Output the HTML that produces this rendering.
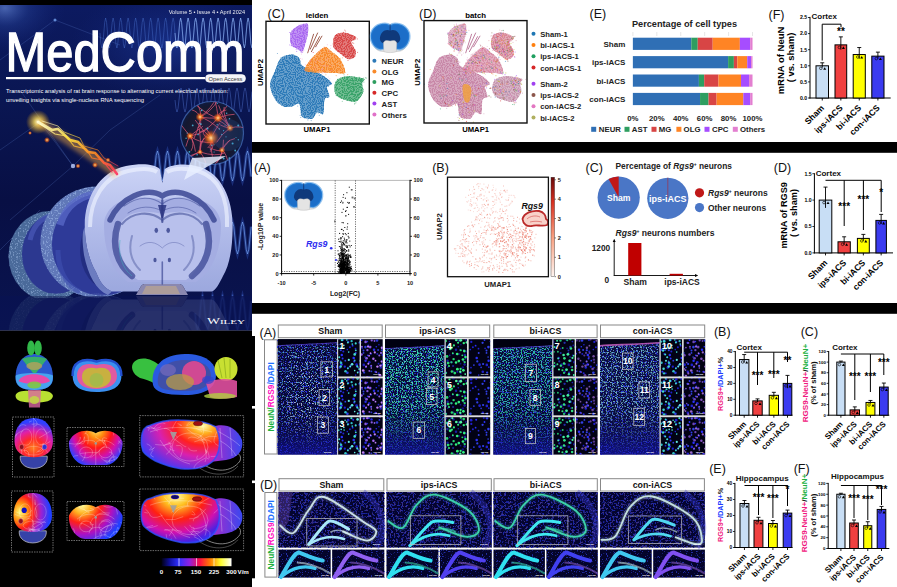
<!DOCTYPE html><html><head><meta charset="utf-8"><style>
*{margin:0;padding:0;box-sizing:border-box}
html,body{width:897px;height:587px;overflow:hidden;background:#fff;font-family:"Liberation Sans",sans-serif}
svg{position:absolute;left:0;top:0;overflow:hidden}
</style></head><body>
<svg width="897" height="587" viewBox="0 0 897 587" font-family="Liberation Sans, sans-serif">
<rect x="0" y="0" width="897" height="587" fill="#fff"/>
<rect x="0" y="0" width="252" height="5" fill="#000"/>
<defs>
<clipPath id="cvclip"><rect x="0" y="5" width="252" height="325.6"/></clipPath>
<linearGradient id="cvbg" x1="0" y1="0" x2="0" y2="1">
 <stop offset="0" stop-color="#0c1a60"/><stop offset="0.3" stop-color="#0a1652"/>
 <stop offset="0.6" stop-color="#080f44"/><stop offset="1" stop-color="#0a1450"/>
</linearGradient>
<radialGradient id="cvburst" cx="0" cy="0" r="1" gradientUnits="userSpaceOnUse" gradientTransform="translate(5,8) scale(60,45)">
 <stop offset="0" stop-color="#7aa0f0" stop-opacity="0.55"/><stop offset="0.4" stop-color="#3a60c0" stop-opacity="0.25"/><stop offset="1" stop-color="#1a3090" stop-opacity="0"/>
</radialGradient>
<radialGradient id="cvrt" cx="0" cy="0" r="1" gradientUnits="userSpaceOnUse" gradientTransform="translate(170,45) scale(100,55)">
 <stop offset="0" stop-color="#2a50c8" stop-opacity="0.4"/><stop offset="1" stop-color="#1a3090" stop-opacity="0"/>
</radialGradient>
<linearGradient id="brainG" x1="0" y1="0" x2="0" y2="1">
 <stop offset="0" stop-color="#ccd4f6"/><stop offset="0.5" stop-color="#b2bcea"/><stop offset="1" stop-color="#9ca8de"/>
</linearGradient>
<linearGradient id="slice2G" x1="0" y1="0" x2="1" y2="0">
 <stop offset="0" stop-color="#3848b0"/><stop offset="0.6" stop-color="#5a6ad0"/><stop offset="1" stop-color="#2a3a98"/>
</linearGradient>
<linearGradient id="boltG" x1="0" y1="0" x2="1" y2="1">
 <stop offset="0" stop-color="#fffbd0"/><stop offset="0.35" stop-color="#ffe040"/><stop offset="0.7" stop-color="#ff8020"/><stop offset="1" stop-color="#ff3060"/>
</linearGradient>
<radialGradient id="glowY" cx="0.5" cy="0.5" r="0.5">
 <stop offset="0" stop-color="#ffffe0" stop-opacity="1"/><stop offset="0.3" stop-color="#ffe060" stop-opacity="0.8"/><stop offset="1" stop-color="#ffb000" stop-opacity="0"/>
</radialGradient>
<radialGradient id="glowO" cx="0.5" cy="0.5" r="0.5">
 <stop offset="0" stop-color="#ffe0a0" stop-opacity="1"/><stop offset="0.4" stop-color="#ff8020" stop-opacity="0.8"/><stop offset="1" stop-color="#ff4000" stop-opacity="0"/>
</radialGradient>
<radialGradient id="neuG" cx="0.5" cy="0.5" r="0.5">
 <stop offset="0" stop-color="#2a2040"/><stop offset="0.85" stop-color="#141830"/><stop offset="1" stop-color="#101a40"/>
</radialGradient>
<clipPath id="neuclip"><circle cx="212" cy="133" r="31.5"/></clipPath>
</defs>
<g clip-path="url(#cvclip)">
<rect x="0" y="5" width="252" height="326" fill="url(#cvbg)"/>
<rect x="0" y="5" width="252" height="120" fill="url(#cvburst)"/>
<rect x="40" y="5" width="212" height="110" fill="url(#cvrt)"/>
<g stroke="#6a90e0" stroke-opacity="0.35" stroke-width="0.6" fill="none">
<line x1="0" y1="60" x2="55" y2="20"/>
<line x1="55" y1="20" x2="120" y2="45"/>
<line x1="0" y1="150" x2="40" y2="122"/>
<line x1="40" y1="122" x2="73" y2="166"/>
<line x1="73" y1="166" x2="10" y2="220"/>
<line x1="73" y1="166" x2="110" y2="130"/>
<line x1="110" y1="130" x2="160" y2="95"/>
<line x1="20" y1="90" x2="73" y2="166"/>
<line x1="0" y1="250" x2="40" y2="210"/>
</g>
<circle cx="73" cy="166" r="2.2" fill="#c0d0ff" opacity="0.8"/>
<circle cx="55" cy="20" r="1.5" fill="#80b0ff" opacity="0.7"/>
<polyline points="100.0,33.0 100.9,43.6 101.9,48.0 102.8,43.6 103.8,33.0 104.7,22.4 105.6,18.0 106.6,22.4 107.5,33.0 108.4,43.6 109.4,48.0 110.3,43.6 111.2,33.0 112.2,22.4 113.1,18.0 114.1,22.4 115.0,33.0 115.9,43.6 116.9,48.0 117.8,43.6 118.8,33.0 119.7,22.4 120.6,18.0 121.6,22.4 122.5,33.0 123.4,43.6 124.4,48.0 125.3,43.6 126.2,33.0 127.2,22.4 128.1,18.0 129.1,22.4 130.0,33.0 130.9,43.6 131.9,48.0 132.8,43.6 133.8,33.0 134.7,22.4 135.6,18.0 136.6,22.4 137.5,33.0 138.4,43.6 139.4,48.0 140.3,43.6 141.2,33.0 142.2,22.4 143.1,18.0 144.1,22.4 145.0,33.0 145.9,43.6 146.9,48.0 147.8,43.6 148.8,33.0 149.7,22.4 150.6,18.0 151.6,22.4 152.5,33.0 153.4,43.6 154.4,48.0 155.3,43.6 156.2,33.0 157.2,22.4 158.1,18.0 159.1,22.4 160.0,33.0 160.9,43.6 161.9,48.0 162.8,43.6 163.8,33.0 164.7,22.4 165.6,18.0 166.6,22.4 167.5,33.0 168.4,43.6 169.4,48.0 170.3,43.6 171.2,33.0 172.2,22.4 173.1,18.0 174.1,22.4 175.0,33.0 175.9,43.6 176.9,48.0 177.8,43.6 178.8,33.0 179.7,22.4 180.6,18.0 181.6,22.4 182.5,33.0 183.4,43.6 184.4,48.0 185.3,43.6 186.2,33.0 187.2,22.4 188.1,18.0 189.1,22.4 190.0,33.0 190.9,43.6 191.9,48.0 192.8,43.6 193.8,33.0 194.7,22.4 195.6,18.0 196.6,22.4 197.5,33.0 198.4,43.6 199.4,48.0 200.3,43.6 201.2,33.0 202.2,22.4 203.1,18.0 204.1,22.4 205.0,33.0 205.9,43.6 206.9,48.0 207.8,43.6 208.8,33.0 209.7,22.4 210.6,18.0 211.6,22.4 212.5,33.0 213.4,43.6 214.4,48.0 215.3,43.6 216.2,33.0 217.2,22.4 218.1,18.0 219.1,22.4 220.0,33.0 220.9,43.6 221.9,48.0 222.8,43.6 223.8,33.0 224.7,22.4 225.6,18.0 226.6,22.4 227.5,33.0 228.4,43.6 229.4,48.0 230.3,43.6 231.2,33.0 232.2,22.4 233.1,18.0 234.1,22.4 235.0,33.0 235.9,43.6 236.9,48.0 237.8,43.6 238.8,33.0 239.7,22.4 240.6,18.0 241.6,22.4 242.5,33.0 243.4,43.6 244.4,48.0 245.3,43.6 246.2,33.0 247.2,22.4 248.1,18.0 249.1,22.4 250.0,33.0 250.9,43.6 251.9,48.0" fill="none" stroke="#5a88e8" stroke-opacity="0.35" stroke-width="1.0"/>
<polyline points="175.0,33.0 175.9,43.6 176.9,48.0 177.8,43.6 178.8,33.0 179.7,22.4 180.6,18.0 181.6,22.4 182.5,33.0 183.4,43.6 184.4,48.0 185.3,43.6 186.2,33.0 187.2,22.4 188.1,18.0 189.1,22.4 190.0,33.0 190.9,43.6 191.9,48.0 192.8,43.6 193.8,33.0 194.7,22.4 195.6,18.0 196.6,22.4 197.5,33.0 198.4,43.6 199.4,48.0 200.3,43.6 201.2,33.0 202.2,22.4 203.1,18.0 204.1,22.4 205.0,33.0 205.9,43.6 206.9,48.0 207.8,43.6 208.8,33.0 209.7,22.4 210.6,18.0 211.6,22.4 212.5,33.0 213.4,43.6 214.4,48.0 215.3,43.6 216.2,33.0 217.2,22.4 218.1,18.0 219.1,22.4 220.0,33.0 220.9,43.6 221.9,48.0 222.8,43.6 223.8,33.0 224.7,22.4 225.6,18.0 226.6,22.4 227.5,33.0 228.4,43.6 229.4,48.0 230.3,43.6 231.2,33.0 232.2,22.4 233.1,18.0 234.1,22.4 235.0,33.0 235.9,43.6 236.9,48.0 237.8,43.6 238.8,33.0 239.7,22.4 240.6,18.0 241.6,22.4 242.5,33.0 243.4,43.6 244.4,48.0 245.3,43.6 246.2,33.0 247.2,22.4 248.1,18.0 249.1,22.4 250.0,33.0 250.9,43.6 251.9,48.0" fill="none" stroke="#a0c4ff" stroke-opacity="0.55" stroke-width="1.0"/>
<polyline points="175.0,100.0 176.0,108.5 177.0,112.0 178.0,108.5 179.0,100.0 180.0,91.5 181.0,88.0 182.0,91.5 183.0,100.0 184.0,108.5 185.0,112.0 186.0,108.5 187.0,100.0 188.0,91.5 189.0,88.0 190.0,91.5 191.0,100.0 192.0,108.5 193.0,112.0 194.0,108.5 195.0,100.0 196.0,91.5 197.0,88.0 198.0,91.5 199.0,100.0 200.0,108.5 201.0,112.0 202.0,108.5 203.0,100.0 204.0,91.5 205.0,88.0 206.0,91.5 207.0,100.0 208.0,108.5 209.0,112.0 210.0,108.5 211.0,100.0 212.0,91.5 213.0,88.0 214.0,91.5 215.0,100.0 216.0,108.5 217.0,112.0 218.0,108.5 219.0,100.0 220.0,91.5 221.0,88.0 222.0,91.5 223.0,100.0 224.0,108.5 225.0,112.0 226.0,108.5 227.0,100.0 228.0,91.5 229.0,88.0 230.0,91.5 231.0,100.0 232.0,108.5 233.0,112.0 234.0,108.5 235.0,100.0 236.0,91.5 237.0,88.0 238.0,91.5 239.0,100.0 240.0,108.5 241.0,112.0 242.0,108.5 243.0,100.0 244.0,91.5 245.0,88.0 246.0,91.5 247.0,100.0 248.0,108.5 249.0,112.0 250.0,108.5 251.0,100.0 252.0,91.5" fill="none" stroke="#5a80e0" stroke-opacity="0.4" stroke-width="1.0"/>
<polyline points="150.0,166.0 151.2,176.6 152.5,181.0 153.8,176.6 155.0,166.0 156.2,155.4 157.5,151.0 158.8,155.4 160.0,166.0 161.2,176.6 162.5,181.0 163.8,176.6 165.0,166.0 166.2,155.4 167.5,151.0 168.8,155.4 170.0,166.0 171.2,176.6 172.5,181.0 173.8,176.6 175.0,166.0 176.2,155.4 177.5,151.0 178.8,155.4 180.0,166.0 181.2,176.6 182.5,181.0 183.8,176.6 185.0,166.0 186.2,155.4 187.5,151.0 188.8,155.4 190.0,166.0 191.2,176.6 192.5,181.0 193.8,176.6 195.0,166.0 196.2,155.4 197.5,151.0 198.8,155.4 200.0,166.0 201.2,176.6 202.5,181.0 203.8,176.6 205.0,166.0 206.2,155.4 207.5,151.0 208.8,155.4 210.0,166.0 211.2,176.6 212.5,181.0 213.8,176.6 215.0,166.0 216.2,155.4 217.5,151.0 218.8,155.4 220.0,166.0 221.2,176.6 222.5,181.0 223.8,176.6 225.0,166.0 226.2,155.4 227.5,151.0 228.8,155.4 230.0,166.0 231.2,176.6 232.5,181.0 233.8,176.6 235.0,166.0 236.2,155.4 237.5,151.0 238.8,155.4 240.0,166.0 241.2,176.6 242.5,181.0 243.8,176.6 245.0,166.0 246.2,155.4 247.5,151.0 248.8,155.4 250.0,166.0 251.2,176.6" fill="none" stroke="#3a60d0" stroke-opacity="0.35" stroke-width="3.0"/>
<polyline points="150.0,166.0 151.2,176.6 152.5,181.0 153.8,176.6 155.0,166.0 156.2,155.4 157.5,151.0 158.8,155.4 160.0,166.0 161.2,176.6 162.5,181.0 163.8,176.6 165.0,166.0 166.2,155.4 167.5,151.0 168.8,155.4 170.0,166.0 171.2,176.6 172.5,181.0 173.8,176.6 175.0,166.0 176.2,155.4 177.5,151.0 178.8,155.4 180.0,166.0 181.2,176.6 182.5,181.0 183.8,176.6 185.0,166.0 186.2,155.4 187.5,151.0 188.8,155.4 190.0,166.0 191.2,176.6 192.5,181.0 193.8,176.6 195.0,166.0 196.2,155.4 197.5,151.0 198.8,155.4 200.0,166.0 201.2,176.6 202.5,181.0 203.8,176.6 205.0,166.0 206.2,155.4 207.5,151.0 208.8,155.4 210.0,166.0 211.2,176.6 212.5,181.0 213.8,176.6 215.0,166.0 216.2,155.4 217.5,151.0 218.8,155.4 220.0,166.0 221.2,176.6 222.5,181.0 223.8,176.6 225.0,166.0 226.2,155.4 227.5,151.0 228.8,155.4 230.0,166.0 231.2,176.6 232.5,181.0 233.8,176.6 235.0,166.0 236.2,155.4 237.5,151.0 238.8,155.4 240.0,166.0 241.2,176.6 242.5,181.0 243.8,176.6 245.0,166.0 246.2,155.4 247.5,151.0 248.8,155.4 250.0,166.0 251.2,176.6" fill="none" stroke="#80b0ff" stroke-opacity="0.6" stroke-width="1.0"/>
<polyline points="195.0,238.0 196.2,249.3 197.5,254.0 198.8,249.3 200.0,238.0 201.2,226.7 202.5,222.0 203.8,226.7 205.0,238.0 206.2,249.3 207.5,254.0 208.8,249.3 210.0,238.0 211.2,226.7 212.5,222.0 213.8,226.7 215.0,238.0 216.2,249.3 217.5,254.0 218.8,249.3 220.0,238.0 221.2,226.7 222.5,222.0 223.8,226.7 225.0,238.0 226.2,249.3 227.5,254.0 228.8,249.3 230.0,238.0 231.2,226.7 232.5,222.0 233.8,226.7 235.0,238.0 236.2,249.3 237.5,254.0 238.8,249.3 240.0,238.0 241.2,226.7 242.5,222.0 243.8,226.7 245.0,238.0 246.2,249.3 247.5,254.0 248.8,249.3 250.0,238.0 251.2,226.7" fill="none" stroke="#3a60d0" stroke-opacity="0.35" stroke-width="3.0"/>
<polyline points="195.0,238.0 196.2,249.3 197.5,254.0 198.8,249.3 200.0,238.0 201.2,226.7 202.5,222.0 203.8,226.7 205.0,238.0 206.2,249.3 207.5,254.0 208.8,249.3 210.0,238.0 211.2,226.7 212.5,222.0 213.8,226.7 215.0,238.0 216.2,249.3 217.5,254.0 218.8,249.3 220.0,238.0 221.2,226.7 222.5,222.0 223.8,226.7 225.0,238.0 226.2,249.3 227.5,254.0 228.8,249.3 230.0,238.0 231.2,226.7 232.5,222.0 233.8,226.7 235.0,238.0 236.2,249.3 237.5,254.0 238.8,249.3 240.0,238.0 241.2,226.7 242.5,222.0 243.8,226.7 245.0,238.0 246.2,249.3 247.5,254.0 248.8,249.3 250.0,238.0 251.2,226.7" fill="none" stroke="#80b0ff" stroke-opacity="0.6" stroke-width="1.0"/>
<polyline points="195.0,313.0 196.2,325.0 197.5,330.0 198.8,325.0 200.0,313.0 201.2,301.0 202.5,296.0 203.8,301.0 205.0,313.0 206.2,325.0 207.5,330.0 208.8,325.0 210.0,313.0 211.2,301.0 212.5,296.0 213.8,301.0 215.0,313.0 216.2,325.0 217.5,330.0 218.8,325.0 220.0,313.0 221.2,301.0 222.5,296.0 223.8,301.0 225.0,313.0 226.2,325.0 227.5,330.0 228.8,325.0 230.0,313.0 231.2,301.0 232.5,296.0 233.8,301.0 235.0,313.0 236.2,325.0 237.5,330.0 238.8,325.0 240.0,313.0 241.2,301.0 242.5,296.0 243.8,301.0 245.0,313.0 246.2,325.0 247.5,330.0 248.8,325.0 250.0,313.0 251.2,301.0" fill="none" stroke="#3a60d0" stroke-opacity="0.3" stroke-width="3.0"/>
<polyline points="195.0,313.0 196.2,325.0 197.5,330.0 198.8,325.0 200.0,313.0 201.2,301.0 202.5,296.0 203.8,301.0 205.0,313.0 206.2,325.0 207.5,330.0 208.8,325.0 210.0,313.0 211.2,301.0 212.5,296.0 213.8,301.0 215.0,313.0 216.2,325.0 217.5,330.0 218.8,325.0 220.0,313.0 221.2,301.0 222.5,296.0 223.8,301.0 225.0,313.0 226.2,325.0 227.5,330.0 228.8,325.0 230.0,313.0 231.2,301.0 232.5,296.0 233.8,301.0 235.0,313.0 236.2,325.0 237.5,330.0 238.8,325.0 240.0,313.0 241.2,301.0 242.5,296.0 243.8,301.0 245.0,313.0 246.2,325.0 247.5,330.0 248.8,325.0 250.0,313.0 251.2,301.0" fill="none" stroke="#5a88f0" stroke-opacity="0.5" stroke-width="1.1"/>
<rect x="0" y="296" width="252" height="35" fill="#0a1860" opacity="0.6"/>
<g id="brgrp">
<clipPath id="slclip"><rect x="0" y="150" width="252" height="148"/></clipPath><g clip-path="url(#slclip)">
<defs><filter id="glit" x="0" y="0" width="1" height="1" color-interpolation-filters="sRGB"><feTurbulence type="fractalNoise" baseFrequency="0.6" numOctaves="2" seed="61" result="n"/><feColorMatrix in="n" type="matrix" values="0 0 0 0 0.75  0 0 0 0 0.85  0 0 0 0 1  9 0 0 0 -5.0" result="a"/><feComposite in="a" in2="SourceGraphic" operator="in"/></filter></defs>
<ellipse cx="50" cy="256" rx="41.5" ry="45" fill="#4a6a9a"/>
<ellipse cx="50" cy="256" rx="41.5" ry="45" fill="#b0d0e0" filter="url(#glit)" opacity="0.35"/>
<ellipse cx="56" cy="254" rx="34" ry="40" fill="#2c3890"/>
<path d="M30,240 C34,222 46,214 58,216" stroke="#4a5ab8" stroke-width="5" fill="none" opacity="0.7"/>
<ellipse cx="97" cy="242" rx="56.5" ry="55.5" fill="#6078b8"/>
<ellipse cx="97" cy="242" rx="56.5" ry="55.5" fill="#c0d0f0" filter="url(#glit)" opacity="0.4"/>
<ellipse cx="102" cy="244.5" rx="50" ry="51" fill="#2e3a98"/>
<path d="M60,225 C66,204 82,194 100,194" stroke="#5a6ac8" stroke-width="7" fill="none" opacity="0.75"/>
<path d="M58,250 C58,270 66,285 80,292" stroke="#4050b0" stroke-width="5" fill="none" opacity="0.6"/>
<ellipse cx="110" cy="250" rx="30" ry="40" fill="#1a2270" opacity="0.55"/>
</g>
<path d="M84.8,227 C84,200 98,172 126,166 C142,163 154,164 159.8,169 L162.3,183 L164.8,169 C172,164 186,163 200,167 C222,174 233,200 232.6,227 C232.6,250 229,266 223,276 C219,284 216,290 212,291.5 L186,291.5 C184,288 183,285 180,284 L144,284 C141,285 140,288 138,291.5 L112,291.5 C104,288 100,282 96,272 C88,258 85,242 84.8,227 Z" fill="url(#brainG)"/>
<path d="M138,291.5 C140,288 141,285 144,284 L180,284 C183,285 184,288 186,291.5 L188,295 L136,295 Z" fill="#8a88b0"/>
<path d="M146,286 L176,286 L180,294 L142,294 Z" fill="#d8b880" opacity="0.45"/>
<path d="M84.8,227 C85,242 88,258 96,272 C100,282 104,288 112,291.5 L108,295 C96,290 88,275 84,255 C82,240 82,232 84.8,227 Z" fill="#8090d0" opacity="0.8"/>
<path d="M104,226 C104,205 126,192 162.3,200 C198,192 221,205 221,226 C221,250 212,272 196,282 L128,282 C112,272 104,250 104,226 Z" fill="#a4ade2"/>
<path d="M118,232 C120,214 138,208 162.3,214 C187,208 205,214 207,232 C207,252 198,272 186,280 L138,280 C126,272 118,252 118,232 Z" fill="#b8c0ec"/>
<path d="M90,227 C90,200 104,176 128,171 C142,168 152,169 157,172" stroke="#eef2ff" stroke-width="4" fill="none" opacity="0.65"/>
<path d="M167,172 C174,168 186,168 198,171 C220,178 228,200 227,227" stroke="#eef2ff" stroke-width="4" fill="none" opacity="0.65"/>
<g fill="none" stroke="#3c4894" stroke-linecap="round">
<path d="M110,220 C120,198 146,186 162.3,196 C178,186 204,198 214,220" stroke-width="5.5" opacity="0.85"/>
<path d="M122,224 C132,212 150,210 162.3,220 C174,210 192,212 202,224" stroke-width="2.2" opacity="0.55"/>
<path d="M124,206 C138,196 152,196 162.3,204 C172,196 186,196 200,206" stroke-width="1.2" opacity="0.55"/>
<path d="M128,213 C140,205 152,206 162.3,211 C172,206 184,205 196,213" stroke-width="1.0" opacity="0.5"/>
<path d="M118,224 C111,245 117,264 132,276" stroke-width="6.5" opacity="0.75"/>
<path d="M206,224 C213,245 207,264 192,276" stroke-width="6.5" opacity="0.75"/>
<path d="M132,236 C128,250 132,262 140,270 M192,236 C196,250 192,262 184,270" stroke-width="2" opacity="0.4"/>
<path d="M162.3,200 L162.3,222" stroke-width="2.2" opacity="0.8"/>
<path d="M162.3,262 L162.3,284" stroke-width="1.6" opacity="0.7"/>
<path d="M140,246 C148,240 156,242 162.3,248 C168,242 176,240 184,246" stroke-width="1" opacity="0.35"/>
</g>
<path d="M158,205 L166.5,205 L163,218 L161.5,218 Z" fill="#2a3480" opacity="0.85"/>
<g fill="#3a4690" opacity="0.85"><ellipse cx="156.3" cy="230.3" rx="1.8" ry="2.6"/><ellipse cx="168.2" cy="230.3" rx="1.8" ry="2.6"/><ellipse cx="155" cy="260" rx="1.6" ry="2.2"/><ellipse cx="169.4" cy="260" rx="1.6" ry="2.2"/></g>
<path d="M120,240 C118,255 122,268 132,276" stroke="#40b0c0" stroke-width="1" fill="none" opacity="0.5"/>
</g>
<g opacity="0.32"><use href="#brgrp" transform="translate(0,591) scale(1,-1)"/></g>
<rect x="0" y="296" width="252" height="35" fill="#081048" opacity="0.45"/>
<circle cx="38" cy="122" r="12" fill="url(#glowY)"/>
<defs><filter id="blur2" x="-20%" y="-20%" width="140%" height="140%"><feGaussianBlur stdDeviation="2.2"/></filter></defs>
<path d="M38,122 C60,135 80,148 117,174" stroke="#ffb040" stroke-width="9" fill="none" opacity="0.45" filter="url(#blur2)"/>
<g fill="none" stroke-linecap="round">
<path d="M38,122 L52,130 L58,129 L70,140 L78,142 L88,152 L95,153 L104,163 L110,165 L117,174" stroke="url(#boltG)" stroke-width="2.6" opacity="0.9"/>
<path d="M40,124 L55,134 L66,136 L74,146 L86,149 L92,158 L102,160 L112,172" stroke="url(#boltG)" stroke-width="1.2" opacity="0.8"/>
<path d="M42,121 L58,126 L64,132 L80,138 L84,146 L98,150 L104,158 L118,166" stroke="url(#boltG)" stroke-width="0.9" opacity="0.7"/>
</g>
<circle cx="47" cy="140" r="3" fill="url(#glowO)"/>
<circle cx="95" cy="165" r="3" fill="url(#glowO)"/>
<circle cx="108" cy="160" r="2.5" fill="url(#glowO)"/>
<circle cx="78" cy="166" r="2.5" fill="url(#glowO)"/>
<circle cx="30" cy="133" r="2" fill="url(#glowO)"/>
<circle cx="212" cy="133" r="31.5" fill="url(#neuG)"/>
<g clip-path="url(#neuclip)">
<g stroke="#e05878" stroke-opacity="0.8" stroke-width="0.9" fill="none">
<path d="M211.0,138.0 Q210.4,148.4 212.4,156.7"/>
<path d="M211.0,138.0 Q202.2,137.5 203.2,130.2"/>
<path d="M211.0,138.0 Q215.6,144.6 210.2,151.7"/>
<path d="M211.0,138.0 Q216.9,127.0 220.1,122.9"/>
<path d="M211.0,138.0 Q203.3,131.5 195.2,120.1"/>
<path d="M211.0,138.0 Q211.0,134.1 205.8,128.3"/>
<path d="M211.0,138.0 Q213.0,142.7 207.7,148.0"/>
<path d="M218.0,118.0 Q217.8,110.4 213.3,94.4"/>
<path d="M218.0,118.0 Q208.4,129.3 200.0,132.0"/>
<path d="M218.0,118.0 Q218.5,111.2 226.4,110.0"/>
<path d="M218.0,118.0 Q227.6,114.2 234.6,114.3"/>
<path d="M218.0,118.0 Q208.4,118.5 201.8,117.3"/>
<path d="M218.0,118.0 Q209.3,116.1 196.9,105.6"/>
<path d="M218.0,118.0 Q227.7,104.5 234.0,97.7"/>
<path d="M200.0,117.0 Q212.2,107.9 216.3,97.5"/>
<path d="M200.0,117.0 Q201.8,111.2 197.0,104.0"/>
<path d="M200.0,117.0 Q202.3,127.3 197.6,127.8"/>
<path d="M200.0,117.0 Q208.8,119.5 219.4,129.0"/>
<path d="M200.0,117.0 Q200.7,123.2 193.9,138.5"/>
<path d="M200.0,117.0 Q198.2,111.8 191.9,109.9"/>
<path d="M200.0,117.0 Q209.5,113.2 218.8,99.5"/>
<path d="M190.0,136.0 Q188.9,136.5 185.9,146.5"/>
<path d="M190.0,136.0 Q193.8,140.4 195.4,151.6"/>
<path d="M190.0,136.0 Q199.7,143.7 213.0,142.3"/>
<path d="M190.0,136.0 Q196.0,131.4 202.8,126.3"/>
<path d="M190.0,136.0 Q184.6,129.5 177.9,120.7"/>
<path d="M190.0,136.0 Q197.7,134.9 206.9,129.4"/>
<path d="M190.0,136.0 Q195.4,143.6 191.1,150.8"/>
<path d="M230.0,128.0 Q224.3,127.3 220.3,124.9"/>
<path d="M230.0,128.0 Q241.2,124.8 249.7,130.5"/>
<path d="M230.0,128.0 Q225.7,120.3 217.8,115.5"/>
<path d="M230.0,128.0 Q222.3,113.1 224.2,107.0"/>
<path d="M230.0,128.0 Q221.8,116.2 218.6,105.3"/>
<path d="M230.0,128.0 Q222.3,122.0 217.4,119.7"/>
<path d="M230.0,128.0 Q221.4,133.9 216.7,142.3"/>
<path d="M222.0,150.0 Q223.4,147.2 223.5,139.7"/>
<path d="M222.0,150.0 Q222.5,153.7 217.0,162.6"/>
<path d="M222.0,150.0 Q227.2,153.9 228.5,165.7"/>
<path d="M222.0,150.0 Q222.0,156.3 215.3,163.8"/>
<path d="M222.0,150.0 Q224.3,146.5 229.8,140.0"/>
<path d="M222.0,150.0 Q225.7,140.5 234.9,138.6"/>
<path d="M222.0,150.0 Q218.7,152.2 209.2,147.6"/>
<path d="M200.0,152.0 Q206.0,160.0 205.9,165.2"/>
<path d="M200.0,152.0 Q199.0,142.6 205.4,137.4"/>
<path d="M200.0,152.0 Q200.4,144.3 203.9,138.2"/>
<path d="M200.0,152.0 Q197.0,152.6 185.5,160.0"/>
<path d="M200.0,152.0 Q216.3,157.2 225.1,152.7"/>
<path d="M200.0,152.0 Q192.7,154.3 176.9,162.1"/>
<path d="M200.0,152.0 Q201.3,140.5 199.3,128.6"/>
</g>
<g fill="#50c8f0">
<circle cx="199.3" cy="123.5" r="0.6" opacity="0.8"/>
<circle cx="186.1" cy="138.3" r="0.7" opacity="0.8"/>
<circle cx="230.6" cy="105.7" r="1.0" opacity="0.8"/>
<circle cx="223.6" cy="158.4" r="1.0" opacity="0.8"/>
<circle cx="236.0" cy="137.6" r="0.5" opacity="0.8"/>
<circle cx="226.7" cy="113.3" r="0.7" opacity="0.8"/>
<circle cx="221.8" cy="134.5" r="0.7" opacity="0.8"/>
<circle cx="238.3" cy="139.7" r="0.7" opacity="0.8"/>
<circle cx="197.1" cy="154.7" r="0.8" opacity="0.8"/>
<circle cx="228.9" cy="124.1" r="0.6" opacity="0.8"/>
<circle cx="214.1" cy="152.0" r="0.6" opacity="0.8"/>
<circle cx="229.5" cy="158.3" r="1.0" opacity="0.8"/>
<circle cx="231.4" cy="103.5" r="0.9" opacity="0.8"/>
<circle cx="233.8" cy="106.0" r="0.7" opacity="0.8"/>
<circle cx="198.1" cy="134.6" r="0.8" opacity="0.8"/>
<circle cx="210.4" cy="149.6" r="0.5" opacity="0.8"/>
<circle cx="185.3" cy="110.6" r="0.6" opacity="0.8"/>
<circle cx="186.1" cy="161.5" r="1.0" opacity="0.8"/>
<circle cx="187.2" cy="133.1" r="0.7" opacity="0.8"/>
<circle cx="200.9" cy="124.1" r="0.9" opacity="0.8"/>
<circle cx="217.2" cy="124.7" r="0.6" opacity="0.8"/>
<circle cx="201.7" cy="110.4" r="0.8" opacity="0.8"/>
<circle cx="225.0" cy="125.8" r="0.5" opacity="0.8"/>
<circle cx="192.7" cy="125.4" r="0.9" opacity="0.8"/>
<circle cx="229.0" cy="125.8" r="1.0" opacity="0.8"/>
<circle cx="219.4" cy="128.9" r="0.7" opacity="0.8"/>
<circle cx="211.8" cy="145.2" r="0.8" opacity="0.8"/>
<circle cx="223.6" cy="130.7" r="0.6" opacity="0.8"/>
<circle cx="214.2" cy="144.7" r="0.5" opacity="0.8"/>
<circle cx="207.5" cy="128.6" r="1.0" opacity="0.8"/>
<circle cx="238.2" cy="125.5" r="1.0" opacity="0.8"/>
<circle cx="229.5" cy="118.7" r="0.8" opacity="0.8"/>
<circle cx="189.4" cy="151.8" r="0.9" opacity="0.8"/>
<circle cx="235.2" cy="150.5" r="0.9" opacity="0.8"/>
<circle cx="226.0" cy="136.8" r="0.6" opacity="0.8"/>
<circle cx="217.3" cy="103.3" r="0.6" opacity="0.8"/>
<circle cx="228.5" cy="105.7" r="0.6" opacity="0.8"/>
<circle cx="188.0" cy="155.8" r="0.6" opacity="0.8"/>
<circle cx="183.4" cy="153.5" r="0.6" opacity="0.8"/>
<circle cx="232.6" cy="143.4" r="1.0" opacity="0.8"/>
</g>
<circle cx="211" cy="138" r="8" fill="url(#glowO)"/>
<circle cx="218" cy="118" r="5" fill="url(#glowO)"/>
<circle cx="200" cy="117" r="4.5" fill="url(#glowO)"/>
<circle cx="190" cy="136" r="4" fill="url(#glowO)"/>
<circle cx="230" cy="128" r="4" fill="url(#glowO)"/>
<circle cx="222" cy="150" r="3.5" fill="url(#glowO)"/>
<circle cx="200" cy="152" r="3" fill="url(#glowO)"/>
<circle cx="228" cy="135" r="16" fill="#2a70c0" opacity="0.18"/>
</g>
<circle cx="212" cy="133" r="31.5" fill="none" stroke="#5080d0" stroke-width="1.2" opacity="0.6"/>
<path d="M192,158 L226,156 L184,180 Z" fill="#e8eeff" opacity="0.85"/>
<text x="245" y="14.2" font-size="5.6" fill="#fff" text-anchor="end" opacity="0.9">Volume 5 • Issue 4 • April 2024</text>
<text x="5.5" y="71.2" font-size="56" fill="#fff" stroke="#fff" stroke-width="1.3" textLength="239" lengthAdjust="spacingAndGlyphs">MedComm</text>
<rect x="6" y="77" width="199" height="2.2" fill="#fff"/>
<rect x="205.5" y="74.6" width="40" height="7.6" rx="3.8" fill="#f4f4f8" stroke="#fff" stroke-width="0.6"/>
<text x="225.5" y="80.6" font-size="6.2" fill="#333" text-anchor="middle" textLength="34" lengthAdjust="spacingAndGlyphs">Open Access</text>
<text x="6" y="93" font-size="6" fill="#fff" textLength="222" lengthAdjust="spacingAndGlyphs">Transcriptomic analysis of rat brain response to alternating current electrical stimulation:</text>
<text x="6" y="101.5" font-size="6" fill="#fff" textLength="138" lengthAdjust="spacingAndGlyphs">unveiling insights via single-nucleus RNA sequencing</text>
<text x="207" y="323.5" font-size="8.5" fill="#fff" font-family="Liberation Serif, serif" textLength="38" lengthAdjust="spacingAndGlyphs">W<tspan font-size="6.8">ILEY</tspan></text>
</g>
<rect x="0" y="330.6" width="252" height="256.4" fill="#000"/>
<rect x="251" y="336" width="4" height="242.3" fill="#000"/>
<rect x="252" y="406" width="3" height="2.6" fill="#fff"/>
<rect x="252" y="480.5" width="3" height="2.6" fill="#fff"/>
<defs>
<radialGradient id="hm_top2" cx="0" cy="0" r="1" gradientUnits="userSpaceOnUse" gradientTransform="translate(33,448) scale(30,26)">
 <stop offset="0" stop-color="#ff8020"/><stop offset="0.35" stop-color="#ff2828"/><stop offset="0.65" stop-color="#e020a8"/><stop offset="0.88" stop-color="#7030e0"/><stop offset="1" stop-color="#3040ff"/>
</radialGradient>
<radialGradient id="hm_cor2" cx="0" cy="0" r="1" gradientUnits="userSpaceOnUse" gradientTransform="translate(96,428) scale(32,40)">
 <stop offset="0" stop-color="#ffff80"/><stop offset="0.25" stop-color="#ff9010"/><stop offset="0.5" stop-color="#ff1818"/><stop offset="0.75" stop-color="#d010b0"/><stop offset="1" stop-color="#3040ff"/>
</radialGradient>
<radialGradient id="hm_sag2" cx="0" cy="0" r="1" gradientUnits="userSpaceOnUse" gradientTransform="translate(203,426) scale(72,50)">
 <stop offset="0" stop-color="#ffffb0"/><stop offset="0.15" stop-color="#ffb020"/><stop offset="0.38" stop-color="#ff2020"/><stop offset="0.62" stop-color="#d820b0"/><stop offset="0.85" stop-color="#7030e0"/><stop offset="1" stop-color="#3040ff"/>
</radialGradient>
<radialGradient id="hm_top3" cx="0" cy="0" r="1" gradientUnits="userSpaceOnUse" gradientTransform="translate(20,512) scale(30,36)">
 <stop offset="0" stop-color="#ffff70"/><stop offset="0.25" stop-color="#ff9010"/><stop offset="0.45" stop-color="#ff2018"/><stop offset="0.7" stop-color="#a020d0"/><stop offset="1" stop-color="#2040ff"/>
</radialGradient>
<radialGradient id="hm_cor3" cx="0" cy="0" r="1" gradientUnits="userSpaceOnUse" gradientTransform="translate(82,505) scale(42,40)">
 <stop offset="0" stop-color="#ffffa0"/><stop offset="0.22" stop-color="#ffb020"/><stop offset="0.45" stop-color="#ff2018"/><stop offset="0.72" stop-color="#b010c0"/><stop offset="1" stop-color="#2040ff"/>
</radialGradient>
<radialGradient id="hm_sag3" cx="0" cy="0" r="1" gradientUnits="userSpaceOnUse" gradientTransform="translate(176,496) scale(62,52)">
 <stop offset="0" stop-color="#ffffa0"/><stop offset="0.2" stop-color="#ffc020"/><stop offset="0.45" stop-color="#ff2010"/><stop offset="0.7" stop-color="#d010b0"/><stop offset="0.88" stop-color="#5020e0"/><stop offset="1" stop-color="#2040ff"/>
</radialGradient>
<linearGradient id="cereb" x1="0" y1="0" x2="1" y2="0"><stop offset="0" stop-color="#b028c8"/><stop offset="1" stop-color="#3848f0"/></linearGradient>
<linearGradient id="cbar" x1="0" y1="0" x2="1" y2="0">
 <stop offset="0" stop-color="#000010"/><stop offset="0.12" stop-color="#1010a0"/><stop offset="0.25" stop-color="#3030ff"/><stop offset="0.4" stop-color="#9020e0"/><stop offset="0.55" stop-color="#ff1040"/><stop offset="0.7" stop-color="#ff8000"/><stop offset="0.85" stop-color="#ffff30"/><stop offset="1" stop-color="#ffffff"/>
</linearGradient>
</defs>
<defs><filter id="soft" x="-10%" y="-10%" width="120%" height="120%"><feGaussianBlur stdDeviation="0.7"/></filter></defs>
<g filter="url(#soft)">
<path d="M34.3,354 C46,354 53,364 53,378 C53,386 47,390 34.3,390 C21,390 15.5,386 15.5,378 C15.5,364 22.5,354 34.3,354 Z" fill="#2a58d0"/>
<path d="M15.6,376 C16,372 52.6,372 53,376 C53,386 47,390 34.3,390 C21,390 15.5,386 15.6,376 Z" fill="#48a8f0" opacity="0.95"/>
<path d="M22,359 C28,356 41,356 47,359 L36,373 L33,373 Z" fill="#38b860" opacity="0.9"/>
<ellipse cx="31" cy="348" rx="3.8" ry="7.5" fill="#30b848"/><ellipse cx="38" cy="348" rx="3.8" ry="7.5" fill="#30b848"/>
<ellipse cx="34.3" cy="366" rx="8" ry="4" fill="#c8a058" opacity="0.7"/>
<path d="M18.5,381 C22,372 46,372 50,381 C46,385 24,385 18.5,381 Z" fill="#e84aa8"/>
<ellipse cx="34.3" cy="385" rx="7" ry="3.5" fill="#80c840" opacity="0.9"/>
<path d="M15.5,396 C16,391 24,390.5 34.3,391 C44,390.5 52,391 53,396 C52,401 46,402.5 34.3,402.5 C22,402.5 16,401 15.5,396 Z" fill="#b8e030"/>
<path d="M28,390 L41,390 L40,407.5 L29,407.5 Z" fill="#d868a0" opacity="0.8"/>
<ellipse cx="34.3" cy="400" rx="5" ry="4" fill="#c0e040" opacity="0.8"/>
</g>
<g filter="url(#soft)">
<path d="M72.6,376 C72,362 82,357.5 96.5,361.5 C111,357.5 121.5,362 121.4,376 C121.4,387 112,392 96.5,392 C81,392 72.6,387 72.6,376 Z" fill="#3a90f0"/>
<path d="M72.6,376 C72,362 82,357.5 96.5,361.5 C111,357.5 121.5,362 121.4,376" fill="none" stroke="#2050d0" stroke-width="2.5"/>
<path d="M77,376 C77,365 86,362 96.5,365 C107,362 117,365 117,376 C117,385 108,389 96.5,389 C85,389 77,385 77,376 Z" fill="#e05aa0"/>
<path d="M82,377 C82,369 89,366.5 96.5,368.5 C104,366.5 111,369 111,377 C111,384 104,388 96.5,388 C89,388 82,384 82,377 Z" fill="#c8b040"/>
<ellipse cx="96.5" cy="380" rx="7" ry="7" fill="#90c050" opacity="0.6"/>
</g>
<g filter="url(#soft)">
<path d="M134,362 C140,356 152,358 160,366 C166,372 172,382 176,392 L170,394 C160,386 150,380 140,378 C132,374 130,366 134,362 Z" fill="#38c040"/>
<path d="M153,385 C150,368 162,354 185,354 C205,354 216,362 216,375 C216,388 205,395 185,395 C165,395 155,392 153,385 Z" fill="#2a5ae0"/>
<path d="M158,384 C156,370 166,360 185,360 C202,360 211,366 211,376 C211,386 202,391 185,391 C167,391 159,389 158,384 Z" fill="#4050a8"/>
<circle cx="194" cy="373" r="12" fill="#e04890" opacity="0.9"/>
<ellipse cx="180" cy="382" rx="14" ry="8" fill="#c0a040" opacity="0.7"/>
<ellipse cx="168" cy="370" rx="8" ry="6" fill="#8070c0" opacity="0.6"/>
<ellipse cx="226" cy="369" rx="11.5" ry="12" fill="#c8e030"/>
<path d="M218,360 L222,378 M224,358 L226,378 M230,359 L230,378" stroke="#90b020" stroke-width="0.8"/>
<path d="M206,383 C215,378 230,378 237,381 L237,397 C228,399 215,399 210,397 Z" fill="#e050a0" opacity="0.9"/>
<ellipse cx="220" cy="396" rx="16" ry="3" fill="#b0d040" opacity="0.8"/>
<ellipse cx="208" cy="380" rx="6" ry="4" fill="#3040d0" opacity="0.7"/>
</g>
<rect x="12.5" y="417" width="41.5" height="60" fill="none" stroke="#9a9a9a" stroke-width="0.7" stroke-dasharray="1.5,1"/>
<path d="M20.275,456.15 C18.35,472.5 49.15,472.5 47.225,456.15 Z" fill="#4858e0" fill-opacity="0.75" stroke="#d0d0d0" stroke-width="0.7"/>
<path d="M33.75,418 C22.2,418 14.5,426.175 14.5,440.89 C14.5,451.79 22.2,457.24 33.75,457.24 C45.3,457.24 53,451.79 53,440.89 C53,426.175 45.3,418 33.75,418 Z" fill="url(#hm_top2)"/>
<clipPath id="atl1"><path d="M33.75,418 C22.2,418 14.5,426.175 14.5,440.89 C14.5,451.79 22.2,457.24 33.75,457.24 C45.3,457.24 53,451.79 53,440.89 C53,426.175 45.3,418 33.75,418 Z"/></clipPath><g clip-path="url(#atl1)" fill="none" stroke="#ffffff" stroke-width="0.45" stroke-opacity="0.55"><path d="M37.7,419.5 Q42.2,416.1 31.6,410.6"/><path d="M37.8,451.3 Q44.4,452.5 43.2,442.8"/><path d="M15.2,466.3 Q14.6,467.1 12.0,461.5"/><path d="M50.2,423.3 Q44.5,419.2 46.2,419.2"/><path d="M26.2,425.6 Q21.2,423.1 19.1,427.2"/><path d="M46.6,433.1 Q41.6,421.5 31.7,424.3"/><path d="M34.0,426.4 Q40.8,424.9 33.0,417.9"/><path d="M36.5,452.4 Q43.8,448.1 43.1,443.4"/><path d="M46.0,450.1 Q45.6,450.5 51.9,456.6"/><path d="M20.3,458.8 Q11.9,459.6 8.1,452.3"/><path d="M30.1,472.2 Q25.5,462.0 32.3,467.4"/><path d="M23.2,451.6 Q21.7,449.1 19.1,450.0"/><path d="M19.8,419.7 Q19.9,411.8 12.9,412.9"/><path d="M40.3,444.4 Q45.1,445.8 50.3,441.4"/><path d="M31.8,421.0 Q28.5,421.6 29.5,422.4"/><path d="M51.4,419.0 Q49.1,411.3 38.9,415.8"/><path d="M24.7,460.3 Q22.4,459.1 26.8,470.3"/><path d="M16.5,433.8 Q18.5,433.4 9.8,444.8"/><path d="M23.6,450.5 Q30.9,448.9 28.4,461.6"/><path d="M19.7,455.6 Q22.8,457.1 21.2,448.3"/><path d="M23.4,430.4 Q14.2,433.9 12.6,440.3"/><path d="M38.9,438.0 Q45.4,434.6 53.9,428.8"/></g>
<g fill="none" stroke="#fff" stroke-opacity="0.45" stroke-width="0.5"><path d="M33.75,418 L33.75,457.24"/><ellipse cx="26.05" cy="437.075" rx="5.7749999999999995" ry="8.174999999999999"/><ellipse cx="41.45" cy="437.075" rx="5.7749999999999995" ry="8.174999999999999"/><ellipse cx="33.75" cy="450.7" rx="9.625" ry="4.36"/></g>
<ellipse cx="21.6" cy="447" rx="2.3" ry="2.6" fill="#901020" stroke="#f0a0a0" stroke-width="0.4"/><ellipse cx="44.6" cy="447" rx="2.3" ry="2.6" fill="#3030d0" stroke="#a0a0ff" stroke-width="0.4"/>
<rect x="67" y="427.5" width="57" height="39.0" fill="none" stroke="#9a9a9a" stroke-width="0.7" stroke-dasharray="1.5,1"/>
<path d="M95.75,433.32 C90.4,429 74.35,429 69,441.6 C68,454.2 77.025,465 85.05,465 L106.45,465 C114.475,465 123.5,454.2 122.5,441.6 C117.15,429 101.1,429 95.75,433.32 Z" fill="url(#hm_cor2)"/>
<clipPath id="atl2"><path d="M95.75,433.32 C90.4,429 74.35,429 69,441.6 C68,454.2 77.025,465 85.05,465 L106.45,465 C114.475,465 123.5,454.2 122.5,441.6 C117.15,429 101.1,429 95.75,433.32 Z"/></clipPath><g clip-path="url(#atl2)" fill="none" stroke="#ffffff" stroke-width="0.45" stroke-opacity="0.55"><path d="M85.1,433.3 Q89.9,433.3 87.7,444.3"/><path d="M108.8,452.2 Q113.8,451.0 114.3,460.6"/><path d="M100.8,457.5 Q108.8,465.1 106.7,461.2"/><path d="M113.4,456.0 Q108.5,458.0 109.7,463.0"/><path d="M118.0,440.7 Q123.6,446.4 127.9,448.1"/><path d="M118.0,443.9 Q123.9,434.3 128.7,440.0"/><path d="M104.4,460.4 Q111.4,463.6 122.4,454.2"/><path d="M74.9,446.9 Q83.8,435.0 79.1,438.1"/><path d="M84.5,434.2 Q94.0,422.0 97.4,423.7"/><path d="M117.3,457.4 Q112.1,454.7 107.1,463.5"/><path d="M89.6,432.3 Q94.0,429.8 107.5,423.4"/><path d="M113.7,435.4 Q112.0,428.0 121.1,435.3"/><path d="M104.1,444.8 Q99.6,435.2 107.1,438.5"/><path d="M79.0,443.4 Q86.1,445.9 84.6,437.0"/><path d="M78.1,455.5 Q69.7,455.1 72.4,464.9"/><path d="M105.7,445.6 Q104.1,437.0 104.4,442.2"/><path d="M82.4,461.0 Q85.4,458.0 85.6,452.3"/><path d="M97.7,452.7 Q88.8,452.0 80.4,453.5"/><path d="M106.7,447.9 Q107.2,443.6 95.1,436.9"/><path d="M84.5,436.5 Q83.7,446.6 67.7,443.3"/><path d="M120.5,458.7 Q128.1,448.6 136.8,448.1"/><path d="M77.8,431.0 Q70.5,422.8 65.9,429.5"/><path d="M118.8,447.9 Q119.7,456.6 125.5,457.0"/><path d="M90.2,457.3 Q91.3,458.2 105.2,445.5"/></g>
<g fill="none" stroke="#fff" stroke-opacity="0.5" stroke-width="0.5"><path d="M77.025,445.2 C85.05,438.0 95.75,439.8 95.75,443.4 C95.75,439.8 106.45,438.0 114.475,445.2"/><path d="M95.75,443.4 L95.75,465"/><ellipse cx="86.12" cy="452.4" rx="6.42" ry="5.3999999999999995"/><ellipse cx="105.38" cy="452.4" rx="6.42" ry="5.3999999999999995"/></g>
<circle cx="95.75" cy="443.4" r="1.2" fill="#90a0a0"/>
<rect x="139.7" y="415.6" width="103.9" height="61.299999999999955" fill="none" stroke="#9a9a9a" stroke-width="0.7" stroke-dasharray="1.5,1"/>
<path d="M200.0,462.0 C215.0,474.0 232.0,472.0 240.0,461.0 C242.0,455.0 238.0,452.0 232.0,452.0" fill="none" stroke="#b8b8b8" stroke-width="0.7"/>
<path d="M196.0,465.0 C210.0,478.0 230.0,476.0 238.0,466.0" fill="none" stroke="#909090" stroke-width="0.5"/>
<path d="M212.0,427.0 C222.0,423.0 236.0,425.0 242.0,440.0 C244.0,450.0 238.0,458.0 226.0,460.0 L210.0,462.0 Z" fill="url(#cereb)"/>
<g fill="none" stroke="#fff" stroke-opacity="0.55" stroke-width="0.5"><path d="M216.0,430.0 C226.0,436.0 234.0,440.0 240.0,446.0"/><path d="M214.0,438.0 C224.0,442.0 232.0,448.0 236.0,456.0"/><path d="M220.0,428.0 L222.0,458.0"/><path d="M230.0,428.0 L232.0,456.0"/></g>
<path d="M141.5,438.0 C142.0,430.0 146.0,426.0 150.4,425.3 C160.0,421.0 172.0,420.0 181.0,420.2 C195.0,420.0 208.0,422.0 216.0,427.0 C222.0,440.0 220.0,455.0 212.0,462.0 C205.0,468.0 195.0,470.0 181.0,468.7 C170.0,467.0 162.0,464.0 155.5,461.0 C148.0,457.0 142.8,452.0 142.8,450.8 C141.0,446.0 141.0,441.0 141.5,438.0 Z" fill="url(#hm_sag2)"/>
<clipPath id="atl3"><path d="M141.5,438.0 C142.0,430.0 146.0,426.0 150.4,425.3 C160.0,421.0 172.0,420.0 181.0,420.2 C195.0,420.0 208.0,422.0 216.0,427.0 C222.0,440.0 220.0,455.0 212.0,462.0 C205.0,468.0 195.0,470.0 181.0,468.7 C170.0,467.0 162.0,464.0 155.5,461.0 C148.0,457.0 142.8,452.0 142.8,450.8 C141.0,446.0 141.0,441.0 141.5,438.0 Z"/></clipPath><g clip-path="url(#atl3)" fill="none" stroke="#ffffff" stroke-width="0.45" stroke-opacity="0.55"><path d="M206.5,457.9 Q211.3,461.8 207.7,451.2"/><path d="M168.7,441.9 Q168.9,445.5 173.2,438.6"/><path d="M153.3,429.0 Q159.4,420.6 165.3,423.6"/><path d="M153.2,450.1 Q148.0,455.6 153.7,457.0"/><path d="M193.8,469.3 Q193.3,463.8 205.3,458.1"/><path d="M148.4,430.7 Q151.4,425.5 142.9,426.9"/><path d="M144.4,427.1 Q158.7,429.8 160.9,426.5"/><path d="M173.9,438.7 Q187.4,449.1 185.9,446.3"/><path d="M172.5,428.4 Q172.8,426.4 177.2,419.9"/><path d="M163.4,445.8 Q172.0,440.5 171.1,447.5"/><path d="M180.4,456.9 Q186.1,443.6 176.2,445.6"/><path d="M224.7,441.6 Q222.9,440.6 232.4,443.6"/><path d="M191.8,423.0 Q182.8,428.7 189.7,421.9"/><path d="M214.8,443.4 Q227.4,452.7 226.1,446.9"/><path d="M211.6,442.1 Q206.6,437.3 194.3,441.8"/><path d="M197.8,455.5 Q195.6,459.2 197.6,458.7"/><path d="M165.3,420.1 Q168.2,414.9 168.3,421.7"/><path d="M196.0,422.1 Q194.4,428.5 193.9,426.6"/><path d="M237.1,424.0 Q239.8,426.3 245.9,424.5"/><path d="M179.6,425.2 Q184.7,426.4 177.6,423.5"/><path d="M210.7,456.5 Q222.4,454.7 218.6,464.8"/><path d="M185.6,427.7 Q197.0,426.2 202.1,432.2"/><path d="M169.9,445.6 Q173.3,449.0 166.2,454.3"/><path d="M146.7,443.8 Q154.8,447.0 149.1,450.1"/><path d="M214.0,425.6 Q222.6,422.0 231.3,432.9"/><path d="M205.1,443.1 Q193.6,434.1 187.9,438.3"/><path d="M215.1,443.2 Q212.1,442.4 216.8,431.6"/><path d="M234.9,437.7 Q228.7,428.9 230.8,428.2"/><path d="M158.0,431.1 Q159.6,432.3 145.7,423.6"/><path d="M236.2,436.7 Q233.5,425.1 238.9,426.3"/><path d="M203.1,438.8 Q209.0,434.9 216.7,436.6"/><path d="M151.9,449.8 Q157.6,445.2 150.6,450.3"/><path d="M145.4,466.3 Q138.7,453.6 135.3,456.9"/><path d="M231.4,431.5 Q232.7,434.0 228.0,431.4"/><path d="M177.5,468.8 Q169.7,477.4 177.7,473.9"/><path d="M219.8,448.8 Q223.9,436.2 218.6,438.5"/><path d="M174.6,450.8 Q167.8,448.8 170.2,448.4"/><path d="M190.2,470.0 Q199.2,467.2 204.4,465.9"/><path d="M238.4,424.6 Q230.6,431.7 229.9,423.6"/><path d="M205.2,448.8 Q206.5,457.3 206.5,449.8"/><path d="M197.0,450.7 Q189.8,451.9 188.4,447.6"/><path d="M204.4,440.6 Q193.9,434.7 187.3,429.3"/><path d="M164.1,428.5 Q166.8,426.4 177.7,437.3"/><path d="M171.8,443.2 Q164.3,446.7 155.2,444.5"/><path d="M202.7,425.6 Q206.3,434.9 197.9,437.6"/></g>
<path d="M141.5,438.0 C142.0,430.0 146.0,426.0 150.4,425.3 C160.0,421.0 172.0,420.0 181.0,420.2 C195.0,420.0 208.0,422.0 216.0,427.0 C222.0,440.0 220.0,455.0 212.0,462.0 C205.0,468.0 195.0,470.0 181.0,468.7 C170.0,467.0 162.0,464.0 155.5,461.0 C148.0,457.0 142.8,452.0 142.8,450.8 C141.0,446.0 141.0,441.0 141.5,438.0 Z" fill="none" stroke="#3050ff" stroke-width="1.6" opacity="0.8"/>
<g fill="none" stroke="#fff" stroke-opacity="0.5" stroke-width="0.5"><ellipse cx="190.0" cy="447.0" rx="18.0" ry="14.0"/><path d="M150.0,432.0 C165.0,426.0 190.0,426.0 212.0,432.0"/><path d="M160.0,440.0 C168.0,452.0 175.0,460.0 190.0,464.0"/><path d="M200.0,435.0 C205.0,445.0 208.0,455.0 205.0,462.0"/></g>
<path d="M170.0,432.0 L177.0,432.0 L173.4,440.0 Z" fill="#a0a0a0" opacity="0.9"/>
<ellipse cx="198" cy="423.5" rx="4.5" ry="2.2" fill="#a01010" stroke="#400" stroke-width="0.5"/>
<rect x="11.5" y="491" width="41.5" height="61" fill="none" stroke="#9a9a9a" stroke-width="0.7" stroke-dasharray="1.5,1"/>
<path d="M19.275,530.8 C17.35,547 48.15,547 46.225,530.8 Z" fill="#4858e0" fill-opacity="0.75" stroke="#d0d0d0" stroke-width="0.7"/>
<path d="M32.75,493 C21.2,493 13.5,501.1 13.5,515.68 C13.5,526.48 21.2,531.88 32.75,531.88 C44.3,531.88 52,526.48 52,515.68 C52,501.1 44.3,493 32.75,493 Z" fill="url(#hm_top3)"/>
<clipPath id="atl4"><path d="M32.75,493 C21.2,493 13.5,501.1 13.5,515.68 C13.5,526.48 21.2,531.88 32.75,531.88 C44.3,531.88 52,526.48 52,515.68 C52,501.1 44.3,493 32.75,493 Z"/></clipPath><g clip-path="url(#atl4)" fill="none" stroke="#ffffff" stroke-width="0.45" stroke-opacity="0.55"><path d="M47.8,535.6 Q54.2,541.3 55.7,546.8"/><path d="M30.5,529.2 Q44.7,537.6 48.2,534.1"/><path d="M39.5,530.5 Q28.1,528.1 26.5,534.0"/><path d="M46.0,538.3 Q37.7,530.3 29.2,528.0"/><path d="M31.6,515.0 Q26.2,519.4 14.7,514.4"/><path d="M15.6,511.7 Q27.9,518.2 31.8,510.1"/><path d="M47.2,531.7 Q40.6,531.7 33.2,535.2"/><path d="M21.7,496.7 Q13.0,493.9 10.7,502.9"/><path d="M50.4,521.8 Q48.7,533.2 57.3,531.4"/><path d="M45.3,520.9 Q33.3,528.3 28.2,531.2"/><path d="M28.9,545.1 Q17.2,550.0 14.8,541.9"/><path d="M50.4,535.5 Q50.6,537.8 46.7,543.8"/><path d="M37.7,530.3 Q42.4,530.2 37.6,529.6"/><path d="M34.8,502.4 Q35.8,509.0 34.9,499.7"/><path d="M28.6,536.2 Q35.4,539.2 28.4,527.3"/><path d="M51.7,519.6 Q65.8,520.7 68.2,511.1"/><path d="M33.7,524.4 Q34.1,516.2 20.2,518.6"/><path d="M30.7,497.3 Q24.3,497.7 33.6,486.5"/><path d="M36.6,517.0 Q37.6,515.6 35.4,507.7"/><path d="M33.4,534.2 Q35.1,524.1 32.9,527.0"/><path d="M46.0,522.6 Q35.5,520.1 31.9,526.6"/><path d="M37.0,497.4 Q27.5,486.0 25.5,488.3"/></g>
<g fill="none" stroke="#fff" stroke-opacity="0.45" stroke-width="0.5"><path d="M32.75,493 L32.75,531.88"/><ellipse cx="25.05" cy="511.9" rx="5.7749999999999995" ry="8.1"/><ellipse cx="40.45" cy="511.9" rx="5.7749999999999995" ry="8.1"/><ellipse cx="32.75" cy="525.4" rx="9.625" ry="4.32"/></g>
<ellipse cx="24.2" cy="510.2" rx="2.6" ry="2.8" fill="#1010c0"/><ellipse cx="20.8" cy="521.2" rx="2.3" ry="2.6" fill="#901020" stroke="#f0a0a0" stroke-width="0.4"/>
<rect x="67" y="501.5" width="57" height="39.0" fill="none" stroke="#9a9a9a" stroke-width="0.7" stroke-dasharray="1.5,1"/>
<path d="M95.75,507.32 C90.4,503 74.35,503 69,515.6 C68,528.2 77.025,539 85.05,539 L106.45,539 C114.475,539 123.5,528.2 122.5,515.6 C117.15,503 101.1,503 95.75,507.32 Z" fill="url(#hm_cor3)"/>
<clipPath id="atl5"><path d="M95.75,507.32 C90.4,503 74.35,503 69,515.6 C68,528.2 77.025,539 85.05,539 L106.45,539 C114.475,539 123.5,528.2 122.5,515.6 C117.15,503 101.1,503 95.75,507.32 Z"/></clipPath><g clip-path="url(#atl5)" fill="none" stroke="#ffffff" stroke-width="0.45" stroke-opacity="0.55"><path d="M113.9,531.3 Q111.7,536.5 124.9,541.1"/><path d="M70.0,537.0 Q77.3,533.2 72.9,528.2"/><path d="M99.6,534.6 Q100.8,526.0 111.8,525.2"/><path d="M119.4,532.6 Q115.2,528.4 109.5,537.7"/><path d="M94.2,518.4 Q96.7,511.3 109.8,513.1"/><path d="M106.5,534.2 Q92.8,536.3 91.4,542.4"/><path d="M93.3,517.8 Q86.9,526.8 93.8,524.5"/><path d="M101.5,527.7 Q89.6,525.6 89.0,533.4"/><path d="M101.1,521.4 Q110.1,516.2 113.8,525.7"/><path d="M96.3,506.1 Q109.4,517.9 108.6,514.1"/><path d="M93.6,509.6 Q79.0,512.5 79.4,520.9"/><path d="M117.9,524.2 Q113.5,521.2 100.4,529.9"/><path d="M76.1,535.3 Q73.8,538.8 66.8,527.8"/><path d="M90.2,508.6 Q97.6,507.4 98.9,507.2"/><path d="M105.3,535.2 Q114.1,540.0 118.9,539.4"/><path d="M118.1,503.8 Q109.2,509.2 103.6,506.1"/><path d="M92.3,529.0 Q78.9,520.3 81.3,524.6"/><path d="M116.2,533.2 Q118.0,523.6 118.5,529.3"/><path d="M120.4,522.5 Q123.1,525.5 133.2,520.1"/><path d="M94.0,509.5 Q86.2,513.4 76.4,505.3"/><path d="M101.2,532.1 Q102.3,538.6 96.2,539.4"/><path d="M108.2,525.6 Q102.9,536.6 105.5,536.2"/><path d="M88.6,511.3 Q90.8,515.2 83.5,508.9"/><path d="M114.8,504.1 Q117.9,513.4 117.3,514.5"/></g>
<g fill="none" stroke="#fff" stroke-opacity="0.5" stroke-width="0.5"><path d="M77.025,519.2 C85.05,512.0 95.75,513.8 95.75,517.4 C95.75,513.8 106.45,512.0 114.475,519.2"/><path d="M95.75,517.4 L95.75,539"/><ellipse cx="86.12" cy="526.4" rx="6.42" ry="5.3999999999999995"/><ellipse cx="105.38" cy="526.4" rx="6.42" ry="5.3999999999999995"/></g>
<circle cx="95.75" cy="517.4" r="1.2" fill="#90a0a0"/>
<rect x="139.7" y="489" width="103.9" height="61.60000000000002" fill="none" stroke="#9a9a9a" stroke-width="0.7" stroke-dasharray="1.5,1"/>
<path d="M200.0,535.6 C215.0,547.7 232.0,545.7 240.0,534.6 C242.0,528.5 238.0,525.4 232.0,525.4" fill="none" stroke="#b8b8b8" stroke-width="0.7"/>
<path d="M196.0,538.6 C210.0,551.8 230.0,549.8 238.0,539.6" fill="none" stroke="#909090" stroke-width="0.5"/>
<path d="M212.0,500.1 C222.0,496.0 236.0,498.1 242.0,513.3 C244.0,523.4 238.0,531.5 226.0,533.5 L210.0,535.6 Z" fill="url(#cereb)"/>
<g fill="none" stroke="#fff" stroke-opacity="0.55" stroke-width="0.5"><path d="M216.0,503.1 C226.0,509.2 234.0,513.3 240.0,519.4"/><path d="M214.0,511.2 C224.0,515.3 232.0,521.4 236.0,529.5"/><path d="M220.0,501.1 L222.0,531.5"/><path d="M230.0,501.1 L232.0,529.5"/></g>
<path d="M141.5,511.2 C142.0,503.1 146.0,499.1 150.4,498.4 C160.0,494.0 172.0,493.0 181.0,493.2 C195.0,493.0 208.0,495.0 216.0,500.1 C222.0,513.3 220.0,528.5 212.0,535.6 C205.0,541.7 195.0,543.7 181.0,542.4 C170.0,540.6 162.0,537.6 155.5,534.6 C148.0,530.5 142.8,525.4 142.8,524.2 C141.0,519.4 141.0,514.3 141.5,511.2 Z" fill="url(#hm_sag3)"/>
<clipPath id="atl6"><path d="M141.5,511.2 C142.0,503.1 146.0,499.1 150.4,498.4 C160.0,494.0 172.0,493.0 181.0,493.2 C195.0,493.0 208.0,495.0 216.0,500.1 C222.0,513.3 220.0,528.5 212.0,535.6 C205.0,541.7 195.0,543.7 181.0,542.4 C170.0,540.6 162.0,537.6 155.5,534.6 C148.0,530.5 142.8,525.4 142.8,524.2 C141.0,519.4 141.0,514.3 141.5,511.2 Z"/></clipPath><g clip-path="url(#atl6)" fill="none" stroke="#ffffff" stroke-width="0.45" stroke-opacity="0.55"><path d="M228.0,520.2 Q228.2,528.0 242.8,531.0"/><path d="M225.6,513.1 Q231.6,509.7 229.1,510.1"/><path d="M173.1,544.4 Q172.0,552.7 167.2,546.8"/><path d="M176.0,538.7 Q171.0,529.0 164.8,529.5"/><path d="M168.4,504.4 Q170.1,496.4 184.1,498.4"/><path d="M165.8,519.4 Q175.5,521.0 183.2,516.6"/><path d="M229.4,517.9 Q234.0,521.3 245.5,522.2"/><path d="M190.4,531.7 Q196.6,531.5 192.8,526.9"/><path d="M172.0,538.9 Q166.1,542.2 166.2,534.1"/><path d="M218.9,504.6 Q225.7,502.9 227.3,503.1"/><path d="M231.4,523.2 Q237.1,512.3 229.7,513.9"/><path d="M157.7,525.5 Q148.1,529.4 140.6,527.3"/><path d="M194.0,521.2 Q190.6,519.6 198.8,516.7"/><path d="M153.1,525.3 Q138.0,530.4 137.8,527.8"/><path d="M148.4,543.9 Q141.2,543.7 130.9,547.4"/><path d="M194.0,536.7 Q204.6,541.4 204.0,545.8"/><path d="M145.5,509.3 Q152.4,514.5 144.3,512.4"/><path d="M213.7,513.3 Q221.1,507.5 221.8,503.8"/><path d="M143.2,500.6 Q142.8,505.7 146.2,506.1"/><path d="M189.5,524.9 Q192.4,532.5 207.1,524.8"/><path d="M163.9,530.1 Q178.8,529.4 181.8,531.7"/><path d="M192.3,511.2 Q198.3,516.6 191.5,514.3"/><path d="M149.1,513.0 Q150.3,520.6 162.6,515.5"/><path d="M189.2,518.8 Q196.7,519.9 205.9,508.8"/><path d="M203.7,528.8 Q213.9,531.1 208.1,539.3"/><path d="M231.5,534.9 Q241.2,526.3 237.4,532.8"/><path d="M191.2,534.5 Q191.6,530.4 199.4,531.8"/><path d="M215.7,530.9 Q214.7,535.6 217.2,540.1"/><path d="M189.3,505.8 Q178.5,505.2 171.5,512.3"/><path d="M155.1,499.4 Q152.7,491.8 140.0,490.6"/><path d="M239.3,508.3 Q232.9,504.3 233.2,497.0"/><path d="M172.9,528.7 Q172.3,531.3 169.2,535.9"/><path d="M181.9,493.8 Q178.8,490.0 180.9,489.2"/><path d="M198.1,500.9 Q186.6,497.6 187.3,505.9"/><path d="M198.6,504.5 Q212.5,494.8 214.2,496.5"/><path d="M223.6,520.2 Q228.4,513.4 241.5,514.3"/><path d="M237.3,525.2 Q235.0,526.7 219.6,516.7"/><path d="M216.7,545.0 Q217.0,550.3 202.7,555.2"/><path d="M203.3,540.4 Q193.5,530.1 191.3,529.2"/><path d="M220.9,494.6 Q220.9,502.6 224.3,505.4"/><path d="M164.2,496.7 Q170.7,504.2 173.8,508.2"/><path d="M198.9,540.8 Q198.5,540.6 207.9,539.6"/><path d="M196.3,535.5 Q193.8,537.5 184.6,526.3"/><path d="M222.5,503.3 Q222.7,510.0 223.2,513.3"/><path d="M232.3,535.8 Q239.7,527.5 243.5,526.9"/></g>
<path d="M141.5,511.2 C142.0,503.1 146.0,499.1 150.4,498.4 C160.0,494.0 172.0,493.0 181.0,493.2 C195.0,493.0 208.0,495.0 216.0,500.1 C222.0,513.3 220.0,528.5 212.0,535.6 C205.0,541.7 195.0,543.7 181.0,542.4 C170.0,540.6 162.0,537.6 155.5,534.6 C148.0,530.5 142.8,525.4 142.8,524.2 C141.0,519.4 141.0,514.3 141.5,511.2 Z" fill="none" stroke="#3050ff" stroke-width="1.6" opacity="0.8"/>
<g fill="none" stroke="#fff" stroke-opacity="0.5" stroke-width="0.5"><ellipse cx="190.0" cy="520.4" rx="18.0" ry="14.2"/><path d="M150.0,505.2 C165.0,499.1 190.0,499.1 212.0,505.2"/><path d="M160.0,513.3 C168.0,525.4 175.0,533.5 190.0,537.6"/><path d="M200.0,508.2 C205.0,518.3 208.0,528.5 205.0,535.6"/></g>
<path d="M170.0,505.2 L177.0,505.2 L173.4,513.3 Z" fill="#a0a0a0" opacity="0.9"/>
<ellipse cx="175" cy="497" rx="4" ry="2" fill="#101060" stroke="#40f" stroke-width="0.4"/><ellipse cx="197" cy="499" rx="4.5" ry="2.2" fill="#a01010" stroke="#400" stroke-width="0.5"/>
<rect x="161.5" y="558.2" width="70" height="8" fill="url(#cbar)"/>
<rect x="178.6" y="558.2" width="0.8" height="8" fill="#fff" opacity="0.8"/>
<rect x="196.1" y="558.2" width="0.8" height="8" fill="#fff" opacity="0.8"/>
<rect x="213.6" y="558.2" width="0.8" height="8" fill="#fff" opacity="0.8"/>
<g font-size="6.2" fill="#fff" font-weight="bold" text-anchor="middle">
<text x="161.5" y="574">0</text>
<text x="178" y="574">75</text>
<text x="196" y="574">150</text>
<text x="214" y="574">225</text>
<text x="231.5" y="574">300</text>
<text x="237.5" y="574" text-anchor="start">V/m</text>
</g>
<defs><filter id="umapSp" x="0" y="0" width="1" height="1" color-interpolation-filters="sRGB"><feTurbulence type="fractalNoise" baseFrequency="0.9" numOctaves="1" seed="41" result="n"/><feColorMatrix in="n" type="matrix" values="0 0 0 0 0  0 0 0 0 0  0 0 0 0 0  12 0 0 0 -5.6" result="a"/><feComposite in="SourceGraphic" in2="a" operator="in"/></filter></defs>
<text x="267.50" y="17.80" font-size="12.5" fill="#111">(C)</text>
<text x="317.00" y="17.60" font-size="7.8" font-weight="bold" text-anchor="middle" fill="#000" >leiden</text>
<path d="M275.0,71.3 C276.8,66.9 278.2,60.9 281.0,58.0 C283.8,55.2 288.9,54.4 291.9,54.4 C294.9,54.4 297.5,56.2 299.2,58.0 C300.8,59.9 300.0,63.5 301.6,65.3 C303.2,67.1 305.4,67.3 308.8,68.9 C312.3,70.5 318.3,72.6 322.1,75.0 C326.0,77.4 331.0,81.4 331.8,83.4 C332.6,85.4 327.4,84.8 327.0,87.1 C326.6,89.3 329.8,94.7 329.4,96.7 C329.0,98.8 325.6,96.3 324.6,99.2 C323.5,102.0 324.6,111.4 323.3,113.7 C322.1,115.9 319.1,111.6 317.3,112.5 C315.5,113.3 314.3,117.5 312.5,118.5 C310.6,119.5 308.2,118.9 306.4,118.5 C304.6,118.1 302.8,118.5 301.6,116.1 C300.4,113.7 300.8,105.6 299.2,104.0 C297.5,102.4 294.5,106.0 291.9,106.4 C289.3,106.8 286.3,107.6 283.4,106.4 C280.6,105.2 277.2,102.8 275.0,99.2 C272.8,95.5 270.1,89.3 270.1,84.6 C270.1,80.0 273.2,75.8 275.0,71.3 Z" fill="#2d7ab8" opacity="0.72"/>
<path d="M275.0,71.3 C276.8,66.9 278.2,60.9 281.0,58.0 C283.8,55.2 288.9,54.4 291.9,54.4 C294.9,54.4 297.5,56.2 299.2,58.0 C300.8,59.9 300.0,63.5 301.6,65.3 C303.2,67.1 305.4,67.3 308.8,68.9 C312.3,70.5 318.3,72.6 322.1,75.0 C326.0,77.4 331.0,81.4 331.8,83.4 C332.6,85.4 327.4,84.8 327.0,87.1 C326.6,89.3 329.8,94.7 329.4,96.7 C329.0,98.8 325.6,96.3 324.6,99.2 C323.5,102.0 324.6,111.4 323.3,113.7 C322.1,115.9 319.1,111.6 317.3,112.5 C315.5,113.3 314.3,117.5 312.5,118.5 C310.6,119.5 308.2,118.9 306.4,118.5 C304.6,118.1 302.8,118.5 301.6,116.1 C300.4,113.7 300.8,105.6 299.2,104.0 C297.5,102.4 294.5,106.0 291.9,106.4 C289.3,106.8 286.3,107.6 283.4,106.4 C280.6,105.2 277.2,102.8 275.0,99.2 C272.8,95.5 270.1,89.3 270.1,84.6 C270.1,80.0 273.2,75.8 275.0,71.3 Z" fill="#2d7ab8" filter="url(#umapSp)"/>
<g fill="#2d7ab8" opacity="0.6"><circle cx="307.9" cy="119.9" r="0.55"/><circle cx="305.9" cy="109.3" r="0.55"/><circle cx="301.0" cy="98.5" r="0.55"/><circle cx="303.5" cy="107.0" r="0.55"/><circle cx="294.3" cy="90.3" r="0.55"/><circle cx="273.9" cy="85.7" r="0.55"/><circle cx="300.1" cy="96.7" r="0.55"/><circle cx="294.1" cy="93.0" r="0.55"/><circle cx="317.6" cy="79.2" r="0.55"/><circle cx="294.8" cy="68.1" r="0.55"/><circle cx="292.5" cy="57.6" r="0.55"/><circle cx="312.1" cy="90.8" r="0.55"/><circle cx="298.7" cy="60.1" r="0.55"/><circle cx="291.6" cy="79.5" r="0.55"/><circle cx="318.3" cy="113.0" r="0.55"/><circle cx="288.7" cy="87.1" r="0.55"/><circle cx="320.2" cy="95.0" r="0.55"/><circle cx="302.5" cy="75.1" r="0.55"/><circle cx="305.0" cy="117.4" r="0.55"/><circle cx="307.5" cy="111.6" r="0.55"/><circle cx="309.4" cy="113.3" r="0.55"/><circle cx="310.5" cy="87.6" r="0.55"/><circle cx="294.0" cy="98.0" r="0.55"/><circle cx="319.3" cy="115.3" r="0.55"/><circle cx="277.4" cy="53.5" r="0.55"/><circle cx="286.4" cy="93.7" r="0.55"/><circle cx="298.6" cy="71.5" r="0.55"/><circle cx="315.3" cy="106.3" r="0.55"/><circle cx="300.2" cy="115.2" r="0.55"/><circle cx="290.9" cy="89.2" r="0.55"/><circle cx="327.5" cy="84.7" r="0.55"/><circle cx="299.9" cy="99.3" r="0.55"/><circle cx="291.3" cy="92.0" r="0.55"/><circle cx="297.7" cy="106.0" r="0.55"/><circle cx="320.3" cy="88.2" r="0.55"/><circle cx="302.4" cy="94.7" r="0.55"/><circle cx="323.7" cy="86.0" r="0.55"/><circle cx="299.0" cy="70.1" r="0.55"/><circle cx="293.0" cy="82.6" r="0.55"/><circle cx="293.0" cy="76.3" r="0.55"/><circle cx="301.3" cy="80.7" r="0.55"/><circle cx="321.9" cy="98.1" r="0.55"/><circle cx="303.7" cy="70.6" r="0.55"/><circle cx="322.7" cy="108.8" r="0.55"/><circle cx="289.7" cy="87.5" r="0.55"/><circle cx="299.7" cy="62.5" r="0.55"/><circle cx="281.1" cy="57.6" r="0.55"/><circle cx="316.6" cy="97.1" r="0.55"/><circle cx="311.2" cy="120.6" r="0.55"/><circle cx="279.8" cy="75.2" r="0.55"/><circle cx="291.6" cy="92.0" r="0.55"/><circle cx="328.4" cy="86.5" r="0.55"/><circle cx="289.8" cy="101.4" r="0.55"/><circle cx="297.6" cy="103.2" r="0.55"/><circle cx="304.7" cy="97.0" r="0.55"/><circle cx="279.4" cy="99.3" r="0.55"/><circle cx="315.1" cy="101.9" r="0.55"/><circle cx="307.8" cy="72.4" r="0.55"/><circle cx="300.8" cy="117.5" r="0.55"/><circle cx="320.0" cy="78.8" r="0.55"/></g>
<path d="M304.7,70.6 C303.9,68.8 307.1,64.4 308.8,61.7 C310.6,59.0 312.7,56.8 315.4,54.4 C318.0,52.0 322.0,47.8 324.6,47.2 C327.1,46.6 328.0,48.8 330.6,50.8 C333.2,52.8 337.9,55.6 340.3,59.3 C342.7,62.9 345.9,70.3 345.1,72.6 C344.3,74.8 338.9,73.0 335.4,73.0 C332.0,73.0 328.2,72.6 324.6,72.6 C320.9,72.5 317.0,72.9 313.7,72.6 C310.4,72.2 305.5,72.4 304.7,70.6 Z" fill="#f88a2a" opacity="0.72"/>
<path d="M304.7,70.6 C303.9,68.8 307.1,64.4 308.8,61.7 C310.6,59.0 312.7,56.8 315.4,54.4 C318.0,52.0 322.0,47.8 324.6,47.2 C327.1,46.6 328.0,48.8 330.6,50.8 C333.2,52.8 337.9,55.6 340.3,59.3 C342.7,62.9 345.9,70.3 345.1,72.6 C344.3,74.8 338.9,73.0 335.4,73.0 C332.0,73.0 328.2,72.6 324.6,72.6 C320.9,72.5 317.0,72.9 313.7,72.6 C310.4,72.2 305.5,72.4 304.7,70.6 Z" fill="#f88a2a" filter="url(#umapSp)"/>
<g fill="#f88a2a" opacity="0.6"><circle cx="324.1" cy="47.1" r="0.55"/><circle cx="330.4" cy="60.9" r="0.55"/><circle cx="308.8" cy="68.9" r="0.55"/><circle cx="320.7" cy="61.6" r="0.55"/><circle cx="337.2" cy="69.7" r="0.55"/><circle cx="315.5" cy="67.7" r="0.55"/><circle cx="321.6" cy="66.8" r="0.55"/><circle cx="329.8" cy="53.5" r="0.55"/><circle cx="336.4" cy="70.9" r="0.55"/><circle cx="325.7" cy="50.1" r="0.55"/><circle cx="314.5" cy="62.9" r="0.55"/><circle cx="342.4" cy="57.7" r="0.55"/><circle cx="330.8" cy="69.4" r="0.55"/><circle cx="323.2" cy="70.6" r="0.55"/><circle cx="337.9" cy="60.3" r="0.55"/><circle cx="319.9" cy="59.5" r="0.55"/><circle cx="316.0" cy="61.9" r="0.55"/><circle cx="332.3" cy="71.5" r="0.55"/><circle cx="340.5" cy="70.3" r="0.55"/><circle cx="335.8" cy="59.4" r="0.55"/><circle cx="318.6" cy="64.5" r="0.55"/><circle cx="330.1" cy="53.4" r="0.55"/><circle cx="311.2" cy="67.4" r="0.55"/><circle cx="323.6" cy="71.0" r="0.55"/><circle cx="322.8" cy="49.0" r="0.55"/><circle cx="318.5" cy="58.5" r="0.55"/><circle cx="329.1" cy="68.4" r="0.55"/><circle cx="336.2" cy="75.6" r="0.55"/><circle cx="309.8" cy="62.0" r="0.55"/><circle cx="324.6" cy="72.3" r="0.55"/><circle cx="325.1" cy="69.9" r="0.55"/><circle cx="320.7" cy="69.6" r="0.55"/><circle cx="324.4" cy="67.9" r="0.55"/><circle cx="313.7" cy="60.3" r="0.55"/><circle cx="309.7" cy="69.8" r="0.55"/><circle cx="318.4" cy="65.8" r="0.55"/><circle cx="326.2" cy="70.8" r="0.55"/><circle cx="335.0" cy="66.7" r="0.55"/><circle cx="347.7" cy="74.6" r="0.55"/><circle cx="323.2" cy="69.0" r="0.55"/><circle cx="328.0" cy="56.4" r="0.55"/><circle cx="322.5" cy="55.6" r="0.55"/><circle cx="332.3" cy="61.4" r="0.55"/><circle cx="320.1" cy="66.1" r="0.55"/><circle cx="326.0" cy="47.3" r="0.55"/><circle cx="345.1" cy="72.5" r="0.55"/><circle cx="324.6" cy="72.4" r="0.55"/><circle cx="314.5" cy="72.2" r="0.55"/><circle cx="340.2" cy="58.3" r="0.55"/><circle cx="326.4" cy="57.2" r="0.55"/><circle cx="313.6" cy="52.5" r="0.55"/><circle cx="333.5" cy="66.6" r="0.55"/><circle cx="320.7" cy="60.5" r="0.55"/><circle cx="317.8" cy="64.3" r="0.55"/><circle cx="330.6" cy="62.8" r="0.55"/><circle cx="325.9" cy="74.8" r="0.55"/><circle cx="326.8" cy="67.4" r="0.55"/><circle cx="324.5" cy="71.7" r="0.55"/><circle cx="318.4" cy="64.6" r="0.55"/><circle cx="310.8" cy="62.8" r="0.55"/></g>
<path d="M290.7,32.6 C291.8,29.5 295.2,27.6 297.9,26.1 C300.7,24.6 305.4,22.8 307.1,23.7 C308.8,24.6 308.3,28.3 308.1,31.4 C307.9,34.5 306.7,39.0 305.7,42.3 C304.7,45.6 303.8,50.3 302.3,51.3 C300.8,52.3 298.6,49.5 296.7,48.4 C294.9,47.3 292.2,47.4 291.2,44.7 C290.2,42.1 289.6,35.8 290.7,32.6 Z" fill="#a868f0" opacity="0.72"/>
<path d="M290.7,32.6 C291.8,29.5 295.2,27.6 297.9,26.1 C300.7,24.6 305.4,22.8 307.1,23.7 C308.8,24.6 308.3,28.3 308.1,31.4 C307.9,34.5 306.7,39.0 305.7,42.3 C304.7,45.6 303.8,50.3 302.3,51.3 C300.8,52.3 298.6,49.5 296.7,48.4 C294.9,47.3 292.2,47.4 291.2,44.7 C290.2,42.1 289.6,35.8 290.7,32.6 Z" fill="#a868f0" filter="url(#umapSp)"/>
<g fill="#a868f0" opacity="0.6"><circle cx="297.4" cy="26.8" r="0.55"/><circle cx="301.9" cy="44.6" r="0.55"/><circle cx="289.5" cy="32.5" r="0.55"/><circle cx="300.2" cy="44.9" r="0.55"/><circle cx="293.1" cy="36.2" r="0.55"/><circle cx="296.3" cy="46.2" r="0.55"/><circle cx="301.2" cy="52.4" r="0.55"/><circle cx="306.5" cy="25.7" r="0.55"/><circle cx="303.2" cy="49.9" r="0.55"/><circle cx="301.9" cy="32.5" r="0.55"/><circle cx="292.4" cy="34.1" r="0.55"/><circle cx="297.2" cy="35.8" r="0.55"/><circle cx="300.7" cy="42.8" r="0.55"/><circle cx="300.7" cy="31.0" r="0.55"/><circle cx="300.0" cy="25.1" r="0.55"/><circle cx="297.2" cy="26.8" r="0.55"/><circle cx="292.0" cy="31.1" r="0.55"/><circle cx="304.5" cy="40.2" r="0.55"/><circle cx="296.7" cy="51.4" r="0.55"/><circle cx="289.8" cy="44.9" r="0.55"/><circle cx="296.0" cy="34.1" r="0.55"/><circle cx="307.3" cy="24.1" r="0.55"/><circle cx="296.2" cy="49.3" r="0.55"/><circle cx="302.5" cy="41.0" r="0.55"/><circle cx="305.8" cy="39.7" r="0.55"/><circle cx="306.9" cy="32.4" r="0.55"/><circle cx="298.1" cy="40.9" r="0.55"/><circle cx="302.4" cy="42.2" r="0.55"/><circle cx="296.5" cy="39.4" r="0.55"/><circle cx="298.7" cy="25.2" r="0.55"/><circle cx="304.9" cy="33.2" r="0.55"/><circle cx="297.9" cy="39.8" r="0.55"/><circle cx="302.6" cy="32.7" r="0.55"/><circle cx="293.6" cy="44.0" r="0.55"/><circle cx="302.3" cy="52.4" r="0.55"/><circle cx="304.1" cy="40.3" r="0.55"/><circle cx="305.9" cy="41.5" r="0.55"/><circle cx="305.4" cy="42.2" r="0.55"/><circle cx="307.6" cy="31.3" r="0.55"/><circle cx="306.4" cy="32.0" r="0.55"/><circle cx="290.4" cy="32.6" r="0.55"/><circle cx="290.9" cy="33.7" r="0.55"/><circle cx="299.8" cy="25.7" r="0.55"/><circle cx="306.1" cy="32.5" r="0.55"/><circle cx="304.6" cy="32.6" r="0.55"/><circle cx="297.8" cy="27.9" r="0.55"/><circle cx="306.4" cy="33.1" r="0.55"/><circle cx="304.9" cy="31.2" r="0.55"/><circle cx="302.3" cy="46.3" r="0.55"/><circle cx="304.1" cy="26.9" r="0.55"/><circle cx="299.2" cy="42.8" r="0.55"/><circle cx="291.3" cy="45.8" r="0.55"/><circle cx="295.5" cy="36.4" r="0.55"/><circle cx="298.2" cy="28.7" r="0.55"/><circle cx="299.8" cy="44.3" r="0.55"/><circle cx="299.8" cy="46.6" r="0.55"/><circle cx="305.0" cy="39.9" r="0.55"/><circle cx="303.0" cy="45.1" r="0.55"/><circle cx="304.3" cy="33.4" r="0.55"/><circle cx="298.6" cy="46.9" r="0.55"/></g>
<path d="M333.0,42.3 C333.2,40.1 333.6,36.7 335.4,35.1 C337.2,33.5 340.7,32.4 343.9,32.6 C347.1,32.8 352.8,35.2 354.8,36.3 C356.7,37.4 356.1,38.2 355.5,39.2 C354.9,40.2 351.2,40.4 351.2,42.3 C351.2,44.3 354.9,48.4 355.5,50.8 C356.1,53.2 355.9,55.4 354.8,56.8 C353.7,58.2 351.0,59.7 348.7,59.3 C346.5,58.8 343.9,56.2 341.5,54.4 C339.1,52.6 335.6,50.4 334.2,48.4 C332.8,46.4 332.8,44.5 333.0,42.3 Z" fill="#d84848" opacity="0.72"/>
<path d="M333.0,42.3 C333.2,40.1 333.6,36.7 335.4,35.1 C337.2,33.5 340.7,32.4 343.9,32.6 C347.1,32.8 352.8,35.2 354.8,36.3 C356.7,37.4 356.1,38.2 355.5,39.2 C354.9,40.2 351.2,40.4 351.2,42.3 C351.2,44.3 354.9,48.4 355.5,50.8 C356.1,53.2 355.9,55.4 354.8,56.8 C353.7,58.2 351.0,59.7 348.7,59.3 C346.5,58.8 343.9,56.2 341.5,54.4 C339.1,52.6 335.6,50.4 334.2,48.4 C332.8,46.4 332.8,44.5 333.0,42.3 Z" fill="#d84848" filter="url(#umapSp)"/>
<g fill="#d84848" opacity="0.6"><circle cx="351.1" cy="43.8" r="0.55"/><circle cx="342.5" cy="49.1" r="0.55"/><circle cx="354.1" cy="37.6" r="0.55"/><circle cx="346.3" cy="36.2" r="0.55"/><circle cx="349.7" cy="48.3" r="0.55"/><circle cx="339.1" cy="37.8" r="0.55"/><circle cx="348.6" cy="42.7" r="0.55"/><circle cx="339.3" cy="47.2" r="0.55"/><circle cx="347.5" cy="52.7" r="0.55"/><circle cx="350.4" cy="42.9" r="0.55"/><circle cx="338.4" cy="35.9" r="0.55"/><circle cx="337.2" cy="46.6" r="0.55"/><circle cx="337.0" cy="35.3" r="0.55"/><circle cx="345.8" cy="52.0" r="0.55"/><circle cx="355.0" cy="49.7" r="0.55"/><circle cx="337.6" cy="46.0" r="0.55"/><circle cx="352.1" cy="50.8" r="0.55"/><circle cx="349.4" cy="52.2" r="0.55"/><circle cx="344.8" cy="30.1" r="0.55"/><circle cx="353.3" cy="55.8" r="0.55"/><circle cx="345.2" cy="38.1" r="0.55"/><circle cx="351.9" cy="53.1" r="0.55"/><circle cx="353.7" cy="43.2" r="0.55"/><circle cx="338.5" cy="47.5" r="0.55"/><circle cx="352.3" cy="42.8" r="0.55"/><circle cx="339.1" cy="47.5" r="0.55"/><circle cx="350.5" cy="38.1" r="0.55"/><circle cx="357.6" cy="52.4" r="0.55"/><circle cx="334.1" cy="40.8" r="0.55"/><circle cx="354.9" cy="56.3" r="0.55"/><circle cx="352.3" cy="48.3" r="0.55"/><circle cx="349.9" cy="45.2" r="0.55"/><circle cx="346.3" cy="33.9" r="0.55"/><circle cx="347.4" cy="48.8" r="0.55"/><circle cx="355.9" cy="37.8" r="0.55"/><circle cx="340.3" cy="39.4" r="0.55"/><circle cx="352.0" cy="56.3" r="0.55"/><circle cx="348.0" cy="60.4" r="0.55"/><circle cx="351.2" cy="48.9" r="0.55"/><circle cx="350.4" cy="50.8" r="0.55"/><circle cx="345.6" cy="31.0" r="0.55"/><circle cx="348.8" cy="47.1" r="0.55"/><circle cx="340.6" cy="37.6" r="0.55"/><circle cx="355.1" cy="51.1" r="0.55"/><circle cx="335.3" cy="36.2" r="0.55"/><circle cx="350.7" cy="50.8" r="0.55"/><circle cx="334.4" cy="43.2" r="0.55"/><circle cx="344.7" cy="50.9" r="0.55"/><circle cx="357.3" cy="38.9" r="0.55"/><circle cx="339.5" cy="41.0" r="0.55"/><circle cx="348.1" cy="43.5" r="0.55"/><circle cx="340.7" cy="45.4" r="0.55"/><circle cx="342.9" cy="35.6" r="0.55"/><circle cx="344.8" cy="40.9" r="0.55"/><circle cx="340.5" cy="51.4" r="0.55"/><circle cx="340.2" cy="37.9" r="0.55"/><circle cx="354.6" cy="49.9" r="0.55"/><circle cx="343.5" cy="32.3" r="0.55"/><circle cx="354.7" cy="50.2" r="0.55"/><circle cx="352.8" cy="42.7" r="0.55"/></g>
<path d="M334.2,88.3 C334.3,85.7 335.1,81.8 337.1,79.8 C339.1,77.8 342.8,76.6 346.3,76.2 C349.9,75.8 355.4,76.9 358.4,77.4 C361.4,77.9 363.9,78.3 364.5,79.3 C365.1,80.3 362.2,81.3 362.0,83.4 C361.8,85.5 364.3,88.9 363.2,91.9 C362.2,94.9 359.2,100.3 356.0,101.6 C352.8,102.9 347.1,100.6 343.9,99.6 C340.7,98.6 338.3,97.4 336.6,95.5 C335.0,93.6 334.1,90.9 334.2,88.3 Z" fill="#3aa36a" opacity="0.72"/>
<path d="M334.2,88.3 C334.3,85.7 335.1,81.8 337.1,79.8 C339.1,77.8 342.8,76.6 346.3,76.2 C349.9,75.8 355.4,76.9 358.4,77.4 C361.4,77.9 363.9,78.3 364.5,79.3 C365.1,80.3 362.2,81.3 362.0,83.4 C361.8,85.5 364.3,88.9 363.2,91.9 C362.2,94.9 359.2,100.3 356.0,101.6 C352.8,102.9 347.1,100.6 343.9,99.6 C340.7,98.6 338.3,97.4 336.6,95.5 C335.0,93.6 334.1,90.9 334.2,88.3 Z" fill="#3aa36a" filter="url(#umapSp)"/>
<g fill="#3aa36a" opacity="0.6"><circle cx="339.3" cy="92.1" r="0.55"/><circle cx="360.5" cy="80.2" r="0.55"/><circle cx="345.8" cy="92.8" r="0.55"/><circle cx="348.4" cy="80.8" r="0.55"/><circle cx="355.1" cy="80.0" r="0.55"/><circle cx="359.4" cy="77.2" r="0.55"/><circle cx="354.6" cy="80.4" r="0.55"/><circle cx="344.7" cy="83.9" r="0.55"/><circle cx="358.7" cy="84.5" r="0.55"/><circle cx="355.9" cy="102.8" r="0.55"/><circle cx="358.9" cy="77.2" r="0.55"/><circle cx="342.3" cy="101.2" r="0.55"/><circle cx="358.1" cy="85.5" r="0.55"/><circle cx="361.9" cy="81.5" r="0.55"/><circle cx="360.6" cy="83.7" r="0.55"/><circle cx="341.0" cy="83.4" r="0.55"/><circle cx="348.8" cy="82.1" r="0.55"/><circle cx="361.3" cy="92.1" r="0.55"/><circle cx="348.3" cy="80.7" r="0.55"/><circle cx="355.0" cy="88.5" r="0.55"/><circle cx="348.5" cy="80.9" r="0.55"/><circle cx="337.1" cy="87.8" r="0.55"/><circle cx="354.7" cy="98.3" r="0.55"/><circle cx="336.2" cy="95.6" r="0.55"/><circle cx="362.1" cy="83.1" r="0.55"/><circle cx="361.4" cy="90.2" r="0.55"/><circle cx="346.7" cy="94.0" r="0.55"/><circle cx="339.4" cy="88.8" r="0.55"/><circle cx="362.3" cy="92.4" r="0.55"/><circle cx="366.3" cy="78.1" r="0.55"/><circle cx="354.6" cy="96.3" r="0.55"/><circle cx="355.3" cy="98.7" r="0.55"/><circle cx="363.9" cy="82.1" r="0.55"/><circle cx="361.8" cy="84.6" r="0.55"/><circle cx="356.7" cy="77.5" r="0.55"/><circle cx="346.4" cy="82.9" r="0.55"/><circle cx="345.2" cy="96.0" r="0.55"/><circle cx="353.5" cy="84.5" r="0.55"/><circle cx="355.4" cy="100.6" r="0.55"/><circle cx="342.8" cy="91.1" r="0.55"/><circle cx="356.7" cy="86.9" r="0.55"/><circle cx="354.9" cy="103.3" r="0.55"/><circle cx="344.2" cy="87.2" r="0.55"/><circle cx="352.6" cy="92.6" r="0.55"/><circle cx="347.8" cy="91.8" r="0.55"/><circle cx="336.1" cy="89.4" r="0.55"/><circle cx="365.5" cy="77.8" r="0.55"/><circle cx="352.6" cy="97.9" r="0.55"/><circle cx="337.5" cy="79.4" r="0.55"/><circle cx="355.2" cy="79.3" r="0.55"/><circle cx="344.1" cy="98.9" r="0.55"/><circle cx="363.7" cy="78.0" r="0.55"/><circle cx="345.4" cy="80.1" r="0.55"/><circle cx="354.6" cy="103.9" r="0.55"/><circle cx="336.7" cy="87.1" r="0.55"/><circle cx="344.3" cy="91.4" r="0.55"/><circle cx="354.8" cy="81.0" r="0.55"/><circle cx="344.0" cy="74.8" r="0.55"/><circle cx="343.6" cy="92.4" r="0.55"/><circle cx="350.0" cy="85.0" r="0.55"/></g>
<line x1="307.62" y1="53.20" x2="313.67" y2="33.86" stroke="#a06050" stroke-width="1.0" />
<line x1="311.25" y1="52.00" x2="319.71" y2="36.28" stroke="#a06050" stroke-width="1.0" />
<line x1="315.36" y1="47.16" x2="322.13" y2="35.79" stroke="#a06050" stroke-width="1.0" />
<line x1="310.04" y1="49.58" x2="317.78" y2="32.65" stroke="#a06050" stroke-width="1.0" />
<circle cx="310.5" cy="61.1" r="0.5" fill="#f080c0" opacity="0.5"/>
<circle cx="301.4" cy="54.1" r="0.5" fill="#f080c0" opacity="0.5"/>
<circle cx="326.4" cy="66.6" r="0.5" fill="#f080c0" opacity="0.5"/>
<circle cx="331.3" cy="70.5" r="0.5" fill="#f080c0" opacity="0.5"/>
<circle cx="317.1" cy="65.1" r="0.5" fill="#f080c0" opacity="0.5"/>
<circle cx="324.6" cy="47.6" r="0.5" fill="#f080c0" opacity="0.5"/>
<circle cx="314.1" cy="67.8" r="0.5" fill="#f080c0" opacity="0.5"/>
<circle cx="317.6" cy="52.8" r="0.5" fill="#f080c0" opacity="0.5"/>
<circle cx="322.9" cy="69.7" r="0.5" fill="#f080c0" opacity="0.5"/>
<circle cx="308.5" cy="63.3" r="0.5" fill="#f080c0" opacity="0.5"/>
<circle cx="327.2" cy="65.4" r="0.5" fill="#f080c0" opacity="0.5"/>
<circle cx="308.6" cy="50.9" r="0.5" fill="#f080c0" opacity="0.5"/>
<circle cx="330.9" cy="45.4" r="0.5" fill="#f080c0" opacity="0.5"/>
<circle cx="314.5" cy="75.5" r="0.5" fill="#f080c0" opacity="0.5"/>
<circle cx="310.6" cy="65.6" r="0.5" fill="#f080c0" opacity="0.5"/>
<circle cx="319.5" cy="72.8" r="0.5" fill="#f080c0" opacity="0.5"/>
<circle cx="316.2" cy="69.8" r="0.5" fill="#f080c0" opacity="0.5"/>
<circle cx="327.3" cy="44.7" r="0.5" fill="#f080c0" opacity="0.5"/>
<circle cx="304.0" cy="50.0" r="0.5" fill="#f080c0" opacity="0.5"/>
<circle cx="320.5" cy="64.6" r="0.5" fill="#f080c0" opacity="0.5"/>
<circle cx="323.1" cy="66.1" r="0.5" fill="#f080c0" opacity="0.5"/>
<circle cx="302.1" cy="59.0" r="0.5" fill="#f080c0" opacity="0.5"/>
<circle cx="322.2" cy="73.3" r="0.5" fill="#f080c0" opacity="0.5"/>
<circle cx="323.6" cy="71.9" r="0.5" fill="#f080c0" opacity="0.5"/>
<circle cx="324.4" cy="61.6" r="0.5" fill="#f080c0" opacity="0.5"/>
<circle cx="320.8" cy="62.1" r="0.5" fill="#f080c0" opacity="0.5"/>
<circle cx="312.3" cy="52.5" r="0.5" fill="#f080c0" opacity="0.5"/>
<circle cx="316.0" cy="67.4" r="0.5" fill="#f080c0" opacity="0.5"/>
<circle cx="319.1" cy="60.0" r="0.5" fill="#f080c0" opacity="0.5"/>
<circle cx="310.3" cy="60.5" r="0.5" fill="#f080c0" opacity="0.5"/>
<circle cx="322.3" cy="69.1" r="0.5" fill="#f080c0" opacity="0.5"/>
<circle cx="330.5" cy="48.2" r="0.5" fill="#f080c0" opacity="0.5"/>
<circle cx="324.1" cy="65.3" r="0.5" fill="#f080c0" opacity="0.5"/>
<circle cx="304.6" cy="70.5" r="0.5" fill="#f080c0" opacity="0.5"/>
<circle cx="316.8" cy="79.3" r="0.5" fill="#f080c0" opacity="0.5"/>
<circle cx="300.5" cy="58.4" r="0.5" fill="#f080c0" opacity="0.5"/>
<circle cx="316.9" cy="46.8" r="0.5" fill="#f080c0" opacity="0.5"/>
<circle cx="317.9" cy="60.6" r="0.5" fill="#f080c0" opacity="0.5"/>
<circle cx="329.8" cy="78.8" r="0.5" fill="#f080c0" opacity="0.5"/>
<circle cx="321.7" cy="69.5" r="0.5" fill="#f080c0" opacity="0.5"/>
<circle cx="331.1" cy="65.7" r="0.5" fill="#f080c0" opacity="0.5"/>
<circle cx="309.7" cy="47.8" r="0.5" fill="#f080c0" opacity="0.5"/>
<circle cx="327.3" cy="58.7" r="0.5" fill="#f080c0" opacity="0.5"/>
<circle cx="303.1" cy="51.8" r="0.5" fill="#f080c0" opacity="0.5"/>
<circle cx="310.1" cy="77.9" r="0.5" fill="#f080c0" opacity="0.5"/>
<circle cx="329.4" cy="51.5" r="0.5" fill="#f080c0" opacity="0.5"/>
<circle cx="305.4" cy="64.8" r="0.5" fill="#f080c0" opacity="0.5"/>
<circle cx="331.6" cy="70.3" r="0.5" fill="#f080c0" opacity="0.5"/>
<circle cx="318.2" cy="76.6" r="0.5" fill="#f080c0" opacity="0.5"/>
<circle cx="328.2" cy="77.0" r="0.5" fill="#f080c0" opacity="0.5"/>
<circle cx="305.9" cy="74.7" r="0.5" fill="#f080c0" opacity="0.5"/>
<circle cx="329.8" cy="51.3" r="0.5" fill="#f080c0" opacity="0.5"/>
<circle cx="312.3" cy="45.3" r="0.5" fill="#f080c0" opacity="0.5"/>
<circle cx="313.5" cy="52.5" r="0.5" fill="#f080c0" opacity="0.5"/>
<circle cx="325.3" cy="72.7" r="0.5" fill="#f080c0" opacity="0.5"/>
<circle cx="315.5" cy="58.0" r="0.5" fill="#f080c0" opacity="0.5"/>
<circle cx="319.0" cy="71.1" r="0.5" fill="#f080c0" opacity="0.5"/>
<circle cx="315.2" cy="61.3" r="0.5" fill="#f080c0" opacity="0.5"/>
<circle cx="320.1" cy="50.1" r="0.5" fill="#f080c0" opacity="0.5"/>
<circle cx="315.7" cy="63.1" r="0.5" fill="#f080c0" opacity="0.5"/>
<rect x="266.00" y="21.30" width="103.30" height="102.70" fill="none" stroke="#111" stroke-width="1.4" />
<text transform="translate(263.30,72.50) rotate(-90)" font-size="7.7" font-weight="bold" text-anchor="middle" fill="#000">UMAP2</text>
<text x="317.00" y="132.00" font-size="7.7" font-weight="bold" text-anchor="middle" fill="#000" >UMAP1</text>
<path d="M373.6,44.0 C375.1,51.7 382.2,52.3 386.9,50.8 L393.3,50.8 C398.0,52.3 405.1,51.7 406.6,44.0 Z" fill="#e8e8e8" stroke="#aaa" stroke-width="0.4"/>
<path d="M390.1,25.5 C386.9,22.5 375.1,22.5 371.2,32.9 C369.6,40.4 373.6,47.8 380.2,49.3 L385.4,48.7 C386.2,43.4 394.0,43.4 394.8,48.7 L399.9,49.3 C406.6,47.8 410.6,40.4 409.0,32.9 C405.1,22.5 393.3,22.5 390.1,25.5 Z" fill="#1c6ec8"/>
<path d="M390.1,25.5 C386.9,22.5 375.1,22.5 371.2,32.9 C369.6,40.4 373.6,47.8 380.2,49.3 L385.4,48.7 C386.2,43.4 394.0,43.4 394.8,48.7 L399.9,49.3 C406.6,47.8 410.6,40.4 409.0,32.9 C405.1,22.5 393.3,22.5 390.1,25.5 Z" fill="none" stroke="#2a88e0" stroke-width="2.4" opacity="0.5"/>
<path d="M390.1,24.3 L390.1,31.4" stroke="#0c2c68" stroke-width="0.8"/>
<path d="M390.1,30.8 C386.2,28.5 380.2,31.4 379.9,38.9 C380.6,43.4 385.4,44.9 390.1,43.4 C394.8,44.9 399.6,43.4 400.3,38.9 C399.9,31.4 394.0,28.5 390.1,30.8 Z" fill="#0c2c68" opacity="0.8"/>
<path d="M383.4,42.8 C384.6,39.8 387.7,40.4 390.1,41.0 C392.5,40.4 395.6,39.8 396.8,42.8 L396.4,51.7 C392.5,52.9 387.7,52.9 383.8,51.7 Z" fill="#e4e4e4" stroke="#b0b0b0" stroke-width="0.4"/>
<circle cx="374.4" cy="60.7" r="2" fill="#2d7ab8"/>
<text x="381.60" y="63.80" font-size="7.8" font-weight="bold" text-anchor="start" fill="#222" >NEUR</text>
<circle cx="374.4" cy="71.4" r="2" fill="#f88a2a"/>
<text x="381.60" y="74.50" font-size="7.8" font-weight="bold" text-anchor="start" fill="#222" >OLG</text>
<circle cx="374.4" cy="81.9" r="2" fill="#2e9e60"/>
<text x="381.60" y="85.00" font-size="7.8" font-weight="bold" text-anchor="start" fill="#222" >MG</text>
<circle cx="374.4" cy="92.7" r="2" fill="#d62828"/>
<text x="381.60" y="95.80" font-size="7.8" font-weight="bold" text-anchor="start" fill="#222" >CPC</text>
<circle cx="374.4" cy="103.5" r="2" fill="#a040f0"/>
<text x="381.60" y="106.60" font-size="7.8" font-weight="bold" text-anchor="start" fill="#222" >AST</text>
<circle cx="374.4" cy="114.4" r="2" fill="#e070c8"/>
<text x="381.60" y="117.50" font-size="7.8" font-weight="bold" text-anchor="start" fill="#222" >Others</text>
<text x="419.00" y="17.80" font-size="12.5" fill="#111">(D)</text>
<text x="475.60" y="17.60" font-size="7.8" font-weight="bold" text-anchor="middle" fill="#000" >batch</text>
<path d="M433.0,71.3 C434.8,66.9 436.2,60.9 439.0,58.0 C441.8,55.2 446.9,54.4 449.9,54.4 C452.9,54.4 455.5,56.2 457.2,58.0 C458.8,59.9 458.0,63.5 459.6,65.3 C461.2,67.1 463.4,67.3 466.8,68.9 C470.3,70.5 476.3,72.6 480.1,75.0 C484.0,77.4 489.0,81.4 489.8,83.4 C490.6,85.4 485.4,84.8 485.0,87.1 C484.6,89.3 487.8,94.7 487.4,96.7 C487.0,98.8 483.6,96.3 482.6,99.2 C481.5,102.0 482.6,111.4 481.3,113.7 C480.1,115.9 477.1,111.6 475.3,112.5 C473.5,113.3 472.3,117.5 470.5,118.5 C468.6,119.5 466.2,118.9 464.4,118.5 C462.6,118.1 460.8,118.5 459.6,116.1 C458.4,113.7 458.8,105.6 457.2,104.0 C455.5,102.4 452.5,106.0 449.9,106.4 C447.3,106.8 444.3,107.6 441.4,106.4 C438.6,105.2 435.2,102.8 433.0,99.2 C430.8,95.5 428.1,89.3 428.1,84.6 C428.1,80.0 431.2,75.8 433.0,71.3 Z" fill="#c888a8" opacity="0.72"/>
<path d="M433.0,71.3 C434.8,66.9 436.2,60.9 439.0,58.0 C441.8,55.2 446.9,54.4 449.9,54.4 C452.9,54.4 455.5,56.2 457.2,58.0 C458.8,59.9 458.0,63.5 459.6,65.3 C461.2,67.1 463.4,67.3 466.8,68.9 C470.3,70.5 476.3,72.6 480.1,75.0 C484.0,77.4 489.0,81.4 489.8,83.4 C490.6,85.4 485.4,84.8 485.0,87.1 C484.6,89.3 487.8,94.7 487.4,96.7 C487.0,98.8 483.6,96.3 482.6,99.2 C481.5,102.0 482.6,111.4 481.3,113.7 C480.1,115.9 477.1,111.6 475.3,112.5 C473.5,113.3 472.3,117.5 470.5,118.5 C468.6,119.5 466.2,118.9 464.4,118.5 C462.6,118.1 460.8,118.5 459.6,116.1 C458.4,113.7 458.8,105.6 457.2,104.0 C455.5,102.4 452.5,106.0 449.9,106.4 C447.3,106.8 444.3,107.6 441.4,106.4 C438.6,105.2 435.2,102.8 433.0,99.2 C430.8,95.5 428.1,89.3 428.1,84.6 C428.1,80.0 431.2,75.8 433.0,71.3 Z" fill="#c888a8" filter="url(#umapSp)"/>
<g fill="#c888a8" opacity="0.6"><circle cx="465.5" cy="99.9" r="0.55"/><circle cx="480.6" cy="88.7" r="0.55"/><circle cx="460.5" cy="99.7" r="0.55"/><circle cx="468.7" cy="90.0" r="0.55"/><circle cx="468.6" cy="101.3" r="0.55"/><circle cx="459.4" cy="79.7" r="0.55"/><circle cx="449.4" cy="53.4" r="0.55"/><circle cx="457.0" cy="102.4" r="0.55"/><circle cx="459.4" cy="99.3" r="0.55"/><circle cx="450.5" cy="75.0" r="0.55"/><circle cx="460.3" cy="71.5" r="0.55"/><circle cx="462.6" cy="113.0" r="0.55"/><circle cx="478.6" cy="86.5" r="0.55"/><circle cx="456.0" cy="103.3" r="0.55"/><circle cx="476.0" cy="110.4" r="0.55"/><circle cx="436.3" cy="87.4" r="0.55"/><circle cx="481.5" cy="97.1" r="0.55"/><circle cx="452.1" cy="106.1" r="0.55"/><circle cx="471.8" cy="100.2" r="0.55"/><circle cx="465.0" cy="101.5" r="0.55"/><circle cx="473.5" cy="93.9" r="0.55"/><circle cx="469.0" cy="100.0" r="0.55"/><circle cx="483.0" cy="87.0" r="0.55"/><circle cx="459.2" cy="74.4" r="0.55"/><circle cx="482.2" cy="95.5" r="0.55"/><circle cx="483.9" cy="113.8" r="0.55"/><circle cx="471.6" cy="105.8" r="0.55"/><circle cx="481.4" cy="97.5" r="0.55"/><circle cx="483.5" cy="98.5" r="0.55"/><circle cx="465.4" cy="72.0" r="0.55"/><circle cx="468.8" cy="96.8" r="0.55"/><circle cx="452.5" cy="60.7" r="0.55"/><circle cx="462.9" cy="100.1" r="0.55"/><circle cx="464.9" cy="105.8" r="0.55"/><circle cx="458.9" cy="68.8" r="0.55"/><circle cx="458.0" cy="117.5" r="0.55"/><circle cx="474.9" cy="86.9" r="0.55"/><circle cx="446.7" cy="108.3" r="0.55"/><circle cx="428.9" cy="86.4" r="0.55"/><circle cx="470.8" cy="93.0" r="0.55"/><circle cx="478.5" cy="78.8" r="0.55"/><circle cx="464.3" cy="81.1" r="0.55"/><circle cx="450.3" cy="98.5" r="0.55"/><circle cx="453.9" cy="101.2" r="0.55"/><circle cx="468.1" cy="69.3" r="0.55"/><circle cx="451.8" cy="54.7" r="0.55"/><circle cx="464.3" cy="108.8" r="0.55"/><circle cx="434.2" cy="97.5" r="0.55"/><circle cx="477.1" cy="89.1" r="0.55"/><circle cx="481.3" cy="88.3" r="0.55"/><circle cx="472.4" cy="93.1" r="0.55"/><circle cx="442.1" cy="105.8" r="0.55"/><circle cx="461.3" cy="71.2" r="0.55"/><circle cx="461.1" cy="77.9" r="0.55"/><circle cx="444.5" cy="88.1" r="0.55"/><circle cx="459.6" cy="76.3" r="0.55"/><circle cx="470.7" cy="102.5" r="0.55"/><circle cx="464.7" cy="69.6" r="0.55"/><circle cx="477.0" cy="95.3" r="0.55"/><circle cx="467.5" cy="103.1" r="0.55"/></g>
<path d="M462.7,70.6 C461.9,68.8 465.1,64.4 466.8,61.7 C468.6,59.0 470.7,56.8 473.4,54.4 C476.0,52.0 480.0,47.8 482.6,47.2 C485.1,46.6 486.0,48.8 488.6,50.8 C491.2,52.8 495.9,55.6 498.3,59.3 C500.7,62.9 503.9,70.3 503.1,72.6 C502.3,74.8 496.9,73.0 493.4,73.0 C490.0,73.0 486.2,72.6 482.6,72.6 C478.9,72.5 475.0,72.9 471.7,72.6 C468.4,72.2 463.5,72.4 462.7,70.6 Z" fill="#d890a8" opacity="0.72"/>
<path d="M462.7,70.6 C461.9,68.8 465.1,64.4 466.8,61.7 C468.6,59.0 470.7,56.8 473.4,54.4 C476.0,52.0 480.0,47.8 482.6,47.2 C485.1,46.6 486.0,48.8 488.6,50.8 C491.2,52.8 495.9,55.6 498.3,59.3 C500.7,62.9 503.9,70.3 503.1,72.6 C502.3,74.8 496.9,73.0 493.4,73.0 C490.0,73.0 486.2,72.6 482.6,72.6 C478.9,72.5 475.0,72.9 471.7,72.6 C468.4,72.2 463.5,72.4 462.7,70.6 Z" fill="#d890a8" filter="url(#umapSp)"/>
<g fill="#d890a8" opacity="0.6"><circle cx="485.5" cy="67.4" r="0.55"/><circle cx="486.2" cy="57.0" r="0.55"/><circle cx="472.0" cy="54.2" r="0.55"/><circle cx="483.9" cy="68.1" r="0.55"/><circle cx="472.2" cy="63.6" r="0.55"/><circle cx="489.9" cy="65.2" r="0.55"/><circle cx="473.2" cy="70.0" r="0.55"/><circle cx="490.0" cy="60.9" r="0.55"/><circle cx="485.7" cy="51.9" r="0.55"/><circle cx="485.7" cy="52.0" r="0.55"/><circle cx="471.1" cy="54.8" r="0.55"/><circle cx="485.3" cy="66.8" r="0.55"/><circle cx="482.6" cy="67.2" r="0.55"/><circle cx="475.7" cy="67.2" r="0.55"/><circle cx="482.4" cy="46.6" r="0.55"/><circle cx="471.7" cy="65.3" r="0.55"/><circle cx="468.2" cy="60.0" r="0.55"/><circle cx="482.5" cy="66.5" r="0.55"/><circle cx="481.9" cy="58.8" r="0.55"/><circle cx="489.5" cy="52.2" r="0.55"/><circle cx="493.9" cy="69.1" r="0.55"/><circle cx="465.7" cy="62.9" r="0.55"/><circle cx="494.5" cy="66.1" r="0.55"/><circle cx="477.2" cy="68.1" r="0.55"/><circle cx="483.8" cy="70.5" r="0.55"/><circle cx="488.0" cy="70.7" r="0.55"/><circle cx="493.9" cy="59.0" r="0.55"/><circle cx="479.0" cy="59.4" r="0.55"/><circle cx="480.8" cy="54.8" r="0.55"/><circle cx="487.6" cy="61.2" r="0.55"/><circle cx="469.2" cy="68.1" r="0.55"/><circle cx="481.1" cy="56.6" r="0.55"/><circle cx="480.1" cy="66.7" r="0.55"/><circle cx="483.6" cy="53.4" r="0.55"/><circle cx="484.1" cy="60.6" r="0.55"/><circle cx="474.0" cy="53.0" r="0.55"/><circle cx="502.3" cy="73.4" r="0.55"/><circle cx="500.1" cy="59.6" r="0.55"/><circle cx="484.3" cy="71.9" r="0.55"/><circle cx="489.5" cy="71.1" r="0.55"/><circle cx="482.8" cy="68.2" r="0.55"/><circle cx="482.7" cy="72.9" r="0.55"/><circle cx="487.6" cy="55.2" r="0.55"/><circle cx="475.0" cy="55.8" r="0.55"/><circle cx="477.3" cy="70.5" r="0.55"/><circle cx="491.3" cy="67.6" r="0.55"/><circle cx="485.4" cy="68.9" r="0.55"/><circle cx="474.7" cy="54.6" r="0.55"/><circle cx="486.0" cy="59.8" r="0.55"/><circle cx="486.3" cy="53.1" r="0.55"/><circle cx="461.3" cy="69.8" r="0.55"/><circle cx="482.6" cy="58.7" r="0.55"/><circle cx="491.9" cy="73.2" r="0.55"/><circle cx="464.2" cy="71.8" r="0.55"/><circle cx="472.4" cy="54.1" r="0.55"/><circle cx="498.5" cy="58.1" r="0.55"/><circle cx="491.2" cy="68.9" r="0.55"/><circle cx="475.0" cy="68.0" r="0.55"/><circle cx="481.8" cy="53.3" r="0.55"/><circle cx="484.5" cy="50.6" r="0.55"/></g>
<path d="M448.7,32.6 C449.8,29.5 453.2,27.6 455.9,26.1 C458.7,24.6 463.4,22.8 465.1,23.7 C466.8,24.6 466.3,28.3 466.1,31.4 C465.9,34.5 464.7,39.0 463.7,42.3 C462.7,45.6 461.8,50.3 460.3,51.3 C458.8,52.3 456.6,49.5 454.7,48.4 C452.9,47.3 450.2,47.4 449.2,44.7 C448.2,42.1 447.6,35.8 448.7,32.6 Z" fill="#d8a0b8" opacity="0.72"/>
<path d="M448.7,32.6 C449.8,29.5 453.2,27.6 455.9,26.1 C458.7,24.6 463.4,22.8 465.1,23.7 C466.8,24.6 466.3,28.3 466.1,31.4 C465.9,34.5 464.7,39.0 463.7,42.3 C462.7,45.6 461.8,50.3 460.3,51.3 C458.8,52.3 456.6,49.5 454.7,48.4 C452.9,47.3 450.2,47.4 449.2,44.7 C448.2,42.1 447.6,35.8 448.7,32.6 Z" fill="#d8a0b8" filter="url(#umapSp)"/>
<g fill="#d8a0b8" opacity="0.6"><circle cx="461.4" cy="51.3" r="0.55"/><circle cx="463.8" cy="30.8" r="0.55"/><circle cx="454.2" cy="39.0" r="0.55"/><circle cx="459.3" cy="47.3" r="0.55"/><circle cx="457.2" cy="27.1" r="0.55"/><circle cx="462.1" cy="40.3" r="0.55"/><circle cx="463.0" cy="40.3" r="0.55"/><circle cx="452.9" cy="38.9" r="0.55"/><circle cx="456.7" cy="42.0" r="0.55"/><circle cx="462.5" cy="43.3" r="0.55"/><circle cx="466.2" cy="32.0" r="0.55"/><circle cx="461.7" cy="33.2" r="0.55"/><circle cx="463.1" cy="40.3" r="0.55"/><circle cx="449.1" cy="33.0" r="0.55"/><circle cx="465.1" cy="26.2" r="0.55"/><circle cx="462.6" cy="41.7" r="0.55"/><circle cx="454.9" cy="30.6" r="0.55"/><circle cx="454.1" cy="24.8" r="0.55"/><circle cx="461.8" cy="54.3" r="0.55"/><circle cx="462.3" cy="27.9" r="0.55"/><circle cx="460.2" cy="45.3" r="0.55"/><circle cx="468.9" cy="30.4" r="0.55"/><circle cx="465.6" cy="34.5" r="0.55"/><circle cx="456.3" cy="25.9" r="0.55"/><circle cx="464.2" cy="33.1" r="0.55"/><circle cx="461.5" cy="28.7" r="0.55"/><circle cx="454.5" cy="35.9" r="0.55"/><circle cx="464.7" cy="41.5" r="0.55"/><circle cx="455.3" cy="29.6" r="0.55"/><circle cx="462.1" cy="50.4" r="0.55"/><circle cx="459.7" cy="48.2" r="0.55"/><circle cx="456.9" cy="29.8" r="0.55"/><circle cx="459.6" cy="35.1" r="0.55"/><circle cx="460.3" cy="40.7" r="0.55"/><circle cx="453.8" cy="39.9" r="0.55"/><circle cx="458.0" cy="28.2" r="0.55"/><circle cx="461.2" cy="30.5" r="0.55"/><circle cx="454.7" cy="28.9" r="0.55"/><circle cx="457.0" cy="25.9" r="0.55"/><circle cx="452.1" cy="36.1" r="0.55"/><circle cx="451.4" cy="33.4" r="0.55"/><circle cx="456.0" cy="29.5" r="0.55"/><circle cx="466.3" cy="34.2" r="0.55"/><circle cx="455.9" cy="31.4" r="0.55"/><circle cx="459.1" cy="41.0" r="0.55"/><circle cx="455.8" cy="43.8" r="0.55"/><circle cx="452.9" cy="33.5" r="0.55"/><circle cx="455.2" cy="44.5" r="0.55"/><circle cx="454.3" cy="26.9" r="0.55"/><circle cx="464.0" cy="34.1" r="0.55"/><circle cx="461.3" cy="44.3" r="0.55"/><circle cx="460.0" cy="52.9" r="0.55"/><circle cx="459.1" cy="52.2" r="0.55"/><circle cx="452.8" cy="34.9" r="0.55"/><circle cx="457.1" cy="41.3" r="0.55"/><circle cx="465.2" cy="42.7" r="0.55"/><circle cx="458.6" cy="46.9" r="0.55"/><circle cx="455.6" cy="29.4" r="0.55"/><circle cx="454.1" cy="36.0" r="0.55"/><circle cx="461.0" cy="37.4" r="0.55"/></g>
<path d="M491.0,42.3 C491.2,40.1 491.6,36.7 493.4,35.1 C495.2,33.5 498.7,32.4 501.9,32.6 C505.1,32.8 510.8,35.2 512.8,36.3 C514.7,37.4 514.1,38.2 513.5,39.2 C512.9,40.2 509.2,40.4 509.2,42.3 C509.2,44.3 512.9,48.4 513.5,50.8 C514.1,53.2 513.9,55.4 512.8,56.8 C511.7,58.2 509.0,59.7 506.7,59.3 C504.5,58.8 501.9,56.2 499.5,54.4 C497.1,52.6 493.6,50.4 492.2,48.4 C490.8,46.4 490.8,44.5 491.0,42.3 Z" fill="#d88898" opacity="0.72"/>
<path d="M491.0,42.3 C491.2,40.1 491.6,36.7 493.4,35.1 C495.2,33.5 498.7,32.4 501.9,32.6 C505.1,32.8 510.8,35.2 512.8,36.3 C514.7,37.4 514.1,38.2 513.5,39.2 C512.9,40.2 509.2,40.4 509.2,42.3 C509.2,44.3 512.9,48.4 513.5,50.8 C514.1,53.2 513.9,55.4 512.8,56.8 C511.7,58.2 509.0,59.7 506.7,59.3 C504.5,58.8 501.9,56.2 499.5,54.4 C497.1,52.6 493.6,50.4 492.2,48.4 C490.8,46.4 490.8,44.5 491.0,42.3 Z" fill="#d88898" filter="url(#umapSp)"/>
<g fill="#d88898" opacity="0.6"><circle cx="501.0" cy="48.0" r="0.55"/><circle cx="494.3" cy="41.7" r="0.55"/><circle cx="505.9" cy="49.2" r="0.55"/><circle cx="496.1" cy="49.1" r="0.55"/><circle cx="501.8" cy="34.4" r="0.55"/><circle cx="513.5" cy="51.5" r="0.55"/><circle cx="510.0" cy="50.0" r="0.55"/><circle cx="491.9" cy="35.5" r="0.55"/><circle cx="494.4" cy="37.1" r="0.55"/><circle cx="496.8" cy="46.5" r="0.55"/><circle cx="508.0" cy="50.2" r="0.55"/><circle cx="501.7" cy="30.6" r="0.55"/><circle cx="512.9" cy="51.9" r="0.55"/><circle cx="511.0" cy="53.0" r="0.55"/><circle cx="508.5" cy="48.4" r="0.55"/><circle cx="499.6" cy="51.7" r="0.55"/><circle cx="497.6" cy="47.1" r="0.55"/><circle cx="510.8" cy="48.8" r="0.55"/><circle cx="503.0" cy="48.7" r="0.55"/><circle cx="493.8" cy="35.4" r="0.55"/><circle cx="510.4" cy="47.8" r="0.55"/><circle cx="510.8" cy="41.3" r="0.55"/><circle cx="501.3" cy="48.1" r="0.55"/><circle cx="505.9" cy="53.6" r="0.55"/><circle cx="501.6" cy="50.1" r="0.55"/><circle cx="488.9" cy="40.6" r="0.55"/><circle cx="507.7" cy="53.7" r="0.55"/><circle cx="507.4" cy="43.6" r="0.55"/><circle cx="515.2" cy="36.3" r="0.55"/><circle cx="507.3" cy="44.4" r="0.55"/><circle cx="507.9" cy="44.5" r="0.55"/><circle cx="513.0" cy="42.3" r="0.55"/><circle cx="496.9" cy="40.2" r="0.55"/><circle cx="511.2" cy="40.3" r="0.55"/><circle cx="509.8" cy="40.1" r="0.55"/><circle cx="512.8" cy="38.3" r="0.55"/><circle cx="507.2" cy="59.4" r="0.55"/><circle cx="503.1" cy="37.6" r="0.55"/><circle cx="496.3" cy="48.6" r="0.55"/><circle cx="508.5" cy="42.7" r="0.55"/><circle cx="497.9" cy="48.9" r="0.55"/><circle cx="506.4" cy="54.1" r="0.55"/><circle cx="491.0" cy="36.0" r="0.55"/><circle cx="492.5" cy="46.1" r="0.55"/><circle cx="497.8" cy="54.7" r="0.55"/><circle cx="507.5" cy="42.9" r="0.55"/><circle cx="499.4" cy="39.6" r="0.55"/><circle cx="492.9" cy="50.4" r="0.55"/><circle cx="505.2" cy="49.1" r="0.55"/><circle cx="506.9" cy="59.1" r="0.55"/><circle cx="497.2" cy="37.0" r="0.55"/><circle cx="508.8" cy="50.6" r="0.55"/><circle cx="499.0" cy="40.4" r="0.55"/><circle cx="516.1" cy="40.6" r="0.55"/><circle cx="503.6" cy="30.7" r="0.55"/><circle cx="514.4" cy="56.6" r="0.55"/><circle cx="500.3" cy="51.4" r="0.55"/><circle cx="499.8" cy="30.0" r="0.55"/><circle cx="512.4" cy="36.8" r="0.55"/><circle cx="502.3" cy="34.7" r="0.55"/></g>
<path d="M492.2,88.3 C492.3,85.7 493.1,81.8 495.1,79.8 C497.1,77.8 500.8,76.6 504.3,76.2 C507.9,75.8 513.4,76.9 516.4,77.4 C519.4,77.9 521.9,78.3 522.5,79.3 C523.1,80.3 520.2,81.3 520.0,83.4 C519.8,85.5 522.3,88.9 521.2,91.9 C520.2,94.9 517.2,100.3 514.0,101.6 C510.8,102.9 505.1,100.6 501.9,99.6 C498.7,98.6 496.3,97.4 494.6,95.5 C493.0,93.6 492.1,90.9 492.2,88.3 Z" fill="#c898b0" opacity="0.72"/>
<path d="M492.2,88.3 C492.3,85.7 493.1,81.8 495.1,79.8 C497.1,77.8 500.8,76.6 504.3,76.2 C507.9,75.8 513.4,76.9 516.4,77.4 C519.4,77.9 521.9,78.3 522.5,79.3 C523.1,80.3 520.2,81.3 520.0,83.4 C519.8,85.5 522.3,88.9 521.2,91.9 C520.2,94.9 517.2,100.3 514.0,101.6 C510.8,102.9 505.1,100.6 501.9,99.6 C498.7,98.6 496.3,97.4 494.6,95.5 C493.0,93.6 492.1,90.9 492.2,88.3 Z" fill="#c898b0" filter="url(#umapSp)"/>
<g fill="#c898b0" opacity="0.6"><circle cx="502.6" cy="86.2" r="0.55"/><circle cx="520.7" cy="91.2" r="0.55"/><circle cx="517.2" cy="83.9" r="0.55"/><circle cx="495.8" cy="87.4" r="0.55"/><circle cx="515.1" cy="86.2" r="0.55"/><circle cx="505.3" cy="81.9" r="0.55"/><circle cx="515.3" cy="76.9" r="0.55"/><circle cx="501.3" cy="90.5" r="0.55"/><circle cx="499.9" cy="86.9" r="0.55"/><circle cx="517.7" cy="81.9" r="0.55"/><circle cx="512.6" cy="81.0" r="0.55"/><circle cx="511.8" cy="81.0" r="0.55"/><circle cx="505.3" cy="82.2" r="0.55"/><circle cx="522.5" cy="93.1" r="0.55"/><circle cx="514.1" cy="81.1" r="0.55"/><circle cx="520.8" cy="79.5" r="0.55"/><circle cx="500.9" cy="89.5" r="0.55"/><circle cx="520.5" cy="91.0" r="0.55"/><circle cx="516.2" cy="102.2" r="0.55"/><circle cx="507.5" cy="84.5" r="0.55"/><circle cx="513.1" cy="81.3" r="0.55"/><circle cx="512.6" cy="97.6" r="0.55"/><circle cx="502.3" cy="74.1" r="0.55"/><circle cx="516.8" cy="83.3" r="0.55"/><circle cx="502.9" cy="90.8" r="0.55"/><circle cx="500.4" cy="91.8" r="0.55"/><circle cx="502.3" cy="82.9" r="0.55"/><circle cx="525.6" cy="79.2" r="0.55"/><circle cx="505.9" cy="82.8" r="0.55"/><circle cx="519.7" cy="82.1" r="0.55"/><circle cx="519.0" cy="84.1" r="0.55"/><circle cx="511.6" cy="83.8" r="0.55"/><circle cx="513.2" cy="98.7" r="0.55"/><circle cx="506.5" cy="84.8" r="0.55"/><circle cx="502.8" cy="89.5" r="0.55"/><circle cx="496.7" cy="92.9" r="0.55"/><circle cx="503.1" cy="87.1" r="0.55"/><circle cx="498.6" cy="92.6" r="0.55"/><circle cx="512.0" cy="85.9" r="0.55"/><circle cx="499.7" cy="92.4" r="0.55"/><circle cx="520.9" cy="83.8" r="0.55"/><circle cx="496.2" cy="94.2" r="0.55"/><circle cx="505.1" cy="97.7" r="0.55"/><circle cx="514.4" cy="84.0" r="0.55"/><circle cx="512.9" cy="86.0" r="0.55"/><circle cx="514.9" cy="85.6" r="0.55"/><circle cx="503.7" cy="98.2" r="0.55"/><circle cx="515.3" cy="90.2" r="0.55"/><circle cx="509.5" cy="92.8" r="0.55"/><circle cx="496.9" cy="87.2" r="0.55"/><circle cx="509.3" cy="90.4" r="0.55"/><circle cx="496.1" cy="94.4" r="0.55"/><circle cx="505.2" cy="90.3" r="0.55"/><circle cx="499.0" cy="81.2" r="0.55"/><circle cx="505.4" cy="96.7" r="0.55"/><circle cx="515.7" cy="102.7" r="0.55"/><circle cx="516.9" cy="79.1" r="0.55"/><circle cx="506.6" cy="83.8" r="0.55"/><circle cx="489.5" cy="88.4" r="0.55"/><circle cx="516.9" cy="85.4" r="0.55"/></g>
<line x1="465.62" y1="53.20" x2="471.67" y2="33.86" stroke="#c080a0" stroke-width="1.0" />
<line x1="469.25" y1="52.00" x2="477.71" y2="36.28" stroke="#c080a0" stroke-width="1.0" />
<line x1="473.36" y1="47.16" x2="480.13" y2="35.79" stroke="#c080a0" stroke-width="1.0" />
<line x1="468.04" y1="49.58" x2="475.78" y2="32.65" stroke="#c080a0" stroke-width="1.0" />
<circle cx="470.9" cy="77.6" r="0.5" fill="#e0a0c0" opacity="0.5"/>
<circle cx="485.6" cy="78.9" r="0.5" fill="#e0a0c0" opacity="0.5"/>
<circle cx="463.4" cy="53.0" r="0.5" fill="#e0a0c0" opacity="0.5"/>
<circle cx="467.4" cy="57.7" r="0.5" fill="#e0a0c0" opacity="0.5"/>
<circle cx="466.4" cy="65.7" r="0.5" fill="#e0a0c0" opacity="0.5"/>
<circle cx="482.7" cy="53.0" r="0.5" fill="#e0a0c0" opacity="0.5"/>
<circle cx="480.6" cy="67.1" r="0.5" fill="#e0a0c0" opacity="0.5"/>
<circle cx="481.9" cy="67.8" r="0.5" fill="#e0a0c0" opacity="0.5"/>
<circle cx="472.1" cy="58.3" r="0.5" fill="#e0a0c0" opacity="0.5"/>
<circle cx="470.8" cy="70.8" r="0.5" fill="#e0a0c0" opacity="0.5"/>
<circle cx="458.4" cy="53.1" r="0.5" fill="#e0a0c0" opacity="0.5"/>
<circle cx="473.9" cy="77.1" r="0.5" fill="#e0a0c0" opacity="0.5"/>
<circle cx="465.4" cy="69.3" r="0.5" fill="#e0a0c0" opacity="0.5"/>
<circle cx="459.6" cy="75.6" r="0.5" fill="#e0a0c0" opacity="0.5"/>
<circle cx="474.1" cy="79.1" r="0.5" fill="#e0a0c0" opacity="0.5"/>
<circle cx="465.6" cy="66.0" r="0.5" fill="#e0a0c0" opacity="0.5"/>
<circle cx="462.1" cy="49.1" r="0.5" fill="#e0a0c0" opacity="0.5"/>
<circle cx="471.9" cy="60.5" r="0.5" fill="#e0a0c0" opacity="0.5"/>
<circle cx="480.1" cy="44.5" r="0.5" fill="#e0a0c0" opacity="0.5"/>
<circle cx="466.8" cy="71.5" r="0.5" fill="#e0a0c0" opacity="0.5"/>
<circle cx="461.6" cy="55.4" r="0.5" fill="#e0a0c0" opacity="0.5"/>
<circle cx="460.1" cy="44.5" r="0.5" fill="#e0a0c0" opacity="0.5"/>
<circle cx="475.1" cy="64.6" r="0.5" fill="#e0a0c0" opacity="0.5"/>
<circle cx="467.9" cy="60.4" r="0.5" fill="#e0a0c0" opacity="0.5"/>
<circle cx="460.2" cy="47.5" r="0.5" fill="#e0a0c0" opacity="0.5"/>
<circle cx="465.2" cy="79.5" r="0.5" fill="#e0a0c0" opacity="0.5"/>
<circle cx="460.4" cy="47.0" r="0.5" fill="#e0a0c0" opacity="0.5"/>
<circle cx="480.5" cy="45.4" r="0.5" fill="#e0a0c0" opacity="0.5"/>
<circle cx="482.2" cy="62.6" r="0.5" fill="#e0a0c0" opacity="0.5"/>
<circle cx="467.4" cy="77.4" r="0.5" fill="#e0a0c0" opacity="0.5"/>
<circle cx="469.8" cy="59.3" r="0.5" fill="#e0a0c0" opacity="0.5"/>
<circle cx="470.9" cy="55.9" r="0.5" fill="#e0a0c0" opacity="0.5"/>
<circle cx="488.5" cy="54.3" r="0.5" fill="#e0a0c0" opacity="0.5"/>
<circle cx="485.4" cy="74.6" r="0.5" fill="#e0a0c0" opacity="0.5"/>
<circle cx="475.1" cy="51.3" r="0.5" fill="#e0a0c0" opacity="0.5"/>
<circle cx="487.3" cy="72.2" r="0.5" fill="#e0a0c0" opacity="0.5"/>
<circle cx="487.2" cy="46.4" r="0.5" fill="#e0a0c0" opacity="0.5"/>
<circle cx="471.9" cy="60.8" r="0.5" fill="#e0a0c0" opacity="0.5"/>
<circle cx="471.4" cy="66.4" r="0.5" fill="#e0a0c0" opacity="0.5"/>
<circle cx="483.8" cy="77.1" r="0.5" fill="#e0a0c0" opacity="0.5"/>
<circle cx="474.1" cy="77.9" r="0.5" fill="#e0a0c0" opacity="0.5"/>
<circle cx="476.8" cy="58.8" r="0.5" fill="#e0a0c0" opacity="0.5"/>
<circle cx="458.8" cy="46.7" r="0.5" fill="#e0a0c0" opacity="0.5"/>
<circle cx="464.1" cy="79.3" r="0.5" fill="#e0a0c0" opacity="0.5"/>
<circle cx="477.7" cy="50.2" r="0.5" fill="#e0a0c0" opacity="0.5"/>
<circle cx="488.8" cy="72.1" r="0.5" fill="#e0a0c0" opacity="0.5"/>
<circle cx="476.7" cy="77.4" r="0.5" fill="#e0a0c0" opacity="0.5"/>
<circle cx="466.8" cy="72.5" r="0.5" fill="#e0a0c0" opacity="0.5"/>
<circle cx="459.7" cy="45.6" r="0.5" fill="#e0a0c0" opacity="0.5"/>
<circle cx="460.3" cy="78.9" r="0.5" fill="#e0a0c0" opacity="0.5"/>
<circle cx="488.3" cy="50.6" r="0.5" fill="#e0a0c0" opacity="0.5"/>
<circle cx="466.3" cy="76.3" r="0.5" fill="#e0a0c0" opacity="0.5"/>
<circle cx="475.7" cy="43.6" r="0.5" fill="#e0a0c0" opacity="0.5"/>
<circle cx="473.0" cy="65.8" r="0.5" fill="#e0a0c0" opacity="0.5"/>
<circle cx="485.7" cy="79.6" r="0.5" fill="#e0a0c0" opacity="0.5"/>
<circle cx="474.0" cy="72.0" r="0.5" fill="#e0a0c0" opacity="0.5"/>
<circle cx="466.1" cy="73.1" r="0.5" fill="#e0a0c0" opacity="0.5"/>
<circle cx="465.9" cy="74.8" r="0.5" fill="#e0a0c0" opacity="0.5"/>
<circle cx="471.2" cy="46.7" r="0.5" fill="#e0a0c0" opacity="0.5"/>
<circle cx="476.1" cy="52.4" r="0.5" fill="#e0a0c0" opacity="0.5"/>
<g fill="#2d7ab8" opacity="0.55"><circle cx="446.4" cy="95.6" r="0.6"/><circle cx="424.4" cy="84.2" r="0.6"/><circle cx="486.7" cy="83.0" r="0.6"/><circle cx="459.1" cy="114.8" r="0.6"/><circle cx="469.1" cy="87.3" r="0.6"/><circle cx="468.6" cy="98.4" r="0.6"/><circle cx="441.1" cy="98.1" r="0.6"/><circle cx="446.9" cy="83.3" r="0.6"/><circle cx="466.2" cy="79.0" r="0.6"/><circle cx="447.6" cy="88.4" r="0.6"/><circle cx="468.5" cy="101.1" r="0.6"/><circle cx="459.8" cy="78.7" r="0.6"/></g>
<g fill="#f88a2a" opacity="0.55"><circle cx="456.1" cy="94.6" r="0.6"/><circle cx="476.0" cy="94.9" r="0.6"/><circle cx="466.0" cy="73.7" r="0.6"/><circle cx="430.2" cy="69.5" r="0.6"/><circle cx="450.0" cy="105.9" r="0.6"/><circle cx="443.2" cy="78.1" r="0.6"/><circle cx="467.9" cy="85.5" r="0.6"/><circle cx="462.6" cy="106.8" r="0.6"/><circle cx="463.6" cy="102.5" r="0.6"/><circle cx="471.8" cy="90.8" r="0.6"/><circle cx="476.1" cy="95.3" r="0.6"/><circle cx="486.5" cy="86.1" r="0.6"/></g>
<g fill="#2e9e60" opacity="0.55"><circle cx="474.3" cy="95.7" r="0.6"/><circle cx="489.1" cy="95.7" r="0.6"/><circle cx="440.1" cy="95.8" r="0.6"/><circle cx="443.9" cy="96.1" r="0.6"/><circle cx="462.5" cy="79.8" r="0.6"/><circle cx="459.2" cy="107.0" r="0.6"/><circle cx="440.4" cy="108.8" r="0.6"/><circle cx="459.1" cy="74.4" r="0.6"/><circle cx="466.2" cy="107.6" r="0.6"/><circle cx="467.2" cy="66.7" r="0.6"/><circle cx="475.2" cy="96.1" r="0.6"/><circle cx="462.0" cy="80.6" r="0.6"/></g>
<g fill="#d62828" opacity="0.55"><circle cx="465.8" cy="72.3" r="0.6"/><circle cx="453.4" cy="65.3" r="0.6"/><circle cx="460.0" cy="99.6" r="0.6"/><circle cx="445.6" cy="103.4" r="0.6"/><circle cx="483.7" cy="89.0" r="0.6"/><circle cx="488.9" cy="96.0" r="0.6"/><circle cx="442.9" cy="76.6" r="0.6"/><circle cx="478.7" cy="88.7" r="0.6"/><circle cx="473.7" cy="104.9" r="0.6"/><circle cx="468.1" cy="108.4" r="0.6"/><circle cx="466.5" cy="121.4" r="0.6"/><circle cx="455.5" cy="104.9" r="0.6"/></g>
<g fill="#a040f0" opacity="0.55"><circle cx="458.8" cy="104.7" r="0.6"/><circle cx="466.6" cy="103.1" r="0.6"/><circle cx="466.6" cy="107.2" r="0.6"/><circle cx="480.5" cy="86.1" r="0.6"/><circle cx="462.6" cy="114.2" r="0.6"/><circle cx="464.0" cy="72.7" r="0.6"/><circle cx="475.4" cy="85.8" r="0.6"/><circle cx="465.4" cy="75.1" r="0.6"/><circle cx="474.1" cy="105.0" r="0.6"/><circle cx="486.2" cy="83.6" r="0.6"/><circle cx="486.5" cy="87.8" r="0.6"/><circle cx="452.6" cy="100.5" r="0.6"/></g>
<g fill="#8c564b" opacity="0.55"><circle cx="459.2" cy="74.6" r="0.6"/><circle cx="490.9" cy="97.0" r="0.6"/><circle cx="444.4" cy="102.2" r="0.6"/><circle cx="443.9" cy="94.5" r="0.6"/><circle cx="459.4" cy="71.9" r="0.6"/><circle cx="443.3" cy="80.4" r="0.6"/><circle cx="457.2" cy="98.6" r="0.6"/><circle cx="472.4" cy="104.7" r="0.6"/><circle cx="458.9" cy="120.4" r="0.6"/><circle cx="464.7" cy="75.4" r="0.6"/><circle cx="458.6" cy="105.1" r="0.6"/><circle cx="478.8" cy="94.7" r="0.6"/></g>
<g fill="#e377c2" opacity="0.55"><circle cx="459.7" cy="62.2" r="0.6"/><circle cx="441.7" cy="58.0" r="0.6"/><circle cx="451.7" cy="102.4" r="0.6"/><circle cx="449.3" cy="72.8" r="0.6"/><circle cx="475.9" cy="93.7" r="0.6"/><circle cx="429.4" cy="86.2" r="0.6"/><circle cx="434.4" cy="72.9" r="0.6"/><circle cx="479.3" cy="95.5" r="0.6"/><circle cx="474.3" cy="104.6" r="0.6"/><circle cx="454.9" cy="81.3" r="0.6"/><circle cx="457.2" cy="55.2" r="0.6"/><circle cx="469.3" cy="114.3" r="0.6"/></g>
<g fill="#bcbd22" opacity="0.55"><circle cx="439.9" cy="85.9" r="0.6"/><circle cx="474.2" cy="110.9" r="0.6"/><circle cx="462.6" cy="119.3" r="0.6"/><circle cx="469.1" cy="112.1" r="0.6"/><circle cx="472.2" cy="93.2" r="0.6"/><circle cx="459.5" cy="118.3" r="0.6"/><circle cx="448.6" cy="104.8" r="0.6"/><circle cx="451.1" cy="54.3" r="0.6"/><circle cx="473.4" cy="122.2" r="0.6"/><circle cx="451.0" cy="77.8" r="0.6"/><circle cx="456.2" cy="61.0" r="0.6"/><circle cx="463.2" cy="101.9" r="0.6"/></g>
<g fill="#2d7ab8" opacity="0.55"><circle cx="478.0" cy="60.5" r="0.6"/><circle cx="500.4" cy="72.0" r="0.6"/><circle cx="469.8" cy="60.4" r="0.6"/><circle cx="490.9" cy="66.8" r="0.6"/><circle cx="498.9" cy="57.2" r="0.6"/><circle cx="485.5" cy="58.1" r="0.6"/><circle cx="481.4" cy="68.5" r="0.6"/><circle cx="483.4" cy="55.2" r="0.6"/><circle cx="475.2" cy="54.6" r="0.6"/><circle cx="492.5" cy="68.1" r="0.6"/><circle cx="468.5" cy="63.5" r="0.6"/><circle cx="481.5" cy="72.1" r="0.6"/></g>
<g fill="#f88a2a" opacity="0.55"><circle cx="492.9" cy="74.0" r="0.6"/><circle cx="480.7" cy="70.2" r="0.6"/><circle cx="499.1" cy="69.7" r="0.6"/><circle cx="491.7" cy="73.3" r="0.6"/><circle cx="497.2" cy="61.0" r="0.6"/><circle cx="497.0" cy="60.3" r="0.6"/><circle cx="496.8" cy="59.7" r="0.6"/><circle cx="494.2" cy="60.7" r="0.6"/><circle cx="475.1" cy="55.9" r="0.6"/><circle cx="482.4" cy="57.7" r="0.6"/><circle cx="487.0" cy="63.8" r="0.6"/><circle cx="470.4" cy="72.9" r="0.6"/></g>
<g fill="#2e9e60" opacity="0.55"><circle cx="481.0" cy="56.0" r="0.6"/><circle cx="503.2" cy="72.9" r="0.6"/><circle cx="472.8" cy="61.7" r="0.6"/><circle cx="484.0" cy="57.5" r="0.6"/><circle cx="489.5" cy="59.2" r="0.6"/><circle cx="491.7" cy="68.5" r="0.6"/><circle cx="491.6" cy="62.1" r="0.6"/><circle cx="480.2" cy="60.8" r="0.6"/><circle cx="471.5" cy="62.8" r="0.6"/><circle cx="484.6" cy="56.0" r="0.6"/><circle cx="486.1" cy="68.3" r="0.6"/><circle cx="465.8" cy="71.3" r="0.6"/></g>
<g fill="#d62828" opacity="0.55"><circle cx="468.8" cy="69.0" r="0.6"/><circle cx="479.5" cy="62.4" r="0.6"/><circle cx="484.3" cy="71.3" r="0.6"/><circle cx="482.5" cy="48.3" r="0.6"/><circle cx="466.0" cy="69.6" r="0.6"/><circle cx="477.0" cy="65.7" r="0.6"/><circle cx="464.2" cy="69.5" r="0.6"/><circle cx="481.3" cy="69.9" r="0.6"/><circle cx="495.8" cy="61.4" r="0.6"/><circle cx="476.7" cy="55.2" r="0.6"/><circle cx="468.8" cy="67.9" r="0.6"/><circle cx="496.0" cy="68.1" r="0.6"/></g>
<g fill="#a040f0" opacity="0.55"><circle cx="489.3" cy="54.5" r="0.6"/><circle cx="481.7" cy="65.4" r="0.6"/><circle cx="487.7" cy="49.7" r="0.6"/><circle cx="472.5" cy="63.4" r="0.6"/><circle cx="472.4" cy="71.1" r="0.6"/><circle cx="481.2" cy="57.1" r="0.6"/><circle cx="497.0" cy="60.2" r="0.6"/><circle cx="501.6" cy="73.4" r="0.6"/><circle cx="475.2" cy="57.7" r="0.6"/><circle cx="465.5" cy="68.9" r="0.6"/><circle cx="497.4" cy="69.6" r="0.6"/><circle cx="478.4" cy="57.9" r="0.6"/></g>
<g fill="#8c564b" opacity="0.55"><circle cx="471.7" cy="60.2" r="0.6"/><circle cx="475.5" cy="62.3" r="0.6"/><circle cx="489.5" cy="48.7" r="0.6"/><circle cx="489.5" cy="66.6" r="0.6"/><circle cx="476.6" cy="57.3" r="0.6"/><circle cx="474.7" cy="63.1" r="0.6"/><circle cx="478.1" cy="58.6" r="0.6"/><circle cx="473.2" cy="61.3" r="0.6"/><circle cx="475.1" cy="70.5" r="0.6"/><circle cx="477.6" cy="57.2" r="0.6"/><circle cx="477.5" cy="63.5" r="0.6"/><circle cx="480.7" cy="45.8" r="0.6"/></g>
<g fill="#e377c2" opacity="0.55"><circle cx="491.5" cy="71.7" r="0.6"/><circle cx="481.2" cy="55.1" r="0.6"/><circle cx="498.2" cy="59.0" r="0.6"/><circle cx="483.2" cy="49.3" r="0.6"/><circle cx="466.1" cy="67.8" r="0.6"/><circle cx="480.6" cy="50.7" r="0.6"/><circle cx="467.2" cy="63.5" r="0.6"/><circle cx="493.2" cy="60.7" r="0.6"/><circle cx="467.0" cy="59.8" r="0.6"/><circle cx="483.0" cy="72.0" r="0.6"/><circle cx="469.4" cy="66.7" r="0.6"/><circle cx="497.3" cy="70.7" r="0.6"/></g>
<g fill="#bcbd22" opacity="0.55"><circle cx="495.9" cy="75.7" r="0.6"/><circle cx="482.7" cy="72.4" r="0.6"/><circle cx="497.7" cy="60.0" r="0.6"/><circle cx="480.7" cy="53.1" r="0.6"/><circle cx="496.5" cy="61.9" r="0.6"/><circle cx="495.5" cy="67.6" r="0.6"/><circle cx="483.4" cy="58.3" r="0.6"/><circle cx="489.6" cy="51.7" r="0.6"/><circle cx="472.6" cy="70.8" r="0.6"/><circle cx="476.5" cy="62.7" r="0.6"/><circle cx="505.8" cy="72.9" r="0.6"/><circle cx="484.2" cy="73.3" r="0.6"/></g>
<g fill="#2d7ab8" opacity="0.55"><circle cx="457.5" cy="45.2" r="0.6"/><circle cx="457.5" cy="43.7" r="0.6"/><circle cx="461.7" cy="43.9" r="0.6"/><circle cx="457.4" cy="27.1" r="0.6"/><circle cx="456.9" cy="29.3" r="0.6"/><circle cx="455.6" cy="44.6" r="0.6"/><circle cx="461.6" cy="34.6" r="0.6"/><circle cx="457.2" cy="42.2" r="0.6"/><circle cx="462.0" cy="26.9" r="0.6"/><circle cx="458.3" cy="49.8" r="0.6"/><circle cx="458.2" cy="31.7" r="0.6"/><circle cx="466.8" cy="32.4" r="0.6"/></g>
<g fill="#f88a2a" opacity="0.55"><circle cx="458.1" cy="32.6" r="0.6"/><circle cx="459.4" cy="41.8" r="0.6"/><circle cx="451.3" cy="45.3" r="0.6"/><circle cx="458.0" cy="29.5" r="0.6"/><circle cx="459.2" cy="46.6" r="0.6"/><circle cx="458.7" cy="31.7" r="0.6"/><circle cx="454.7" cy="35.1" r="0.6"/><circle cx="453.3" cy="35.9" r="0.6"/><circle cx="458.3" cy="30.4" r="0.6"/><circle cx="454.2" cy="35.0" r="0.6"/><circle cx="466.1" cy="30.3" r="0.6"/><circle cx="451.8" cy="41.9" r="0.6"/></g>
<g fill="#2e9e60" opacity="0.55"><circle cx="456.2" cy="32.7" r="0.6"/><circle cx="456.6" cy="40.2" r="0.6"/><circle cx="459.0" cy="33.0" r="0.6"/><circle cx="454.6" cy="49.1" r="0.6"/><circle cx="460.4" cy="36.5" r="0.6"/><circle cx="447.5" cy="34.0" r="0.6"/><circle cx="453.1" cy="34.6" r="0.6"/><circle cx="456.2" cy="35.5" r="0.6"/><circle cx="455.3" cy="41.6" r="0.6"/><circle cx="449.9" cy="42.3" r="0.6"/><circle cx="456.5" cy="49.1" r="0.6"/><circle cx="453.2" cy="36.1" r="0.6"/></g>
<g fill="#d62828" opacity="0.55"><circle cx="454.1" cy="50.9" r="0.6"/><circle cx="464.0" cy="24.4" r="0.6"/><circle cx="453.1" cy="47.7" r="0.6"/><circle cx="455.0" cy="44.4" r="0.6"/><circle cx="460.2" cy="40.1" r="0.6"/><circle cx="455.5" cy="38.3" r="0.6"/><circle cx="453.4" cy="46.7" r="0.6"/><circle cx="448.8" cy="43.9" r="0.6"/><circle cx="460.4" cy="35.8" r="0.6"/><circle cx="453.5" cy="34.4" r="0.6"/><circle cx="458.2" cy="44.6" r="0.6"/><circle cx="455.3" cy="31.1" r="0.6"/></g>
<g fill="#a040f0" opacity="0.55"><circle cx="461.3" cy="40.8" r="0.6"/><circle cx="465.4" cy="28.9" r="0.6"/><circle cx="448.2" cy="33.1" r="0.6"/><circle cx="456.2" cy="35.7" r="0.6"/><circle cx="463.9" cy="31.7" r="0.6"/><circle cx="451.5" cy="34.4" r="0.6"/><circle cx="460.2" cy="39.2" r="0.6"/><circle cx="458.9" cy="48.4" r="0.6"/><circle cx="453.6" cy="48.2" r="0.6"/><circle cx="454.5" cy="26.9" r="0.6"/><circle cx="456.8" cy="43.0" r="0.6"/><circle cx="458.8" cy="50.4" r="0.6"/></g>
<g fill="#8c564b" opacity="0.55"><circle cx="455.6" cy="40.0" r="0.6"/><circle cx="453.1" cy="35.2" r="0.6"/><circle cx="461.7" cy="30.4" r="0.6"/><circle cx="450.6" cy="43.4" r="0.6"/><circle cx="450.0" cy="34.1" r="0.6"/><circle cx="465.5" cy="33.7" r="0.6"/><circle cx="463.9" cy="28.3" r="0.6"/><circle cx="457.8" cy="46.2" r="0.6"/><circle cx="451.1" cy="41.8" r="0.6"/><circle cx="457.6" cy="42.3" r="0.6"/><circle cx="464.8" cy="33.9" r="0.6"/><circle cx="458.2" cy="33.0" r="0.6"/></g>
<g fill="#e377c2" opacity="0.55"><circle cx="456.5" cy="24.2" r="0.6"/><circle cx="454.0" cy="46.7" r="0.6"/><circle cx="447.8" cy="33.2" r="0.6"/><circle cx="450.6" cy="41.3" r="0.6"/><circle cx="461.6" cy="40.1" r="0.6"/><circle cx="460.5" cy="29.1" r="0.6"/><circle cx="455.1" cy="42.3" r="0.6"/><circle cx="448.0" cy="43.3" r="0.6"/><circle cx="456.3" cy="43.3" r="0.6"/><circle cx="464.8" cy="32.6" r="0.6"/><circle cx="462.8" cy="40.7" r="0.6"/><circle cx="463.1" cy="40.7" r="0.6"/></g>
<g fill="#bcbd22" opacity="0.55"><circle cx="451.4" cy="45.2" r="0.6"/><circle cx="454.7" cy="26.0" r="0.6"/><circle cx="464.0" cy="40.5" r="0.6"/><circle cx="455.9" cy="43.4" r="0.6"/><circle cx="456.0" cy="28.7" r="0.6"/><circle cx="456.2" cy="33.4" r="0.6"/><circle cx="456.0" cy="40.1" r="0.6"/><circle cx="457.6" cy="26.7" r="0.6"/><circle cx="454.9" cy="29.5" r="0.6"/><circle cx="463.5" cy="40.8" r="0.6"/><circle cx="460.3" cy="50.7" r="0.6"/><circle cx="461.3" cy="33.5" r="0.6"/></g>
<g fill="#2d7ab8" opacity="0.55"><circle cx="495.0" cy="46.7" r="0.6"/><circle cx="507.2" cy="52.8" r="0.6"/><circle cx="505.5" cy="61.3" r="0.6"/><circle cx="501.1" cy="33.2" r="0.6"/><circle cx="504.4" cy="51.7" r="0.6"/><circle cx="495.8" cy="49.0" r="0.6"/><circle cx="499.4" cy="51.4" r="0.6"/><circle cx="498.0" cy="47.9" r="0.6"/><circle cx="502.8" cy="48.6" r="0.6"/><circle cx="496.0" cy="37.5" r="0.6"/><circle cx="499.5" cy="46.9" r="0.6"/><circle cx="499.8" cy="45.0" r="0.6"/></g>
<g fill="#f88a2a" opacity="0.55"><circle cx="499.9" cy="55.4" r="0.6"/><circle cx="505.0" cy="58.8" r="0.6"/><circle cx="508.0" cy="44.3" r="0.6"/><circle cx="506.0" cy="59.3" r="0.6"/><circle cx="507.7" cy="42.4" r="0.6"/><circle cx="501.8" cy="40.3" r="0.6"/><circle cx="502.0" cy="43.6" r="0.6"/><circle cx="511.7" cy="51.3" r="0.6"/><circle cx="497.7" cy="47.5" r="0.6"/><circle cx="509.0" cy="43.8" r="0.6"/><circle cx="503.0" cy="35.7" r="0.6"/><circle cx="513.6" cy="54.2" r="0.6"/></g>
<g fill="#2e9e60" opacity="0.55"><circle cx="506.9" cy="50.4" r="0.6"/><circle cx="503.1" cy="30.4" r="0.6"/><circle cx="511.5" cy="50.4" r="0.6"/><circle cx="513.0" cy="36.6" r="0.6"/><circle cx="511.8" cy="38.3" r="0.6"/><circle cx="510.3" cy="47.9" r="0.6"/><circle cx="507.2" cy="56.1" r="0.6"/><circle cx="495.0" cy="48.2" r="0.6"/><circle cx="496.9" cy="42.1" r="0.6"/><circle cx="507.4" cy="41.5" r="0.6"/><circle cx="510.2" cy="51.3" r="0.6"/><circle cx="501.7" cy="53.1" r="0.6"/></g>
<g fill="#d62828" opacity="0.55"><circle cx="502.6" cy="49.3" r="0.6"/><circle cx="503.7" cy="51.1" r="0.6"/><circle cx="497.8" cy="36.4" r="0.6"/><circle cx="506.8" cy="46.1" r="0.6"/><circle cx="511.1" cy="47.1" r="0.6"/><circle cx="511.1" cy="49.6" r="0.6"/><circle cx="509.7" cy="49.2" r="0.6"/><circle cx="507.3" cy="59.7" r="0.6"/><circle cx="496.4" cy="45.8" r="0.6"/><circle cx="512.7" cy="51.1" r="0.6"/><circle cx="496.4" cy="48.6" r="0.6"/><circle cx="508.5" cy="41.9" r="0.6"/></g>
<g fill="#a040f0" opacity="0.55"><circle cx="498.3" cy="45.3" r="0.6"/><circle cx="509.1" cy="42.6" r="0.6"/><circle cx="501.1" cy="35.2" r="0.6"/><circle cx="515.2" cy="52.0" r="0.6"/><circle cx="514.8" cy="57.1" r="0.6"/><circle cx="496.1" cy="40.1" r="0.6"/><circle cx="502.9" cy="49.8" r="0.6"/><circle cx="502.7" cy="51.8" r="0.6"/><circle cx="505.4" cy="54.4" r="0.6"/><circle cx="497.0" cy="45.1" r="0.6"/><circle cx="494.1" cy="34.0" r="0.6"/><circle cx="493.2" cy="48.6" r="0.6"/></g>
<g fill="#8c564b" opacity="0.55"><circle cx="507.7" cy="48.8" r="0.6"/><circle cx="497.6" cy="42.1" r="0.6"/><circle cx="507.9" cy="61.2" r="0.6"/><circle cx="492.5" cy="47.9" r="0.6"/><circle cx="507.5" cy="50.5" r="0.6"/><circle cx="499.3" cy="52.1" r="0.6"/><circle cx="514.3" cy="36.4" r="0.6"/><circle cx="491.9" cy="32.8" r="0.6"/><circle cx="507.9" cy="44.8" r="0.6"/><circle cx="507.7" cy="39.2" r="0.6"/><circle cx="509.8" cy="51.6" r="0.6"/><circle cx="495.4" cy="42.2" r="0.6"/></g>
<g fill="#e377c2" opacity="0.55"><circle cx="512.6" cy="55.9" r="0.6"/><circle cx="505.2" cy="52.0" r="0.6"/><circle cx="512.5" cy="49.5" r="0.6"/><circle cx="506.2" cy="46.7" r="0.6"/><circle cx="496.4" cy="44.0" r="0.6"/><circle cx="500.4" cy="47.4" r="0.6"/><circle cx="505.8" cy="44.2" r="0.6"/><circle cx="497.9" cy="44.7" r="0.6"/><circle cx="509.2" cy="41.0" r="0.6"/><circle cx="507.6" cy="43.4" r="0.6"/><circle cx="505.7" cy="55.8" r="0.6"/><circle cx="511.4" cy="56.7" r="0.6"/></g>
<g fill="#bcbd22" opacity="0.55"><circle cx="507.5" cy="42.1" r="0.6"/><circle cx="511.0" cy="43.3" r="0.6"/><circle cx="499.0" cy="40.9" r="0.6"/><circle cx="504.5" cy="40.1" r="0.6"/><circle cx="505.5" cy="43.3" r="0.6"/><circle cx="495.7" cy="47.7" r="0.6"/><circle cx="514.0" cy="49.5" r="0.6"/><circle cx="508.6" cy="47.7" r="0.6"/><circle cx="513.1" cy="38.1" r="0.6"/><circle cx="491.6" cy="41.4" r="0.6"/><circle cx="506.5" cy="44.9" r="0.6"/><circle cx="499.8" cy="43.3" r="0.6"/></g>
<g fill="#2d7ab8" opacity="0.55"><circle cx="507.0" cy="95.0" r="0.6"/><circle cx="518.3" cy="83.5" r="0.6"/><circle cx="495.3" cy="86.6" r="0.6"/><circle cx="515.5" cy="84.7" r="0.6"/><circle cx="495.2" cy="97.1" r="0.6"/><circle cx="518.4" cy="81.4" r="0.6"/><circle cx="514.9" cy="89.3" r="0.6"/><circle cx="493.2" cy="87.1" r="0.6"/><circle cx="494.8" cy="89.8" r="0.6"/><circle cx="505.9" cy="91.6" r="0.6"/><circle cx="509.2" cy="91.8" r="0.6"/><circle cx="498.0" cy="79.8" r="0.6"/></g>
<g fill="#f88a2a" opacity="0.55"><circle cx="517.0" cy="77.9" r="0.6"/><circle cx="494.9" cy="87.6" r="0.6"/><circle cx="513.2" cy="86.7" r="0.6"/><circle cx="499.5" cy="89.8" r="0.6"/><circle cx="503.6" cy="91.4" r="0.6"/><circle cx="500.7" cy="84.3" r="0.6"/><circle cx="503.1" cy="89.8" r="0.6"/><circle cx="507.0" cy="83.7" r="0.6"/><circle cx="500.2" cy="93.6" r="0.6"/><circle cx="512.2" cy="84.3" r="0.6"/><circle cx="503.7" cy="98.1" r="0.6"/><circle cx="498.9" cy="94.3" r="0.6"/></g>
<g fill="#2e9e60" opacity="0.55"><circle cx="511.3" cy="83.5" r="0.6"/><circle cx="518.3" cy="83.8" r="0.6"/><circle cx="495.5" cy="93.9" r="0.6"/><circle cx="504.0" cy="97.8" r="0.6"/><circle cx="490.2" cy="88.5" r="0.6"/><circle cx="511.1" cy="81.7" r="0.6"/><circle cx="512.8" cy="85.2" r="0.6"/><circle cx="501.9" cy="93.2" r="0.6"/><circle cx="515.9" cy="90.3" r="0.6"/><circle cx="514.2" cy="104.6" r="0.6"/><circle cx="512.6" cy="104.5" r="0.6"/><circle cx="516.9" cy="91.0" r="0.6"/></g>
<g fill="#d62828" opacity="0.55"><circle cx="517.1" cy="82.2" r="0.6"/><circle cx="495.9" cy="93.9" r="0.6"/><circle cx="520.5" cy="92.2" r="0.6"/><circle cx="515.6" cy="80.4" r="0.6"/><circle cx="520.2" cy="79.9" r="0.6"/><circle cx="500.6" cy="100.8" r="0.6"/><circle cx="514.2" cy="102.8" r="0.6"/><circle cx="513.7" cy="83.5" r="0.6"/><circle cx="502.8" cy="84.2" r="0.6"/><circle cx="490.7" cy="88.2" r="0.6"/><circle cx="495.1" cy="92.8" r="0.6"/><circle cx="490.8" cy="88.0" r="0.6"/></g>
<g fill="#a040f0" opacity="0.55"><circle cx="505.0" cy="74.7" r="0.6"/><circle cx="518.5" cy="91.2" r="0.6"/><circle cx="520.6" cy="83.9" r="0.6"/><circle cx="515.5" cy="100.8" r="0.6"/><circle cx="500.6" cy="90.1" r="0.6"/><circle cx="513.4" cy="81.8" r="0.6"/><circle cx="515.1" cy="78.4" r="0.6"/><circle cx="500.3" cy="92.0" r="0.6"/><circle cx="514.4" cy="87.7" r="0.6"/><circle cx="494.7" cy="79.3" r="0.6"/><circle cx="516.4" cy="75.7" r="0.6"/><circle cx="514.0" cy="83.2" r="0.6"/></g>
<g fill="#8c564b" opacity="0.55"><circle cx="502.7" cy="94.9" r="0.6"/><circle cx="502.4" cy="83.0" r="0.6"/><circle cx="514.6" cy="79.9" r="0.6"/><circle cx="514.7" cy="91.5" r="0.6"/><circle cx="503.6" cy="99.5" r="0.6"/><circle cx="499.6" cy="86.4" r="0.6"/><circle cx="507.7" cy="82.1" r="0.6"/><circle cx="513.2" cy="84.5" r="0.6"/><circle cx="513.2" cy="99.2" r="0.6"/><circle cx="502.1" cy="82.1" r="0.6"/><circle cx="513.6" cy="89.7" r="0.6"/><circle cx="503.2" cy="98.0" r="0.6"/></g>
<g fill="#e377c2" opacity="0.55"><circle cx="511.9" cy="96.3" r="0.6"/><circle cx="503.6" cy="87.3" r="0.6"/><circle cx="510.5" cy="94.8" r="0.6"/><circle cx="510.1" cy="94.6" r="0.6"/><circle cx="511.6" cy="86.0" r="0.6"/><circle cx="500.0" cy="93.2" r="0.6"/><circle cx="515.0" cy="100.7" r="0.6"/><circle cx="519.1" cy="89.2" r="0.6"/><circle cx="512.3" cy="85.5" r="0.6"/><circle cx="508.1" cy="83.8" r="0.6"/><circle cx="514.1" cy="98.1" r="0.6"/><circle cx="504.2" cy="77.6" r="0.6"/></g>
<g fill="#bcbd22" opacity="0.55"><circle cx="513.2" cy="85.1" r="0.6"/><circle cx="521.6" cy="84.4" r="0.6"/><circle cx="499.4" cy="81.4" r="0.6"/><circle cx="518.6" cy="79.8" r="0.6"/><circle cx="520.8" cy="83.2" r="0.6"/><circle cx="515.2" cy="89.7" r="0.6"/><circle cx="515.7" cy="81.2" r="0.6"/><circle cx="497.1" cy="89.0" r="0.6"/><circle cx="520.6" cy="91.4" r="0.6"/><circle cx="498.5" cy="81.3" r="0.6"/><circle cx="497.8" cy="80.8" r="0.6"/><circle cx="512.7" cy="80.6" r="0.6"/></g>
<path d="M462.7,85.9 C463.3,83.2 466.6,84.0 468.0,84.6 C469.5,85.2 471.0,86.7 471.2,89.5 C471.4,92.3 470.4,99.8 469.3,101.6 C468.1,103.4 465.5,103.0 464.4,100.4 C463.3,97.7 462.1,88.5 462.7,85.9 Z" fill="#f0a040" opacity="0.85"/>
<rect x="424.00" y="20.60" width="103.00" height="102.40" fill="none" stroke="#111" stroke-width="1.4" />
<text transform="translate(420.30,72.20) rotate(-90)" font-size="7.7" font-weight="bold" text-anchor="middle" fill="#000">UMAP2</text>
<text x="475.60" y="132.00" font-size="7.7" font-weight="bold" text-anchor="middle" fill="#000" >UMAP1</text>
<circle cx="533.5" cy="33.7" r="2" fill="#1f77b4"/>
<text x="540.20" y="36.80" font-size="7.65" font-weight="bold" text-anchor="start" fill="#222" >Sham-1</text>
<circle cx="533.5" cy="45.0" r="2" fill="#ff7f0e"/>
<text x="540.20" y="48.10" font-size="7.65" font-weight="bold" text-anchor="start" fill="#222" >bi-iACS-1</text>
<circle cx="533.5" cy="56.2" r="2" fill="#20a060"/>
<text x="540.20" y="59.30" font-size="7.65" font-weight="bold" text-anchor="start" fill="#222" >ips-iACS-1</text>
<circle cx="533.5" cy="67.5" r="2" fill="#d62728"/>
<text x="540.20" y="70.60" font-size="7.65" font-weight="bold" text-anchor="start" fill="#222" >con-iACS-1</text>
<circle cx="533.5" cy="83.8" r="2" fill="#a040f0"/>
<text x="540.20" y="86.90" font-size="7.65" font-weight="bold" text-anchor="start" fill="#222" >Sham-2</text>
<circle cx="533.5" cy="95.0" r="2" fill="#8c564b"/>
<text x="540.20" y="98.10" font-size="7.65" font-weight="bold" text-anchor="start" fill="#222" >ips-iACS-2</text>
<circle cx="533.5" cy="106.3" r="2" fill="#e377c2"/>
<text x="540.20" y="109.40" font-size="7.65" font-weight="bold" text-anchor="start" fill="#222" >con-iACS-2</text>
<circle cx="533.5" cy="117.5" r="2" fill="#b0b060"/>
<text x="540.20" y="120.60" font-size="7.65" font-weight="bold" text-anchor="start" fill="#222" >bi-iACS-2</text>
<text x="589.50" y="18.00" font-size="12.5" fill="#111">(E)</text>
<text x="684.50" y="26.60" font-size="9.2" font-weight="bold" text-anchor="middle" fill="#222" >Percentage of cell types</text>
<line x1="632.90" y1="32.00" x2="632.90" y2="36.00" stroke="#ccc" stroke-width="0.5" />
<line x1="656.82" y1="32.00" x2="656.82" y2="36.00" stroke="#ccc" stroke-width="0.5" />
<line x1="680.74" y1="32.00" x2="680.74" y2="36.00" stroke="#ccc" stroke-width="0.5" />
<line x1="704.66" y1="32.00" x2="704.66" y2="36.00" stroke="#ccc" stroke-width="0.5" />
<line x1="728.58" y1="32.00" x2="728.58" y2="36.00" stroke="#ccc" stroke-width="0.5" />
<line x1="752.50" y1="32.00" x2="752.50" y2="36.00" stroke="#ccc" stroke-width="0.5" />
<rect x="632.86" y="37.70" width="58.44" height="12.20" fill="#2f6fb5"  />
<rect x="691.30" y="37.70" width="6.44" height="12.20" fill="#2e9e60"  />
<rect x="697.75" y="37.70" width="14.96" height="12.20" fill="#d84545"  />
<rect x="712.70" y="37.70" width="27.15" height="12.20" fill="#ff8424"  />
<rect x="739.86" y="37.70" width="10.35" height="12.20" fill="#a64dff"  />
<rect x="750.21" y="37.70" width="2.30" height="12.20" fill="#e37fd0"  />
<text x="625.30" y="46.70" font-size="8" font-weight="bold" text-anchor="end" fill="#222" >Sham</text>
<rect x="632.86" y="56.10" width="95.26" height="12.20" fill="#2f6fb5"  />
<rect x="728.12" y="56.10" width="5.75" height="12.20" fill="#2e9e60"  />
<rect x="733.87" y="56.10" width="3.45" height="12.20" fill="#d84545"  />
<rect x="737.32" y="56.10" width="9.89" height="12.20" fill="#ff8424"  />
<rect x="747.22" y="56.10" width="3.91" height="12.20" fill="#a64dff"  />
<rect x="751.13" y="56.10" width="1.38" height="12.20" fill="#e37fd0"  />
<text x="625.30" y="65.10" font-size="8" font-weight="bold" text-anchor="end" fill="#222" >ips-iACS</text>
<rect x="632.86" y="74.50" width="66.04" height="12.20" fill="#2f6fb5"  />
<rect x="698.90" y="74.50" width="5.29" height="12.20" fill="#2e9e60"  />
<rect x="704.19" y="74.50" width="14.27" height="12.20" fill="#d84545"  />
<rect x="718.46" y="74.50" width="22.55" height="12.20" fill="#ff8424"  />
<rect x="741.01" y="74.50" width="8.05" height="12.20" fill="#a64dff"  />
<rect x="749.06" y="74.50" width="3.45" height="12.20" fill="#e37fd0"  />
<text x="625.30" y="83.50" font-size="8" font-weight="bold" text-anchor="end" fill="#222" >bi-iACS</text>
<rect x="632.86" y="92.90" width="67.19" height="12.20" fill="#2f6fb5"  />
<rect x="700.05" y="92.90" width="8.51" height="12.20" fill="#2e9e60"  />
<rect x="708.56" y="92.90" width="8.05" height="12.20" fill="#d84545"  />
<rect x="716.62" y="92.90" width="26.69" height="12.20" fill="#ff8424"  />
<rect x="743.31" y="92.90" width="6.90" height="12.20" fill="#a64dff"  />
<rect x="750.21" y="92.90" width="2.30" height="12.20" fill="#e37fd0"  />
<text x="625.30" y="101.90" font-size="8" font-weight="bold" text-anchor="end" fill="#222" >con-iACS</text>
<text x="632.90" y="120.50" font-size="7.8" font-weight="bold" text-anchor="middle" fill="#222" >0%</text>
<text x="656.82" y="120.50" font-size="7.8" font-weight="bold" text-anchor="middle" fill="#222" >20%</text>
<text x="680.74" y="120.50" font-size="7.8" font-weight="bold" text-anchor="middle" fill="#222" >40%</text>
<text x="704.66" y="120.50" font-size="7.8" font-weight="bold" text-anchor="middle" fill="#222" >60%</text>
<text x="728.58" y="120.50" font-size="7.8" font-weight="bold" text-anchor="middle" fill="#222" >80%</text>
<text x="752.50" y="120.50" font-size="7.8" font-weight="bold" text-anchor="middle" fill="#222" >100%</text>
<rect x="591.20" y="126.80" width="5.00" height="5.00" fill="#2f6fb5"  />
<text x="598.80" y="132.20" font-size="7.8" font-weight="bold" text-anchor="start" fill="#222" >NEUR</text>
<rect x="624.50" y="126.80" width="5.00" height="5.00" fill="#2e9e60"  />
<text x="631.80" y="132.20" font-size="7.8" font-weight="bold" text-anchor="start" fill="#222" >AST</text>
<rect x="651.50" y="126.80" width="5.00" height="5.00" fill="#d84545"  />
<text x="658.80" y="132.20" font-size="7.8" font-weight="bold" text-anchor="start" fill="#222" >MG</text>
<rect x="676.40" y="126.80" width="5.00" height="5.00" fill="#ff8424"  />
<text x="683.60" y="132.20" font-size="7.8" font-weight="bold" text-anchor="start" fill="#222" >OLG</text>
<rect x="704.50" y="126.80" width="5.00" height="5.00" fill="#a64dff"  />
<text x="712.00" y="132.20" font-size="7.8" font-weight="bold" text-anchor="start" fill="#222" >CPC</text>
<rect x="732.80" y="126.80" width="5.00" height="5.00" fill="#e37fd0"  />
<text x="740.00" y="132.20" font-size="7.8" font-weight="bold" text-anchor="start" fill="#222" >Others</text>
<text x="768.50" y="18.50" font-size="12.5" fill="#111">(F)</text>
<line x1="810.00" y1="16.90" x2="810.00" y2="98.50" stroke="#000" stroke-width="1.0" />
<line x1="809.50" y1="98.00" x2="890.70" y2="98.00" stroke="#000" stroke-width="1.0" />
<line x1="808.00" y1="98.00" x2="810.00" y2="98.00" stroke="#000" stroke-width="0.8" />
<text x="807.20" y="99.87" font-size="5.2" font-weight="bold" text-anchor="end" fill="#000" >0.0</text>
<line x1="808.00" y1="81.90" x2="810.00" y2="81.90" stroke="#000" stroke-width="0.8" />
<text x="807.20" y="83.77" font-size="5.2" font-weight="bold" text-anchor="end" fill="#000" >0.5</text>
<line x1="808.00" y1="65.80" x2="810.00" y2="65.80" stroke="#000" stroke-width="0.8" />
<text x="807.20" y="67.67" font-size="5.2" font-weight="bold" text-anchor="end" fill="#000" >1.0</text>
<line x1="808.00" y1="49.70" x2="810.00" y2="49.70" stroke="#000" stroke-width="0.8" />
<text x="807.20" y="51.57" font-size="5.2" font-weight="bold" text-anchor="end" fill="#000" >1.5</text>
<line x1="808.00" y1="33.60" x2="810.00" y2="33.60" stroke="#000" stroke-width="0.8" />
<text x="807.20" y="35.47" font-size="5.2" font-weight="bold" text-anchor="end" fill="#000" >2.0</text>
<line x1="808.00" y1="17.50" x2="810.00" y2="17.50" stroke="#000" stroke-width="0.8" />
<text x="807.20" y="19.37" font-size="5.2" font-weight="bold" text-anchor="end" fill="#000" >2.5</text>
<rect x="816.00" y="65.80" width="12.50" height="32.20" fill="#c8def5" stroke="#000" stroke-width="1.0" />
<line x1="822.25" y1="98.00" x2="822.25" y2="100.50" stroke="#000" stroke-width="0.9" />
<line x1="822.25" y1="62.80" x2="822.25" y2="67.60" stroke="#000" stroke-width="0.9" />
<line x1="820.25" y1="62.80" x2="824.25" y2="62.80" stroke="#000" stroke-width="0.9" />
<circle cx="820.8" cy="68.3" r="1.3" fill="none" stroke="#000" stroke-width="0.6"/>
<path d="M823.2,69.8 l1.5,-2.6 l1.5,2.6 z" fill="#000"/>
<rect x="835.00" y="44.87" width="11.70" height="53.13" fill="#f04040" stroke="#000" stroke-width="1.0" />
<line x1="840.85" y1="98.00" x2="840.85" y2="100.50" stroke="#000" stroke-width="0.9" />
<line x1="840.85" y1="36.87" x2="840.85" y2="49.67" stroke="#000" stroke-width="0.9" />
<line x1="838.85" y1="36.87" x2="842.85" y2="36.87" stroke="#000" stroke-width="0.9" />
<circle cx="839.4" cy="47.4" r="1.3" fill="none" stroke="#000" stroke-width="0.6"/>
<path d="M841.9,48.9 l1.5,-2.6 l1.5,2.6 z" fill="#000"/>
<rect x="853.20" y="54.53" width="12.10" height="43.47" fill="#ffff00" stroke="#000" stroke-width="1.0" />
<line x1="859.25" y1="98.00" x2="859.25" y2="100.50" stroke="#000" stroke-width="0.9" />
<line x1="859.25" y1="47.53" x2="859.25" y2="58.73" stroke="#000" stroke-width="0.9" />
<line x1="857.25" y1="47.53" x2="861.25" y2="47.53" stroke="#000" stroke-width="0.9" />
<circle cx="857.8" cy="57.0" r="1.3" fill="none" stroke="#000" stroke-width="0.6"/>
<path d="M860.2,58.5 l1.5,-2.6 l1.5,2.6 z" fill="#000"/>
<rect x="871.80" y="56.14" width="12.20" height="41.86" fill="#3b3bf0" stroke="#000" stroke-width="1.0" />
<line x1="877.90" y1="98.00" x2="877.90" y2="100.50" stroke="#000" stroke-width="0.9" />
<line x1="877.90" y1="52.14" x2="877.90" y2="58.54" stroke="#000" stroke-width="0.9" />
<line x1="875.90" y1="52.14" x2="879.90" y2="52.14" stroke="#000" stroke-width="0.9" />
<circle cx="876.4" cy="58.6" r="1.3" fill="none" stroke="#000" stroke-width="0.6"/>
<path d="M878.9,60.1 l1.5,-2.6 l1.5,2.6 z" fill="#000"/>
<text x="811.60" y="19.30" font-size="8" font-weight="bold" text-anchor="start" fill="#111" >Cortex</text>
<line x1="822.20" y1="24.20" x2="841.00" y2="24.20" stroke="#000" stroke-width="1" />
<line x1="822.20" y1="24.20" x2="822.20" y2="60.50" stroke="#000" stroke-width="1" />
<line x1="841.00" y1="24.20" x2="841.00" y2="27.40" stroke="#000" stroke-width="1" />
<text x="841.00" y="35.00" font-size="10" font-weight="bold" text-anchor="middle" fill="#000" >**</text>
<text transform="translate(783.50,60.50) rotate(-90)" font-size="9.5" font-weight="bold" text-anchor="middle" fill="#000">mRNA of NeuN</text>
<text transform="translate(793.50,57.50) rotate(-90)" font-size="9.5" font-weight="bold" text-anchor="middle" fill="#000">( vs. sham)</text>
<text transform="translate(824.70,108.50) rotate(-45)" font-size="8.6" font-weight="bold" text-anchor="end" fill="#000">Sham</text>
<text transform="translate(843.30,108.50) rotate(-45)" font-size="8.6" font-weight="bold" text-anchor="end" fill="#000">ips-iACS</text>
<text transform="translate(861.70,108.50) rotate(-45)" font-size="8.6" font-weight="bold" text-anchor="end" fill="#000">bi-iACS</text>
<text transform="translate(880.40,108.50) rotate(-45)" font-size="8.6" font-weight="bold" text-anchor="end" fill="#000">con-iACS</text>
<rect x="252" y="142" width="645" height="10.8" fill="#000"/>
<rect x="252" y="303" width="645" height="10.8" fill="#000"/>
<text x="254.00" y="172.00" font-size="12.5" fill="#111">(A)</text>
<line x1="281.60" y1="180.40" x2="410.00" y2="180.40" stroke="#888" stroke-width="0.6" />
<line x1="281.60" y1="179.90" x2="281.60" y2="274.10" stroke="#000" stroke-width="1.0" />
<line x1="410.00" y1="179.90" x2="410.00" y2="274.10" stroke="#000" stroke-width="1.0" />
<line x1="281.10" y1="273.60" x2="410.50" y2="273.60" stroke="#000" stroke-width="1.0" />
<line x1="279.60" y1="273.60" x2="281.60" y2="273.60" stroke="#000" stroke-width="0.8" />
<line x1="410.00" y1="273.60" x2="412.00" y2="273.60" stroke="#000" stroke-width="0.8" />
<text x="278.60" y="275.60" font-size="5.6" font-weight="bold" text-anchor="end" fill="#222" >0</text>
<text x="413.50" y="275.60" font-size="5.6" font-weight="bold" text-anchor="start" fill="#222" >0</text>
<line x1="279.60" y1="254.96" x2="281.60" y2="254.96" stroke="#000" stroke-width="0.8" />
<line x1="410.00" y1="254.96" x2="412.00" y2="254.96" stroke="#000" stroke-width="0.8" />
<text x="278.60" y="256.96" font-size="5.6" font-weight="bold" text-anchor="end" fill="#222" >20</text>
<text x="413.50" y="256.96" font-size="5.6" font-weight="bold" text-anchor="start" fill="#222" >20</text>
<line x1="279.60" y1="236.32" x2="281.60" y2="236.32" stroke="#000" stroke-width="0.8" />
<line x1="410.00" y1="236.32" x2="412.00" y2="236.32" stroke="#000" stroke-width="0.8" />
<text x="278.60" y="238.32" font-size="5.6" font-weight="bold" text-anchor="end" fill="#222" >40</text>
<text x="413.50" y="238.32" font-size="5.6" font-weight="bold" text-anchor="start" fill="#222" >40</text>
<line x1="279.60" y1="217.68" x2="281.60" y2="217.68" stroke="#000" stroke-width="0.8" />
<line x1="410.00" y1="217.68" x2="412.00" y2="217.68" stroke="#000" stroke-width="0.8" />
<text x="278.60" y="219.68" font-size="5.6" font-weight="bold" text-anchor="end" fill="#222" >60</text>
<text x="413.50" y="219.68" font-size="5.6" font-weight="bold" text-anchor="start" fill="#222" >60</text>
<line x1="279.60" y1="199.04" x2="281.60" y2="199.04" stroke="#000" stroke-width="0.8" />
<line x1="410.00" y1="199.04" x2="412.00" y2="199.04" stroke="#000" stroke-width="0.8" />
<text x="278.60" y="201.04" font-size="5.6" font-weight="bold" text-anchor="end" fill="#222" >80</text>
<text x="413.50" y="201.04" font-size="5.6" font-weight="bold" text-anchor="start" fill="#222" >80</text>
<line x1="279.60" y1="180.40" x2="281.60" y2="180.40" stroke="#000" stroke-width="0.8" />
<line x1="410.00" y1="180.40" x2="412.00" y2="180.40" stroke="#000" stroke-width="0.8" />
<text x="278.60" y="182.40" font-size="5.6" font-weight="bold" text-anchor="end" fill="#222" >100</text>
<text x="413.50" y="182.40" font-size="5.6" font-weight="bold" text-anchor="start" fill="#222" >100</text>
<line x1="281.60" y1="273.60" x2="281.60" y2="275.60" stroke="#000" stroke-width="0.8" />
<text x="281.60" y="284.50" font-size="5.6" font-weight="bold" text-anchor="middle" fill="#222" >-10</text>
<line x1="313.70" y1="273.60" x2="313.70" y2="275.60" stroke="#000" stroke-width="0.8" />
<text x="313.70" y="284.50" font-size="5.6" font-weight="bold" text-anchor="middle" fill="#222" >-5</text>
<line x1="345.80" y1="273.60" x2="345.80" y2="275.60" stroke="#000" stroke-width="0.8" />
<text x="345.80" y="284.50" font-size="5.6" font-weight="bold" text-anchor="middle" fill="#222" >0</text>
<line x1="377.90" y1="273.60" x2="377.90" y2="275.60" stroke="#000" stroke-width="0.8" />
<text x="377.90" y="284.50" font-size="5.6" font-weight="bold" text-anchor="middle" fill="#222" >5</text>
<line x1="410.00" y1="273.60" x2="410.00" y2="275.60" stroke="#000" stroke-width="0.8" />
<text x="410.00" y="284.50" font-size="5.6" font-weight="bold" text-anchor="middle" fill="#222" >10</text>
<text x="345.00" y="295.50" font-size="6.9" font-weight="bold" text-anchor="middle" fill="#222" >Log2(FC)</text>
<text transform="translate(262.50,226.60) rotate(-90)" font-size="7.0" font-weight="bold" text-anchor="middle" fill="#222">-Log10P value</text>
<g stroke="#333" stroke-width="0.7" stroke-dasharray="1.2,1.2">
<line x1="335.20" y1="180.40" x2="335.20" y2="273.60" stroke="#333" stroke-width="0.7" />
<line x1="355.50" y1="180.40" x2="355.50" y2="273.60" stroke="#333" stroke-width="0.7" />
<line x1="281.60" y1="271.50" x2="410.00" y2="271.50" stroke="#333" stroke-width="0.7" />
</g>
<g fill="#000"><rect x="349.5" y="264.0" width="1" height="1"/><rect x="345.0" y="268.5" width="1" height="1"/><rect x="345.3" y="267.9" width="1" height="1"/><rect x="341.2" y="253.5" width="1" height="1"/><rect x="343.5" y="262.5" width="1" height="1"/><rect x="344.2" y="261.3" width="1" height="1"/><rect x="345.5" y="268.5" width="1" height="1"/><rect x="340.1" y="271.1" width="1" height="1"/><rect x="342.1" y="263.0" width="1" height="1"/><rect x="339.5" y="267.1" width="1" height="1"/><rect x="342.3" y="254.7" width="1" height="1"/><rect x="345.0" y="254.7" width="1" height="1"/><rect x="344.2" y="263.2" width="1" height="1"/><rect x="341.9" y="265.6" width="1" height="1"/><rect x="342.5" y="252.6" width="1" height="1"/><rect x="346.1" y="271.2" width="1" height="1"/><rect x="344.5" y="272.0" width="1" height="1"/><rect x="347.2" y="268.4" width="1" height="1"/><rect x="342.4" y="252.2" width="1" height="1"/><rect x="348.0" y="269.2" width="1" height="1"/><rect x="342.7" y="263.8" width="1" height="1"/><rect x="341.8" y="263.0" width="1" height="1"/><rect x="342.0" y="270.7" width="1" height="1"/><rect x="344.2" y="263.2" width="1" height="1"/><rect x="347.2" y="268.4" width="1" height="1"/><rect x="346.1" y="272.5" width="1" height="1"/><rect x="346.5" y="259.7" width="1" height="1"/><rect x="342.7" y="269.8" width="1" height="1"/><rect x="345.9" y="267.6" width="1" height="1"/><rect x="341.2" y="265.1" width="1" height="1"/><rect x="343.2" y="254.1" width="1" height="1"/><rect x="349.2" y="260.8" width="1" height="1"/><rect x="341.5" y="256.6" width="1" height="1"/><rect x="350.8" y="245.0" width="1" height="1"/><rect x="339.6" y="253.4" width="1" height="1"/><rect x="341.7" y="256.3" width="1" height="1"/><rect x="342.3" y="270.4" width="1" height="1"/><rect x="339.9" y="270.7" width="1" height="1"/><rect x="342.2" y="264.6" width="1" height="1"/><rect x="342.1" y="264.5" width="1" height="1"/><rect x="342.5" y="263.5" width="1" height="1"/><rect x="341.5" y="254.5" width="1" height="1"/><rect x="347.5" y="266.9" width="1" height="1"/><rect x="341.3" y="255.1" width="1" height="1"/><rect x="340.5" y="250.1" width="1" height="1"/><rect x="343.8" y="266.2" width="1" height="1"/><rect x="339.9" y="270.8" width="1" height="1"/><rect x="343.8" y="267.8" width="1" height="1"/><rect x="344.0" y="261.3" width="1" height="1"/><rect x="337.7" y="261.8" width="1" height="1"/><rect x="343.2" y="271.7" width="1" height="1"/><rect x="339.9" y="263.9" width="1" height="1"/><rect x="339.1" y="265.1" width="1" height="1"/><rect x="342.4" y="269.3" width="1" height="1"/><rect x="344.1" y="266.5" width="1" height="1"/><rect x="342.2" y="267.6" width="1" height="1"/><rect x="343.4" y="263.0" width="1" height="1"/><rect x="349.7" y="254.3" width="1" height="1"/><rect x="342.7" y="269.1" width="1" height="1"/><rect x="344.5" y="267.2" width="1" height="1"/><rect x="345.9" y="262.2" width="1" height="1"/><rect x="338.9" y="269.6" width="1" height="1"/><rect x="344.3" y="255.9" width="1" height="1"/><rect x="346.2" y="272.0" width="1" height="1"/><rect x="351.5" y="269.6" width="1" height="1"/><rect x="342.2" y="271.3" width="1" height="1"/><rect x="344.2" y="262.8" width="1" height="1"/><rect x="338.9" y="264.4" width="1" height="1"/><rect x="347.0" y="267.9" width="1" height="1"/><rect x="342.7" y="258.9" width="1" height="1"/><rect x="346.9" y="263.3" width="1" height="1"/><rect x="339.6" y="259.5" width="1" height="1"/><rect x="343.2" y="254.0" width="1" height="1"/><rect x="343.0" y="266.7" width="1" height="1"/><rect x="342.2" y="269.2" width="1" height="1"/><rect x="339.4" y="258.6" width="1" height="1"/><rect x="347.0" y="245.9" width="1" height="1"/><rect x="345.7" y="265.3" width="1" height="1"/><rect x="341.5" y="250.2" width="1" height="1"/><rect x="342.3" y="272.1" width="1" height="1"/><rect x="347.6" y="264.1" width="1" height="1"/><rect x="339.2" y="265.4" width="1" height="1"/><rect x="340.2" y="269.3" width="1" height="1"/><rect x="347.4" y="257.1" width="1" height="1"/><rect x="342.9" y="261.8" width="1" height="1"/><rect x="343.6" y="262.1" width="1" height="1"/><rect x="344.9" y="269.8" width="1" height="1"/><rect x="344.1" y="261.9" width="1" height="1"/><rect x="340.6" y="268.9" width="1" height="1"/><rect x="346.3" y="263.2" width="1" height="1"/><rect x="348.7" y="262.7" width="1" height="1"/><rect x="341.8" y="271.4" width="1" height="1"/><rect x="350.6" y="265.9" width="1" height="1"/><rect x="343.6" y="264.1" width="1" height="1"/><rect x="341.4" y="257.4" width="1" height="1"/><rect x="340.0" y="272.0" width="1" height="1"/><rect x="341.7" y="266.0" width="1" height="1"/><rect x="348.6" y="269.9" width="1" height="1"/><rect x="341.3" y="266.4" width="1" height="1"/><rect x="341.3" y="263.4" width="1" height="1"/><rect x="345.3" y="245.5" width="1" height="1"/><rect x="347.1" y="264.5" width="1" height="1"/><rect x="343.4" y="270.8" width="1" height="1"/><rect x="347.6" y="261.1" width="1" height="1"/><rect x="344.9" y="264.3" width="1" height="1"/><rect x="342.7" y="266.0" width="1" height="1"/><rect x="341.6" y="265.0" width="1" height="1"/><rect x="343.3" y="263.1" width="1" height="1"/><rect x="347.7" y="269.7" width="1" height="1"/><rect x="347.8" y="258.0" width="1" height="1"/><rect x="349.3" y="240.6" width="1" height="1"/><rect x="346.0" y="254.9" width="1" height="1"/><rect x="343.0" y="250.2" width="1" height="1"/><rect x="343.8" y="265.4" width="1" height="1"/><rect x="341.7" y="269.2" width="1" height="1"/><rect x="343.9" y="252.9" width="1" height="1"/><rect x="350.2" y="269.5" width="1" height="1"/><rect x="339.9" y="252.3" width="1" height="1"/><rect x="341.3" y="270.3" width="1" height="1"/><rect x="345.3" y="257.9" width="1" height="1"/><rect x="347.7" y="271.1" width="1" height="1"/><rect x="340.2" y="260.6" width="1" height="1"/><rect x="339.4" y="265.5" width="1" height="1"/><rect x="343.3" y="271.3" width="1" height="1"/><rect x="341.6" y="271.6" width="1" height="1"/><rect x="340.9" y="269.1" width="1" height="1"/><rect x="340.8" y="269.5" width="1" height="1"/><rect x="348.0" y="268.7" width="1" height="1"/><rect x="347.3" y="256.0" width="1" height="1"/><rect x="342.0" y="270.3" width="1" height="1"/><rect x="340.8" y="260.2" width="1" height="1"/><rect x="348.2" y="270.3" width="1" height="1"/><rect x="342.5" y="264.0" width="1" height="1"/><rect x="342.3" y="271.9" width="1" height="1"/><rect x="345.6" y="260.4" width="1" height="1"/><rect x="344.3" y="264.7" width="1" height="1"/><rect x="342.3" y="250.8" width="1" height="1"/><rect x="343.6" y="264.2" width="1" height="1"/><rect x="348.2" y="257.0" width="1" height="1"/><rect x="340.5" y="261.5" width="1" height="1"/><rect x="341.5" y="261.9" width="1" height="1"/><rect x="340.5" y="254.6" width="1" height="1"/><rect x="341.3" y="266.8" width="1" height="1"/><rect x="345.2" y="258.2" width="1" height="1"/><rect x="346.2" y="272.5" width="1" height="1"/><rect x="341.8" y="261.3" width="1" height="1"/><rect x="341.8" y="258.6" width="1" height="1"/><rect x="338.4" y="271.2" width="1" height="1"/><rect x="346.5" y="265.7" width="1" height="1"/><rect x="343.7" y="266.6" width="1" height="1"/><rect x="338.6" y="241.0" width="1" height="1"/><rect x="346.3" y="254.9" width="1" height="1"/><rect x="339.1" y="271.5" width="1" height="1"/><rect x="346.2" y="260.6" width="1" height="1"/><rect x="348.1" y="270.7" width="1" height="1"/><rect x="343.0" y="258.6" width="1" height="1"/><rect x="339.5" y="272.5" width="1" height="1"/><rect x="344.8" y="264.3" width="1" height="1"/><rect x="347.3" y="264.0" width="1" height="1"/><rect x="340.9" y="267.9" width="1" height="1"/><rect x="345.4" y="255.6" width="1" height="1"/><rect x="342.7" y="267.6" width="1" height="1"/><rect x="343.0" y="264.7" width="1" height="1"/><rect x="338.5" y="268.8" width="1" height="1"/><rect x="338.1" y="238.7" width="1" height="1"/><rect x="347.6" y="250.5" width="1" height="1"/><rect x="340.0" y="267.8" width="1" height="1"/><rect x="342.6" y="248.4" width="1" height="1"/><rect x="341.8" y="260.4" width="1" height="1"/><rect x="346.4" y="261.5" width="1" height="1"/><rect x="338.5" y="264.9" width="1" height="1"/><rect x="342.7" y="266.7" width="1" height="1"/><rect x="338.0" y="265.9" width="1" height="1"/><rect x="340.9" y="264.4" width="1" height="1"/><rect x="340.6" y="272.4" width="1" height="1"/><rect x="344.6" y="260.0" width="1" height="1"/><rect x="348.8" y="260.5" width="1" height="1"/><rect x="342.9" y="271.1" width="1" height="1"/><rect x="339.9" y="270.9" width="1" height="1"/><rect x="345.8" y="268.7" width="1" height="1"/><rect x="341.8" y="271.1" width="1" height="1"/><rect x="343.0" y="270.8" width="1" height="1"/><rect x="348.4" y="255.4" width="1" height="1"/><rect x="346.9" y="271.3" width="1" height="1"/><rect x="344.3" y="270.7" width="1" height="1"/><rect x="341.8" y="244.4" width="1" height="1"/><rect x="341.9" y="270.5" width="1" height="1"/><rect x="343.2" y="265.6" width="1" height="1"/><rect x="345.7" y="264.6" width="1" height="1"/><rect x="340.8" y="262.5" width="1" height="1"/><rect x="342.1" y="256.9" width="1" height="1"/><rect x="344.6" y="262.1" width="1" height="1"/><rect x="340.3" y="272.5" width="1" height="1"/><rect x="344.6" y="262.6" width="1" height="1"/><rect x="340.5" y="269.3" width="1" height="1"/><rect x="342.1" y="265.5" width="1" height="1"/><rect x="339.2" y="257.4" width="1" height="1"/><rect x="346.9" y="266.3" width="1" height="1"/><rect x="343.0" y="264.2" width="1" height="1"/><rect x="349.7" y="267.7" width="1" height="1"/><rect x="342.2" y="253.6" width="1" height="1"/><rect x="341.4" y="268.6" width="1" height="1"/><rect x="348.6" y="255.0" width="1" height="1"/><rect x="338.8" y="266.2" width="1" height="1"/><rect x="348.6" y="269.5" width="1" height="1"/><rect x="344.3" y="260.5" width="1" height="1"/><rect x="341.6" y="269.6" width="1" height="1"/><rect x="339.7" y="270.7" width="1" height="1"/><rect x="342.4" y="257.3" width="1" height="1"/><rect x="344.6" y="269.7" width="1" height="1"/><rect x="340.6" y="268.5" width="1" height="1"/><rect x="339.6" y="264.3" width="1" height="1"/><rect x="341.1" y="264.7" width="1" height="1"/><rect x="342.5" y="271.5" width="1" height="1"/><rect x="346.4" y="270.0" width="1" height="1"/><rect x="343.0" y="267.0" width="1" height="1"/><rect x="344.2" y="270.6" width="1" height="1"/><rect x="342.8" y="255.3" width="1" height="1"/><rect x="341.7" y="267.4" width="1" height="1"/><rect x="350.6" y="268.0" width="1" height="1"/><rect x="343.7" y="268.5" width="1" height="1"/><rect x="340.6" y="263.5" width="1" height="1"/><rect x="342.3" y="266.0" width="1" height="1"/><rect x="342.8" y="271.3" width="1" height="1"/><rect x="347.5" y="253.7" width="1" height="1"/><rect x="341.5" y="264.5" width="1" height="1"/><rect x="341.5" y="262.1" width="1" height="1"/><rect x="338.2" y="265.5" width="1" height="1"/><rect x="340.0" y="268.1" width="1" height="1"/><rect x="350.3" y="256.6" width="1" height="1"/><rect x="349.4" y="262.5" width="1" height="1"/><rect x="337.5" y="259.8" width="1" height="1"/><rect x="347.3" y="271.7" width="1" height="1"/><rect x="340.5" y="253.6" width="1" height="1"/><rect x="346.8" y="272.1" width="1" height="1"/><rect x="348.5" y="271.4" width="1" height="1"/><rect x="340.6" y="271.8" width="1" height="1"/><rect x="338.9" y="256.4" width="1" height="1"/><rect x="346.9" y="259.8" width="1" height="1"/><rect x="340.8" y="268.8" width="1" height="1"/><rect x="345.7" y="266.0" width="1" height="1"/><rect x="345.8" y="255.6" width="1" height="1"/><rect x="342.4" y="268.1" width="1" height="1"/><rect x="340.8" y="272.4" width="1" height="1"/><rect x="346.7" y="272.3" width="1" height="1"/><rect x="348.1" y="269.4" width="1" height="1"/><rect x="348.9" y="269.2" width="1" height="1"/><rect x="350.0" y="267.8" width="1" height="1"/><rect x="341.3" y="264.2" width="1" height="1"/><rect x="338.7" y="266.4" width="1" height="1"/><rect x="348.2" y="249.2" width="1" height="1"/><rect x="348.7" y="271.6" width="1" height="1"/><rect x="345.5" y="258.1" width="1" height="1"/><rect x="342.7" y="270.8" width="1" height="1"/><rect x="344.7" y="269.1" width="1" height="1"/><rect x="341.7" y="269.4" width="1" height="1"/><rect x="339.9" y="268.1" width="1" height="1"/><rect x="346.2" y="270.4" width="1" height="1"/><rect x="340.7" y="269.3" width="1" height="1"/><rect x="339.8" y="263.8" width="1" height="1"/><rect x="341.1" y="266.9" width="1" height="1"/><rect x="341.1" y="264.1" width="1" height="1"/><rect x="344.3" y="264.4" width="1" height="1"/><rect x="344.0" y="267.0" width="1" height="1"/><rect x="341.6" y="269.7" width="1" height="1"/><rect x="343.1" y="268.5" width="1" height="1"/><rect x="340.8" y="271.7" width="1" height="1"/><rect x="339.0" y="255.2" width="1" height="1"/><rect x="342.5" y="256.2" width="1" height="1"/><rect x="344.0" y="266.7" width="1" height="1"/><rect x="338.9" y="254.9" width="1" height="1"/><rect x="340.4" y="261.2" width="1" height="1"/><rect x="343.6" y="262.7" width="1" height="1"/><rect x="339.2" y="266.7" width="1" height="1"/><rect x="347.0" y="259.3" width="1" height="1"/><rect x="339.9" y="262.4" width="1" height="1"/><rect x="337.5" y="250.3" width="1" height="1"/><rect x="348.2" y="263.1" width="1" height="1"/><rect x="339.3" y="259.9" width="1" height="1"/><rect x="340.8" y="272.6" width="1" height="1"/><rect x="337.7" y="253.7" width="1" height="1"/><rect x="343.7" y="250.6" width="1" height="1"/><rect x="345.9" y="258.6" width="1" height="1"/><rect x="348.7" y="271.8" width="1" height="1"/><rect x="345.7" y="272.2" width="1" height="1"/><rect x="342.0" y="268.4" width="1" height="1"/><rect x="340.5" y="263.3" width="1" height="1"/><rect x="350.3" y="267.2" width="1" height="1"/><rect x="341.3" y="264.2" width="1" height="1"/><rect x="345.9" y="268.8" width="1" height="1"/><rect x="340.7" y="261.9" width="1" height="1"/><rect x="339.5" y="272.4" width="1" height="1"/><rect x="348.2" y="270.6" width="1" height="1"/><rect x="341.0" y="249.1" width="1" height="1"/><rect x="341.4" y="266.0" width="1" height="1"/><rect x="342.9" y="260.5" width="1" height="1"/><rect x="347.2" y="267.9" width="1" height="1"/><rect x="339.8" y="263.0" width="1" height="1"/><rect x="339.9" y="264.4" width="1" height="1"/><rect x="349.2" y="268.6" width="1" height="1"/><rect x="347.4" y="253.8" width="1" height="1"/><rect x="341.2" y="253.8" width="1" height="1"/><rect x="345.0" y="261.8" width="1" height="1"/><rect x="345.8" y="266.2" width="1" height="1"/><rect x="340.1" y="268.5" width="1" height="1"/><rect x="337.4" y="265.6" width="1" height="1"/><rect x="344.2" y="267.2" width="1" height="1"/><rect x="340.7" y="258.5" width="1" height="1"/><rect x="341.9" y="258.0" width="1" height="1"/><rect x="342.4" y="262.9" width="1" height="1"/><rect x="346.6" y="259.5" width="1" height="1"/><rect x="342.8" y="257.1" width="1" height="1"/><rect x="346.6" y="269.2" width="1" height="1"/><rect x="346.1" y="270.3" width="1" height="1"/><rect x="349.3" y="265.7" width="1" height="1"/><rect x="340.6" y="259.5" width="1" height="1"/><rect x="340.7" y="252.0" width="1" height="1"/><rect x="339.8" y="266.0" width="1" height="1"/><rect x="343.3" y="267.2" width="1" height="1"/><rect x="341.9" y="269.5" width="1" height="1"/><rect x="345.4" y="256.9" width="1" height="1"/><rect x="340.3" y="265.2" width="1" height="1"/><rect x="340.2" y="269.1" width="1" height="1"/><rect x="346.2" y="269.1" width="1" height="1"/><rect x="341.1" y="270.2" width="1" height="1"/><rect x="348.6" y="244.9" width="1" height="1"/><rect x="348.7" y="266.8" width="1" height="1"/><rect x="347.3" y="268.0" width="1" height="1"/><rect x="346.9" y="269.4" width="1" height="1"/><rect x="346.8" y="267.1" width="1" height="1"/><rect x="341.8" y="263.0" width="1" height="1"/><rect x="342.3" y="261.7" width="1" height="1"/><rect x="344.5" y="265.1" width="1" height="1"/><rect x="345.6" y="269.0" width="1" height="1"/><rect x="345.4" y="256.7" width="1" height="1"/><rect x="340.6" y="270.3" width="1" height="1"/><rect x="349.3" y="271.4" width="1" height="1"/><rect x="348.7" y="255.4" width="1" height="1"/><rect x="340.2" y="270.7" width="1" height="1"/><rect x="339.3" y="255.2" width="1" height="1"/><rect x="344.9" y="264.5" width="1" height="1"/><rect x="340.5" y="272.2" width="1" height="1"/><rect x="342.2" y="257.3" width="1" height="1"/><rect x="342.2" y="267.6" width="1" height="1"/><rect x="341.1" y="260.9" width="1" height="1"/><rect x="342.9" y="268.8" width="1" height="1"/><rect x="343.6" y="253.6" width="1" height="1"/><rect x="340.4" y="248.3" width="1" height="1"/><rect x="348.5" y="264.8" width="1" height="1"/><rect x="341.3" y="259.7" width="1" height="1"/><rect x="343.1" y="262.2" width="1" height="1"/><rect x="348.5" y="259.6" width="1" height="1"/><rect x="341.3" y="260.1" width="1" height="1"/><rect x="340.7" y="270.3" width="1" height="1"/><rect x="342.1" y="256.8" width="1" height="1"/><rect x="348.0" y="258.5" width="1" height="1"/><rect x="340.8" y="270.2" width="1" height="1"/><rect x="341.2" y="264.6" width="1" height="1"/><rect x="338.2" y="261.3" width="1" height="1"/><rect x="338.7" y="264.6" width="1" height="1"/><rect x="340.1" y="255.5" width="1" height="1"/><rect x="343.2" y="266.6" width="1" height="1"/><rect x="340.5" y="272.2" width="1" height="1"/><rect x="341.6" y="267.0" width="1" height="1"/><rect x="341.0" y="258.7" width="1" height="1"/><rect x="341.1" y="261.0" width="1" height="1"/><rect x="346.5" y="265.0" width="1" height="1"/><rect x="340.6" y="269.3" width="1" height="1"/><rect x="344.4" y="266.5" width="1" height="1"/><rect x="346.1" y="250.0" width="1" height="1"/><rect x="342.1" y="264.2" width="1" height="1"/><rect x="343.2" y="262.4" width="1" height="1"/><rect x="347.0" y="264.2" width="1" height="1"/><rect x="346.7" y="269.6" width="1" height="1"/><rect x="343.4" y="265.5" width="1" height="1"/><rect x="349.6" y="246.4" width="1" height="1"/><rect x="346.2" y="267.7" width="1" height="1"/><rect x="341.8" y="272.4" width="1" height="1"/><rect x="339.5" y="268.5" width="1" height="1"/><rect x="346.9" y="266.4" width="1" height="1"/><rect x="342.4" y="242.0" width="1" height="1"/><rect x="342.8" y="267.3" width="1" height="1"/><rect x="350.4" y="257.0" width="1" height="1"/><rect x="350.9" y="268.5" width="1" height="1"/><rect x="340.8" y="269.0" width="1" height="1"/><rect x="340.6" y="266.8" width="1" height="1"/><rect x="343.0" y="265.7" width="1" height="1"/><rect x="340.6" y="268.4" width="1" height="1"/><rect x="348.0" y="267.0" width="1" height="1"/><rect x="344.9" y="263.9" width="1" height="1"/><rect x="341.5" y="270.6" width="1" height="1"/><rect x="348.4" y="272.4" width="1" height="1"/><rect x="346.3" y="262.7" width="1" height="1"/><rect x="346.3" y="264.4" width="1" height="1"/><rect x="347.3" y="257.6" width="1" height="1"/><rect x="342.3" y="260.7" width="1" height="1"/><rect x="345.5" y="267.0" width="1" height="1"/><rect x="345.9" y="256.5" width="1" height="1"/><rect x="342.9" y="258.0" width="1" height="1"/><rect x="345.9" y="239.5" width="1" height="1"/><rect x="347.8" y="260.4" width="1" height="1"/><rect x="341.5" y="261.1" width="1" height="1"/><rect x="342.2" y="267.5" width="1" height="1"/><rect x="348.6" y="271.9" width="1" height="1"/><rect x="343.2" y="268.8" width="1" height="1"/><rect x="340.3" y="271.2" width="1" height="1"/><rect x="341.4" y="250.9" width="1" height="1"/><rect x="345.4" y="268.3" width="1" height="1"/><rect x="341.3" y="242.8" width="1" height="1"/><rect x="345.3" y="270.3" width="1" height="1"/><rect x="342.3" y="266.7" width="1" height="1"/><rect x="344.9" y="257.7" width="1" height="1"/><rect x="340.1" y="263.8" width="1" height="1"/><rect x="342.8" y="265.4" width="1" height="1"/><rect x="343.4" y="262.3" width="1" height="1"/><rect x="341.3" y="253.3" width="1" height="1"/><rect x="343.8" y="268.4" width="1" height="1"/><rect x="347.0" y="270.8" width="1" height="1"/><rect x="340.2" y="272.1" width="1" height="1"/><rect x="343.9" y="258.6" width="1" height="1"/><rect x="339.2" y="265.6" width="1" height="1"/><rect x="344.3" y="268.1" width="1" height="1"/><rect x="342.9" y="258.9" width="1" height="1"/><rect x="342.8" y="268.6" width="1" height="1"/><rect x="347.3" y="268.2" width="1" height="1"/><rect x="342.0" y="257.5" width="1" height="1"/><rect x="347.4" y="261.0" width="1" height="1"/><rect x="344.6" y="266.4" width="1" height="1"/><rect x="347.1" y="258.4" width="1" height="1"/><rect x="341.0" y="272.0" width="1" height="1"/><rect x="349.4" y="266.9" width="1" height="1"/><rect x="344.0" y="271.3" width="1" height="1"/><rect x="342.4" y="266.9" width="1" height="1"/><rect x="346.6" y="271.8" width="1" height="1"/><rect x="343.9" y="271.7" width="1" height="1"/><rect x="344.1" y="249.5" width="1" height="1"/><rect x="344.2" y="244.5" width="1" height="1"/><rect x="349.0" y="268.3" width="1" height="1"/><rect x="347.4" y="268.3" width="1" height="1"/><rect x="339.8" y="269.9" width="1" height="1"/><rect x="339.8" y="269.4" width="1" height="1"/><rect x="341.5" y="270.2" width="1" height="1"/><rect x="342.2" y="254.1" width="1" height="1"/><rect x="340.5" y="266.2" width="1" height="1"/><rect x="346.0" y="257.5" width="1" height="1"/><rect x="345.0" y="260.9" width="1" height="1"/><rect x="343.0" y="266.6" width="1" height="1"/><rect x="342.1" y="267.8" width="1" height="1"/><rect x="342.2" y="266.9" width="1" height="1"/><rect x="350.3" y="255.8" width="1" height="1"/><rect x="339.9" y="268.3" width="1" height="1"/><rect x="342.6" y="259.2" width="1" height="1"/><rect x="342.6" y="253.5" width="1" height="1"/><rect x="342.4" y="264.3" width="1" height="1"/><rect x="338.6" y="258.2" width="1" height="1"/><rect x="348.4" y="270.8" width="1" height="1"/><rect x="342.0" y="262.9" width="1" height="1"/><rect x="345.0" y="268.1" width="1" height="1"/><rect x="343.1" y="255.4" width="1" height="1"/><rect x="341.6" y="270.7" width="1" height="1"/><rect x="340.5" y="270.3" width="1" height="1"/><rect x="345.7" y="262.5" width="1" height="1"/><rect x="343.9" y="264.2" width="1" height="1"/><rect x="343.6" y="255.7" width="1" height="1"/><rect x="348.6" y="264.5" width="1" height="1"/><rect x="340.8" y="253.5" width="1" height="1"/><rect x="340.9" y="266.3" width="1" height="1"/><rect x="339.4" y="264.6" width="1" height="1"/><rect x="349.5" y="270.8" width="1" height="1"/><rect x="342.2" y="270.9" width="1" height="1"/><rect x="339.8" y="271.9" width="1" height="1"/><rect x="341.3" y="257.7" width="1" height="1"/><rect x="346.0" y="267.7" width="1" height="1"/><rect x="347.1" y="272.3" width="1" height="1"/><rect x="338.5" y="253.2" width="1" height="1"/><rect x="338.9" y="246.1" width="1" height="1"/><rect x="344.5" y="240.6" width="1" height="1"/><rect x="341.4" y="250.5" width="1" height="1"/><rect x="342.1" y="267.1" width="1" height="1"/><rect x="341.3" y="267.4" width="1" height="1"/><rect x="345.7" y="254.5" width="1" height="1"/><rect x="340.8" y="270.4" width="1" height="1"/><rect x="340.2" y="264.6" width="1" height="1"/><rect x="341.0" y="272.6" width="1" height="1"/><rect x="343.7" y="255.2" width="1" height="1"/><rect x="342.4" y="267.5" width="1" height="1"/><rect x="349.1" y="270.9" width="1" height="1"/><rect x="340.1" y="266.2" width="1" height="1"/><rect x="343.5" y="262.7" width="1" height="1"/><rect x="340.2" y="263.5" width="1" height="1"/><rect x="342.0" y="253.1" width="1" height="1"/><rect x="343.1" y="270.5" width="1" height="1"/><rect x="340.0" y="258.1" width="1" height="1"/><rect x="344.2" y="266.6" width="1" height="1"/><rect x="349.6" y="269.9" width="1" height="1"/><rect x="347.0" y="262.1" width="1" height="1"/><rect x="343.6" y="271.2" width="1" height="1"/><rect x="348.1" y="263.5" width="1" height="1"/><rect x="341.7" y="267.4" width="1" height="1"/><rect x="345.4" y="261.7" width="1" height="1"/><rect x="342.1" y="263.8" width="1" height="1"/><rect x="342.4" y="265.5" width="1" height="1"/><rect x="345.9" y="250.7" width="1" height="1"/><rect x="347.5" y="255.3" width="1" height="1"/><rect x="341.0" y="264.6" width="1" height="1"/><rect x="340.2" y="268.6" width="1" height="1"/><rect x="338.9" y="262.6" width="1" height="1"/><rect x="345.4" y="261.9" width="1" height="1"/><rect x="345.7" y="264.6" width="1" height="1"/><rect x="340.4" y="263.1" width="1" height="1"/><rect x="347.9" y="271.8" width="1" height="1"/><rect x="342.3" y="265.6" width="1" height="1"/><rect x="344.8" y="252.2" width="1" height="1"/><rect x="344.2" y="265.1" width="1" height="1"/><rect x="342.3" y="270.3" width="1" height="1"/><rect x="346.3" y="266.9" width="1" height="1"/><rect x="345.3" y="258.0" width="1" height="1"/><rect x="340.8" y="244.4" width="1" height="1"/><rect x="343.1" y="260.0" width="1" height="1"/><rect x="341.8" y="272.1" width="1" height="1"/><rect x="346.4" y="271.6" width="1" height="1"/><rect x="343.6" y="272.5" width="1" height="1"/><rect x="347.0" y="263.4" width="1" height="1"/><rect x="340.0" y="272.2" width="1" height="1"/><rect x="341.7" y="271.5" width="1" height="1"/><rect x="350.8" y="267.9" width="1" height="1"/><rect x="347.6" y="258.7" width="1" height="1"/><rect x="344.3" y="259.1" width="1" height="1"/><rect x="344.7" y="251.4" width="1" height="1"/><rect x="340.6" y="268.4" width="1" height="1"/><rect x="350.0" y="261.5" width="1" height="1"/><rect x="341.8" y="269.4" width="1" height="1"/><rect x="343.2" y="269.7" width="1" height="1"/><rect x="340.5" y="268.2" width="1" height="1"/><rect x="344.7" y="266.6" width="1" height="1"/><rect x="343.1" y="260.7" width="1" height="1"/><rect x="340.6" y="271.5" width="1" height="1"/><rect x="347.3" y="262.0" width="1" height="1"/><rect x="341.9" y="268.0" width="1" height="1"/><rect x="342.4" y="249.5" width="1" height="1"/><rect x="343.1" y="259.3" width="1" height="1"/><rect x="339.6" y="256.4" width="1" height="1"/><rect x="342.3" y="270.9" width="1" height="1"/><rect x="343.2" y="272.2" width="1" height="1"/><rect x="340.4" y="267.9" width="1" height="1"/><rect x="340.6" y="271.2" width="1" height="1"/><rect x="341.3" y="270.9" width="1" height="1"/><rect x="343.8" y="237.7" width="1" height="1"/><rect x="349.9" y="255.5" width="1" height="1"/><rect x="340.3" y="269.5" width="1" height="1"/><rect x="343.0" y="243.0" width="1" height="1"/><rect x="341.3" y="264.1" width="1" height="1"/><rect x="341.6" y="269.1" width="1" height="1"/><rect x="347.3" y="268.8" width="1" height="1"/><rect x="347.4" y="269.4" width="1" height="1"/><rect x="347.1" y="263.6" width="1" height="1"/><rect x="343.5" y="248.4" width="1" height="1"/><rect x="337.0" y="263.0" width="1" height="1"/><rect x="348.8" y="269.3" width="1" height="1"/><rect x="346.8" y="266.0" width="1" height="1"/><rect x="340.3" y="268.8" width="1" height="1"/><rect x="347.3" y="268.8" width="1" height="1"/><rect x="341.4" y="270.0" width="1" height="1"/><rect x="343.8" y="269.0" width="1" height="1"/><rect x="343.3" y="255.9" width="1" height="1"/><rect x="347.3" y="265.6" width="1" height="1"/><rect x="342.0" y="265.7" width="1" height="1"/><rect x="347.1" y="260.3" width="1" height="1"/><rect x="343.7" y="260.9" width="1" height="1"/><rect x="340.5" y="264.7" width="1" height="1"/><rect x="341.0" y="252.6" width="1" height="1"/><rect x="344.4" y="270.0" width="1" height="1"/><rect x="347.6" y="270.0" width="1" height="1"/><rect x="339.6" y="261.6" width="1" height="1"/><rect x="340.6" y="247.2" width="1" height="1"/><rect x="344.5" y="257.3" width="1" height="1"/><rect x="341.6" y="266.0" width="1" height="1"/><rect x="346.8" y="263.2" width="1" height="1"/><rect x="347.8" y="267.4" width="1" height="1"/><rect x="346.7" y="271.2" width="1" height="1"/><rect x="345.1" y="259.2" width="1" height="1"/><rect x="348.9" y="262.0" width="1" height="1"/><rect x="338.4" y="254.3" width="1" height="1"/><rect x="342.6" y="260.3" width="1" height="1"/><rect x="342.0" y="264.0" width="1" height="1"/><rect x="344.5" y="271.4" width="1" height="1"/><rect x="341.1" y="270.0" width="1" height="1"/><rect x="343.4" y="267.8" width="1" height="1"/><rect x="347.6" y="266.2" width="1" height="1"/><rect x="343.4" y="272.1" width="1" height="1"/><rect x="342.4" y="268.3" width="1" height="1"/><rect x="346.6" y="268.3" width="1" height="1"/><rect x="341.3" y="262.7" width="1" height="1"/><rect x="345.7" y="254.3" width="1" height="1"/><rect x="342.7" y="262.0" width="1" height="1"/><rect x="349.8" y="269.4" width="1" height="1"/><rect x="343.2" y="269.1" width="1" height="1"/><rect x="343.7" y="267.3" width="1" height="1"/><rect x="341.6" y="256.3" width="1" height="1"/><rect x="349.9" y="270.4" width="1" height="1"/><rect x="348.3" y="259.8" width="1" height="1"/><rect x="344.0" y="248.5" width="1" height="1"/><rect x="343.9" y="264.4" width="1" height="1"/><rect x="340.7" y="268.1" width="1" height="1"/><rect x="344.2" y="254.6" width="1" height="1"/><rect x="341.5" y="267.8" width="1" height="1"/><rect x="340.3" y="266.6" width="1" height="1"/><rect x="346.6" y="266.4" width="1" height="1"/><rect x="339.5" y="260.0" width="1" height="1"/><rect x="341.3" y="268.2" width="1" height="1"/><rect x="344.9" y="249.2" width="1" height="1"/><rect x="346.7" y="266.7" width="1" height="1"/><rect x="342.1" y="269.0" width="1" height="1"/><rect x="341.5" y="265.3" width="1" height="1"/><rect x="340.9" y="271.0" width="1" height="1"/><rect x="340.0" y="237.4" width="1" height="1"/><rect x="349.9" y="256.7" width="1" height="1"/><rect x="348.8" y="266.9" width="1" height="1"/><rect x="345.4" y="263.2" width="1" height="1"/><rect x="346.2" y="268.2" width="1" height="1"/><rect x="337.9" y="271.7" width="1" height="1"/><rect x="341.9" y="268.8" width="1" height="1"/><rect x="346.9" y="268.5" width="1" height="1"/><rect x="338.2" y="264.1" width="1" height="1"/><rect x="339.8" y="270.0" width="1" height="1"/><rect x="343.3" y="266.7" width="1" height="1"/><rect x="344.8" y="268.5" width="1" height="1"/><rect x="342.7" y="269.0" width="1" height="1"/><rect x="344.5" y="270.0" width="1" height="1"/><rect x="348.2" y="256.4" width="1" height="1"/><rect x="346.1" y="263.8" width="1" height="1"/><rect x="341.8" y="269.2" width="1" height="1"/><rect x="341.9" y="264.4" width="1" height="1"/><rect x="340.6" y="262.1" width="1" height="1"/><rect x="344.5" y="262.4" width="1" height="1"/><rect x="341.7" y="255.5" width="1" height="1"/><rect x="341.1" y="264.1" width="1" height="1"/><rect x="346.6" y="257.4" width="1" height="1"/><rect x="342.2" y="255.5" width="1" height="1"/><rect x="343.0" y="267.0" width="1" height="1"/><rect x="342.5" y="270.7" width="1" height="1"/><rect x="344.2" y="265.2" width="1" height="1"/><rect x="341.6" y="244.6" width="1" height="1"/><rect x="343.2" y="260.4" width="1" height="1"/><rect x="343.5" y="263.9" width="1" height="1"/><rect x="341.0" y="272.3" width="1" height="1"/><rect x="339.5" y="241.3" width="1" height="1"/><rect x="342.1" y="271.9" width="1" height="1"/><rect x="340.5" y="270.1" width="1" height="1"/><rect x="341.3" y="269.6" width="1" height="1"/><rect x="341.0" y="237.5" width="1" height="1"/><rect x="341.7" y="247.5" width="1" height="1"/><rect x="346.4" y="257.9" width="1" height="1"/><rect x="340.9" y="228.9" width="1" height="1"/><rect x="345.0" y="210.9" width="1" height="1"/><rect x="346.1" y="246.8" width="1" height="1"/><rect x="342.0" y="248.6" width="1" height="1"/><rect x="344.9" y="197.7" width="1" height="1"/><rect x="345.6" y="210.2" width="1" height="1"/><rect x="340.4" y="248.2" width="1" height="1"/><rect x="347.3" y="260.8" width="1" height="1"/><rect x="342.9" y="230.2" width="1" height="1"/><rect x="340.1" y="201.9" width="1" height="1"/><rect x="343.0" y="233.6" width="1" height="1"/><rect x="341.5" y="228.9" width="1" height="1"/><rect x="346.8" y="269.1" width="1" height="1"/><rect x="342.6" y="249.7" width="1" height="1"/><rect x="342.4" y="241.8" width="1" height="1"/><rect x="344.0" y="243.7" width="1" height="1"/><rect x="339.1" y="232.9" width="1" height="1"/><rect x="347.2" y="223.2" width="1" height="1"/><rect x="342.1" y="236.2" width="1" height="1"/><rect x="347.7" y="235.8" width="1" height="1"/><rect x="346.8" y="206.9" width="1" height="1"/><rect x="341.4" y="260.7" width="1" height="1"/><rect x="349.0" y="202.3" width="1" height="1"/><rect x="346.9" y="226.5" width="1" height="1"/><rect x="344.8" y="233.1" width="1" height="1"/><rect x="346.4" y="192.2" width="1" height="1"/><rect x="344.3" y="227.0" width="1" height="1"/><rect x="342.3" y="233.3" width="1" height="1"/><rect x="341.5" y="211.9" width="1" height="1"/><rect x="343.1" y="194.2" width="1" height="1"/><rect x="348.3" y="250.5" width="1" height="1"/><rect x="342.6" y="256.9" width="1" height="1"/><rect x="346.6" y="206.9" width="1" height="1"/><rect x="345.9" y="241.2" width="1" height="1"/><rect x="342.7" y="252.8" width="1" height="1"/><rect x="341.6" y="222.1" width="1" height="1"/><rect x="347.3" y="201.9" width="1" height="1"/><rect x="341.4" y="245.7" width="1" height="1"/><rect x="341.0" y="200.5" width="1" height="1"/><rect x="341.8" y="246.6" width="1" height="1"/><rect x="347.8" y="232.9" width="1" height="1"/><rect x="342.0" y="265.6" width="1" height="1"/><rect x="341.4" y="249.2" width="1" height="1"/><rect x="348.2" y="202.7" width="1" height="1"/><rect x="346.5" y="242.4" width="1" height="1"/><rect x="346.6" y="228.7" width="1" height="1"/><rect x="347.5" y="265.2" width="1" height="1"/><rect x="343.1" y="244.3" width="1" height="1"/><rect x="348.1" y="213.9" width="1" height="1"/><rect x="344.0" y="239.3" width="1" height="1"/><rect x="342.9" y="222.3" width="1" height="1"/><rect x="342.8" y="240.3" width="1" height="1"/><rect x="342.8" y="208.7" width="1" height="1"/><rect x="348.8" y="186.7" width="1" height="1"/><rect x="342.6" y="196.9" width="1" height="1"/><rect x="345.7" y="234.2" width="1" height="1"/><rect x="347.1" y="247.1" width="1" height="1"/></g>
<g fill="none" stroke="#444" stroke-width="0.5"><rect x="340.4" y="246.4" width="1.2" height="1.2"/><rect x="340.6" y="241.0" width="1.2" height="1.2"/><rect x="340.0" y="238.2" width="1.2" height="1.2"/><rect x="345.1" y="241.8" width="1.2" height="1.2"/><rect x="346.1" y="239.4" width="1.2" height="1.2"/><rect x="354.1" y="197.9" width="1.2" height="1.2"/><rect x="351.9" y="196.9" width="1.2" height="1.2"/><rect x="351.1" y="189.5" width="1.2" height="1.2"/><rect x="334.5" y="220.8" width="1.2" height="1.2"/><rect x="353.6" y="206.3" width="1.2" height="1.2"/><rect x="346.4" y="245.6" width="1.2" height="1.2"/><rect x="342.5" y="202.1" width="1.2" height="1.2"/><rect x="345.5" y="215.5" width="1.2" height="1.2"/><rect x="348.5" y="237.1" width="1.2" height="1.2"/></g>
<text x="306.00" y="246.50" font-size="8.8" font-weight="bold" text-anchor="start" fill="#2a2af0" font-style="italic">Rgs9</text>
<circle cx="331.2" cy="248.3" r="1.3" fill="#2a2af0"/>
<circle cx="336" cy="260" r="1" fill="#2a2af0"/>
<path d="M287.8,202.1 C289.3,209.4 296.1,210.0 300.7,208.6 L306.7,208.6 C311.3,210.0 318.1,209.4 319.6,202.1 Z" fill="#e8e8e8" stroke="#aaa" stroke-width="0.4"/>
<path d="M303.7,184.6 C300.7,181.8 289.3,181.8 285.6,191.7 C284.0,198.7 287.8,205.8 294.2,207.2 L299.2,206.6 C299.9,201.5 307.5,201.5 308.2,206.6 L313.2,207.2 C319.6,205.8 323.4,198.7 321.8,191.7 C318.1,181.8 306.7,181.8 303.7,184.6 Z" fill="#1c6ec8"/>
<path d="M303.7,184.6 C300.7,181.8 289.3,181.8 285.6,191.7 C284.0,198.7 287.8,205.8 294.2,207.2 L299.2,206.6 C299.9,201.5 307.5,201.5 308.2,206.6 L313.2,207.2 C319.6,205.8 323.4,198.7 321.8,191.7 C318.1,181.8 306.7,181.8 303.7,184.6 Z" fill="none" stroke="#2a88e0" stroke-width="2.3" opacity="0.5"/>
<path d="M303.7,183.5 L303.7,190.3" stroke="#0c2c68" stroke-width="0.8"/>
<path d="M303.7,189.7 C299.9,187.4 294.2,190.3 293.9,197.3 C294.6,201.5 299.2,203.0 303.7,201.5 C308.2,203.0 312.8,201.5 313.5,197.3 C313.2,190.3 307.5,187.4 303.7,189.7 Z" fill="#0c2c68" opacity="0.8"/>
<path d="M297.3,201.0 C298.4,198.2 301.4,198.7 303.7,199.3 C306.0,198.7 309.0,198.2 310.1,201.0 L309.7,209.4 C306.0,210.6 301.4,210.6 297.7,209.4 Z" fill="#e4e4e4" stroke="#b0b0b0" stroke-width="0.4"/>
<text x="432.20" y="172.00" font-size="12.5" fill="#111">(B)</text>
<g fill="#e8604c"><rect x="483.8" y="203.9" width="1" height="1" opacity="0.22"/><rect x="469.0" y="189.4" width="1" height="1" opacity="0.38"/><rect x="470.8" y="205.7" width="1" height="1" opacity="0.36"/><rect x="470.2" y="199.1" width="1" height="1" opacity="0.30"/><rect x="512.8" y="194.9" width="1" height="1" opacity="0.23"/><rect x="480.5" y="193.7" width="1" height="1" opacity="0.44"/><rect x="474.1" y="188.9" width="1" height="1" opacity="0.34"/><rect x="492.0" y="212.5" width="1" height="1" opacity="0.41"/><rect x="481.8" y="188.5" width="1" height="1" opacity="0.41"/><rect x="502.0" y="209.8" width="1" height="1" opacity="0.36"/><rect x="474.6" y="207.5" width="1" height="1" opacity="0.38"/><rect x="473.3" y="202.5" width="1" height="1" opacity="0.24"/><rect x="480.7" y="194.7" width="1" height="1" opacity="0.35"/><rect x="504.9" y="191.8" width="1" height="1" opacity="0.23"/><rect x="496.1" y="199.5" width="1" height="1" opacity="0.36"/><rect x="511.8" y="201.2" width="1" height="1" opacity="0.37"/><rect x="468.1" y="194.8" width="1" height="1" opacity="0.43"/><rect x="473.4" y="196.6" width="1" height="1" opacity="0.40"/><rect x="486.6" y="207.2" width="1" height="1" opacity="0.33"/><rect x="473.3" y="192.7" width="1" height="1" opacity="0.37"/><rect x="508.3" y="197.2" width="1" height="1" opacity="0.31"/><rect x="504.8" y="190.9" width="1" height="1" opacity="0.28"/><rect x="495.5" y="202.4" width="1" height="1" opacity="0.19"/><rect x="501.4" y="204.2" width="1" height="1" opacity="0.44"/><rect x="503.7" y="190.2" width="1" height="1" opacity="0.39"/><rect x="478.0" y="187.6" width="1" height="1" opacity="0.19"/><rect x="469.6" y="209.7" width="1" height="1" opacity="0.19"/><rect x="495.5" y="188.6" width="1" height="1" opacity="0.23"/><rect x="506.5" y="191.6" width="1" height="1" opacity="0.23"/><rect x="487.1" y="204.2" width="1" height="1" opacity="0.32"/><rect x="508.6" y="194.8" width="1" height="1" opacity="0.32"/><rect x="501.0" y="196.8" width="1" height="1" opacity="0.37"/><rect x="487.7" y="186.3" width="1" height="1" opacity="0.21"/><rect x="504.5" y="205.8" width="1" height="1" opacity="0.43"/><rect x="499.6" y="200.6" width="1" height="1" opacity="0.22"/><rect x="485.5" y="186.5" width="1" height="1" opacity="0.28"/><rect x="479.3" y="195.6" width="1" height="1" opacity="0.37"/><rect x="491.7" y="189.8" width="1" height="1" opacity="0.39"/><rect x="502.0" y="208.5" width="1" height="1" opacity="0.19"/><rect x="495.6" y="210.7" width="1" height="1" opacity="0.25"/><rect x="473.7" y="208.0" width="1" height="1" opacity="0.28"/><rect x="484.3" y="208.2" width="1" height="1" opacity="0.28"/><rect x="473.5" y="188.9" width="1" height="1" opacity="0.27"/><rect x="500.0" y="193.8" width="1" height="1" opacity="0.39"/><rect x="496.1" y="197.3" width="1" height="1" opacity="0.31"/><rect x="488.6" y="191.5" width="1" height="1" opacity="0.31"/><rect x="483.1" y="206.2" width="1" height="1" opacity="0.26"/><rect x="511.4" y="200.5" width="1" height="1" opacity="0.29"/><rect x="504.2" y="189.5" width="1" height="1" opacity="0.34"/><rect x="507.9" y="199.3" width="1" height="1" opacity="0.27"/><rect x="468.1" y="200.4" width="1" height="1" opacity="0.23"/><rect x="482.8" y="199.4" width="1" height="1" opacity="0.43"/><rect x="498.7" y="198.6" width="1" height="1" opacity="0.41"/><rect x="479.4" y="194.4" width="1" height="1" opacity="0.36"/><rect x="492.4" y="189.1" width="1" height="1" opacity="0.29"/><rect x="506.6" y="189.8" width="1" height="1" opacity="0.37"/><rect x="499.3" y="192.4" width="1" height="1" opacity="0.45"/><rect x="476.2" y="197.7" width="1" height="1" opacity="0.45"/><rect x="479.6" y="183.4" width="1" height="1" opacity="0.29"/><rect x="491.5" y="196.1" width="1" height="1" opacity="0.22"/><rect x="486.3" y="197.4" width="1" height="1" opacity="0.31"/><rect x="499.3" y="210.8" width="1" height="1" opacity="0.40"/><rect x="501.5" y="192.8" width="1" height="1" opacity="0.23"/><rect x="467.8" y="209.5" width="1" height="1" opacity="0.20"/><rect x="493.2" y="211.1" width="1" height="1" opacity="0.27"/><rect x="483.6" y="195.4" width="1" height="1" opacity="0.44"/><rect x="499.3" y="208.8" width="1" height="1" opacity="0.19"/><rect x="501.7" y="196.4" width="1" height="1" opacity="0.29"/><rect x="506.3" y="205.5" width="1" height="1" opacity="0.43"/><rect x="502.1" y="211.1" width="1" height="1" opacity="0.30"/><rect x="492.5" y="207.1" width="1" height="1" opacity="0.30"/><rect x="470.3" y="200.7" width="1" height="1" opacity="0.42"/><rect x="483.2" y="189.3" width="1" height="1" opacity="0.27"/><rect x="513.9" y="195.5" width="1" height="1" opacity="0.26"/><rect x="477.4" y="196.1" width="1" height="1" opacity="0.36"/><rect x="481.2" y="188.0" width="1" height="1" opacity="0.24"/><rect x="476.8" y="211.0" width="1" height="1" opacity="0.23"/><rect x="503.0" y="185.5" width="1" height="1" opacity="0.39"/><rect x="477.1" y="206.9" width="1" height="1" opacity="0.30"/><rect x="505.4" y="199.3" width="1" height="1" opacity="0.31"/><rect x="481.7" y="204.1" width="1" height="1" opacity="0.31"/><rect x="466.3" y="201.2" width="1" height="1" opacity="0.26"/><rect x="507.9" y="199.6" width="1" height="1" opacity="0.39"/><rect x="469.4" y="204.6" width="1" height="1" opacity="0.34"/><rect x="492.2" y="200.9" width="1" height="1" opacity="0.39"/><rect x="477.0" y="199.4" width="1" height="1" opacity="0.39"/><rect x="494.5" y="199.4" width="1" height="1" opacity="0.41"/><rect x="467.0" y="201.6" width="1" height="1" opacity="0.22"/><rect x="514.4" y="197.2" width="1" height="1" opacity="0.32"/><rect x="506.3" y="209.8" width="1" height="1" opacity="0.22"/><rect x="487.0" y="187.8" width="1" height="1" opacity="0.30"/><rect x="470.1" y="210.1" width="1" height="1" opacity="0.28"/><rect x="483.6" y="210.7" width="1" height="1" opacity="0.40"/><rect x="480.8" y="198.0" width="1" height="1" opacity="0.36"/><rect x="473.0" y="186.4" width="1" height="1" opacity="0.41"/><rect x="471.6" y="204.6" width="1" height="1" opacity="0.38"/><rect x="494.4" y="193.1" width="1" height="1" opacity="0.41"/><rect x="510.6" y="202.4" width="1" height="1" opacity="0.26"/><rect x="506.0" y="209.1" width="1" height="1" opacity="0.27"/><rect x="484.9" y="191.5" width="1" height="1" opacity="0.19"/><rect x="478.8" y="208.3" width="1" height="1" opacity="0.20"/><rect x="484.4" y="198.5" width="1" height="1" opacity="0.22"/><rect x="508.7" y="204.6" width="1" height="1" opacity="0.42"/><rect x="480.2" y="190.0" width="1" height="1" opacity="0.41"/><rect x="495.1" y="211.5" width="1" height="1" opacity="0.28"/><rect x="484.9" y="205.0" width="1" height="1" opacity="0.42"/><rect x="471.8" y="190.4" width="1" height="1" opacity="0.18"/><rect x="492.7" y="211.6" width="1" height="1" opacity="0.33"/><rect x="470.9" y="204.1" width="1" height="1" opacity="0.36"/><rect x="498.0" y="197.7" width="1" height="1" opacity="0.27"/><rect x="471.5" y="197.0" width="1" height="1" opacity="0.28"/><rect x="475.3" y="202.7" width="1" height="1" opacity="0.36"/><rect x="487.7" y="204.9" width="1" height="1" opacity="0.28"/><rect x="486.0" y="200.1" width="1" height="1" opacity="0.44"/><rect x="465.2" y="196.8" width="1" height="1" opacity="0.27"/><rect x="488.0" y="184.6" width="1" height="1" opacity="0.34"/><rect x="494.1" y="203.8" width="1" height="1" opacity="0.39"/><rect x="487.6" y="199.6" width="1" height="1" opacity="0.39"/><rect x="487.0" y="187.1" width="1" height="1" opacity="0.34"/><rect x="483.8" y="203.9" width="1" height="1" opacity="0.44"/><rect x="469.8" y="203.0" width="1" height="1" opacity="0.34"/><rect x="477.5" y="183.1" width="1" height="1" opacity="0.43"/><rect x="499.8" y="202.0" width="1" height="1" opacity="0.21"/><rect x="510.7" y="194.8" width="1" height="1" opacity="0.31"/><rect x="492.5" y="196.3" width="1" height="1" opacity="0.44"/><rect x="487.8" y="203.7" width="1" height="1" opacity="0.39"/><rect x="481.0" y="212.4" width="1" height="1" opacity="0.34"/><rect x="482.7" y="210.2" width="1" height="1" opacity="0.21"/><rect x="476.4" y="184.2" width="1" height="1" opacity="0.36"/><rect x="488.8" y="191.7" width="1" height="1" opacity="0.30"/><rect x="476.4" y="204.7" width="1" height="1" opacity="0.39"/><rect x="483.2" y="209.8" width="1" height="1" opacity="0.19"/><rect x="493.0" y="186.9" width="1" height="1" opacity="0.21"/><rect x="492.6" y="184.8" width="1" height="1" opacity="0.20"/><rect x="470.1" y="194.0" width="1" height="1" opacity="0.40"/><rect x="478.3" y="185.9" width="1" height="1" opacity="0.39"/><rect x="491.6" y="210.3" width="1" height="1" opacity="0.24"/><rect x="487.9" y="204.0" width="1" height="1" opacity="0.24"/><rect x="490.7" y="208.4" width="1" height="1" opacity="0.40"/><rect x="499.9" y="208.5" width="1" height="1" opacity="0.45"/><rect x="495.1" y="190.0" width="1" height="1" opacity="0.24"/><rect x="493.3" y="201.3" width="1" height="1" opacity="0.42"/><rect x="499.6" y="194.6" width="1" height="1" opacity="0.34"/><rect x="481.2" y="207.4" width="1" height="1" opacity="0.36"/><rect x="495.0" y="194.6" width="1" height="1" opacity="0.27"/><rect x="483.4" y="183.6" width="1" height="1" opacity="0.28"/><rect x="476.2" y="198.0" width="1" height="1" opacity="0.38"/><rect x="473.6" y="193.4" width="1" height="1" opacity="0.34"/><rect x="473.0" y="211.1" width="1" height="1" opacity="0.19"/><rect x="509.7" y="203.4" width="1" height="1" opacity="0.29"/><rect x="478.3" y="209.8" width="1" height="1" opacity="0.37"/><rect x="474.2" y="192.2" width="1" height="1" opacity="0.21"/><rect x="496.3" y="195.6" width="1" height="1" opacity="0.27"/><rect x="500.3" y="190.1" width="1" height="1" opacity="0.22"/><rect x="505.2" y="210.4" width="1" height="1" opacity="0.40"/><rect x="492.6" y="205.0" width="1" height="1" opacity="0.41"/><rect x="481.8" y="205.5" width="1" height="1" opacity="0.27"/><rect x="503.5" y="190.2" width="1" height="1" opacity="0.44"/><rect x="486.1" y="200.9" width="1" height="1" opacity="0.35"/><rect x="506.5" y="200.0" width="1" height="1" opacity="0.24"/><rect x="494.1" y="244.9" width="1" height="1" opacity="0.27"/><rect x="523.2" y="229.1" width="1" height="1" opacity="0.57"/><rect x="488.9" y="269.0" width="1" height="1" opacity="0.50"/><rect x="490.5" y="253.5" width="1" height="1" opacity="0.24"/><rect x="467.4" y="246.2" width="1" height="1" opacity="0.35"/><rect x="491.5" y="253.7" width="1" height="1" opacity="0.41"/><rect x="506.9" y="256.0" width="1" height="1" opacity="0.54"/><rect x="468.9" y="261.4" width="1" height="1" opacity="0.51"/><rect x="478.0" y="215.2" width="1" height="1" opacity="0.31"/><rect x="467.7" y="245.4" width="1" height="1" opacity="0.60"/><rect x="497.4" y="227.1" width="1" height="1" opacity="0.30"/><rect x="534.0" y="243.9" width="1" height="1" opacity="0.33"/><rect x="529.3" y="235.9" width="1" height="1" opacity="0.59"/><rect x="499.3" y="225.7" width="1" height="1" opacity="0.31"/><rect x="462.2" y="260.5" width="1" height="1" opacity="0.36"/><rect x="515.6" y="262.2" width="1" height="1" opacity="0.38"/><rect x="499.3" y="254.7" width="1" height="1" opacity="0.47"/><rect x="488.2" y="222.3" width="1" height="1" opacity="0.34"/><rect x="462.6" y="249.4" width="1" height="1" opacity="0.47"/><rect x="519.0" y="237.3" width="1" height="1" opacity="0.50"/><rect x="502.9" y="262.8" width="1" height="1" opacity="0.44"/><rect x="511.5" y="247.2" width="1" height="1" opacity="0.31"/><rect x="466.8" y="260.8" width="1" height="1" opacity="0.49"/><rect x="499.3" y="266.7" width="1" height="1" opacity="0.31"/><rect x="516.0" y="241.2" width="1" height="1" opacity="0.28"/><rect x="475.2" y="258.2" width="1" height="1" opacity="0.41"/><rect x="464.5" y="240.6" width="1" height="1" opacity="0.59"/><rect x="520.0" y="228.7" width="1" height="1" opacity="0.41"/><rect x="488.5" y="224.3" width="1" height="1" opacity="0.48"/><rect x="462.7" y="239.3" width="1" height="1" opacity="0.57"/><rect x="517.7" y="250.7" width="1" height="1" opacity="0.54"/><rect x="498.1" y="218.4" width="1" height="1" opacity="0.43"/><rect x="498.3" y="271.8" width="1" height="1" opacity="0.33"/><rect x="514.9" y="257.1" width="1" height="1" opacity="0.46"/><rect x="482.3" y="266.2" width="1" height="1" opacity="0.33"/><rect x="500.9" y="213.2" width="1" height="1" opacity="0.34"/><rect x="487.7" y="245.6" width="1" height="1" opacity="0.53"/><rect x="464.5" y="256.2" width="1" height="1" opacity="0.28"/><rect x="487.7" y="267.5" width="1" height="1" opacity="0.55"/><rect x="465.0" y="234.1" width="1" height="1" opacity="0.57"/><rect x="474.3" y="238.4" width="1" height="1" opacity="0.33"/><rect x="483.2" y="240.4" width="1" height="1" opacity="0.29"/><rect x="518.2" y="247.0" width="1" height="1" opacity="0.29"/><rect x="471.0" y="248.5" width="1" height="1" opacity="0.46"/><rect x="489.2" y="226.7" width="1" height="1" opacity="0.47"/><rect x="529.6" y="231.7" width="1" height="1" opacity="0.42"/><rect x="464.7" y="239.0" width="1" height="1" opacity="0.56"/><rect x="531.5" y="231.7" width="1" height="1" opacity="0.55"/><rect x="525.2" y="227.4" width="1" height="1" opacity="0.59"/><rect x="491.6" y="252.5" width="1" height="1" opacity="0.49"/><rect x="504.7" y="213.2" width="1" height="1" opacity="0.48"/><rect x="521.2" y="249.8" width="1" height="1" opacity="0.57"/><rect x="533.3" y="249.7" width="1" height="1" opacity="0.37"/><rect x="499.0" y="221.3" width="1" height="1" opacity="0.32"/><rect x="534.4" y="237.4" width="1" height="1" opacity="0.41"/><rect x="527.6" y="259.4" width="1" height="1" opacity="0.26"/><rect x="491.9" y="243.0" width="1" height="1" opacity="0.33"/><rect x="518.4" y="248.4" width="1" height="1" opacity="0.55"/><rect x="471.1" y="221.6" width="1" height="1" opacity="0.35"/><rect x="499.8" y="225.8" width="1" height="1" opacity="0.43"/><rect x="487.0" y="213.9" width="1" height="1" opacity="0.54"/><rect x="501.6" y="265.8" width="1" height="1" opacity="0.43"/><rect x="525.5" y="247.8" width="1" height="1" opacity="0.42"/><rect x="531.4" y="232.4" width="1" height="1" opacity="0.59"/><rect x="505.1" y="268.8" width="1" height="1" opacity="0.27"/><rect x="501.5" y="229.6" width="1" height="1" opacity="0.53"/><rect x="490.1" y="214.5" width="1" height="1" opacity="0.59"/><rect x="476.5" y="261.2" width="1" height="1" opacity="0.45"/><rect x="515.8" y="253.8" width="1" height="1" opacity="0.33"/><rect x="489.9" y="233.8" width="1" height="1" opacity="0.49"/><rect x="512.0" y="271.4" width="1" height="1" opacity="0.43"/><rect x="487.2" y="217.4" width="1" height="1" opacity="0.40"/><rect x="505.7" y="252.7" width="1" height="1" opacity="0.25"/><rect x="475.8" y="249.5" width="1" height="1" opacity="0.52"/><rect x="515.6" y="237.8" width="1" height="1" opacity="0.45"/><rect x="512.3" y="235.2" width="1" height="1" opacity="0.46"/><rect x="502.3" y="272.0" width="1" height="1" opacity="0.56"/><rect x="479.8" y="258.5" width="1" height="1" opacity="0.57"/><rect x="491.7" y="244.1" width="1" height="1" opacity="0.35"/><rect x="513.6" y="271.4" width="1" height="1" opacity="0.59"/><rect x="524.9" y="236.9" width="1" height="1" opacity="0.58"/><rect x="525.3" y="236.1" width="1" height="1" opacity="0.37"/><rect x="485.6" y="230.1" width="1" height="1" opacity="0.45"/><rect x="492.2" y="269.4" width="1" height="1" opacity="0.24"/><rect x="506.3" y="236.7" width="1" height="1" opacity="0.60"/><rect x="515.7" y="233.5" width="1" height="1" opacity="0.49"/><rect x="479.3" y="260.5" width="1" height="1" opacity="0.45"/><rect x="478.3" y="223.1" width="1" height="1" opacity="0.38"/><rect x="486.9" y="251.2" width="1" height="1" opacity="0.41"/><rect x="463.5" y="230.2" width="1" height="1" opacity="0.40"/><rect x="507.2" y="269.8" width="1" height="1" opacity="0.29"/><rect x="476.5" y="219.4" width="1" height="1" opacity="0.33"/><rect x="482.0" y="243.5" width="1" height="1" opacity="0.56"/><rect x="487.5" y="230.0" width="1" height="1" opacity="0.41"/><rect x="532.2" y="241.4" width="1" height="1" opacity="0.59"/><rect x="484.1" y="244.2" width="1" height="1" opacity="0.47"/><rect x="515.0" y="261.9" width="1" height="1" opacity="0.28"/><rect x="476.5" y="216.6" width="1" height="1" opacity="0.52"/><rect x="498.0" y="240.6" width="1" height="1" opacity="0.25"/><rect x="497.3" y="217.3" width="1" height="1" opacity="0.25"/><rect x="513.6" y="259.6" width="1" height="1" opacity="0.39"/><rect x="475.0" y="230.8" width="1" height="1" opacity="0.36"/><rect x="528.4" y="241.3" width="1" height="1" opacity="0.39"/><rect x="521.9" y="236.8" width="1" height="1" opacity="0.35"/><rect x="487.0" y="246.1" width="1" height="1" opacity="0.57"/><rect x="488.5" y="253.3" width="1" height="1" opacity="0.42"/><rect x="516.2" y="268.1" width="1" height="1" opacity="0.26"/><rect x="513.2" y="224.9" width="1" height="1" opacity="0.48"/><rect x="475.3" y="218.7" width="1" height="1" opacity="0.55"/><rect x="510.2" y="249.6" width="1" height="1" opacity="0.39"/><rect x="480.1" y="213.9" width="1" height="1" opacity="0.58"/><rect x="520.5" y="256.7" width="1" height="1" opacity="0.27"/><rect x="461.9" y="239.0" width="1" height="1" opacity="0.28"/><rect x="507.0" y="229.1" width="1" height="1" opacity="0.52"/><rect x="473.3" y="240.9" width="1" height="1" opacity="0.39"/><rect x="478.5" y="230.5" width="1" height="1" opacity="0.31"/><rect x="483.7" y="237.4" width="1" height="1" opacity="0.38"/><rect x="510.5" y="264.5" width="1" height="1" opacity="0.42"/><rect x="476.0" y="241.6" width="1" height="1" opacity="0.29"/><rect x="482.2" y="267.5" width="1" height="1" opacity="0.45"/><rect x="474.4" y="261.9" width="1" height="1" opacity="0.27"/><rect x="513.1" y="220.1" width="1" height="1" opacity="0.51"/><rect x="475.7" y="269.0" width="1" height="1" opacity="0.25"/><rect x="496.8" y="266.3" width="1" height="1" opacity="0.48"/><rect x="462.2" y="251.1" width="1" height="1" opacity="0.35"/><rect x="477.6" y="218.3" width="1" height="1" opacity="0.28"/><rect x="503.2" y="256.9" width="1" height="1" opacity="0.56"/><rect x="508.8" y="237.1" width="1" height="1" opacity="0.57"/><rect x="473.7" y="267.2" width="1" height="1" opacity="0.59"/><rect x="501.5" y="256.2" width="1" height="1" opacity="0.46"/><rect x="513.3" y="252.2" width="1" height="1" opacity="0.49"/><rect x="511.8" y="240.0" width="1" height="1" opacity="0.31"/><rect x="486.0" y="230.2" width="1" height="1" opacity="0.49"/><rect x="471.0" y="252.9" width="1" height="1" opacity="0.41"/><rect x="530.2" y="236.2" width="1" height="1" opacity="0.51"/><rect x="524.9" y="260.9" width="1" height="1" opacity="0.33"/><rect x="492.6" y="257.3" width="1" height="1" opacity="0.27"/><rect x="512.2" y="253.1" width="1" height="1" opacity="0.58"/><rect x="469.8" y="260.7" width="1" height="1" opacity="0.30"/><rect x="481.9" y="260.6" width="1" height="1" opacity="0.42"/><rect x="492.8" y="264.9" width="1" height="1" opacity="0.55"/><rect x="483.4" y="261.9" width="1" height="1" opacity="0.60"/><rect x="512.3" y="223.7" width="1" height="1" opacity="0.43"/><rect x="503.0" y="227.7" width="1" height="1" opacity="0.51"/><rect x="532.3" y="231.0" width="1" height="1" opacity="0.29"/><rect x="519.7" y="259.7" width="1" height="1" opacity="0.40"/><rect x="532.3" y="254.5" width="1" height="1" opacity="0.49"/><rect x="491.3" y="228.8" width="1" height="1" opacity="0.50"/><rect x="513.9" y="239.9" width="1" height="1" opacity="0.27"/><rect x="498.6" y="268.1" width="1" height="1" opacity="0.52"/><rect x="515.8" y="249.7" width="1" height="1" opacity="0.31"/><rect x="501.9" y="237.6" width="1" height="1" opacity="0.58"/><rect x="484.7" y="249.6" width="1" height="1" opacity="0.51"/><rect x="492.2" y="246.4" width="1" height="1" opacity="0.36"/><rect x="481.4" y="220.7" width="1" height="1" opacity="0.36"/><rect x="515.2" y="268.8" width="1" height="1" opacity="0.26"/><rect x="469.5" y="250.5" width="1" height="1" opacity="0.59"/><rect x="491.2" y="229.4" width="1" height="1" opacity="0.38"/><rect x="534.0" y="250.4" width="1" height="1" opacity="0.54"/><rect x="492.8" y="243.1" width="1" height="1" opacity="0.37"/><rect x="495.8" y="259.0" width="1" height="1" opacity="0.48"/><rect x="472.6" y="226.4" width="1" height="1" opacity="0.48"/><rect x="499.1" y="243.3" width="1" height="1" opacity="0.26"/><rect x="482.5" y="237.3" width="1" height="1" opacity="0.56"/><rect x="493.0" y="221.6" width="1" height="1" opacity="0.39"/><rect x="505.9" y="255.6" width="1" height="1" opacity="0.45"/><rect x="507.6" y="246.7" width="1" height="1" opacity="0.31"/><rect x="475.2" y="240.6" width="1" height="1" opacity="0.27"/><rect x="489.5" y="248.7" width="1" height="1" opacity="0.55"/><rect x="534.1" y="245.7" width="1" height="1" opacity="0.29"/><rect x="503.8" y="252.2" width="1" height="1" opacity="0.32"/><rect x="523.2" y="221.9" width="1" height="1" opacity="0.47"/><rect x="517.7" y="228.1" width="1" height="1" opacity="0.39"/><rect x="527.9" y="240.4" width="1" height="1" opacity="0.31"/><rect x="486.4" y="214.5" width="1" height="1" opacity="0.58"/><rect x="489.4" y="239.8" width="1" height="1" opacity="0.26"/><rect x="507.8" y="219.7" width="1" height="1" opacity="0.31"/><rect x="518.9" y="240.0" width="1" height="1" opacity="0.44"/><rect x="481.3" y="214.6" width="1" height="1" opacity="0.36"/><rect x="489.8" y="265.4" width="1" height="1" opacity="0.50"/><rect x="495.4" y="244.2" width="1" height="1" opacity="0.49"/><rect x="516.9" y="257.0" width="1" height="1" opacity="0.34"/><rect x="490.6" y="227.7" width="1" height="1" opacity="0.38"/><rect x="522.9" y="237.9" width="1" height="1" opacity="0.26"/><rect x="516.3" y="231.1" width="1" height="1" opacity="0.50"/><rect x="503.2" y="211.0" width="1" height="1" opacity="0.57"/><rect x="464.7" y="242.3" width="1" height="1" opacity="0.25"/><rect x="466.2" y="263.2" width="1" height="1" opacity="0.48"/><rect x="507.2" y="221.4" width="1" height="1" opacity="0.33"/><rect x="483.6" y="260.0" width="1" height="1" opacity="0.32"/><rect x="504.8" y="262.9" width="1" height="1" opacity="0.27"/><rect x="491.3" y="225.4" width="1" height="1" opacity="0.45"/><rect x="485.7" y="269.6" width="1" height="1" opacity="0.36"/><rect x="525.6" y="235.0" width="1" height="1" opacity="0.42"/><rect x="517.1" y="255.2" width="1" height="1" opacity="0.48"/><rect x="478.4" y="238.1" width="1" height="1" opacity="0.27"/><rect x="477.6" y="238.7" width="1" height="1" opacity="0.56"/><rect x="526.0" y="226.4" width="1" height="1" opacity="0.50"/><rect x="526.0" y="237.9" width="1" height="1" opacity="0.53"/><rect x="506.9" y="243.7" width="1" height="1" opacity="0.41"/><rect x="505.0" y="241.5" width="1" height="1" opacity="0.44"/><rect x="464.2" y="254.5" width="1" height="1" opacity="0.31"/><rect x="469.3" y="265.7" width="1" height="1" opacity="0.54"/><rect x="521.1" y="236.4" width="1" height="1" opacity="0.29"/><rect x="489.2" y="217.8" width="1" height="1" opacity="0.40"/><rect x="479.9" y="236.7" width="1" height="1" opacity="0.56"/><rect x="505.8" y="263.4" width="1" height="1" opacity="0.59"/><rect x="501.6" y="256.6" width="1" height="1" opacity="0.28"/><rect x="483.6" y="255.3" width="1" height="1" opacity="0.56"/><rect x="471.0" y="263.3" width="1" height="1" opacity="0.54"/><rect x="467.8" y="248.8" width="1" height="1" opacity="0.35"/><rect x="522.7" y="233.7" width="1" height="1" opacity="0.56"/><rect x="514.4" y="226.2" width="1" height="1" opacity="0.42"/><rect x="503.2" y="235.7" width="1" height="1" opacity="0.54"/><rect x="470.9" y="265.0" width="1" height="1" opacity="0.57"/><rect x="484.2" y="252.1" width="1" height="1" opacity="0.47"/><rect x="525.2" y="256.5" width="1" height="1" opacity="0.51"/><rect x="497.4" y="243.6" width="1" height="1" opacity="0.25"/><rect x="470.5" y="252.2" width="1" height="1" opacity="0.56"/><rect x="518.9" y="218.5" width="1" height="1" opacity="0.35"/><rect x="503.7" y="239.4" width="1" height="1" opacity="0.54"/><rect x="511.8" y="265.4" width="1" height="1" opacity="0.55"/><rect x="518.7" y="259.1" width="1" height="1" opacity="0.58"/><rect x="476.4" y="236.4" width="1" height="1" opacity="0.57"/><rect x="485.9" y="231.6" width="1" height="1" opacity="0.27"/><rect x="511.3" y="263.8" width="1" height="1" opacity="0.31"/><rect x="479.0" y="219.7" width="1" height="1" opacity="0.54"/><rect x="476.7" y="264.9" width="1" height="1" opacity="0.58"/><rect x="509.9" y="268.1" width="1" height="1" opacity="0.56"/><rect x="498.4" y="246.4" width="1" height="1" opacity="0.29"/><rect x="468.1" y="253.3" width="1" height="1" opacity="0.33"/><rect x="479.5" y="244.2" width="1" height="1" opacity="0.50"/><rect x="469.3" y="231.7" width="1" height="1" opacity="0.46"/><rect x="522.2" y="265.0" width="1" height="1" opacity="0.56"/><rect x="512.8" y="224.7" width="1" height="1" opacity="0.56"/><rect x="511.5" y="247.7" width="1" height="1" opacity="0.34"/><rect x="481.2" y="268.6" width="1" height="1" opacity="0.43"/><rect x="498.0" y="225.2" width="1" height="1" opacity="0.33"/><rect x="472.4" y="256.1" width="1" height="1" opacity="0.46"/><rect x="487.0" y="228.8" width="1" height="1" opacity="0.44"/><rect x="486.3" y="262.1" width="1" height="1" opacity="0.59"/><rect x="490.8" y="259.3" width="1" height="1" opacity="0.38"/><rect x="515.8" y="248.8" width="1" height="1" opacity="0.59"/><rect x="473.0" y="225.8" width="1" height="1" opacity="0.43"/><rect x="522.5" y="251.7" width="1" height="1" opacity="0.32"/><rect x="500.9" y="260.1" width="1" height="1" opacity="0.56"/><rect x="505.9" y="241.1" width="1" height="1" opacity="0.34"/><rect x="502.7" y="231.9" width="1" height="1" opacity="0.52"/><rect x="528.4" y="260.0" width="1" height="1" opacity="0.29"/><rect x="525.3" y="225.8" width="1" height="1" opacity="0.29"/><rect x="473.4" y="235.5" width="1" height="1" opacity="0.47"/><rect x="485.4" y="245.7" width="1" height="1" opacity="0.34"/><rect x="475.3" y="218.7" width="1" height="1" opacity="0.30"/><rect x="533.7" y="246.9" width="1" height="1" opacity="0.26"/><rect x="522.2" y="233.9" width="1" height="1" opacity="0.47"/><rect x="499.1" y="218.2" width="1" height="1" opacity="0.43"/><rect x="487.2" y="267.2" width="1" height="1" opacity="0.38"/><rect x="478.6" y="231.7" width="1" height="1" opacity="0.28"/><rect x="464.1" y="246.5" width="1" height="1" opacity="0.57"/><rect x="513.5" y="231.2" width="1" height="1" opacity="0.26"/><rect x="475.4" y="258.9" width="1" height="1" opacity="0.48"/><rect x="502.6" y="248.1" width="1" height="1" opacity="0.36"/><rect x="494.6" y="217.0" width="1" height="1" opacity="0.36"/><rect x="506.3" y="264.4" width="1" height="1" opacity="0.31"/><rect x="500.1" y="240.5" width="1" height="1" opacity="0.55"/><rect x="511.0" y="234.5" width="1" height="1" opacity="0.26"/><rect x="509.5" y="261.1" width="1" height="1" opacity="0.59"/><rect x="513.3" y="243.2" width="1" height="1" opacity="0.41"/><rect x="506.8" y="218.0" width="1" height="1" opacity="0.58"/><rect x="478.1" y="261.4" width="1" height="1" opacity="0.25"/><rect x="522.9" y="239.2" width="1" height="1" opacity="0.53"/><rect x="506.2" y="257.8" width="1" height="1" opacity="0.33"/><rect x="508.7" y="223.9" width="1" height="1" opacity="0.45"/><rect x="522.8" y="229.0" width="1" height="1" opacity="0.25"/><rect x="513.3" y="217.8" width="1" height="1" opacity="0.51"/><rect x="479.2" y="257.6" width="1" height="1" opacity="0.58"/><rect x="533.8" y="255.4" width="1" height="1" opacity="0.39"/><rect x="502.9" y="218.4" width="1" height="1" opacity="0.35"/><rect x="499.9" y="230.8" width="1" height="1" opacity="0.57"/><rect x="483.7" y="254.5" width="1" height="1" opacity="0.56"/><rect x="519.4" y="263.1" width="1" height="1" opacity="0.53"/><rect x="504.1" y="268.8" width="1" height="1" opacity="0.46"/><rect x="486.1" y="257.3" width="1" height="1" opacity="0.24"/><rect x="498.1" y="224.1" width="1" height="1" opacity="0.36"/><rect x="492.3" y="229.5" width="1" height="1" opacity="0.30"/><rect x="527.7" y="235.9" width="1" height="1" opacity="0.35"/><rect x="506.4" y="265.6" width="1" height="1" opacity="0.44"/><rect x="492.1" y="269.5" width="1" height="1" opacity="0.36"/><rect x="487.4" y="225.2" width="1" height="1" opacity="0.28"/><rect x="481.9" y="256.6" width="1" height="1" opacity="0.44"/><rect x="470.5" y="251.6" width="1" height="1" opacity="0.31"/><rect x="463.0" y="236.6" width="1" height="1" opacity="0.51"/><rect x="512.3" y="215.8" width="1" height="1" opacity="0.37"/><rect x="511.7" y="269.2" width="1" height="1" opacity="0.50"/><rect x="500.6" y="258.7" width="1" height="1" opacity="0.30"/><rect x="489.1" y="213.6" width="1" height="1" opacity="0.36"/><rect x="505.6" y="253.3" width="1" height="1" opacity="0.47"/><rect x="468.3" y="225.3" width="1" height="1" opacity="0.59"/><rect x="493.5" y="241.5" width="1" height="1" opacity="0.56"/><rect x="506.7" y="265.8" width="1" height="1" opacity="0.30"/><rect x="505.9" y="241.2" width="1" height="1" opacity="0.42"/><rect x="515.7" y="264.6" width="1" height="1" opacity="0.29"/><rect x="480.3" y="218.4" width="1" height="1" opacity="0.29"/><rect x="484.6" y="246.9" width="1" height="1" opacity="0.27"/><rect x="474.5" y="220.1" width="1" height="1" opacity="0.28"/><rect x="496.1" y="245.4" width="1" height="1" opacity="0.42"/><rect x="531.1" y="234.2" width="1" height="1" opacity="0.51"/><rect x="490.8" y="230.0" width="1" height="1" opacity="0.45"/><rect x="501.0" y="262.7" width="1" height="1" opacity="0.37"/><rect x="485.9" y="246.4" width="1" height="1" opacity="0.42"/><rect x="490.7" y="262.2" width="1" height="1" opacity="0.31"/><rect x="482.4" y="218.0" width="1" height="1" opacity="0.24"/><rect x="474.4" y="264.2" width="1" height="1" opacity="0.59"/><rect x="502.7" y="219.8" width="1" height="1" opacity="0.53"/><rect x="532.5" y="249.1" width="1" height="1" opacity="0.52"/><rect x="529.8" y="236.2" width="1" height="1" opacity="0.58"/><rect x="517.6" y="238.1" width="1" height="1" opacity="0.49"/><rect x="477.8" y="265.8" width="1" height="1" opacity="0.53"/><rect x="523.2" y="232.7" width="1" height="1" opacity="0.26"/><rect x="521.9" y="226.1" width="1" height="1" opacity="0.28"/><rect x="516.2" y="220.8" width="1" height="1" opacity="0.51"/><rect x="486.3" y="221.8" width="1" height="1" opacity="0.59"/><rect x="492.0" y="268.2" width="1" height="1" opacity="0.50"/><rect x="501.1" y="232.2" width="1" height="1" opacity="0.30"/><rect x="517.0" y="216.8" width="1" height="1" opacity="0.54"/><rect x="491.6" y="227.3" width="1" height="1" opacity="0.52"/><rect x="525.1" y="256.9" width="1" height="1" opacity="0.24"/><rect x="478.8" y="240.3" width="1" height="1" opacity="0.47"/><rect x="506.0" y="248.0" width="1" height="1" opacity="0.44"/><rect x="483.5" y="229.5" width="1" height="1" opacity="0.37"/><rect x="525.5" y="234.0" width="1" height="1" opacity="0.37"/><rect x="498.3" y="234.5" width="1" height="1" opacity="0.40"/><rect x="510.5" y="248.7" width="1" height="1" opacity="0.46"/><rect x="480.4" y="234.9" width="1" height="1" opacity="0.45"/><rect x="505.7" y="257.4" width="1" height="1" opacity="0.36"/><rect x="488.3" y="225.5" width="1" height="1" opacity="0.26"/><rect x="489.0" y="261.3" width="1" height="1" opacity="0.50"/><rect x="532.2" y="254.8" width="1" height="1" opacity="0.52"/><rect x="500.9" y="217.2" width="1" height="1" opacity="0.56"/><rect x="504.9" y="253.2" width="1" height="1" opacity="0.39"/><rect x="507.3" y="270.2" width="1" height="1" opacity="0.34"/><rect x="486.1" y="251.4" width="1" height="1" opacity="0.53"/><rect x="512.5" y="241.6" width="1" height="1" opacity="0.36"/><rect x="526.0" y="227.6" width="1" height="1" opacity="0.50"/><rect x="483.0" y="245.8" width="1" height="1" opacity="0.44"/><rect x="511.0" y="229.6" width="1" height="1" opacity="0.25"/><rect x="498.6" y="250.5" width="1" height="1" opacity="0.60"/><rect x="484.3" y="217.3" width="1" height="1" opacity="0.40"/><rect x="521.3" y="263.7" width="1" height="1" opacity="0.31"/><rect x="493.5" y="266.6" width="1" height="1" opacity="0.53"/><rect x="502.2" y="217.1" width="1" height="1" opacity="0.56"/><rect x="482.2" y="232.3" width="1" height="1" opacity="0.34"/><rect x="516.5" y="255.9" width="1" height="1" opacity="0.53"/><rect x="481.8" y="248.6" width="1" height="1" opacity="0.47"/><rect x="507.2" y="215.5" width="1" height="1" opacity="0.46"/><rect x="488.1" y="260.9" width="1" height="1" opacity="0.40"/><rect x="514.9" y="258.2" width="1" height="1" opacity="0.27"/><rect x="506.7" y="229.2" width="1" height="1" opacity="0.56"/><rect x="499.7" y="215.4" width="1" height="1" opacity="0.47"/><rect x="499.3" y="246.1" width="1" height="1" opacity="0.42"/><rect x="498.3" y="271.5" width="1" height="1" opacity="0.43"/><rect x="506.2" y="269.2" width="1" height="1" opacity="0.29"/><rect x="484.1" y="226.4" width="1" height="1" opacity="0.49"/><rect x="494.0" y="241.2" width="1" height="1" opacity="0.50"/><rect x="494.4" y="220.5" width="1" height="1" opacity="0.46"/><rect x="486.1" y="247.1" width="1" height="1" opacity="0.50"/><rect x="502.2" y="237.2" width="1" height="1" opacity="0.24"/><rect x="514.9" y="248.1" width="1" height="1" opacity="0.25"/><rect x="472.1" y="224.4" width="1" height="1" opacity="0.39"/><rect x="476.4" y="241.0" width="1" height="1" opacity="0.51"/><rect x="485.1" y="225.4" width="1" height="1" opacity="0.36"/><rect x="528.7" y="249.0" width="1" height="1" opacity="0.51"/><rect x="485.6" y="233.7" width="1" height="1" opacity="0.44"/><rect x="494.1" y="217.8" width="1" height="1" opacity="0.39"/><rect x="469.5" y="228.4" width="1" height="1" opacity="0.33"/><rect x="496.6" y="264.2" width="1" height="1" opacity="0.34"/><rect x="499.1" y="262.2" width="1" height="1" opacity="0.37"/><rect x="529.8" y="238.1" width="1" height="1" opacity="0.48"/><rect x="481.5" y="271.5" width="1" height="1" opacity="0.27"/><rect x="475.6" y="216.5" width="1" height="1" opacity="0.51"/><rect x="496.5" y="241.5" width="1" height="1" opacity="0.43"/><rect x="519.3" y="222.5" width="1" height="1" opacity="0.43"/><rect x="491.2" y="258.1" width="1" height="1" opacity="0.51"/><rect x="508.4" y="226.5" width="1" height="1" opacity="0.36"/><rect x="494.0" y="255.8" width="1" height="1" opacity="0.33"/><rect x="472.0" y="242.1" width="1" height="1" opacity="0.55"/><rect x="475.4" y="235.1" width="1" height="1" opacity="0.54"/><rect x="503.1" y="260.7" width="1" height="1" opacity="0.46"/><rect x="510.5" y="250.5" width="1" height="1" opacity="0.47"/><rect x="531.4" y="244.8" width="1" height="1" opacity="0.45"/><rect x="504.8" y="254.3" width="1" height="1" opacity="0.41"/><rect x="506.8" y="261.7" width="1" height="1" opacity="0.59"/><rect x="484.0" y="216.9" width="1" height="1" opacity="0.52"/><rect x="477.3" y="238.5" width="1" height="1" opacity="0.59"/><rect x="518.2" y="260.3" width="1" height="1" opacity="0.57"/><rect x="528.9" y="240.3" width="1" height="1" opacity="0.52"/><rect x="483.6" y="232.0" width="1" height="1" opacity="0.56"/><rect x="497.1" y="227.5" width="1" height="1" opacity="0.50"/><rect x="482.9" y="245.9" width="1" height="1" opacity="0.52"/><rect x="468.9" y="264.0" width="1" height="1" opacity="0.57"/><rect x="498.8" y="265.5" width="1" height="1" opacity="0.47"/><rect x="496.2" y="238.3" width="1" height="1" opacity="0.55"/><rect x="535.5" y="233.8" width="1" height="1" opacity="0.45"/><rect x="492.2" y="229.6" width="1" height="1" opacity="0.27"/><rect x="506.0" y="226.0" width="1" height="1" opacity="0.37"/><rect x="526.0" y="230.4" width="1" height="1" opacity="0.50"/><rect x="495.4" y="240.3" width="1" height="1" opacity="0.57"/><rect x="466.0" y="247.7" width="1" height="1" opacity="0.36"/><rect x="484.4" y="262.2" width="1" height="1" opacity="0.26"/><rect x="500.4" y="258.0" width="1" height="1" opacity="0.32"/><rect x="517.9" y="255.1" width="1" height="1" opacity="0.58"/><rect x="497.4" y="223.1" width="1" height="1" opacity="0.59"/><rect x="507.9" y="261.5" width="1" height="1" opacity="0.46"/><rect x="523.3" y="238.7" width="1" height="1" opacity="0.26"/><rect x="483.3" y="271.3" width="1" height="1" opacity="0.30"/><rect x="503.1" y="259.0" width="1" height="1" opacity="0.46"/><rect x="485.3" y="232.4" width="1" height="1" opacity="0.58"/><rect x="520.0" y="236.3" width="1" height="1" opacity="0.45"/><rect x="513.5" y="232.6" width="1" height="1" opacity="0.52"/><rect x="465.7" y="238.2" width="1" height="1" opacity="0.40"/><rect x="496.5" y="233.1" width="1" height="1" opacity="0.49"/><rect x="463.5" y="262.2" width="1" height="1" opacity="0.35"/><rect x="499.1" y="246.3" width="1" height="1" opacity="0.48"/><rect x="466.5" y="261.9" width="1" height="1" opacity="0.56"/><rect x="474.2" y="224.2" width="1" height="1" opacity="0.42"/><rect x="489.4" y="257.8" width="1" height="1" opacity="0.53"/><rect x="494.2" y="257.2" width="1" height="1" opacity="0.56"/><rect x="530.4" y="260.3" width="1" height="1" opacity="0.46"/><rect x="498.5" y="256.2" width="1" height="1" opacity="0.25"/><rect x="463.0" y="233.8" width="1" height="1" opacity="0.28"/><rect x="487.3" y="268.5" width="1" height="1" opacity="0.34"/><rect x="468.3" y="240.9" width="1" height="1" opacity="0.39"/><rect x="496.2" y="269.9" width="1" height="1" opacity="0.34"/><rect x="480.3" y="226.8" width="1" height="1" opacity="0.32"/><rect x="466.3" y="240.9" width="1" height="1" opacity="0.56"/><rect x="531.2" y="234.1" width="1" height="1" opacity="0.37"/><rect x="506.1" y="231.8" width="1" height="1" opacity="0.39"/><rect x="529.0" y="241.1" width="1" height="1" opacity="0.26"/><rect x="489.7" y="250.2" width="1" height="1" opacity="0.40"/><rect x="481.0" y="233.0" width="1" height="1" opacity="0.53"/><rect x="531.0" y="249.1" width="1" height="1" opacity="0.45"/><rect x="527.1" y="233.3" width="1" height="1" opacity="0.33"/><rect x="495.9" y="254.6" width="1" height="1" opacity="0.50"/><rect x="523.2" y="265.6" width="1" height="1" opacity="0.49"/><rect x="512.4" y="235.1" width="1" height="1" opacity="0.57"/><rect x="493.7" y="268.0" width="1" height="1" opacity="0.35"/><rect x="479.1" y="213.6" width="1" height="1" opacity="0.39"/><rect x="464.3" y="255.3" width="1" height="1" opacity="0.35"/><rect x="517.8" y="244.3" width="1" height="1" opacity="0.48"/><rect x="511.0" y="255.6" width="1" height="1" opacity="0.41"/><rect x="496.4" y="255.7" width="1" height="1" opacity="0.27"/><rect x="515.2" y="228.2" width="1" height="1" opacity="0.49"/><rect x="521.7" y="252.6" width="1" height="1" opacity="0.24"/><rect x="469.7" y="230.6" width="1" height="1" opacity="0.49"/><rect x="500.9" y="231.5" width="1" height="1" opacity="0.48"/><rect x="517.9" y="245.6" width="1" height="1" opacity="0.52"/><rect x="482.2" y="252.0" width="1" height="1" opacity="0.27"/><rect x="500.4" y="217.5" width="1" height="1" opacity="0.54"/><rect x="483.2" y="242.4" width="1" height="1" opacity="0.32"/><rect x="496.8" y="212.1" width="1" height="1" opacity="0.24"/><rect x="528.9" y="239.2" width="1" height="1" opacity="0.53"/><rect x="518.7" y="267.5" width="1" height="1" opacity="0.41"/><rect x="508.2" y="239.9" width="1" height="1" opacity="0.29"/><rect x="489.0" y="267.3" width="1" height="1" opacity="0.52"/><rect x="520.9" y="225.8" width="1" height="1" opacity="0.24"/><rect x="533.3" y="249.1" width="1" height="1" opacity="0.54"/><rect x="480.9" y="261.2" width="1" height="1" opacity="0.25"/><rect x="524.9" y="264.5" width="1" height="1" opacity="0.32"/><rect x="503.2" y="269.8" width="1" height="1" opacity="0.59"/><rect x="509.9" y="226.0" width="1" height="1" opacity="0.42"/><rect x="528.0" y="259.3" width="1" height="1" opacity="0.57"/><rect x="463.8" y="232.0" width="1" height="1" opacity="0.32"/><rect x="516.3" y="259.9" width="1" height="1" opacity="0.42"/><rect x="486.9" y="250.1" width="1" height="1" opacity="0.38"/><rect x="476.0" y="233.1" width="1" height="1" opacity="0.54"/><rect x="503.3" y="227.1" width="1" height="1" opacity="0.57"/><rect x="468.7" y="236.0" width="1" height="1" opacity="0.56"/><rect x="522.0" y="231.3" width="1" height="1" opacity="0.42"/><rect x="491.3" y="233.2" width="1" height="1" opacity="0.27"/><rect x="463.2" y="234.8" width="1" height="1" opacity="0.38"/><rect x="484.9" y="239.2" width="1" height="1" opacity="0.44"/><rect x="462.6" y="245.6" width="1" height="1" opacity="0.35"/><rect x="467.8" y="235.0" width="1" height="1" opacity="0.44"/><rect x="466.1" y="238.2" width="1" height="1" opacity="0.40"/><rect x="509.9" y="233.9" width="1" height="1" opacity="0.58"/><rect x="471.6" y="224.9" width="1" height="1" opacity="0.59"/><rect x="524.6" y="257.6" width="1" height="1" opacity="0.32"/><rect x="499.2" y="268.3" width="1" height="1" opacity="0.41"/><rect x="530.6" y="230.0" width="1" height="1" opacity="0.42"/><rect x="510.4" y="215.7" width="1" height="1" opacity="0.46"/><rect x="487.1" y="245.4" width="1" height="1" opacity="0.40"/><rect x="474.7" y="236.8" width="1" height="1" opacity="0.27"/><rect x="523.1" y="222.8" width="1" height="1" opacity="0.51"/><rect x="512.6" y="265.8" width="1" height="1" opacity="0.48"/><rect x="515.3" y="235.7" width="1" height="1" opacity="0.27"/><rect x="464.2" y="229.1" width="1" height="1" opacity="0.56"/><rect x="529.5" y="250.3" width="1" height="1" opacity="0.50"/><rect x="507.8" y="231.0" width="1" height="1" opacity="0.36"/><rect x="512.6" y="247.3" width="1" height="1" opacity="0.48"/><rect x="495.3" y="242.5" width="1" height="1" opacity="0.54"/><rect x="522.4" y="264.4" width="1" height="1" opacity="0.39"/><rect x="461.2" y="234.4" width="1" height="1" opacity="0.37"/><rect x="515.8" y="239.4" width="1" height="1" opacity="0.47"/><rect x="476.0" y="243.1" width="1" height="1" opacity="0.24"/><rect x="468.3" y="242.7" width="1" height="1" opacity="0.30"/><rect x="467.0" y="225.8" width="1" height="1" opacity="0.48"/><rect x="531.1" y="239.1" width="1" height="1" opacity="0.31"/><rect x="503.9" y="239.4" width="1" height="1" opacity="0.56"/><rect x="504.6" y="269.8" width="1" height="1" opacity="0.41"/><rect x="465.1" y="250.0" width="1" height="1" opacity="0.31"/><rect x="494.3" y="249.9" width="1" height="1" opacity="0.53"/><rect x="524.8" y="242.3" width="1" height="1" opacity="0.50"/><rect x="509.9" y="229.6" width="1" height="1" opacity="0.27"/><rect x="464.3" y="233.4" width="1" height="1" opacity="0.33"/><rect x="473.2" y="244.6" width="1" height="1" opacity="0.42"/><rect x="488.3" y="270.6" width="1" height="1" opacity="0.54"/><rect x="515.2" y="233.3" width="1" height="1" opacity="0.34"/><rect x="481.6" y="241.5" width="1" height="1" opacity="0.54"/><rect x="511.0" y="246.4" width="1" height="1" opacity="0.31"/><rect x="508.1" y="244.3" width="1" height="1" opacity="0.60"/><rect x="530.4" y="243.4" width="1" height="1" opacity="0.57"/><rect x="521.8" y="232.5" width="1" height="1" opacity="0.66"/><rect x="513.5" y="230.6" width="1" height="1" opacity="0.49"/><rect x="530.2" y="238.2" width="1" height="1" opacity="0.67"/><rect x="502.7" y="245.1" width="1" height="1" opacity="0.68"/><rect x="512.0" y="252.8" width="1" height="1" opacity="0.57"/><rect x="525.0" y="246.6" width="1" height="1" opacity="0.62"/><rect x="504.4" y="253.3" width="1" height="1" opacity="0.34"/><rect x="499.0" y="235.3" width="1" height="1" opacity="0.68"/><rect x="523.0" y="248.3" width="1" height="1" opacity="0.53"/><rect x="525.5" y="236.5" width="1" height="1" opacity="0.61"/><rect x="516.7" y="254.8" width="1" height="1" opacity="0.48"/><rect x="516.2" y="250.8" width="1" height="1" opacity="0.43"/><rect x="523.9" y="249.5" width="1" height="1" opacity="0.64"/><rect x="505.8" y="256.8" width="1" height="1" opacity="0.43"/><rect x="523.3" y="245.9" width="1" height="1" opacity="0.69"/><rect x="527.7" y="242.9" width="1" height="1" opacity="0.60"/><rect x="498.3" y="238.2" width="1" height="1" opacity="0.66"/><rect x="523.0" y="240.8" width="1" height="1" opacity="0.56"/><rect x="492.8" y="226.8" width="1" height="1" opacity="0.62"/><rect x="517.8" y="234.6" width="1" height="1" opacity="0.37"/><rect x="493.8" y="233.5" width="1" height="1" opacity="0.51"/><rect x="501.7" y="237.3" width="1" height="1" opacity="0.73"/><rect x="524.5" y="231.7" width="1" height="1" opacity="0.64"/><rect x="514.9" y="246.8" width="1" height="1" opacity="0.47"/><rect x="503.1" y="233.6" width="1" height="1" opacity="0.49"/><rect x="503.6" y="246.0" width="1" height="1" opacity="0.61"/><rect x="519.5" y="247.3" width="1" height="1" opacity="0.53"/><rect x="522.5" y="235.0" width="1" height="1" opacity="0.45"/><rect x="521.8" y="253.3" width="1" height="1" opacity="0.49"/><rect x="500.4" y="237.8" width="1" height="1" opacity="0.65"/><rect x="499.3" y="251.1" width="1" height="1" opacity="0.69"/><rect x="521.0" y="249.5" width="1" height="1" opacity="0.64"/><rect x="512.1" y="254.2" width="1" height="1" opacity="0.63"/><rect x="527.1" y="233.2" width="1" height="1" opacity="0.62"/><rect x="530.1" y="248.3" width="1" height="1" opacity="0.60"/><rect x="527.2" y="244.7" width="1" height="1" opacity="0.51"/><rect x="514.0" y="252.3" width="1" height="1" opacity="0.37"/><rect x="498.9" y="232.6" width="1" height="1" opacity="0.61"/><rect x="501.0" y="256.5" width="1" height="1" opacity="0.38"/><rect x="522.2" y="251.5" width="1" height="1" opacity="0.49"/><rect x="521.8" y="237.4" width="1" height="1" opacity="0.41"/><rect x="520.8" y="230.4" width="1" height="1" opacity="0.60"/><rect x="522.7" y="232.2" width="1" height="1" opacity="0.68"/><rect x="500.7" y="251.0" width="1" height="1" opacity="0.56"/><rect x="499.0" y="243.3" width="1" height="1" opacity="0.62"/><rect x="507.2" y="244.6" width="1" height="1" opacity="0.59"/><rect x="510.1" y="235.9" width="1" height="1" opacity="0.50"/><rect x="505.6" y="256.5" width="1" height="1" opacity="0.32"/><rect x="511.9" y="238.8" width="1" height="1" opacity="0.53"/><rect x="503.8" y="231.6" width="1" height="1" opacity="0.73"/><rect x="507.1" y="230.9" width="1" height="1" opacity="0.41"/><rect x="521.7" y="241.7" width="1" height="1" opacity="0.73"/><rect x="516.5" y="232.8" width="1" height="1" opacity="0.58"/><rect x="525.3" y="227.8" width="1" height="1" opacity="0.60"/><rect x="513.3" y="238.1" width="1" height="1" opacity="0.32"/><rect x="506.0" y="241.6" width="1" height="1" opacity="0.35"/><rect x="529.1" y="246.8" width="1" height="1" opacity="0.47"/><rect x="509.4" y="233.4" width="1" height="1" opacity="0.56"/><rect x="524.1" y="248.9" width="1" height="1" opacity="0.30"/><rect x="521.3" y="244.7" width="1" height="1" opacity="0.44"/><rect x="501.8" y="233.5" width="1" height="1" opacity="0.55"/><rect x="493.8" y="227.8" width="1" height="1" opacity="0.32"/><rect x="523.1" y="243.7" width="1" height="1" opacity="0.57"/><rect x="515.1" y="240.9" width="1" height="1" opacity="0.37"/><rect x="507.8" y="239.4" width="1" height="1" opacity="0.71"/><rect x="504.0" y="242.0" width="1" height="1" opacity="0.59"/><rect x="522.3" y="233.9" width="1" height="1" opacity="0.55"/><rect x="510.8" y="253.2" width="1" height="1" opacity="0.32"/><rect x="497.6" y="227.1" width="1" height="1" opacity="0.46"/><rect x="520.0" y="246.9" width="1" height="1" opacity="0.68"/><rect x="507.1" y="256.0" width="1" height="1" opacity="0.63"/><rect x="504.4" y="242.4" width="1" height="1" opacity="0.49"/><rect x="524.8" y="250.6" width="1" height="1" opacity="0.60"/><rect x="501.2" y="236.4" width="1" height="1" opacity="0.61"/><rect x="510.2" y="252.1" width="1" height="1" opacity="0.42"/><rect x="510.6" y="235.8" width="1" height="1" opacity="0.50"/><rect x="522.0" y="249.5" width="1" height="1" opacity="0.47"/><rect x="520.1" y="240.1" width="1" height="1" opacity="0.40"/><rect x="502.7" y="249.5" width="1" height="1" opacity="0.56"/><rect x="501.4" y="227.3" width="1" height="1" opacity="0.50"/><rect x="493.5" y="230.4" width="1" height="1" opacity="0.34"/><rect x="525.9" y="247.1" width="1" height="1" opacity="0.63"/><rect x="501.6" y="241.2" width="1" height="1" opacity="0.55"/><rect x="508.6" y="251.4" width="1" height="1" opacity="0.34"/><rect x="519.2" y="246.4" width="1" height="1" opacity="0.47"/><rect x="512.9" y="246.0" width="1" height="1" opacity="0.36"/><rect x="530.1" y="239.3" width="1" height="1" opacity="0.42"/><rect x="501.8" y="227.4" width="1" height="1" opacity="0.50"/><rect x="509.1" y="236.9" width="1" height="1" opacity="0.61"/><rect x="514.8" y="229.9" width="1" height="1" opacity="0.59"/><rect x="502.6" y="257.4" width="1" height="1" opacity="0.63"/><rect x="494.4" y="228.8" width="1" height="1" opacity="0.42"/><rect x="496.9" y="239.4" width="1" height="1" opacity="0.73"/><rect x="525.6" y="248.1" width="1" height="1" opacity="0.71"/><rect x="500.3" y="240.8" width="1" height="1" opacity="0.60"/><rect x="508.1" y="245.8" width="1" height="1" opacity="0.37"/><rect x="512.3" y="240.7" width="1" height="1" opacity="0.47"/><rect x="507.3" y="249.8" width="1" height="1" opacity="0.70"/><rect x="517.5" y="249.7" width="1" height="1" opacity="0.63"/><rect x="520.9" y="249.8" width="1" height="1" opacity="0.63"/><rect x="524.7" y="249.1" width="1" height="1" opacity="0.40"/><rect x="529.5" y="250.3" width="1" height="1" opacity="0.69"/><rect x="516.3" y="253.2" width="1" height="1" opacity="0.52"/><rect x="503.0" y="239.9" width="1" height="1" opacity="0.45"/><rect x="517.4" y="247.2" width="1" height="1" opacity="0.49"/><rect x="518.4" y="246.6" width="1" height="1" opacity="0.63"/><rect x="522.0" y="236.3" width="1" height="1" opacity="0.67"/><rect x="517.6" y="240.2" width="1" height="1" opacity="0.51"/><rect x="511.9" y="244.2" width="1" height="1" opacity="0.62"/><rect x="524.0" y="235.7" width="1" height="1" opacity="0.63"/><rect x="497.3" y="241.4" width="1" height="1" opacity="0.31"/><rect x="520.7" y="239.6" width="1" height="1" opacity="0.64"/><rect x="518.9" y="235.9" width="1" height="1" opacity="0.43"/><rect x="512.6" y="245.5" width="1" height="1" opacity="0.33"/><rect x="504.4" y="248.1" width="1" height="1" opacity="0.58"/><rect x="520.1" y="243.4" width="1" height="1" opacity="0.40"/><rect x="508.2" y="234.5" width="1" height="1" opacity="0.68"/><rect x="499.8" y="252.7" width="1" height="1" opacity="0.41"/><rect x="517.8" y="227.5" width="1" height="1" opacity="0.71"/><rect x="525.2" y="235.4" width="1" height="1" opacity="0.73"/><rect x="526.4" y="242.2" width="1" height="1" opacity="0.42"/><rect x="511.1" y="237.1" width="1" height="1" opacity="0.62"/><rect x="528.2" y="236.4" width="1" height="1" opacity="0.70"/><rect x="524.4" y="237.0" width="1" height="1" opacity="0.73"/><rect x="498.1" y="231.9" width="1" height="1" opacity="0.66"/><rect x="498.2" y="233.6" width="1" height="1" opacity="0.72"/><rect x="523.4" y="244.4" width="1" height="1" opacity="0.69"/><rect x="499.5" y="249.9" width="1" height="1" opacity="0.37"/><rect x="495.8" y="240.5" width="1" height="1" opacity="0.30"/><rect x="503.5" y="253.4" width="1" height="1" opacity="0.68"/><rect x="525.8" y="231.2" width="1" height="1" opacity="0.46"/><rect x="492.8" y="226.5" width="1" height="1" opacity="0.44"/><rect x="519.2" y="231.4" width="1" height="1" opacity="0.65"/><rect x="502.2" y="240.9" width="1" height="1" opacity="0.58"/><rect x="529.2" y="229.6" width="1" height="1" opacity="0.75"/><rect x="506.5" y="227.2" width="1" height="1" opacity="0.37"/><rect x="525.4" y="228.0" width="1" height="1" opacity="0.36"/><rect x="524.8" y="253.0" width="1" height="1" opacity="0.74"/><rect x="518.6" y="232.4" width="1" height="1" opacity="0.70"/><rect x="511.9" y="252.0" width="1" height="1" opacity="0.61"/><rect x="506.6" y="243.4" width="1" height="1" opacity="0.34"/><rect x="510.7" y="250.8" width="1" height="1" opacity="0.66"/><rect x="503.7" y="227.8" width="1" height="1" opacity="0.49"/><rect x="526.2" y="235.5" width="1" height="1" opacity="0.50"/><rect x="529.3" y="251.8" width="1" height="1" opacity="0.30"/><rect x="524.0" y="250.1" width="1" height="1" opacity="0.54"/><rect x="494.7" y="227.3" width="1" height="1" opacity="0.45"/><rect x="510.2" y="246.4" width="1" height="1" opacity="0.41"/><rect x="495.5" y="228.6" width="1" height="1" opacity="0.75"/><rect x="525.2" y="230.1" width="1" height="1" opacity="0.37"/><rect x="519.9" y="248.8" width="1" height="1" opacity="0.47"/><rect x="530.2" y="246.8" width="1" height="1" opacity="0.60"/><rect x="514.7" y="235.7" width="1" height="1" opacity="0.35"/><rect x="501.8" y="250.4" width="1" height="1" opacity="0.46"/><rect x="522.3" y="251.0" width="1" height="1" opacity="0.53"/><rect x="524.8" y="229.4" width="1" height="1" opacity="0.68"/><rect x="500.2" y="240.4" width="1" height="1" opacity="0.67"/><rect x="508.8" y="250.5" width="1" height="1" opacity="0.73"/><rect x="529.8" y="251.8" width="1" height="1" opacity="0.40"/><rect x="506.8" y="232.9" width="1" height="1" opacity="0.62"/><rect x="509.8" y="241.6" width="1" height="1" opacity="0.32"/><rect x="508.1" y="240.7" width="1" height="1" opacity="0.41"/><rect x="495.8" y="243.6" width="1" height="1" opacity="0.59"/><rect x="502.9" y="248.0" width="1" height="1" opacity="0.32"/><rect x="519.3" y="241.9" width="1" height="1" opacity="0.61"/><rect x="528.1" y="236.7" width="1" height="1" opacity="0.47"/><rect x="519.0" y="243.2" width="1" height="1" opacity="0.47"/><rect x="504.3" y="255.0" width="1" height="1" opacity="0.31"/><rect x="498.7" y="225.8" width="1" height="1" opacity="0.63"/><rect x="502.1" y="235.5" width="1" height="1" opacity="0.60"/><rect x="505.0" y="250.5" width="1" height="1" opacity="0.50"/><rect x="523.2" y="252.4" width="1" height="1" opacity="0.46"/><rect x="505.8" y="245.7" width="1" height="1" opacity="0.32"/><rect x="524.9" y="243.8" width="1" height="1" opacity="0.61"/><rect x="497.1" y="235.5" width="1" height="1" opacity="0.66"/><rect x="519.6" y="232.1" width="1" height="1" opacity="0.56"/><rect x="514.8" y="229.8" width="1" height="1" opacity="0.50"/><rect x="511.8" y="244.3" width="1" height="1" opacity="0.48"/><rect x="524.4" y="230.0" width="1" height="1" opacity="0.66"/><rect x="509.7" y="238.5" width="1" height="1" opacity="0.31"/><rect x="495.6" y="241.5" width="1" height="1" opacity="0.50"/><rect x="524.5" y="249.7" width="1" height="1" opacity="0.57"/><rect x="506.3" y="250.8" width="1" height="1" opacity="0.57"/><rect x="495.1" y="233.9" width="1" height="1" opacity="0.70"/><rect x="520.4" y="240.2" width="1" height="1" opacity="0.44"/><rect x="507.6" y="239.0" width="1" height="1" opacity="0.37"/><rect x="513.7" y="255.3" width="1" height="1" opacity="0.37"/><rect x="507.8" y="254.3" width="1" height="1" opacity="0.38"/><rect x="523.6" y="246.6" width="1" height="1" opacity="0.75"/><rect x="504.1" y="232.5" width="1" height="1" opacity="0.34"/><rect x="495.8" y="240.1" width="1" height="1" opacity="0.60"/><rect x="527.1" y="252.1" width="1" height="1" opacity="0.60"/><rect x="523.2" y="241.3" width="1" height="1" opacity="0.67"/><rect x="502.3" y="240.6" width="1" height="1" opacity="0.64"/><rect x="521.8" y="242.4" width="1" height="1" opacity="0.63"/><rect x="503.7" y="226.9" width="1" height="1" opacity="0.41"/><rect x="504.9" y="254.5" width="1" height="1" opacity="0.40"/><rect x="529.3" y="230.4" width="1" height="1" opacity="0.53"/><rect x="512.9" y="254.3" width="1" height="1" opacity="0.43"/><rect x="465.4" y="248.0" width="1" height="1" opacity="0.41"/><rect x="462.0" y="255.7" width="1" height="1" opacity="0.37"/><rect x="461.9" y="248.1" width="1" height="1" opacity="0.43"/><rect x="461.7" y="253.1" width="1" height="1" opacity="0.27"/><rect x="460.3" y="240.3" width="1" height="1" opacity="0.38"/><rect x="464.5" y="254.1" width="1" height="1" opacity="0.21"/><rect x="455.3" y="250.1" width="1" height="1" opacity="0.24"/><rect x="461.8" y="245.3" width="1" height="1" opacity="0.20"/><rect x="458.3" y="256.1" width="1" height="1" opacity="0.28"/><rect x="459.3" y="247.7" width="1" height="1" opacity="0.38"/><rect x="459.5" y="247.6" width="1" height="1" opacity="0.21"/><rect x="462.4" y="252.7" width="1" height="1" opacity="0.24"/><rect x="456.7" y="245.2" width="1" height="1" opacity="0.23"/><rect x="465.0" y="247.0" width="1" height="1" opacity="0.38"/><rect x="460.1" y="244.2" width="1" height="1" opacity="0.24"/><rect x="462.3" y="255.5" width="1" height="1" opacity="0.45"/><rect x="458.7" y="256.1" width="1" height="1" opacity="0.24"/><rect x="466.7" y="254.4" width="1" height="1" opacity="0.32"/><rect x="453.9" y="248.3" width="1" height="1" opacity="0.38"/><rect x="464.1" y="251.2" width="1" height="1" opacity="0.29"/><rect x="460.0" y="256.1" width="1" height="1" opacity="0.27"/><rect x="457.5" y="245.0" width="1" height="1" opacity="0.23"/><rect x="463.0" y="256.0" width="1" height="1" opacity="0.22"/><rect x="454.6" y="248.5" width="1" height="1" opacity="0.39"/><rect x="461.1" y="243.3" width="1" height="1" opacity="0.36"/><rect x="460.7" y="252.7" width="1" height="1" opacity="0.45"/><rect x="457.7" y="252.9" width="1" height="1" opacity="0.40"/><rect x="464.4" y="246.0" width="1" height="1" opacity="0.18"/><rect x="461.7" y="244.5" width="1" height="1" opacity="0.20"/><rect x="460.2" y="247.5" width="1" height="1" opacity="0.38"/><rect x="460.5" y="254.3" width="1" height="1" opacity="0.23"/><rect x="455.3" y="248.0" width="1" height="1" opacity="0.25"/><rect x="459.2" y="246.1" width="1" height="1" opacity="0.36"/><rect x="461.9" y="243.4" width="1" height="1" opacity="0.40"/><rect x="465.2" y="247.5" width="1" height="1" opacity="0.39"/><rect x="465.9" y="249.4" width="1" height="1" opacity="0.27"/><rect x="468.5" y="249.9" width="1" height="1" opacity="0.38"/><rect x="455.3" y="252.7" width="1" height="1" opacity="0.25"/><rect x="459.6" y="240.9" width="1" height="1" opacity="0.20"/><rect x="463.3" y="254.0" width="1" height="1" opacity="0.23"/></g>
<path d="M522.5,219 C524,213 532,210 539,211 C544,212 546,216 546,219 C548,220 549,223 547,225 C542,227 536,224 532,226 C527,227 523,224 522.5,219 Z" fill="#f8d0c8" stroke="#b82020" stroke-width="1.8" opacity="0.95"/>
<path d="M527,219 C530,216 536,215 540,217 M530,222 C534,221 538,221 542,222" fill="none" stroke="#d04040" stroke-width="0.8" opacity="0.7"/>
<rect x="447.50" y="177.20" width="100.90" height="99.50" fill="none" stroke="#111" stroke-width="1.3" />
<text x="521.40" y="208.60" font-size="8.8" font-weight="bold" text-anchor="start" fill="#111" font-style="italic">Rgs9</text>
<defs><linearGradient id="redbar" x1="0" y1="1" x2="0" y2="0"><stop offset="0" stop-color="#fff5f0"/><stop offset="0.4" stop-color="#f8a080"/><stop offset="0.75" stop-color="#d83020"/><stop offset="1" stop-color="#680808"/></linearGradient></defs>
<rect x="551.00" y="177.20" width="3.60" height="99.50" fill="url(#redbar)" stroke="#333" stroke-width="0.4" />
<line x1="554.60" y1="276.70" x2="556.00" y2="276.70" stroke="#000" stroke-width="0.5" />
<text x="557.80" y="278.70" font-size="5.6" font-weight="bold" text-anchor="start" fill="#222" >0</text>
<line x1="554.60" y1="257.32" x2="556.00" y2="257.32" stroke="#000" stroke-width="0.5" />
<text x="557.80" y="259.32" font-size="5.6" font-weight="bold" text-anchor="start" fill="#222" >1</text>
<line x1="554.60" y1="237.94" x2="556.00" y2="237.94" stroke="#000" stroke-width="0.5" />
<text x="557.80" y="239.94" font-size="5.6" font-weight="bold" text-anchor="start" fill="#222" >2</text>
<line x1="554.60" y1="218.56" x2="556.00" y2="218.56" stroke="#000" stroke-width="0.5" />
<text x="557.80" y="220.56" font-size="5.6" font-weight="bold" text-anchor="start" fill="#222" >3</text>
<line x1="554.60" y1="199.18" x2="556.00" y2="199.18" stroke="#000" stroke-width="0.5" />
<text x="557.80" y="201.18" font-size="5.6" font-weight="bold" text-anchor="start" fill="#222" >4</text>
<line x1="554.60" y1="179.80" x2="556.00" y2="179.80" stroke="#000" stroke-width="0.5" />
<text x="557.80" y="181.80" font-size="5.6" font-weight="bold" text-anchor="start" fill="#222" >5</text>
<text transform="translate(442.20,226.60) rotate(-90)" font-size="7.7" font-weight="bold" text-anchor="middle" fill="#222">UMAP2</text>
<text x="497.70" y="287.30" font-size="7.7" font-weight="bold" text-anchor="middle" fill="#222" >UMAP1</text>
<text x="585.60" y="172.00" font-size="12.5" fill="#111">(C)</text>
<text x="615.50" y="169.20" font-size="8.4" font-weight="bold" text-anchor="start" fill="#222" >Percentage of <tspan font-style="italic">Rgs9</tspan><tspan font-size="5" dy="-3">+</tspan><tspan dy="3"> neurons</tspan></text>
<circle cx="618.7" cy="197.6" r="21.1" fill="#4a76c6"/>
<path d="M618.7,197.6 L618.7,176.5 A21.1,21.1 0 0 0 608.58,179.08 Z" fill="#c01818"/>
<text x="618.70" y="201.30" font-size="8.6" font-weight="bold" text-anchor="middle" fill="#fff" >Sham</text>
<circle cx="667.8" cy="198.3" r="20.6" fill="#4a76c6"/>
<line x1="667.80" y1="177.70" x2="667.80" y2="198.30" stroke="#c01818" stroke-width="0.5" />
<text x="667.80" y="201.80" font-size="9" font-weight="bold" text-anchor="middle" fill="#fff" >ips-iACS</text>
<circle cx="699.5" cy="192.8" r="4.6" fill="#c01818"/><circle cx="699.5" cy="207.6" r="4.6" fill="#4a76c6"/>
<text x="708.00" y="195.60" font-size="8.5" font-weight="bold" text-anchor="start" fill="#222" ><tspan font-style="italic">Rgs9</tspan><tspan font-size="5" dy="-3">+</tspan><tspan dy="3"> neurons</tspan></text>
<text x="708.00" y="210.60" font-size="8.45" font-weight="bold" text-anchor="start" fill="#222" >Other neurons</text>
<text x="615.50" y="236.00" font-size="8.6" font-weight="bold" text-anchor="start" fill="#222" ><tspan font-style="italic">Rgs9</tspan><tspan font-size="5" dy="-3">+</tspan><tspan dy="3"> neurons numbers</tspan></text>
<line x1="614.20" y1="241.00" x2="614.20" y2="275.50" stroke="#000" stroke-width="0.9" />
<line x1="613.70" y1="275.50" x2="696.00" y2="275.50" stroke="#000" stroke-width="0.9" />
<path d="M612.7,242 L614.2,238.8 L615.7,242 Z M695,274 L698.2,275.5 L695,277 Z" fill="#000"/>
<text x="610.20" y="251.40" font-size="8.3" font-weight="bold" text-anchor="end" fill="#222" >1200</text>
<text x="609.00" y="282.50" font-size="8.3" font-weight="bold" text-anchor="end" fill="#222" >0</text>
<rect x="628.20" y="243.00" width="13.20" height="32.50" fill="#c00000"  />
<rect x="669.60" y="273.80" width="13.30" height="1.70" fill="#c00000"  />
<text x="635.30" y="285.20" font-size="8.6" font-weight="bold" text-anchor="middle" fill="#222" >Sham</text>
<text x="682.00" y="285.20" font-size="8.5" font-weight="bold" text-anchor="middle" fill="#222" >ips-iACS</text>
<text x="773.80" y="172.00" font-size="12.5" fill="#111">(D)</text>
<line x1="814.40" y1="173.20" x2="814.40" y2="253.40" stroke="#000" stroke-width="1.0" />
<line x1="813.90" y1="252.90" x2="893.00" y2="252.90" stroke="#000" stroke-width="1.0" />
<line x1="812.40" y1="252.90" x2="814.40" y2="252.90" stroke="#000" stroke-width="0.8" />
<text x="811.60" y="254.77" font-size="5.2" font-weight="bold" text-anchor="end" fill="#000" >0.0</text>
<line x1="812.40" y1="226.50" x2="814.40" y2="226.50" stroke="#000" stroke-width="0.8" />
<text x="811.60" y="228.37" font-size="5.2" font-weight="bold" text-anchor="end" fill="#000" >0.5</text>
<line x1="812.40" y1="200.10" x2="814.40" y2="200.10" stroke="#000" stroke-width="0.8" />
<text x="811.60" y="201.97" font-size="5.2" font-weight="bold" text-anchor="end" fill="#000" >1.0</text>
<line x1="812.40" y1="173.70" x2="814.40" y2="173.70" stroke="#000" stroke-width="0.8" />
<text x="811.60" y="175.57" font-size="5.2" font-weight="bold" text-anchor="end" fill="#000" >1.5</text>
<rect x="819.20" y="200.10" width="12.60" height="52.80" fill="#c8def5" stroke="#000" stroke-width="1.0" />
<line x1="825.50" y1="252.90" x2="825.50" y2="255.40" stroke="#000" stroke-width="0.9" />
<line x1="825.50" y1="187.10" x2="825.50" y2="207.90" stroke="#000" stroke-width="0.9" />
<line x1="823.50" y1="187.10" x2="827.50" y2="187.10" stroke="#000" stroke-width="0.9" />
<circle cx="824.0" cy="202.6" r="1.3" fill="none" stroke="#000" stroke-width="0.6"/>
<path d="M826.5,204.1 l1.5,-2.6 l1.5,2.6 z" fill="#000"/>
<rect x="838.00" y="241.80" width="12.30" height="11.10" fill="#f04040" stroke="#000" stroke-width="1.0" />
<line x1="844.15" y1="252.90" x2="844.15" y2="255.40" stroke="#000" stroke-width="0.9" />
<line x1="844.15" y1="236.80" x2="844.15" y2="244.80" stroke="#000" stroke-width="0.9" />
<line x1="842.15" y1="236.80" x2="846.15" y2="236.80" stroke="#000" stroke-width="0.9" />
<circle cx="842.6" cy="244.3" r="1.3" fill="none" stroke="#000" stroke-width="0.6"/>
<path d="M845.1,245.8 l1.5,-2.6 l1.5,2.6 z" fill="#000"/>
<rect x="857.40" y="238.40" width="11.90" height="14.50" fill="#ffff00" stroke="#000" stroke-width="1.0" />
<line x1="863.35" y1="252.90" x2="863.35" y2="255.40" stroke="#000" stroke-width="0.9" />
<line x1="863.35" y1="234.40" x2="863.35" y2="240.80" stroke="#000" stroke-width="0.9" />
<line x1="861.35" y1="234.40" x2="865.35" y2="234.40" stroke="#000" stroke-width="0.9" />
<circle cx="861.8" cy="240.9" r="1.3" fill="none" stroke="#000" stroke-width="0.6"/>
<path d="M864.3,242.4 l1.5,-2.6 l1.5,2.6 z" fill="#000"/>
<rect x="875.90" y="220.40" width="10.50" height="32.50" fill="#3b3bf0" stroke="#000" stroke-width="1.0" />
<line x1="881.15" y1="252.90" x2="881.15" y2="255.40" stroke="#000" stroke-width="0.9" />
<line x1="881.15" y1="214.40" x2="881.15" y2="224.00" stroke="#000" stroke-width="0.9" />
<line x1="879.15" y1="214.40" x2="883.15" y2="214.40" stroke="#000" stroke-width="0.9" />
<circle cx="879.6" cy="222.9" r="1.3" fill="none" stroke="#000" stroke-width="0.6"/>
<path d="M882.1,224.4 l1.5,-2.6 l1.5,2.6 z" fill="#000"/>
<text x="815.70" y="176.10" font-size="8" font-weight="bold" text-anchor="start" fill="#111" >Cortex</text>
<line x1="825.50" y1="180.30" x2="881.20" y2="180.30" stroke="#000" stroke-width="1" />
<line x1="844.20" y1="180.30" x2="844.20" y2="226.00" stroke="#000" stroke-width="1" />
<line x1="863.40" y1="180.30" x2="863.40" y2="230.00" stroke="#000" stroke-width="1" />
<line x1="881.20" y1="180.30" x2="881.20" y2="212.00" stroke="#000" stroke-width="1" />
<text x="844.20" y="210.20" font-size="10" font-weight="bold" text-anchor="middle" fill="#000" >***</text>
<text x="863.40" y="202.80" font-size="10" font-weight="bold" text-anchor="middle" fill="#000" >***</text>
<text x="881.20" y="196.20" font-size="10" font-weight="bold" text-anchor="middle" fill="#000" >*</text>
<text transform="translate(786.50,215.30) rotate(-90)" font-size="9.2" font-weight="bold" text-anchor="middle" fill="#000">mRNA of RGS9</text>
<text transform="translate(796.50,213.00) rotate(-90)" font-size="9.2" font-weight="bold" text-anchor="middle" fill="#000">( vs. sham)</text>
<text transform="translate(828.00,263.40) rotate(-45)" font-size="8.6" font-weight="bold" text-anchor="end" fill="#000">Sham</text>
<text transform="translate(846.70,263.40) rotate(-45)" font-size="8.6" font-weight="bold" text-anchor="end" fill="#000">ips-iACS</text>
<text transform="translate(865.90,263.40) rotate(-45)" font-size="8.6" font-weight="bold" text-anchor="end" fill="#000">bi-iACS</text>
<text transform="translate(883.70,263.40) rotate(-45)" font-size="8.6" font-weight="bold" text-anchor="end" fill="#000">con-iACS</text>
<defs><pattern id="pCyanW" x="0" y="0" width="30" height="30" patternUnits="userSpaceOnUse"><circle cx="25.4" cy="27.3" r="0.74" fill="#3060e0"/><circle cx="14.0" cy="19.9" r="0.60" fill="#d0f0f0"/><circle cx="27.5" cy="14.6" r="0.85" fill="#60d0d0"/><circle cx="29.1" cy="2.1" r="0.59" fill="#d0f0f0"/><circle cx="13.4" cy="16.1" r="0.59" fill="#a0e8e0"/><circle cx="7.2" cy="23.7" r="0.69" fill="#d0f0f0"/><circle cx="12.9" cy="9.1" r="0.55" fill="#a0e8e0"/><circle cx="20.4" cy="19.9" r="0.90" fill="#3060e0"/><circle cx="23.5" cy="6.9" r="0.53" fill="#40b0c0"/><circle cx="0.2" cy="13.9" r="0.74" fill="#40b0c0"/><circle cx="23.9" cy="11.1" r="0.66" fill="#d0f0f0"/><circle cx="16.9" cy="4.6" r="0.52" fill="#d0f0f0"/><circle cx="8.3" cy="22.9" r="0.68" fill="#60d0d0"/><circle cx="26.9" cy="17.1" r="0.57" fill="#d0f0f0"/><circle cx="9.3" cy="26.1" r="0.81" fill="#3060e0"/><circle cx="28.6" cy="2.0" r="0.76" fill="#a0e8e0"/><circle cx="28.4" cy="26.3" r="0.88" fill="#3060e0"/><circle cx="20.3" cy="18.3" r="0.77" fill="#a0e8e0"/><circle cx="23.8" cy="4.2" r="0.58" fill="#40b0c0"/><circle cx="22.1" cy="26.8" r="0.70" fill="#60d0d0"/><circle cx="2.4" cy="4.5" r="0.64" fill="#60d0d0"/><circle cx="2.0" cy="16.5" r="0.81" fill="#40b0c0"/><circle cx="13.9" cy="5.8" r="0.81" fill="#d0f0f0"/><circle cx="2.7" cy="28.1" r="0.61" fill="#d0f0f0"/><circle cx="12.7" cy="15.7" r="0.86" fill="#60d0d0"/><circle cx="7.3" cy="8.4" r="0.94" fill="#d0f0f0"/><circle cx="0.4" cy="19.0" r="0.89" fill="#60d0d0"/><circle cx="19.7" cy="1.3" r="0.65" fill="#40b0c0"/><circle cx="14.1" cy="5.9" r="0.77" fill="#d0f0f0"/><circle cx="10.0" cy="28.1" r="0.63" fill="#d0f0f0"/><circle cx="26.8" cy="12.0" r="0.52" fill="#d0f0f0"/><circle cx="15.5" cy="6.5" r="0.80" fill="#60d0d0"/><circle cx="10.3" cy="11.1" r="0.70" fill="#60d0d0"/><circle cx="20.3" cy="20.6" r="0.66" fill="#60d0d0"/><circle cx="6.3" cy="13.8" r="0.75" fill="#3060e0"/><circle cx="20.3" cy="22.0" r="0.61" fill="#d0f0f0"/><circle cx="6.1" cy="29.2" r="0.84" fill="#40b0c0"/><circle cx="1.5" cy="29.8" r="0.83" fill="#60d0d0"/><circle cx="13.2" cy="1.5" r="0.75" fill="#40b0c0"/><circle cx="28.5" cy="23.2" r="0.71" fill="#60d0d0"/><circle cx="27.7" cy="1.7" r="0.69" fill="#3060e0"/><circle cx="20.0" cy="23.1" r="0.93" fill="#40b0c0"/><circle cx="22.4" cy="25.7" r="0.53" fill="#40b0c0"/><circle cx="18.1" cy="3.6" r="0.54" fill="#d0f0f0"/><circle cx="23.9" cy="10.2" r="0.83" fill="#3060e0"/><circle cx="14.1" cy="29.3" r="0.55" fill="#60d0d0"/><circle cx="7.2" cy="6.5" r="0.86" fill="#a0e8e0"/><circle cx="29.4" cy="22.0" r="0.79" fill="#a0e8e0"/><circle cx="21.9" cy="17.6" r="0.80" fill="#60d0d0"/><circle cx="13.5" cy="1.1" r="0.59" fill="#60d0d0"/><circle cx="28.3" cy="23.8" r="0.81" fill="#3060e0"/><circle cx="3.2" cy="15.8" r="0.51" fill="#60d0d0"/><circle cx="27.1" cy="17.3" r="0.72" fill="#3060e0"/><circle cx="3.3" cy="29.6" r="0.70" fill="#60d0d0"/><circle cx="21.4" cy="29.8" r="0.77" fill="#3060e0"/><circle cx="12.1" cy="4.0" r="0.53" fill="#d0f0f0"/><circle cx="20.5" cy="1.9" r="0.54" fill="#d0f0f0"/><circle cx="7.1" cy="21.7" r="0.67" fill="#d0f0f0"/><circle cx="11.4" cy="23.9" r="0.90" fill="#3060e0"/><circle cx="20.9" cy="7.2" r="0.68" fill="#d0f0f0"/><circle cx="14.1" cy="6.0" r="0.57" fill="#60d0d0"/><circle cx="14.9" cy="14.6" r="0.59" fill="#60d0d0"/><circle cx="22.7" cy="22.7" r="0.59" fill="#d0f0f0"/><circle cx="6.7" cy="15.8" r="0.52" fill="#a0e8e0"/><circle cx="3.9" cy="17.8" r="0.80" fill="#40b0c0"/><circle cx="11.1" cy="23.8" r="0.92" fill="#3060e0"/><circle cx="28.0" cy="7.9" r="0.94" fill="#3060e0"/><circle cx="20.1" cy="2.7" r="0.80" fill="#40b0c0"/><circle cx="14.5" cy="29.1" r="0.88" fill="#d0f0f0"/><circle cx="1.3" cy="1.7" r="0.50" fill="#40b0c0"/><circle cx="14.7" cy="11.7" r="0.55" fill="#60d0d0"/><circle cx="12.6" cy="19.8" r="0.84" fill="#60d0d0"/><circle cx="8.1" cy="29.1" r="0.83" fill="#40b0c0"/><circle cx="8.5" cy="11.9" r="0.84" fill="#3060e0"/><circle cx="19.9" cy="8.9" r="0.60" fill="#3060e0"/><circle cx="1.4" cy="15.9" r="0.82" fill="#3060e0"/><circle cx="22.6" cy="14.7" r="0.71" fill="#a0e8e0"/><circle cx="18.7" cy="4.1" r="0.92" fill="#d0f0f0"/><circle cx="23.2" cy="23.1" r="0.83" fill="#60d0d0"/><circle cx="3.0" cy="22.8" r="0.54" fill="#40b0c0"/><circle cx="1.8" cy="20.3" r="0.62" fill="#3060e0"/><circle cx="24.9" cy="4.9" r="0.53" fill="#d0f0f0"/><circle cx="26.0" cy="25.6" r="0.82" fill="#60d0d0"/><circle cx="23.0" cy="12.5" r="0.69" fill="#3060e0"/><circle cx="27.3" cy="1.6" r="0.83" fill="#60d0d0"/><circle cx="3.1" cy="5.1" r="0.87" fill="#3060e0"/><circle cx="15.9" cy="16.9" r="0.63" fill="#60d0d0"/><circle cx="17.5" cy="20.3" r="0.61" fill="#3060e0"/><circle cx="21.9" cy="2.6" r="0.56" fill="#3060e0"/><circle cx="5.6" cy="14.3" r="0.77" fill="#3060e0"/><circle cx="15.0" cy="9.2" r="0.56" fill="#40b0c0"/><circle cx="15.0" cy="14.4" r="0.53" fill="#60d0d0"/><circle cx="24.2" cy="2.2" r="0.61" fill="#d0f0f0"/><circle cx="0.2" cy="9.7" r="0.57" fill="#a0e8e0"/><circle cx="28.0" cy="19.0" r="0.95" fill="#60d0d0"/><circle cx="7.4" cy="25.9" r="0.64" fill="#40b0c0"/><circle cx="10.0" cy="28.2" r="0.88" fill="#3060e0"/><circle cx="9.6" cy="17.2" r="0.63" fill="#40b0c0"/><circle cx="15.5" cy="12.7" r="0.86" fill="#d0f0f0"/><circle cx="21.4" cy="0.3" r="0.55" fill="#60d0d0"/><circle cx="24.7" cy="23.4" r="0.58" fill="#40b0c0"/><circle cx="13.4" cy="27.8" r="0.59" fill="#60d0d0"/><circle cx="2.4" cy="27.0" r="0.86" fill="#a0e8e0"/><circle cx="26.3" cy="0.3" r="0.58" fill="#40b0c0"/><circle cx="15.0" cy="22.4" r="0.53" fill="#60d0d0"/><circle cx="10.6" cy="2.5" r="0.58" fill="#3060e0"/><circle cx="25.8" cy="24.7" r="0.85" fill="#3060e0"/><circle cx="27.3" cy="11.6" r="0.95" fill="#60d0d0"/><circle cx="6.0" cy="26.1" r="0.89" fill="#3060e0"/><circle cx="14.5" cy="4.5" r="0.86" fill="#3060e0"/></pattern><pattern id="pGreen" x="0" y="0" width="30" height="30" patternUnits="userSpaceOnUse"><circle cx="0.4" cy="13.9" r="0.95" fill="#20c080"/><circle cx="9.3" cy="13.2" r="0.58" fill="#20c080"/><circle cx="10.6" cy="27.5" r="0.86" fill="#20a0a0"/><circle cx="14.6" cy="24.0" r="0.71" fill="#60f0c0"/><circle cx="9.8" cy="2.1" r="0.59" fill="#3050e0"/><circle cx="11.3" cy="6.7" r="0.91" fill="#20a0a0"/><circle cx="25.3" cy="6.1" r="0.98" fill="#20c080"/><circle cx="15.4" cy="8.0" r="0.94" fill="#3050e0"/><circle cx="26.5" cy="4.3" r="0.86" fill="#30e0a0"/><circle cx="28.0" cy="18.3" r="0.85" fill="#30e0a0"/><circle cx="8.5" cy="17.1" r="0.89" fill="#3050e0"/><circle cx="20.1" cy="15.5" r="0.95" fill="#20a0a0"/><circle cx="29.9" cy="0.7" r="0.72" fill="#20a0a0"/><circle cx="7.1" cy="9.9" r="0.63" fill="#20c080"/><circle cx="2.4" cy="16.2" r="0.62" fill="#60f0c0"/><circle cx="22.0" cy="7.2" r="0.57" fill="#30e0a0"/><circle cx="8.6" cy="17.4" r="0.59" fill="#30e0a0"/><circle cx="22.8" cy="12.0" r="0.95" fill="#60f0c0"/><circle cx="21.5" cy="10.1" r="0.74" fill="#20a0a0"/><circle cx="3.2" cy="9.2" r="0.76" fill="#3050e0"/><circle cx="12.6" cy="4.6" r="0.65" fill="#30e0a0"/><circle cx="3.3" cy="15.6" r="0.62" fill="#20c080"/><circle cx="17.8" cy="5.7" r="0.72" fill="#3050e0"/><circle cx="2.3" cy="4.8" r="0.68" fill="#20a0a0"/><circle cx="2.6" cy="6.0" r="0.84" fill="#20c080"/><circle cx="1.2" cy="28.1" r="0.87" fill="#60f0c0"/><circle cx="29.0" cy="22.0" r="0.58" fill="#60f0c0"/><circle cx="20.1" cy="12.6" r="0.79" fill="#30e0a0"/><circle cx="26.5" cy="6.1" r="0.64" fill="#30e0a0"/><circle cx="21.9" cy="4.5" r="0.63" fill="#30e0a0"/><circle cx="18.4" cy="24.1" r="0.94" fill="#3050e0"/><circle cx="15.4" cy="12.3" r="0.79" fill="#30e0a0"/><circle cx="19.9" cy="19.8" r="0.62" fill="#20a0a0"/><circle cx="15.8" cy="16.5" r="0.87" fill="#60f0c0"/><circle cx="3.2" cy="13.5" r="0.97" fill="#20c080"/><circle cx="1.7" cy="27.5" r="0.88" fill="#20c080"/><circle cx="21.4" cy="3.9" r="0.64" fill="#3050e0"/><circle cx="14.5" cy="3.7" r="0.83" fill="#20c080"/><circle cx="22.6" cy="7.5" r="0.93" fill="#3050e0"/><circle cx="3.4" cy="24.8" r="0.94" fill="#20a0a0"/><circle cx="23.0" cy="7.3" r="0.68" fill="#60f0c0"/><circle cx="18.2" cy="13.3" r="0.63" fill="#30e0a0"/><circle cx="18.0" cy="24.0" r="0.93" fill="#60f0c0"/><circle cx="21.3" cy="2.2" r="0.61" fill="#30e0a0"/><circle cx="23.7" cy="27.3" r="0.92" fill="#3050e0"/><circle cx="18.8" cy="23.1" r="0.95" fill="#30e0a0"/><circle cx="19.5" cy="3.3" r="0.75" fill="#20c080"/><circle cx="23.0" cy="3.4" r="0.77" fill="#60f0c0"/><circle cx="21.5" cy="24.4" r="0.81" fill="#20c080"/><circle cx="9.6" cy="4.4" r="0.83" fill="#20c080"/><circle cx="28.4" cy="7.5" r="0.57" fill="#20a0a0"/><circle cx="5.9" cy="23.5" r="0.63" fill="#20c080"/><circle cx="9.8" cy="26.7" r="0.68" fill="#20a0a0"/><circle cx="29.1" cy="10.6" r="0.66" fill="#20a0a0"/><circle cx="12.4" cy="6.2" r="0.86" fill="#20c080"/><circle cx="28.4" cy="5.4" r="0.65" fill="#30e0a0"/><circle cx="22.7" cy="15.8" r="0.90" fill="#20a0a0"/><circle cx="14.8" cy="30.0" r="0.98" fill="#3050e0"/><circle cx="7.6" cy="23.0" r="0.57" fill="#60f0c0"/><circle cx="27.8" cy="12.7" r="0.87" fill="#60f0c0"/><circle cx="29.4" cy="25.4" r="0.76" fill="#60f0c0"/><circle cx="4.2" cy="23.8" r="0.73" fill="#60f0c0"/><circle cx="20.5" cy="23.4" r="0.97" fill="#3050e0"/><circle cx="16.5" cy="24.3" r="0.87" fill="#30e0a0"/><circle cx="16.6" cy="21.6" r="0.63" fill="#3050e0"/><circle cx="2.4" cy="30.0" r="0.71" fill="#20a0a0"/><circle cx="23.6" cy="29.3" r="0.77" fill="#60f0c0"/><circle cx="14.7" cy="13.9" r="0.83" fill="#20c080"/><circle cx="5.9" cy="26.6" r="0.80" fill="#20c080"/><circle cx="19.2" cy="19.2" r="0.86" fill="#20a0a0"/><circle cx="20.6" cy="29.6" r="0.73" fill="#60f0c0"/><circle cx="20.2" cy="7.3" r="0.99" fill="#20a0a0"/><circle cx="15.3" cy="24.3" r="0.59" fill="#20a0a0"/><circle cx="13.0" cy="9.5" r="0.94" fill="#60f0c0"/><circle cx="17.4" cy="21.5" r="0.90" fill="#3050e0"/><circle cx="21.3" cy="20.1" r="0.89" fill="#20c080"/><circle cx="4.5" cy="24.0" r="0.80" fill="#60f0c0"/><circle cx="16.4" cy="22.4" r="0.76" fill="#3050e0"/><circle cx="9.2" cy="15.6" r="0.60" fill="#60f0c0"/><circle cx="14.2" cy="7.0" r="0.70" fill="#30e0a0"/><circle cx="22.5" cy="28.9" r="0.66" fill="#20c080"/><circle cx="9.6" cy="11.2" r="0.79" fill="#60f0c0"/><circle cx="24.7" cy="15.5" r="0.79" fill="#20a0a0"/><circle cx="20.5" cy="4.6" r="0.68" fill="#20a0a0"/><circle cx="17.4" cy="19.3" r="0.77" fill="#20c080"/><circle cx="15.3" cy="22.6" r="0.83" fill="#20a0a0"/><circle cx="12.1" cy="27.8" r="0.60" fill="#3050e0"/><circle cx="27.3" cy="6.7" r="0.65" fill="#30e0a0"/><circle cx="1.8" cy="22.3" r="0.65" fill="#20c080"/><circle cx="18.9" cy="29.0" r="0.66" fill="#20c080"/><circle cx="7.6" cy="26.0" r="0.58" fill="#3050e0"/><circle cx="1.0" cy="17.2" r="0.90" fill="#60f0c0"/><circle cx="4.4" cy="19.1" r="0.58" fill="#20a0a0"/><circle cx="14.4" cy="20.7" r="0.94" fill="#20a0a0"/><circle cx="15.9" cy="22.5" r="1.00" fill="#3050e0"/><circle cx="3.5" cy="4.8" r="0.99" fill="#20c080"/><circle cx="16.4" cy="6.0" r="0.92" fill="#3050e0"/><circle cx="12.6" cy="7.0" r="0.58" fill="#60f0c0"/><circle cx="18.4" cy="28.4" r="0.83" fill="#20c080"/><circle cx="13.7" cy="11.1" r="0.95" fill="#20a0a0"/><circle cx="16.5" cy="5.0" r="0.88" fill="#60f0c0"/><circle cx="10.4" cy="18.9" r="0.78" fill="#60f0c0"/><circle cx="18.1" cy="28.6" r="0.79" fill="#3050e0"/><circle cx="12.5" cy="12.3" r="0.58" fill="#20c080"/><circle cx="0.3" cy="11.0" r="0.91" fill="#30e0a0"/><circle cx="10.0" cy="28.8" r="0.99" fill="#20a0a0"/><circle cx="8.6" cy="0.5" r="0.99" fill="#30e0a0"/><circle cx="6.4" cy="24.1" r="0.96" fill="#20c080"/><circle cx="17.9" cy="22.2" r="0.99" fill="#20a0a0"/><circle cx="15.4" cy="23.9" r="0.96" fill="#20c080"/><circle cx="10.6" cy="21.7" r="0.89" fill="#3050e0"/><circle cx="19.7" cy="4.8" r="0.61" fill="#20c080"/><circle cx="29.9" cy="15.1" r="0.70" fill="#60f0c0"/><circle cx="2.9" cy="10.8" r="0.81" fill="#30e0a0"/><circle cx="6.6" cy="21.7" r="0.74" fill="#20c080"/><circle cx="20.6" cy="19.2" r="0.97" fill="#30e0a0"/><circle cx="25.7" cy="28.8" r="0.89" fill="#30e0a0"/><circle cx="15.9" cy="17.0" r="0.74" fill="#3050e0"/><circle cx="25.0" cy="13.7" r="0.86" fill="#20c080"/><circle cx="22.4" cy="3.0" r="0.81" fill="#20a0a0"/><circle cx="20.9" cy="22.2" r="0.71" fill="#20a0a0"/><circle cx="5.6" cy="9.7" r="0.75" fill="#30e0a0"/><circle cx="24.2" cy="24.0" r="0.92" fill="#60f0c0"/><circle cx="20.7" cy="1.4" r="0.87" fill="#30e0a0"/><circle cx="22.3" cy="23.2" r="0.94" fill="#30e0a0"/><circle cx="27.9" cy="2.0" r="0.59" fill="#20a0a0"/><circle cx="10.5" cy="7.4" r="0.82" fill="#30e0a0"/><circle cx="3.2" cy="16.5" r="0.87" fill="#30e0a0"/><circle cx="5.4" cy="7.2" r="0.93" fill="#20a0a0"/><circle cx="21.1" cy="15.4" r="0.63" fill="#3050e0"/></pattern><pattern id="pGreenBig" x="0" y="0" width="22" height="22" patternUnits="userSpaceOnUse"><circle cx="14.3" cy="21.4" r="1.38" fill="#2040ff"/><circle cx="6.3" cy="7.8" r="1.55" fill="#20d070"/><circle cx="17.1" cy="5.1" r="1.06" fill="#30e880"/><circle cx="8.5" cy="7.8" r="1.55" fill="#2040ff"/><circle cx="4.3" cy="12.0" r="1.27" fill="#20d070"/><circle cx="14.5" cy="2.4" r="1.40" fill="#2040ff"/><circle cx="14.0" cy="14.4" r="1.49" fill="#20d070"/><circle cx="7.4" cy="7.7" r="1.16" fill="#2040ff"/><circle cx="15.2" cy="11.2" r="1.21" fill="#2040ff"/><circle cx="1.4" cy="17.0" r="1.05" fill="#2040ff"/><circle cx="21.7" cy="0.0" r="1.18" fill="#20d070"/><circle cx="7.7" cy="18.1" r="1.23" fill="#20d070"/><circle cx="7.0" cy="11.7" r="1.35" fill="#30e880"/><circle cx="14.7" cy="19.9" r="1.55" fill="#50f0a0"/><circle cx="14.6" cy="5.0" r="1.19" fill="#2040ff"/><circle cx="15.2" cy="10.2" r="1.60" fill="#50f0a0"/><circle cx="2.6" cy="8.6" r="1.24" fill="#20d070"/><circle cx="3.3" cy="0.1" r="1.29" fill="#50f0a0"/><circle cx="20.8" cy="1.6" r="1.03" fill="#30e880"/><circle cx="5.5" cy="17.0" r="1.11" fill="#50f0a0"/><circle cx="14.8" cy="8.6" r="1.11" fill="#30e880"/><circle cx="16.9" cy="15.2" r="1.15" fill="#20d070"/><circle cx="2.7" cy="5.2" r="1.15" fill="#20d070"/><circle cx="13.6" cy="5.5" r="1.24" fill="#50f0a0"/><circle cx="17.8" cy="3.0" r="1.54" fill="#30e880"/><circle cx="8.9" cy="19.2" r="1.50" fill="#50f0a0"/><circle cx="7.4" cy="14.1" r="1.56" fill="#2040ff"/><circle cx="11.3" cy="21.2" r="1.56" fill="#50f0a0"/></pattern><pattern id="pCyanBig" x="0" y="0" width="22" height="22" patternUnits="userSpaceOnUse"><circle cx="20.9" cy="7.4" r="1.47" fill="#30d0d0"/><circle cx="4.8" cy="17.9" r="1.07" fill="#30d0d0"/><circle cx="11.4" cy="16.1" r="1.11" fill="#60f0f0"/><circle cx="11.0" cy="18.5" r="1.40" fill="#2050ff"/><circle cx="12.6" cy="14.6" r="1.32" fill="#40e0c0"/><circle cx="10.5" cy="10.8" r="1.05" fill="#60f0f0"/><circle cx="7.1" cy="9.5" r="0.97" fill="#40e0c0"/><circle cx="1.7" cy="9.5" r="0.92" fill="#30d0d0"/><circle cx="15.3" cy="17.0" r="1.25" fill="#2050ff"/><circle cx="19.9" cy="1.9" r="1.06" fill="#30d0d0"/><circle cx="4.2" cy="5.2" r="1.02" fill="#30d0d0"/><circle cx="15.8" cy="18.2" r="0.94" fill="#60f0f0"/><circle cx="7.9" cy="11.1" r="1.20" fill="#30d0d0"/><circle cx="1.9" cy="9.6" r="0.94" fill="#2050ff"/><circle cx="14.9" cy="20.0" r="1.34" fill="#2050ff"/><circle cx="15.9" cy="8.7" r="0.93" fill="#40e0c0"/><circle cx="16.0" cy="4.3" r="1.26" fill="#60f0f0"/><circle cx="10.1" cy="10.2" r="1.47" fill="#40e0c0"/><circle cx="14.6" cy="18.3" r="1.45" fill="#2050ff"/><circle cx="7.5" cy="9.8" r="1.21" fill="#60f0f0"/><circle cx="7.8" cy="9.0" r="1.09" fill="#30d0d0"/><circle cx="3.5" cy="11.3" r="1.21" fill="#40e0c0"/></pattern><pattern id="pPurple" x="0" y="0" width="22" height="22" patternUnits="userSpaceOnUse"><circle cx="12.1" cy="20.3" r="1.10" fill="#3040ff"/><circle cx="14.7" cy="11.9" r="1.42" fill="#3040ff"/><circle cx="15.4" cy="21.2" r="0.93" fill="#a060f0"/><circle cx="3.2" cy="5.8" r="1.34" fill="#7050e0"/><circle cx="7.3" cy="17.2" r="1.37" fill="#a060f0"/><circle cx="8.3" cy="10.3" r="1.00" fill="#3040ff"/><circle cx="21.9" cy="2.5" r="1.13" fill="#7050e0"/><circle cx="8.1" cy="16.7" r="1.23" fill="#a060f0"/><circle cx="21.1" cy="2.4" r="1.38" fill="#3040ff"/><circle cx="11.8" cy="6.1" r="0.98" fill="#a060f0"/><circle cx="10.6" cy="20.6" r="1.20" fill="#7050e0"/><circle cx="21.1" cy="12.6" r="1.35" fill="#a060f0"/><circle cx="15.7" cy="2.0" r="1.38" fill="#c070f0"/><circle cx="11.4" cy="7.3" r="1.06" fill="#a060f0"/><circle cx="20.5" cy="8.0" r="1.07" fill="#c070f0"/><circle cx="17.3" cy="21.4" r="1.31" fill="#a060f0"/><circle cx="13.7" cy="15.4" r="1.13" fill="#3040ff"/><circle cx="8.3" cy="4.2" r="1.49" fill="#a060f0"/><circle cx="2.2" cy="15.8" r="1.46" fill="#c070f0"/><circle cx="7.3" cy="6.2" r="1.41" fill="#3040ff"/><circle cx="9.5" cy="10.4" r="1.34" fill="#3040ff"/><circle cx="21.0" cy="10.7" r="1.01" fill="#7050e0"/><circle cx="17.0" cy="2.5" r="1.18" fill="#3040ff"/><circle cx="19.6" cy="10.0" r="1.10" fill="#7050e0"/></pattern><pattern id="pBlue" x="0" y="0" width="22" height="22" patternUnits="userSpaceOnUse"><circle cx="20.2" cy="9.0" r="0.92" fill="#3040f0"/><circle cx="0.0" cy="7.0" r="0.87" fill="#3040f0"/><circle cx="8.9" cy="21.6" r="1.21" fill="#4050ff"/><circle cx="6.9" cy="3.2" r="0.86" fill="#3040f0"/><circle cx="15.7" cy="6.0" r="0.91" fill="#6050e0"/><circle cx="11.7" cy="6.5" r="0.98" fill="#4050ff"/><circle cx="6.7" cy="11.4" r="1.02" fill="#3040f0"/><circle cx="11.2" cy="15.2" r="1.15" fill="#6050e0"/><circle cx="12.8" cy="12.6" r="1.32" fill="#4050ff"/><circle cx="14.1" cy="8.9" r="0.86" fill="#6050e0"/><circle cx="20.4" cy="5.0" r="1.15" fill="#3040f0"/><circle cx="20.2" cy="14.2" r="0.82" fill="#3040f0"/><circle cx="11.5" cy="12.4" r="0.98" fill="#4050ff"/><circle cx="1.7" cy="17.9" r="1.06" fill="#3040f0"/><circle cx="5.2" cy="8.4" r="0.81" fill="#3040f0"/><circle cx="18.3" cy="7.6" r="1.37" fill="#4050ff"/><circle cx="16.3" cy="20.7" r="1.19" fill="#6050e0"/><circle cx="7.4" cy="13.0" r="1.39" fill="#3040f0"/><circle cx="17.4" cy="15.8" r="1.25" fill="#6050e0"/><circle cx="21.3" cy="9.1" r="1.08" fill="#4050ff"/><circle cx="11.1" cy="21.9" r="1.02" fill="#3040f0"/><circle cx="15.1" cy="7.4" r="0.87" fill="#4050ff"/></pattern><pattern id="pGray" x="0" y="0" width="30" height="30" patternUnits="userSpaceOnUse"><circle cx="5.3" cy="14.6" r="0.57" fill="#c8d8e0"/><circle cx="3.0" cy="25.7" r="0.93" fill="#3050d0"/><circle cx="17.7" cy="9.6" r="0.94" fill="#c8d8e0"/><circle cx="11.8" cy="20.8" r="0.61" fill="#a0c8c8"/><circle cx="20.7" cy="27.8" r="0.77" fill="#80b0c0"/><circle cx="11.5" cy="1.6" r="0.69" fill="#c8d8e0"/><circle cx="14.7" cy="13.1" r="0.62" fill="#4080c0"/><circle cx="13.4" cy="3.0" r="0.83" fill="#4080c0"/><circle cx="17.7" cy="13.2" r="0.71" fill="#4080c0"/><circle cx="26.3" cy="22.6" r="0.69" fill="#c8d8e0"/><circle cx="6.4" cy="5.3" r="0.78" fill="#3050d0"/><circle cx="2.0" cy="22.0" r="0.55" fill="#a0c8c8"/><circle cx="12.7" cy="28.1" r="0.68" fill="#c8d8e0"/><circle cx="21.7" cy="15.8" r="0.62" fill="#3050d0"/><circle cx="11.2" cy="17.7" r="0.68" fill="#4080c0"/><circle cx="23.1" cy="10.3" r="0.67" fill="#4080c0"/><circle cx="14.0" cy="28.0" r="0.68" fill="#80b0c0"/><circle cx="1.6" cy="23.8" r="0.86" fill="#a0c8c8"/><circle cx="19.3" cy="16.0" r="0.61" fill="#4080c0"/><circle cx="16.2" cy="1.1" r="0.76" fill="#c8d8e0"/><circle cx="21.8" cy="8.5" r="0.61" fill="#80b0c0"/><circle cx="2.4" cy="0.9" r="0.78" fill="#c8d8e0"/><circle cx="27.6" cy="10.7" r="0.72" fill="#3050d0"/><circle cx="13.0" cy="10.0" r="0.59" fill="#c8d8e0"/><circle cx="13.2" cy="6.1" r="0.51" fill="#80b0c0"/><circle cx="3.1" cy="28.6" r="0.56" fill="#c8d8e0"/><circle cx="13.2" cy="4.3" r="0.85" fill="#4080c0"/><circle cx="12.0" cy="7.9" r="0.59" fill="#a0c8c8"/><circle cx="1.0" cy="2.4" r="0.89" fill="#80b0c0"/><circle cx="13.4" cy="24.9" r="0.63" fill="#80b0c0"/><circle cx="2.4" cy="26.1" r="0.51" fill="#4080c0"/><circle cx="14.5" cy="21.6" r="0.84" fill="#4080c0"/><circle cx="5.3" cy="20.9" r="0.81" fill="#4080c0"/><circle cx="6.0" cy="0.5" r="0.87" fill="#a0c8c8"/><circle cx="3.2" cy="22.5" r="0.80" fill="#3050d0"/><circle cx="3.5" cy="9.0" r="0.71" fill="#4080c0"/><circle cx="3.8" cy="22.1" r="0.60" fill="#a0c8c8"/><circle cx="26.8" cy="13.2" r="0.85" fill="#4080c0"/><circle cx="20.8" cy="12.4" r="0.74" fill="#80b0c0"/><circle cx="21.6" cy="28.1" r="0.75" fill="#3050d0"/><circle cx="11.5" cy="10.7" r="0.82" fill="#4080c0"/><circle cx="0.3" cy="6.3" r="0.81" fill="#a0c8c8"/><circle cx="14.6" cy="12.4" r="0.54" fill="#3050d0"/><circle cx="27.8" cy="25.6" r="0.70" fill="#a0c8c8"/><circle cx="28.7" cy="28.9" r="0.75" fill="#4080c0"/><circle cx="25.8" cy="4.0" r="0.55" fill="#80b0c0"/><circle cx="18.8" cy="28.6" r="0.75" fill="#4080c0"/><circle cx="20.7" cy="16.3" r="0.92" fill="#4080c0"/><circle cx="1.7" cy="24.2" r="0.56" fill="#c8d8e0"/><circle cx="17.2" cy="12.4" r="0.78" fill="#c8d8e0"/><circle cx="9.0" cy="1.1" r="0.70" fill="#c8d8e0"/><circle cx="25.6" cy="12.9" r="0.86" fill="#4080c0"/><circle cx="19.4" cy="14.8" r="0.80" fill="#3050d0"/><circle cx="5.9" cy="26.6" r="0.56" fill="#3050d0"/><circle cx="8.1" cy="2.6" r="0.93" fill="#a0c8c8"/><circle cx="2.8" cy="10.4" r="0.90" fill="#80b0c0"/><circle cx="16.6" cy="24.8" r="0.82" fill="#c8d8e0"/><circle cx="0.5" cy="3.1" r="0.79" fill="#c8d8e0"/><circle cx="23.4" cy="11.5" r="0.67" fill="#c8d8e0"/><circle cx="10.2" cy="21.4" r="0.54" fill="#a0c8c8"/><circle cx="29.0" cy="25.0" r="0.53" fill="#c8d8e0"/><circle cx="17.6" cy="6.8" r="0.88" fill="#3050d0"/><circle cx="0.7" cy="29.3" r="0.61" fill="#a0c8c8"/><circle cx="7.3" cy="2.0" r="0.71" fill="#a0c8c8"/><circle cx="6.4" cy="11.3" r="0.89" fill="#80b0c0"/><circle cx="14.2" cy="24.7" r="0.70" fill="#80b0c0"/><circle cx="2.4" cy="13.7" r="0.70" fill="#80b0c0"/><circle cx="10.3" cy="24.4" r="0.93" fill="#80b0c0"/><circle cx="27.4" cy="3.7" r="0.90" fill="#80b0c0"/><circle cx="10.1" cy="26.3" r="0.87" fill="#4080c0"/><circle cx="25.7" cy="0.3" r="0.60" fill="#c8d8e0"/><circle cx="23.4" cy="24.6" r="0.93" fill="#3050d0"/><circle cx="27.7" cy="20.0" r="0.89" fill="#3050d0"/><circle cx="27.8" cy="21.1" r="0.81" fill="#4080c0"/><circle cx="17.0" cy="22.5" r="0.56" fill="#4080c0"/><circle cx="1.6" cy="2.2" r="0.79" fill="#80b0c0"/><circle cx="19.5" cy="9.8" r="0.83" fill="#a0c8c8"/><circle cx="9.4" cy="22.7" r="0.83" fill="#3050d0"/><circle cx="11.9" cy="28.9" r="0.57" fill="#a0c8c8"/><circle cx="17.8" cy="26.9" r="0.68" fill="#a0c8c8"/><circle cx="9.9" cy="12.4" r="0.64" fill="#4080c0"/><circle cx="21.4" cy="0.6" r="0.65" fill="#a0c8c8"/><circle cx="1.3" cy="4.3" r="0.63" fill="#a0c8c8"/><circle cx="11.3" cy="18.1" r="0.67" fill="#80b0c0"/><circle cx="23.9" cy="4.2" r="0.90" fill="#c8d8e0"/><circle cx="24.1" cy="27.9" r="0.64" fill="#c8d8e0"/><circle cx="13.2" cy="0.6" r="0.75" fill="#c8d8e0"/><circle cx="29.2" cy="5.5" r="0.71" fill="#a0c8c8"/><circle cx="27.7" cy="8.2" r="0.76" fill="#4080c0"/><circle cx="1.4" cy="6.7" r="0.93" fill="#3050d0"/><circle cx="11.7" cy="12.9" r="0.86" fill="#4080c0"/><circle cx="27.4" cy="21.6" r="0.88" fill="#80b0c0"/><circle cx="16.5" cy="9.6" r="0.84" fill="#80b0c0"/><circle cx="18.1" cy="9.2" r="0.83" fill="#c8d8e0"/><circle cx="11.7" cy="8.2" r="0.92" fill="#80b0c0"/><circle cx="22.0" cy="9.2" r="0.94" fill="#4080c0"/><circle cx="14.3" cy="7.8" r="0.74" fill="#80b0c0"/><circle cx="13.9" cy="16.8" r="0.91" fill="#4080c0"/><circle cx="26.4" cy="11.0" r="0.51" fill="#80b0c0"/><circle cx="1.8" cy="18.3" r="0.82" fill="#c8d8e0"/><circle cx="7.1" cy="5.2" r="0.84" fill="#a0c8c8"/><circle cx="12.0" cy="25.9" r="0.86" fill="#4080c0"/><circle cx="26.0" cy="9.0" r="0.69" fill="#4080c0"/><circle cx="1.9" cy="0.9" r="0.88" fill="#4080c0"/><circle cx="1.1" cy="22.0" r="0.62" fill="#4080c0"/><circle cx="1.7" cy="6.9" r="0.71" fill="#80b0c0"/><circle cx="28.9" cy="19.9" r="0.67" fill="#4080c0"/><circle cx="7.8" cy="5.3" r="0.55" fill="#3050d0"/><circle cx="1.0" cy="19.8" r="0.65" fill="#c8d8e0"/><circle cx="17.3" cy="27.4" r="0.71" fill="#c8d8e0"/></pattern><pattern id="pNavy" x="0" y="0" width="16" height="16" patternUnits="userSpaceOnUse"><circle cx="3.6" cy="8.9" r="0.90" fill="#3a40d0"/><circle cx="13.6" cy="6.9" r="0.56" fill="#4030a0"/><circle cx="0.8" cy="1.8" r="0.46" fill="#2a30c0"/><circle cx="10.9" cy="15.8" r="0.68" fill="#2a30c0"/><circle cx="10.8" cy="5.3" r="0.60" fill="#3a40d0"/><circle cx="2.6" cy="13.4" r="0.86" fill="#4030a0"/><circle cx="1.0" cy="1.7" r="0.82" fill="#2a30c0"/><circle cx="6.7" cy="14.5" r="0.43" fill="#4030a0"/><circle cx="3.4" cy="0.2" r="0.65" fill="#3a40d0"/><circle cx="15.4" cy="6.5" r="0.64" fill="#4030a0"/><circle cx="10.2" cy="10.2" r="0.62" fill="#3a40d0"/><circle cx="11.5" cy="2.4" r="0.59" fill="#4030a0"/><circle cx="14.5" cy="9.7" r="0.87" fill="#3a40d0"/><circle cx="15.2" cy="11.4" r="0.48" fill="#3a40d0"/><circle cx="2.6" cy="4.1" r="0.87" fill="#3a40d0"/><circle cx="3.1" cy="0.7" r="0.76" fill="#2a30c0"/><circle cx="11.3" cy="3.9" r="0.52" fill="#2a30c0"/><circle cx="4.3" cy="1.0" r="0.56" fill="#4030a0"/><circle cx="8.7" cy="4.0" r="0.53" fill="#2a30c0"/><circle cx="10.8" cy="3.1" r="0.62" fill="#2a30c0"/></pattern></defs>
<text x="259.50" y="336.50" font-size="12.5" fill="#111">(A)</text>
<rect x="264.50" y="339.80" width="12.60" height="114.20" fill="#fff" stroke="#888" stroke-width="1" />
<text transform="translate(273.80,396.90) rotate(-90)" font-size="8.4" font-weight="bold" text-anchor="middle" fill="#000"><tspan fill="#20b040">NeuN/</tspan><tspan fill="#ff10c0">RGS9</tspan><tspan fill="#2070ff">/DAPI</tspan></text>
<defs><pattern id="iCyan" x="0" y="0" width="41" height="41" patternUnits="userSpaceOnUse"><circle cx="5.5" cy="34.7" r="1.22" fill="#30c0c8"/><circle cx="10.5" cy="20.3" r="1.05" fill="#40d8d0"/><circle cx="26.7" cy="32.3" r="0.85" fill="#30c0c8"/><circle cx="1.2" cy="34.3" r="1.04" fill="#40d8d0"/><circle cx="31.3" cy="0.1" r="1.04" fill="#60e8e0"/><circle cx="31.3" cy="41.1" r="1.04" fill="#40d8d0"/><circle cx="29.6" cy="9.4" r="1.32" fill="#60e8e0"/><circle cx="37.0" cy="1.3" r="0.81" fill="#60e8e0"/><circle cx="22.2" cy="38.5" r="1.01" fill="#60e8e0"/><circle cx="8.9" cy="17.3" r="0.82" fill="#40d8d0"/><circle cx="9.6" cy="9.5" r="0.92" fill="#40d8d0"/><circle cx="18.8" cy="11.9" r="0.81" fill="#40d8d0"/><circle cx="34.3" cy="22.8" r="1.15" fill="#40d8d0"/><circle cx="7.6" cy="40.7" r="1.27" fill="#40d8d0"/><circle cx="7.6" cy="-0.3" r="1.27" fill="#40d8d0"/><circle cx="5.0" cy="13.6" r="1.20" fill="#30c0c8"/><circle cx="29.2" cy="38.4" r="1.03" fill="#40d8d0"/><circle cx="34.0" cy="27.5" r="0.97" fill="#30c0c8"/><circle cx="24.1" cy="36.2" r="1.27" fill="#60e8e0"/><circle cx="20.7" cy="24.1" r="0.82" fill="#40d8d0"/><circle cx="10.0" cy="32.7" r="1.03" fill="#60e8e0"/><circle cx="7.1" cy="22.5" r="1.19" fill="#40d8d0"/><circle cx="27.7" cy="15.4" r="1.04" fill="#40d8d0"/><circle cx="20.8" cy="31.9" r="1.09" fill="#60e8e0"/><circle cx="16.1" cy="20.1" r="0.82" fill="#40d8d0"/><circle cx="1.8" cy="28.8" r="1.34" fill="#30c0c8"/><circle cx="24.3" cy="16.1" r="0.89" fill="#30c0c8"/><circle cx="33.6" cy="36.3" r="1.21" fill="#30c0c8"/><circle cx="17.5" cy="2.3" r="1.28" fill="#30c0c8"/><circle cx="23.4" cy="8.2" r="1.08" fill="#40d8d0"/><circle cx="19.9" cy="14.6" r="0.99" fill="#40d8d0"/><circle cx="32.7" cy="32.7" r="1.25" fill="#60e8e0"/><circle cx="3.4" cy="0.7" r="0.81" fill="#30c0c8"/><circle cx="3.4" cy="41.7" r="0.81" fill="#40d8d0"/><circle cx="11.2" cy="29.2" r="1.05" fill="#40d8d0"/><circle cx="13.2" cy="19.4" r="0.81" fill="#60e8e0"/><circle cx="15.8" cy="17.3" r="0.90" fill="#60e8e0"/><circle cx="0.9" cy="0.7" r="0.88" fill="#40d8d0"/><circle cx="0.9" cy="41.7" r="0.88" fill="#40d8d0"/><circle cx="41.9" cy="0.7" r="0.88" fill="#40d8d0"/><circle cx="41.9" cy="41.7" r="0.88" fill="#40d8d0"/><circle cx="27.8" cy="22.3" r="0.92" fill="#40d8d0"/><circle cx="40.0" cy="32.7" r="1.08" fill="#40d8d0"/><circle cx="-1.0" cy="32.7" r="1.08" fill="#40d8d0"/><circle cx="9.2" cy="26.6" r="1.02" fill="#40d8d0"/><circle cx="23.6" cy="13.2" r="1.15" fill="#30c0c8"/><circle cx="35.9" cy="12.6" r="1.27" fill="#30c0c8"/><circle cx="12.7" cy="38.5" r="1.21" fill="#40d8d0"/><circle cx="17.1" cy="10.3" r="0.80" fill="#60e8e0"/><circle cx="39.5" cy="23.4" r="0.89" fill="#60e8e0"/><circle cx="35.6" cy="39.9" r="1.19" fill="#60e8e0"/><circle cx="35.6" cy="-1.1" r="1.19" fill="#40d8d0"/><circle cx="8.0" cy="4.3" r="1.17" fill="#30c0c8"/><circle cx="8.2" cy="13.4" r="1.34" fill="#40d8d0"/><circle cx="32.1" cy="13.9" r="0.92" fill="#40d8d0"/><circle cx="19.9" cy="40.4" r="0.93" fill="#40d8d0"/><circle cx="19.9" cy="-0.6" r="0.93" fill="#40d8d0"/><circle cx="29.7" cy="3.5" r="0.89" fill="#60e8e0"/><circle cx="37.4" cy="8.7" r="1.22" fill="#60e8e0"/><circle cx="14.0" cy="11.9" r="1.28" fill="#40d8d0"/><circle cx="37.9" cy="18.8" r="0.95" fill="#30c0c8"/><circle cx="40.5" cy="17.3" r="0.86" fill="#60e8e0"/><circle cx="-0.5" cy="17.3" r="0.86" fill="#40d8d0"/><circle cx="4.2" cy="37.3" r="1.01" fill="#60e8e0"/><circle cx="39.8" cy="37.3" r="0.96" fill="#60e8e0"/><circle cx="26.7" cy="1.6" r="0.81" fill="#60e8e0"/><circle cx="40.3" cy="12.1" r="1.13" fill="#60e8e0"/><circle cx="-0.7" cy="12.1" r="1.13" fill="#40d8d0"/><circle cx="4.6" cy="8.8" r="1.14" fill="#40d8d0"/><circle cx="26.7" cy="26.4" r="1.32" fill="#40d8d0"/><circle cx="13.0" cy="34.7" r="1.29" fill="#30c0c8"/></pattern><pattern id="iGreen" x="0" y="0" width="41" height="41" patternUnits="userSpaceOnUse"><circle cx="39.2" cy="38.9" r="0.88" fill="#30e080"/><circle cx="3.5" cy="34.3" r="1.25" fill="#40f0a0"/><circle cx="27.5" cy="12.6" r="1.18" fill="#20c070"/><circle cx="24.9" cy="23.8" r="0.94" fill="#20c070"/><circle cx="17.7" cy="16.1" r="1.25" fill="#20c070"/><circle cx="18.2" cy="11.0" r="0.87" fill="#30e080"/><circle cx="1.1" cy="19.1" r="1.03" fill="#20c070"/><circle cx="15.6" cy="36.6" r="1.14" fill="#40f0a0"/><circle cx="23.0" cy="9.7" r="0.86" fill="#20c070"/><circle cx="13.3" cy="5.6" r="1.13" fill="#40f0a0"/><circle cx="40.9" cy="27.7" r="0.95" fill="#40f0a0"/><circle cx="-0.1" cy="27.7" r="0.95" fill="#30e080"/><circle cx="36.6" cy="32.7" r="1.25" fill="#40f0a0"/><circle cx="14.5" cy="40.2" r="1.38" fill="#20c070"/><circle cx="14.5" cy="-0.8" r="1.38" fill="#30e080"/><circle cx="6.6" cy="30.9" r="1.24" fill="#40f0a0"/><circle cx="18.9" cy="21.7" r="1.12" fill="#30e080"/><circle cx="37.9" cy="20.5" r="1.31" fill="#30e080"/><circle cx="29.7" cy="20.0" r="0.97" fill="#20c070"/><circle cx="13.3" cy="28.7" r="0.94" fill="#40f0a0"/><circle cx="37.2" cy="11.0" r="1.35" fill="#30e080"/><circle cx="24.1" cy="12.8" r="0.96" fill="#40f0a0"/><circle cx="21.0" cy="38.3" r="1.19" fill="#40f0a0"/><circle cx="2.4" cy="26.8" r="1.00" fill="#20c070"/><circle cx="9.3" cy="35.9" r="0.91" fill="#20c070"/><circle cx="21.4" cy="35.0" r="0.98" fill="#20c070"/><circle cx="29.4" cy="1.3" r="1.05" fill="#30e080"/><circle cx="7.0" cy="27.6" r="0.90" fill="#30e080"/><circle cx="39.1" cy="1.0" r="1.25" fill="#30e080"/><circle cx="39.1" cy="42.0" r="1.25" fill="#30e080"/><circle cx="0.9" cy="10.5" r="1.30" fill="#40f0a0"/><circle cx="41.9" cy="10.5" r="1.30" fill="#30e080"/><circle cx="6.4" cy="7.5" r="1.23" fill="#40f0a0"/><circle cx="15.8" cy="1.8" r="1.39" fill="#40f0a0"/><circle cx="6.2" cy="1.5" r="1.04" fill="#20c070"/><circle cx="25.2" cy="30.4" r="0.91" fill="#40f0a0"/><circle cx="31.4" cy="30.3" r="1.35" fill="#30e080"/><circle cx="31.0" cy="35.4" r="1.24" fill="#30e080"/><circle cx="35.9" cy="5.2" r="1.17" fill="#40f0a0"/><circle cx="16.1" cy="21.1" r="0.93" fill="#20c070"/><circle cx="40.8" cy="9.5" r="1.09" fill="#40f0a0"/><circle cx="-0.2" cy="9.5" r="1.09" fill="#30e080"/><circle cx="10.3" cy="24.2" r="1.19" fill="#30e080"/><circle cx="29.7" cy="9.9" r="0.90" fill="#40f0a0"/><circle cx="21.4" cy="19.0" r="1.02" fill="#30e080"/><circle cx="26.3" cy="8.7" r="1.35" fill="#20c070"/><circle cx="39.5" cy="29.9" r="1.09" fill="#40f0a0"/><circle cx="21.0" cy="23.8" r="0.88" fill="#20c070"/><circle cx="12.5" cy="34.5" r="1.22" fill="#40f0a0"/><circle cx="19.9" cy="8.5" r="1.17" fill="#30e080"/><circle cx="19.0" cy="30.9" r="1.07" fill="#20c070"/><circle cx="5.0" cy="5.0" r="0.89" fill="#40f0a0"/><circle cx="34.9" cy="26.3" r="1.38" fill="#40f0a0"/><circle cx="34.3" cy="12.2" r="0.98" fill="#20c070"/><circle cx="27.8" cy="37.7" r="1.17" fill="#30e080"/><circle cx="40.9" cy="6.0" r="1.08" fill="#40f0a0"/><circle cx="-0.1" cy="6.0" r="1.08" fill="#30e080"/><circle cx="12.2" cy="9.5" r="1.22" fill="#20c070"/><circle cx="4.6" cy="22.2" r="1.37" fill="#20c070"/><circle cx="31.0" cy="3.9" r="1.13" fill="#20c070"/><circle cx="5.9" cy="18.1" r="0.87" fill="#40f0a0"/><circle cx="24.4" cy="36.2" r="0.95" fill="#30e080"/><circle cx="30.6" cy="27.0" r="1.27" fill="#40f0a0"/><circle cx="16.5" cy="27.3" r="1.39" fill="#40f0a0"/><circle cx="26.0" cy="0.5" r="1.11" fill="#40f0a0"/><circle cx="26.0" cy="41.5" r="1.11" fill="#30e080"/><circle cx="33.5" cy="0.7" r="1.37" fill="#40f0a0"/><circle cx="33.5" cy="41.7" r="1.37" fill="#30e080"/><circle cx="5.7" cy="25.1" r="1.09" fill="#20c070"/><circle cx="8.4" cy="39.6" r="0.89" fill="#40f0a0"/></pattern><pattern id="iGreenD" x="0" y="0" width="41" height="41" patternUnits="userSpaceOnUse"><circle cx="9.8" cy="22.3" r="1.07" fill="#28d870"/><circle cx="24.8" cy="25.7" r="0.89" fill="#28d870"/><circle cx="0.5" cy="34.3" r="1.01" fill="#28d870"/><circle cx="41.5" cy="34.3" r="1.01" fill="#30f080"/><circle cx="9.6" cy="40.8" r="1.13" fill="#30f080"/><circle cx="9.6" cy="-0.2" r="1.13" fill="#30f080"/><circle cx="34.3" cy="19.5" r="1.23" fill="#50f8a0"/><circle cx="6.2" cy="26.0" r="1.37" fill="#30f080"/><circle cx="21.5" cy="30.4" r="1.25" fill="#28d870"/><circle cx="2.6" cy="31.1" r="1.20" fill="#28d870"/><circle cx="12.4" cy="1.3" r="1.37" fill="#30f080"/><circle cx="12.4" cy="42.3" r="1.37" fill="#30f080"/><circle cx="29.3" cy="37.8" r="1.09" fill="#28d870"/><circle cx="36.0" cy="4.0" r="0.93" fill="#30f080"/><circle cx="25.7" cy="12.3" r="1.15" fill="#50f8a0"/><circle cx="15.8" cy="14.4" r="1.20" fill="#50f8a0"/><circle cx="24.0" cy="37.1" r="1.26" fill="#28d870"/><circle cx="38.1" cy="35.1" r="1.44" fill="#28d870"/><circle cx="27.5" cy="6.7" r="1.37" fill="#50f8a0"/><circle cx="35.0" cy="40.6" r="0.90" fill="#50f8a0"/><circle cx="35.0" cy="-0.4" r="0.90" fill="#30f080"/><circle cx="32.8" cy="16.8" r="0.94" fill="#30f080"/><circle cx="12.0" cy="31.5" r="1.37" fill="#30f080"/><circle cx="1.8" cy="25.2" r="0.88" fill="#30f080"/><circle cx="29.5" cy="13.6" r="1.38" fill="#50f8a0"/><circle cx="40.2" cy="20.7" r="1.45" fill="#30f080"/><circle cx="-0.8" cy="20.7" r="1.45" fill="#30f080"/><circle cx="1.3" cy="8.1" r="1.09" fill="#50f8a0"/><circle cx="35.6" cy="12.9" r="1.43" fill="#28d870"/><circle cx="21.3" cy="26.4" r="1.21" fill="#50f8a0"/><circle cx="20.8" cy="17.7" r="1.28" fill="#30f080"/><circle cx="9.7" cy="12.3" r="1.44" fill="#50f8a0"/><circle cx="21.4" cy="22.5" r="0.86" fill="#30f080"/><circle cx="17.0" cy="23.8" r="0.86" fill="#28d870"/><circle cx="25.7" cy="19.1" r="1.26" fill="#30f080"/><circle cx="14.5" cy="29.0" r="1.29" fill="#30f080"/><circle cx="0.9" cy="2.5" r="1.26" fill="#28d870"/><circle cx="41.9" cy="2.5" r="1.26" fill="#30f080"/><circle cx="39.5" cy="10.3" r="1.12" fill="#30f080"/><circle cx="12.8" cy="15.1" r="1.21" fill="#30f080"/><circle cx="12.7" cy="9.1" r="1.33" fill="#28d870"/><circle cx="9.8" cy="7.7" r="1.11" fill="#30f080"/><circle cx="13.7" cy="34.2" r="1.11" fill="#28d870"/><circle cx="35.1" cy="6.9" r="1.05" fill="#30f080"/><circle cx="7.8" cy="33.1" r="1.35" fill="#30f080"/><circle cx="26.3" cy="33.1" r="1.06" fill="#30f080"/><circle cx="5.3" cy="12.0" r="1.33" fill="#50f8a0"/><circle cx="6.4" cy="0.2" r="1.42" fill="#30f080"/><circle cx="6.4" cy="41.2" r="1.42" fill="#30f080"/><circle cx="39.0" cy="38.0" r="0.98" fill="#30f080"/><circle cx="30.6" cy="34.3" r="1.25" fill="#28d870"/><circle cx="21.3" cy="11.9" r="1.05" fill="#28d870"/><circle cx="9.3" cy="2.8" r="1.20" fill="#50f8a0"/><circle cx="37.0" cy="28.4" r="1.40" fill="#28d870"/><circle cx="17.0" cy="38.5" r="1.22" fill="#28d870"/><circle cx="17.3" cy="19.4" r="1.32" fill="#50f8a0"/><circle cx="32.8" cy="25.5" r="1.11" fill="#28d870"/><circle cx="2.9" cy="17.4" r="1.11" fill="#30f080"/><circle cx="19.0" cy="5.0" r="1.34" fill="#50f8a0"/><circle cx="27.4" cy="30.1" r="1.19" fill="#30f080"/><circle cx="3.8" cy="4.1" r="1.38" fill="#28d870"/><circle cx="5.0" cy="34.6" r="1.25" fill="#30f080"/><circle cx="32.7" cy="1.5" r="1.31" fill="#30f080"/><circle cx="13.3" cy="23.1" r="1.35" fill="#30f080"/><circle cx="39.9" cy="16.9" r="1.30" fill="#28d870"/><circle cx="-1.1" cy="16.9" r="1.30" fill="#30f080"/><circle cx="28.9" cy="16.9" r="1.36" fill="#30f080"/><circle cx="0.9" cy="19.7" r="1.08" fill="#30f080"/><circle cx="41.9" cy="19.7" r="1.08" fill="#30f080"/><circle cx="7.1" cy="14.8" r="1.04" fill="#30f080"/><circle cx="31.7" cy="5.9" r="1.44" fill="#50f8a0"/><circle cx="34.2" cy="33.7" r="1.18" fill="#30f080"/><circle cx="19.2" cy="9.4" r="0.99" fill="#30f080"/><circle cx="35.0" cy="9.9" r="0.96" fill="#50f8a0"/><circle cx="35.2" cy="36.9" r="1.00" fill="#50f8a0"/><circle cx="29.9" cy="3.5" r="0.91" fill="#30f080"/><circle cx="11.3" cy="27.3" r="0.92" fill="#28d870"/><circle cx="23.2" cy="7.5" r="1.24" fill="#28d870"/><circle cx="24.5" cy="22.8" r="1.24" fill="#30f080"/><circle cx="18.8" cy="12.8" r="0.96" fill="#28d870"/><circle cx="31.9" cy="29.8" r="0.96" fill="#50f8a0"/><circle cx="26.0" cy="40.1" r="1.26" fill="#28d870"/><circle cx="26.0" cy="-0.9" r="1.26" fill="#30f080"/><circle cx="24.7" cy="29.8" r="0.85" fill="#28d870"/><circle cx="21.7" cy="1.5" r="1.15" fill="#50f8a0"/><circle cx="17.9" cy="31.0" r="1.14" fill="#50f8a0"/><circle cx="28.7" cy="22.0" r="1.10" fill="#28d870"/><circle cx="16.6" cy="6.9" r="0.87" fill="#28d870"/><circle cx="14.2" cy="5.1" r="0.88" fill="#50f8a0"/><circle cx="29.1" cy="0.9" r="1.13" fill="#30f080"/><circle cx="29.1" cy="41.9" r="1.13" fill="#30f080"/></pattern><pattern id="iBlue" x="0" y="0" width="41" height="41" patternUnits="userSpaceOnUse"><circle cx="9.7" cy="4.2" r="1.02" fill="#2020d0"/><circle cx="6.4" cy="2.7" r="1.02" fill="#2a30ff"/><circle cx="37.6" cy="32.8" r="1.22" fill="#2a30ff"/><circle cx="9.1" cy="22.0" r="0.95" fill="#3040e8"/><circle cx="32.8" cy="7.9" r="0.97" fill="#2020d0"/><circle cx="25.7" cy="30.0" r="1.27" fill="#2a30ff"/><circle cx="36.1" cy="3.6" r="1.13" fill="#3040e8"/><circle cx="27.5" cy="20.7" r="0.90" fill="#2020d0"/><circle cx="19.4" cy="3.7" r="1.31" fill="#3040e8"/><circle cx="35.5" cy="22.5" r="0.97" fill="#3040e8"/><circle cx="24.6" cy="17.7" r="0.89" fill="#2a30ff"/><circle cx="12.5" cy="33.3" r="0.82" fill="#3040e8"/><circle cx="1.9" cy="25.7" r="0.95" fill="#2a30ff"/><circle cx="21.9" cy="19.3" r="0.99" fill="#2020d0"/><circle cx="40.9" cy="8.0" r="1.03" fill="#2a30ff"/><circle cx="-0.1" cy="8.0" r="1.03" fill="#2a30ff"/><circle cx="8.3" cy="25.9" r="0.95" fill="#2020d0"/><circle cx="14.6" cy="30.6" r="0.98" fill="#2a30ff"/><circle cx="22.9" cy="37.1" r="0.86" fill="#3040e8"/><circle cx="2.5" cy="9.4" r="1.22" fill="#2a30ff"/><circle cx="25.2" cy="9.7" r="0.98" fill="#2a30ff"/><circle cx="7.3" cy="18.8" r="0.82" fill="#2a30ff"/><circle cx="28.6" cy="36.7" r="1.33" fill="#2020d0"/><circle cx="30.1" cy="39.4" r="0.81" fill="#3040e8"/><circle cx="11.8" cy="39.6" r="1.23" fill="#2020d0"/><circle cx="16.8" cy="38.7" r="1.14" fill="#2020d0"/><circle cx="33.5" cy="12.0" r="0.91" fill="#2a30ff"/><circle cx="39.4" cy="13.6" r="0.81" fill="#2a30ff"/><circle cx="14.9" cy="11.9" r="0.85" fill="#2a30ff"/><circle cx="40.3" cy="17.4" r="0.91" fill="#2020d0"/><circle cx="-0.7" cy="17.4" r="0.91" fill="#2a30ff"/><circle cx="2.4" cy="2.3" r="0.89" fill="#3040e8"/><circle cx="27.7" cy="6.1" r="0.82" fill="#2020d0"/><circle cx="20.1" cy="10.2" r="1.35" fill="#2020d0"/><circle cx="5.0" cy="21.7" r="1.23" fill="#2a30ff"/><circle cx="9.9" cy="16.8" r="0.82" fill="#2020d0"/><circle cx="34.1" cy="20.4" r="0.82" fill="#2020d0"/><circle cx="10.4" cy="9.9" r="0.91" fill="#3040e8"/><circle cx="9.5" cy="35.7" r="0.88" fill="#2020d0"/><circle cx="2.1" cy="38.0" r="1.11" fill="#3040e8"/><circle cx="35.8" cy="36.9" r="1.31" fill="#2020d0"/><circle cx="13.8" cy="26.9" r="1.24" fill="#2a30ff"/><circle cx="26.3" cy="33.4" r="1.09" fill="#3040e8"/><circle cx="37.8" cy="39.2" r="0.84" fill="#2020d0"/><circle cx="39.7" cy="27.4" r="0.83" fill="#2a30ff"/><circle cx="32.1" cy="36.0" r="1.10" fill="#3040e8"/><circle cx="36.0" cy="8.3" r="1.17" fill="#3040e8"/><circle cx="13.6" cy="36.6" r="1.23" fill="#2a30ff"/><circle cx="19.3" cy="21.6" r="0.81" fill="#2020d0"/><circle cx="35.5" cy="24.9" r="0.88" fill="#3040e8"/><circle cx="0.4" cy="34.3" r="1.26" fill="#2020d0"/><circle cx="41.4" cy="34.3" r="1.26" fill="#2a30ff"/><circle cx="20.0" cy="39.6" r="0.85" fill="#2020d0"/><circle cx="31.8" cy="2.7" r="1.28" fill="#2020d0"/><circle cx="8.0" cy="12.4" r="1.26" fill="#3040e8"/><circle cx="17.3" cy="32.7" r="0.89" fill="#3040e8"/><circle cx="20.3" cy="13.9" r="1.10" fill="#2020d0"/><circle cx="37.1" cy="29.1" r="0.80" fill="#3040e8"/><circle cx="12.8" cy="22.3" r="1.07" fill="#3040e8"/><circle cx="27.7" cy="25.0" r="0.97" fill="#3040e8"/><circle cx="37.4" cy="19.1" r="1.30" fill="#3040e8"/><circle cx="31.6" cy="14.8" r="1.16" fill="#3040e8"/><circle cx="15.3" cy="23.6" r="0.99" fill="#2020d0"/></pattern><pattern id="iPurple" x="0" y="0" width="41" height="41" patternUnits="userSpaceOnUse"><circle cx="25.5" cy="30.4" r="1.24" fill="#8858e0"/><circle cx="38.6" cy="30.3" r="1.31" fill="#8858e0"/><circle cx="1.2" cy="19.1" r="1.32" fill="#8858e0"/><circle cx="42.2" cy="19.1" r="1.32" fill="#a868f0"/><circle cx="26.6" cy="36.9" r="0.86" fill="#a868f0"/><circle cx="19.2" cy="10.1" r="1.10" fill="#a868f0"/><circle cx="23.5" cy="0.5" r="0.92" fill="#a868f0"/><circle cx="23.5" cy="41.5" r="0.92" fill="#a868f0"/><circle cx="11.5" cy="37.6" r="1.22" fill="#c080f8"/><circle cx="6.5" cy="32.7" r="0.88" fill="#c080f8"/><circle cx="25.3" cy="5.2" r="0.80" fill="#8858e0"/><circle cx="35.7" cy="8.6" r="0.92" fill="#8858e0"/><circle cx="40.3" cy="35.8" r="0.96" fill="#c080f8"/><circle cx="-0.7" cy="35.8" r="0.96" fill="#a868f0"/><circle cx="39.4" cy="22.1" r="1.17" fill="#8858e0"/><circle cx="8.4" cy="38.6" r="1.18" fill="#c080f8"/><circle cx="14.8" cy="6.8" r="0.88" fill="#8858e0"/><circle cx="2.7" cy="12.4" r="1.13" fill="#8858e0"/><circle cx="0.1" cy="27.8" r="0.99" fill="#a868f0"/><circle cx="41.1" cy="27.8" r="0.99" fill="#a868f0"/><circle cx="12.7" cy="33.6" r="1.06" fill="#c080f8"/><circle cx="12.9" cy="19.7" r="1.19" fill="#c080f8"/><circle cx="2.3" cy="40.0" r="0.81" fill="#c080f8"/><circle cx="30.7" cy="34.6" r="0.81" fill="#8858e0"/><circle cx="32.3" cy="15.0" r="1.12" fill="#8858e0"/><circle cx="0.4" cy="1.9" r="0.90" fill="#8858e0"/><circle cx="41.4" cy="1.9" r="0.90" fill="#a868f0"/><circle cx="39.2" cy="8.1" r="1.22" fill="#a868f0"/><circle cx="38.1" cy="38.6" r="0.99" fill="#a868f0"/><circle cx="4.4" cy="30.7" r="1.24" fill="#a868f0"/><circle cx="35.2" cy="1.5" r="1.32" fill="#c080f8"/><circle cx="37.6" cy="13.9" r="1.31" fill="#8858e0"/><circle cx="22.4" cy="12.8" r="0.97" fill="#c080f8"/><circle cx="7.3" cy="3.2" r="0.88" fill="#8858e0"/><circle cx="28.3" cy="40.9" r="0.89" fill="#a868f0"/><circle cx="28.3" cy="-0.1" r="0.89" fill="#a868f0"/><circle cx="33.9" cy="18.7" r="1.03" fill="#8858e0"/><circle cx="2.3" cy="37.6" r="0.82" fill="#8858e0"/><circle cx="20.2" cy="34.4" r="0.87" fill="#a868f0"/><circle cx="32.3" cy="4.4" r="1.04" fill="#a868f0"/><circle cx="18.6" cy="41.0" r="1.27" fill="#c080f8"/><circle cx="18.6" cy="-0.0" r="1.27" fill="#a868f0"/><circle cx="40.0" cy="18.6" r="1.07" fill="#c080f8"/><circle cx="-1.0" cy="18.6" r="1.07" fill="#a868f0"/><circle cx="29.9" cy="19.6" r="0.96" fill="#8858e0"/><circle cx="28.5" cy="27.2" r="1.22" fill="#8858e0"/><circle cx="14.9" cy="28.9" r="0.95" fill="#8858e0"/><circle cx="19.9" cy="31.6" r="1.18" fill="#8858e0"/><circle cx="10.3" cy="27.5" r="1.05" fill="#8858e0"/><circle cx="33.5" cy="26.5" r="1.24" fill="#8858e0"/><circle cx="19.6" cy="28.3" r="1.20" fill="#c080f8"/><circle cx="29.9" cy="7.0" r="1.23" fill="#c080f8"/><circle cx="23.8" cy="27.3" r="1.03" fill="#c080f8"/><circle cx="29.5" cy="1.1" r="0.89" fill="#c080f8"/><circle cx="5.5" cy="13.0" r="0.90" fill="#8858e0"/><circle cx="15.6" cy="25.1" r="1.12" fill="#8858e0"/><circle cx="16.6" cy="11.4" r="1.03" fill="#a868f0"/><circle cx="1.5" cy="25.2" r="0.85" fill="#c080f8"/><circle cx="5.8" cy="24.4" r="1.11" fill="#c080f8"/><circle cx="14.4" cy="36.6" r="0.80" fill="#a868f0"/><circle cx="15.4" cy="17.7" r="0.92" fill="#c080f8"/><circle cx="11.0" cy="6.3" r="1.34" fill="#a868f0"/><circle cx="12.0" cy="24.9" r="1.06" fill="#8858e0"/></pattern></defs>
<defs><filter id="sBlue" x="0" y="0" width="1" height="1" color-interpolation-filters="sRGB"><feTurbulence type="fractalNoise" baseFrequency="0.8" numOctaves="1" seed="3" result="n"/><feColorMatrix in="n" type="matrix" values="0 0 0 0 0.165  0 0 0 0 0.188  0 0 0 0 0.847  12 0 0 0 -6.720000000000001"/></filter><filter id="sCyan" x="0" y="0" width="1" height="1" color-interpolation-filters="sRGB"><feTurbulence type="fractalNoise" baseFrequency="0.8" numOctaves="1" seed="7" result="n"/><feColorMatrix in="n" type="matrix" values="0 0 0 0 0.314  0 0 0 0 0.784  0 0 0 0 0.816  12 0 0 0 -7.199999999999999"/></filter><filter id="sWhite" x="0" y="0" width="1" height="1" color-interpolation-filters="sRGB"><feTurbulence type="fractalNoise" baseFrequency="0.85" numOctaves="1" seed="11" result="n"/><feColorMatrix in="n" type="matrix" values="0 0 0 0 0.816  0 0 0 0 0.878  0 0 0 0 0.941  12 0 0 0 -7.199999999999999"/></filter><filter id="sGreen" x="0" y="0" width="1" height="1" color-interpolation-filters="sRGB"><feTurbulence type="fractalNoise" baseFrequency="0.75" numOctaves="1" seed="5" result="n"/><feColorMatrix in="n" type="matrix" values="0 0 0 0 0.157  0 0 0 0 0.816  0 0 0 0 0.627  12 0 0 0 -6.6000000000000005"/></filter><filter id="sGreen2" x="0" y="0" width="1" height="1" color-interpolation-filters="sRGB"><feTurbulence type="fractalNoise" baseFrequency="0.8" numOctaves="1" seed="13" result="n"/><feColorMatrix in="n" type="matrix" values="0 0 0 0 0.376  0 0 0 0 0.941  0 0 0 0 0.753  12 0 0 0 -7.4399999999999995"/></filter><filter id="sGray" x="0" y="0" width="1" height="1" color-interpolation-filters="sRGB"><feTurbulence type="fractalNoise" baseFrequency="0.8" numOctaves="1" seed="17" result="n"/><feColorMatrix in="n" type="matrix" values="0 0 0 0 0.471  0 0 0 0 0.690  0 0 0 0 0.753  12 0 0 0 -6.720000000000001"/></filter><filter id="sGreenD" x="0" y="0" width="1" height="1" color-interpolation-filters="sRGB"><feTurbulence type="fractalNoise" baseFrequency="0.75" numOctaves="1" seed="31" result="n"/><feColorMatrix in="n" type="matrix" values="0 0 0 0 0.157  0 0 0 0 0.784  0 0 0 0 0.627  12 0 0 0 -6.540000000000001"/></filter><filter id="sGreenD2" x="0" y="0" width="1" height="1" color-interpolation-filters="sRGB"><feTurbulence type="fractalNoise" baseFrequency="0.8" numOctaves="1" seed="33" result="n"/><feColorMatrix in="n" type="matrix" values="0 0 0 0 0.376  0 0 0 0 0.910  0 0 0 0 0.753  12 0 0 0 -7.199999999999999"/></filter><linearGradient id="mUpper" x1="0" y1="0" x2="0" y2="1"><stop offset="0" stop-color="#fff" stop-opacity="0"/><stop offset="0.08" stop-color="#fff" stop-opacity="1"/><stop offset="0.55" stop-color="#fff" stop-opacity="0.9"/><stop offset="1" stop-color="#fff" stop-opacity="0.15"/></linearGradient><mask id="mkUp" maskContentUnits="objectBoundingBox"><rect width="1" height="1" fill="url(#mUpper)"/></mask><radialGradient id="mMidG" cx="0.5" cy="0.45" r="0.6"><stop offset="0" stop-color="#fff" stop-opacity="1"/><stop offset="0.6" stop-color="#fff" stop-opacity="0.6"/><stop offset="1" stop-color="#fff" stop-opacity="0"/></radialGradient><mask id="mkMid" maskContentUnits="objectBoundingBox"><rect width="1" height="1" fill="url(#mMidG)"/></mask><linearGradient id="darkbot" x1="0" y1="0" x2="0" y2="1"><stop offset="0" stop-color="#0a0a50" stop-opacity="0"/><stop offset="0.65" stop-color="#0a0a50" stop-opacity="0"/><stop offset="1" stop-color="#1414b0" stop-opacity="0.6"/></linearGradient></defs>
<rect x="278.30" y="325.00" width="103.90" height="12.70" fill="#fff" stroke="#888" stroke-width="1" />
<text x="330.25" y="334.45" font-size="8.8" font-weight="bold" text-anchor="middle" fill="#111" >Sham</text>
<rect x="277.80" y="339.20" width="59.48" height="115.40" fill="#070838"  />
<g  opacity="1"><rect x="277.8" y="339.2" width="59.5" height="115.4" fill="#000" fill-opacity="0" filter="url(#sBlue)"/></g>
<g mask="url(#mkUp)" opacity="0.8"><rect x="277.8" y="339.2" width="59.5" height="115.4" fill="#000" fill-opacity="0" filter="url(#sCyan)"/></g>
<g mask="url(#mkMid)" opacity="0.9"><rect x="277.8" y="339.2" width="59.5" height="115.4" fill="#000" fill-opacity="0" filter="url(#sWhite)"/></g>
<rect x="277.80" y="339.20" width="59.48" height="115.40" fill="url(#darkbot)"  />
<path d="M277.8,339.2 L337.2783,339.2 L337.2783,342.2 C313.48698,343.7 295.64349,344.2 277.8,345.2 Z" fill="#000010"/>
<path d="M277.8,345.7 C295.64349,344.7 313.48698,344.2 337.2783,342.7" fill="none" stroke="#5a40d0" stroke-width="0.9" opacity="0.8"/>
<text x="331.28" y="452.60" font-size="2.2" font-weight="bold" text-anchor="end" fill="#fff" >200 µm</text>
<rect x="320.90" y="361.80" width="11.70" height="15.10" fill="none" stroke="#d0d0d0" stroke-width="0.7" />
<text x="326.75" y="372.55" font-size="8.6" font-weight="bold" text-anchor="middle" fill="#fff" >1</text>
<rect x="319.10" y="389.40" width="10.50" height="16.30" fill="none" stroke="#d0d0d0" stroke-width="0.7" />
<text x="324.35" y="400.75" font-size="8.6" font-weight="bold" text-anchor="middle" fill="#fff" >2</text>
<rect x="317.60" y="417.00" width="10.80" height="16.20" fill="none" stroke="#d0d0d0" stroke-width="0.7" />
<text x="323.00" y="428.30" font-size="8.6" font-weight="bold" text-anchor="middle" fill="#fff" >3</text>
<rect x="338.08" y="339.20" width="21.71" height="37.50" fill="#020214"  />
<rect x="338.1" y="339.2" width="21.7" height="37.5" fill="url(#iBlue)" opacity="1"/>
<rect x="338.1" y="339.2" width="21.7" height="37.5" fill="url(#iCyan)" opacity="1"/>
<rect x="360.99" y="339.20" width="21.71" height="37.50" fill="#020214"  />
<rect x="361.0" y="339.2" width="21.7" height="37.5" fill="url(#iBlue)" opacity="0.9"/>
<rect x="361.0" y="339.2" width="21.7" height="37.5" fill="url(#iPurple)" opacity="1"/>
<text x="339.28" y="349.00" font-size="9.4" font-weight="bold" text-anchor="start" fill="#fff" >1</text>
<text x="380.70" y="374.90" font-size="2.2" font-weight="bold" text-anchor="end" fill="#fff" >100 µm</text>
<rect x="338.08" y="378.20" width="21.71" height="37.40" fill="#020214"  />
<rect x="338.1" y="378.2" width="21.7" height="37.4" fill="url(#iBlue)" opacity="1"/>
<rect x="338.1" y="378.2" width="21.7" height="37.4" fill="url(#iCyan)" opacity="1"/>
<rect x="360.99" y="378.20" width="21.71" height="37.40" fill="#020214"  />
<rect x="361.0" y="378.2" width="21.7" height="37.4" fill="url(#iBlue)" opacity="0.9"/>
<rect x="361.0" y="378.2" width="21.7" height="37.4" fill="url(#iPurple)" opacity="1"/>
<text x="339.28" y="388.00" font-size="9.4" font-weight="bold" text-anchor="start" fill="#fff" >2</text>
<text x="380.70" y="413.80" font-size="2.2" font-weight="bold" text-anchor="end" fill="#fff" >100 µm</text>
<rect x="338.08" y="417.10" width="21.71" height="37.50" fill="#020214"  />
<rect x="338.1" y="417.1" width="21.7" height="37.5" fill="url(#iBlue)" opacity="1"/>
<rect x="338.1" y="417.1" width="21.7" height="37.5" fill="url(#iCyan)" opacity="1"/>
<rect x="360.99" y="417.10" width="21.71" height="37.50" fill="#020214"  />
<rect x="361.0" y="417.1" width="21.7" height="37.5" fill="url(#iBlue)" opacity="0.9"/>
<rect x="361.0" y="417.1" width="21.7" height="37.5" fill="url(#iPurple)" opacity="1"/>
<text x="339.28" y="426.90" font-size="9.4" font-weight="bold" text-anchor="start" fill="#fff" >3</text>
<text x="380.70" y="452.80" font-size="2.2" font-weight="bold" text-anchor="end" fill="#fff" >100 µm</text>
<rect x="337.28" y="339.20" width="0.80" height="115.40" fill="#ddd"  />
<rect x="359.79" y="339.20" width="1.20" height="115.40" fill="#ddd"  />
<rect x="337.28" y="376.70" width="45.42" height="1.50" fill="#ddd"  />
<rect x="337.28" y="415.60" width="45.42" height="1.50" fill="#ddd"  />
<rect x="385.50" y="325.00" width="104.20" height="12.70" fill="#fff" stroke="#888" stroke-width="1" />
<text x="437.60" y="334.45" font-size="8.8" font-weight="bold" text-anchor="middle" fill="#111" >ips-iACS</text>
<rect x="385.00" y="339.20" width="59.65" height="115.40" fill="#070a38"  />
<g  opacity="1"><rect x="385.0" y="339.2" width="59.6" height="115.4" fill="#000" fill-opacity="0" filter="url(#sBlue)"/></g>
<g mask="url(#mkUp)" opacity="1"><rect x="385.0" y="339.2" width="59.6" height="115.4" fill="#000" fill-opacity="0" filter="url(#sGreenD)"/></g>
<g mask="url(#mkUp)" opacity="0.9"><rect x="385.0" y="339.2" width="59.6" height="115.4" fill="#000" fill-opacity="0" filter="url(#sGreenD2)"/></g>
<rect x="385.00" y="339.20" width="59.65" height="115.40" fill="url(#darkbot)"  />
<path d="M385,339.2 L444.6484,339.2 L444.6484,345.2 C420.78904,346.7 402.89452,347.2 385,348.2 Z" fill="#000010"/>
<path d="M385,348.7 C402.89452,347.7 420.78904,347.2 444.6484,345.7" fill="none" stroke="#5a40d0" stroke-width="0.9" opacity="0.8"/>
<text x="438.65" y="452.60" font-size="2.2" font-weight="bold" text-anchor="end" fill="#fff" >200 µm</text>
<rect x="428.10" y="371.90" width="10.00" height="15.00" fill="none" stroke="#d0d0d0" stroke-width="0.7" />
<text x="433.10" y="382.60" font-size="8.6" font-weight="bold" text-anchor="middle" fill="#fff" >4</text>
<rect x="426.40" y="388.20" width="10.70" height="16.20" fill="none" stroke="#d0d0d0" stroke-width="0.7" />
<text x="431.75" y="399.50" font-size="8.6" font-weight="bold" text-anchor="middle" fill="#fff" >5</text>
<rect x="413.10" y="422.00" width="11.50" height="16.30" fill="none" stroke="#d0d0d0" stroke-width="0.7" />
<text x="418.85" y="433.35" font-size="8.6" font-weight="bold" text-anchor="middle" fill="#fff" >6</text>
<rect x="445.45" y="339.20" width="21.78" height="37.50" fill="#020214"  />
<rect x="445.4" y="339.2" width="21.8" height="37.5" fill="url(#iBlue)" opacity="0.6"/>
<rect x="445.4" y="339.2" width="21.8" height="37.5" fill="url(#iGreenD)" opacity="1"/>
<rect x="468.42" y="339.20" width="21.78" height="37.50" fill="#020214"  />
<rect x="468.4" y="339.2" width="21.8" height="37.5" fill="url(#iBlue)" opacity="1"/>
<text x="446.65" y="349.00" font-size="9.4" font-weight="bold" text-anchor="start" fill="#fff" >4</text>
<text x="488.20" y="374.90" font-size="2.2" font-weight="bold" text-anchor="end" fill="#fff" >100 µm</text>
<rect x="445.45" y="378.20" width="21.78" height="37.40" fill="#020214"  />
<rect x="445.4" y="378.2" width="21.8" height="37.4" fill="url(#iBlue)" opacity="0.6"/>
<rect x="445.4" y="378.2" width="21.8" height="37.4" fill="url(#iGreenD)" opacity="1"/>
<rect x="468.42" y="378.20" width="21.78" height="37.40" fill="#020214"  />
<rect x="468.4" y="378.2" width="21.8" height="37.4" fill="url(#iBlue)" opacity="1"/>
<text x="446.65" y="388.00" font-size="9.4" font-weight="bold" text-anchor="start" fill="#fff" >5</text>
<text x="488.20" y="413.80" font-size="2.2" font-weight="bold" text-anchor="end" fill="#fff" >100 µm</text>
<rect x="445.45" y="417.10" width="21.78" height="37.50" fill="#020214"  />
<rect x="445.4" y="417.1" width="21.8" height="37.5" fill="url(#iBlue)" opacity="0.6"/>
<rect x="445.4" y="417.1" width="21.8" height="37.5" fill="url(#iGreenD)" opacity="1"/>
<rect x="468.42" y="417.10" width="21.78" height="37.50" fill="#020214"  />
<rect x="468.4" y="417.1" width="21.8" height="37.5" fill="url(#iBlue)" opacity="1"/>
<text x="446.65" y="426.90" font-size="9.4" font-weight="bold" text-anchor="start" fill="#fff" >6</text>
<text x="488.20" y="452.80" font-size="2.2" font-weight="bold" text-anchor="end" fill="#fff" >100 µm</text>
<rect x="444.65" y="339.20" width="0.80" height="115.40" fill="#ddd"  />
<rect x="467.22" y="339.20" width="1.20" height="115.40" fill="#ddd"  />
<rect x="444.65" y="376.70" width="45.55" height="1.50" fill="#ddd"  />
<rect x="444.65" y="415.60" width="45.55" height="1.50" fill="#ddd"  />
<rect x="493.80" y="325.00" width="103.30" height="12.70" fill="#fff" stroke="#888" stroke-width="1" />
<text x="545.45" y="334.45" font-size="8.8" font-weight="bold" text-anchor="middle" fill="#111" >bi-iACS</text>
<rect x="493.30" y="339.20" width="59.14" height="115.40" fill="#070a38"  />
<g  opacity="1"><rect x="493.3" y="339.2" width="59.1" height="115.4" fill="#000" fill-opacity="0" filter="url(#sBlue)"/></g>
<g mask="url(#mkUp)" opacity="0.9"><rect x="493.3" y="339.2" width="59.1" height="115.4" fill="#000" fill-opacity="0" filter="url(#sGreen)"/></g>
<g mask="url(#mkUp)" opacity="0.8"><rect x="493.3" y="339.2" width="59.1" height="115.4" fill="#000" fill-opacity="0" filter="url(#sCyan)"/></g>
<rect x="493.30" y="339.20" width="59.14" height="115.40" fill="url(#darkbot)"  />
<path d="M493.3,339.2 L552.4381,339.2 L552.4381,345.2 C528.78286,346.7 511.04143,347.2 493.3,348.2 Z" fill="#000010"/>
<path d="M493.3,348.7 C511.04143,347.7 528.78286,347.2 552.4381,345.7" fill="none" stroke="#5a40d0" stroke-width="0.9" opacity="0.8"/>
<text x="546.44" y="452.60" font-size="2.2" font-weight="bold" text-anchor="end" fill="#fff" >200 µm</text>
<rect x="525.30" y="364.20" width="11.20" height="17.40" fill="none" stroke="#d0d0d0" stroke-width="0.7" />
<text x="530.90" y="376.10" font-size="8.6" font-weight="bold" text-anchor="middle" fill="#fff" >7</text>
<rect x="530.00" y="389.50" width="10.50" height="15.80" fill="none" stroke="#d0d0d0" stroke-width="0.7" />
<text x="535.25" y="400.60" font-size="8.6" font-weight="bold" text-anchor="middle" fill="#fff" >8</text>
<rect x="525.30" y="428.40" width="10.20" height="15.30" fill="none" stroke="#d0d0d0" stroke-width="0.7" />
<text x="530.40" y="439.25" font-size="8.6" font-weight="bold" text-anchor="middle" fill="#fff" >9</text>
<rect x="553.24" y="339.20" width="21.58" height="37.50" fill="#020214"  />
<rect x="553.2" y="339.2" width="21.6" height="37.5" fill="url(#iBlue)" opacity="0.7"/>
<rect x="553.2" y="339.2" width="21.6" height="37.5" fill="url(#iGreen)" opacity="1"/>
<rect x="576.02" y="339.20" width="21.58" height="37.50" fill="#020214"  />
<rect x="576.0" y="339.2" width="21.6" height="37.5" fill="url(#iBlue)" opacity="1"/>
<rect x="576.0" y="339.2" width="21.6" height="37.5" fill="url(#iPurple)" opacity="0.6"/>
<text x="554.44" y="349.00" font-size="9.4" font-weight="bold" text-anchor="start" fill="#fff" >7</text>
<text x="595.60" y="374.90" font-size="2.2" font-weight="bold" text-anchor="end" fill="#fff" >100 µm</text>
<rect x="553.24" y="378.20" width="21.58" height="37.40" fill="#020214"  />
<rect x="553.2" y="378.2" width="21.6" height="37.4" fill="url(#iBlue)" opacity="0.7"/>
<rect x="553.2" y="378.2" width="21.6" height="37.4" fill="url(#iGreen)" opacity="1"/>
<rect x="576.02" y="378.20" width="21.58" height="37.40" fill="#020214"  />
<rect x="576.0" y="378.2" width="21.6" height="37.4" fill="url(#iBlue)" opacity="1"/>
<rect x="576.0" y="378.2" width="21.6" height="37.4" fill="url(#iPurple)" opacity="0.6"/>
<text x="554.44" y="388.00" font-size="9.4" font-weight="bold" text-anchor="start" fill="#fff" >8</text>
<text x="595.60" y="413.80" font-size="2.2" font-weight="bold" text-anchor="end" fill="#fff" >100 µm</text>
<rect x="553.24" y="417.10" width="21.58" height="37.50" fill="#020214"  />
<rect x="553.2" y="417.1" width="21.6" height="37.5" fill="url(#iBlue)" opacity="0.7"/>
<rect x="553.2" y="417.1" width="21.6" height="37.5" fill="url(#iGreen)" opacity="1"/>
<rect x="576.02" y="417.10" width="21.58" height="37.50" fill="#020214"  />
<rect x="576.0" y="417.1" width="21.6" height="37.5" fill="url(#iBlue)" opacity="1"/>
<rect x="576.0" y="417.1" width="21.6" height="37.5" fill="url(#iPurple)" opacity="0.6"/>
<text x="554.44" y="426.90" font-size="9.4" font-weight="bold" text-anchor="start" fill="#fff" >9</text>
<text x="595.60" y="452.80" font-size="2.2" font-weight="bold" text-anchor="end" fill="#fff" >100 µm</text>
<rect x="552.44" y="339.20" width="0.80" height="115.40" fill="#ddd"  />
<rect x="574.82" y="339.20" width="1.20" height="115.40" fill="#ddd"  />
<rect x="552.44" y="376.70" width="45.16" height="1.50" fill="#ddd"  />
<rect x="552.44" y="415.60" width="45.16" height="1.50" fill="#ddd"  />
<rect x="600.50" y="325.00" width="104.20" height="12.70" fill="#fff" stroke="#888" stroke-width="1" />
<text x="652.60" y="334.45" font-size="8.8" font-weight="bold" text-anchor="middle" fill="#111" >con-iACS</text>
<rect x="600.00" y="339.20" width="59.65" height="115.40" fill="#0a0c40"  />
<g  opacity="1"><rect x="600.0" y="339.2" width="59.6" height="115.4" fill="#000" fill-opacity="0" filter="url(#sBlue)"/></g>
<g mask="url(#mkUp)" opacity="1"><rect x="600.0" y="339.2" width="59.6" height="115.4" fill="#000" fill-opacity="0" filter="url(#sGray)"/></g>
<g mask="url(#mkUp)" opacity="0.6"><rect x="600.0" y="339.2" width="59.6" height="115.4" fill="#000" fill-opacity="0" filter="url(#sCyan)"/></g>
<rect x="600.00" y="339.20" width="59.65" height="115.40" fill="url(#darkbot)"  />
<path d="M600,339.2 L659.6484,339.2 L659.6484,342.2 C635.78904,343.7 617.89452,344.2 600,345.2 Z" fill="#05051a"/>
<path d="M600,345.7 C617.89452,344.7 635.78904,344.2 659.6484,342.7" fill="none" stroke="#d060c0" stroke-width="1.6" opacity="0.8"/>
<text x="653.65" y="452.60" font-size="2.2" font-weight="bold" text-anchor="end" fill="#fff" >200 µm</text>
<rect x="622.60" y="353.00" width="10.50" height="16.30" fill="none" stroke="#d0d0d0" stroke-width="0.7" />
<text x="627.85" y="364.35" font-size="8.6" font-weight="bold" text-anchor="middle" fill="#fff" >10</text>
<rect x="638.90" y="381.90" width="10.70" height="16.20" fill="none" stroke="#d0d0d0" stroke-width="0.7" />
<text x="644.25" y="393.20" font-size="8.6" font-weight="bold" text-anchor="middle" fill="#fff" >11</text>
<rect x="633.80" y="408.20" width="10.80" height="17.50" fill="none" stroke="#d0d0d0" stroke-width="0.7" />
<text x="639.20" y="420.15" font-size="8.6" font-weight="bold" text-anchor="middle" fill="#fff" >12</text>
<rect x="660.45" y="339.20" width="21.78" height="37.50" fill="#020214"  />
<rect x="660.4" y="339.2" width="21.8" height="37.5" fill="url(#iBlue)" opacity="1"/>
<rect x="660.4" y="339.2" width="21.8" height="37.5" fill="url(#iCyan)" opacity="1"/>
<rect x="683.42" y="339.20" width="21.78" height="37.50" fill="#020214"  />
<rect x="683.4" y="339.2" width="21.8" height="37.5" fill="url(#iBlue)" opacity="1"/>
<rect x="683.4" y="339.2" width="21.8" height="37.5" fill="url(#iPurple)" opacity="0.8"/>
<text x="661.65" y="349.00" font-size="9.4" font-weight="bold" text-anchor="start" fill="#fff" >10</text>
<text x="703.20" y="374.90" font-size="2.2" font-weight="bold" text-anchor="end" fill="#fff" >100 µm</text>
<rect x="660.45" y="378.20" width="21.78" height="37.40" fill="#020214"  />
<rect x="660.4" y="378.2" width="21.8" height="37.4" fill="url(#iBlue)" opacity="1"/>
<rect x="660.4" y="378.2" width="21.8" height="37.4" fill="url(#iCyan)" opacity="1"/>
<rect x="683.42" y="378.20" width="21.78" height="37.40" fill="#020214"  />
<rect x="683.4" y="378.2" width="21.8" height="37.4" fill="url(#iBlue)" opacity="1"/>
<rect x="683.4" y="378.2" width="21.8" height="37.4" fill="url(#iPurple)" opacity="0.8"/>
<text x="661.65" y="388.00" font-size="9.4" font-weight="bold" text-anchor="start" fill="#fff" >11</text>
<text x="703.20" y="413.80" font-size="2.2" font-weight="bold" text-anchor="end" fill="#fff" >100 µm</text>
<rect x="660.45" y="417.10" width="21.78" height="37.50" fill="#020214"  />
<rect x="660.4" y="417.1" width="21.8" height="37.5" fill="url(#iBlue)" opacity="1"/>
<rect x="660.4" y="417.1" width="21.8" height="37.5" fill="url(#iCyan)" opacity="1"/>
<rect x="683.42" y="417.10" width="21.78" height="37.50" fill="#020214"  />
<rect x="683.4" y="417.1" width="21.8" height="37.5" fill="url(#iBlue)" opacity="1"/>
<rect x="683.4" y="417.1" width="21.8" height="37.5" fill="url(#iPurple)" opacity="0.8"/>
<text x="661.65" y="426.90" font-size="9.4" font-weight="bold" text-anchor="start" fill="#fff" >12</text>
<text x="703.20" y="452.80" font-size="2.2" font-weight="bold" text-anchor="end" fill="#fff" >100 µm</text>
<rect x="659.65" y="339.20" width="0.80" height="115.40" fill="#ddd"  />
<rect x="682.22" y="339.20" width="1.20" height="115.40" fill="#ddd"  />
<rect x="659.65" y="376.70" width="45.55" height="1.50" fill="#ddd"  />
<rect x="659.65" y="415.60" width="45.55" height="1.50" fill="#ddd"  />
<text x="259.90" y="488.50" font-size="12.5" fill="#111">(D)</text>
<rect x="264.90" y="492.50" width="12.00" height="84.60" fill="#fff" stroke="#888" stroke-width="1" />
<text transform="translate(273.90,534.80) rotate(-90)" font-size="8.4" font-weight="bold" text-anchor="middle" fill="#000"><tspan fill="#20b040">NeuN/</tspan><tspan fill="#ff10c0">RGS9</tspan><tspan fill="#2070ff">/DAPI</tspan></text>
<defs><filter id="hBlue" x="0" y="0" width="1" height="1" color-interpolation-filters="sRGB"><feTurbulence type="fractalNoise" baseFrequency="0.6" numOctaves="1" seed="51" result="n"/><feColorMatrix in="n" type="matrix" values="0 0 0 0 0.102  0 0 0 0 0.141  0 0 0 0 0.627  12 0 0 0 -6.6000000000000005"/></filter><filter id="hPurp" x="0" y="0" width="1" height="1" color-interpolation-filters="sRGB"><feTurbulence type="fractalNoise" baseFrequency="0.5" numOctaves="1" seed="53" result="n"/><feColorMatrix in="n" type="matrix" values="0 0 0 0 0.314  0 0 0 0 0.251  0 0 0 0 0.659  12 0 0 0 -7.199999999999999"/></filter><filter id="hBlue2" x="0" y="0" width="1" height="1" color-interpolation-filters="sRGB"><feTurbulence type="fractalNoise" baseFrequency="0.8" numOctaves="1" seed="55" result="n"/><feColorMatrix in="n" type="matrix" values="0 0 0 0 0.165  0 0 0 0 0.220  0 0 0 0 0.753  12 0 0 0 -7.199999999999999"/></filter><filter id="hglow" x="-10%" y="-10%" width="120%" height="120%"><feGaussianBlur stdDeviation="0.9"/></filter></defs>
<rect x="279.00" y="478.70" width="104.80" height="12.30" fill="#fff" stroke="#888" stroke-width="1" />
<text x="331.40" y="487.95" font-size="8.8" font-weight="bold" text-anchor="middle" fill="#111" >Sham</text>
<rect x="278.50" y="492.00" width="105.80" height="55.50" fill="#04042e"  />
<rect x="278.5" y="492" width="105.8" height="55.5" fill="#000" fill-opacity="0" filter="url(#hBlue)"/>
<rect x="278.5" y="492" width="105.8" height="55.5" fill="#000" fill-opacity="0" filter="url(#hPurp)" opacity="0.7"/>
<path d="M363.1,492 C384.3,507 387.3,532 376.3,547.5" fill="none" stroke="#3838d0" stroke-width="6" opacity="0.35"/>
<path d="M278.5,492 L292.5,492 L288.5,522 L278.5,537 Z" fill="#6040a0" opacity="0.45"/>
<path d="M279.5,525.0 C281.8,526.3 288.4,535.5 293.3,533.0 C298.2,530.5 303.6,516.0 308.7,510.0 C313.8,504.0 314.8,495.0 324.0,497.0 C333.2,499.0 355.2,516.5 363.9,522.2 C372.6,527.9 375.7,528.3 376.2,531.4 C376.7,534.5 372.6,540.6 367.0,540.6 C361.4,540.6 346.5,532.9 342.4,531.4 " fill="none" stroke="#d8f0f0" stroke-width="3.5" opacity="0.35" filter="url(#hglow)"/>
<path d="M279.5,525.0 C281.8,526.3 288.4,535.5 293.3,533.0 C298.2,530.5 303.6,516.0 308.7,510.0 C313.8,504.0 314.8,495.0 324.0,497.0 C333.2,499.0 355.2,516.5 363.9,522.2 C372.6,527.9 375.7,528.3 376.2,531.4 C376.7,534.5 372.6,540.6 367.0,540.6 C361.4,540.6 346.5,532.9 342.4,531.4 " fill="none" stroke="#d8f0f0" stroke-width="1.8" opacity="0.9"/>
<path d="M308.7,544.4 Q324.6,523.4 328.6,521.4 T348.6,529.1" fill="none" stroke="#a8e8f8" stroke-width="3" stroke-linecap="round"/>
<path d="M308.7,544.4 Q326.4,533.0 344.0,539.0" fill="none" stroke="#a8e8f8" stroke-width="2.6" stroke-linecap="round"/>
<path d="M330.3,532.2 Q338.6,527.2 351.6,535.0" fill="none" stroke="#d8f0f0" stroke-width="1.6" opacity="0.6"/>
<rect x="306.80" y="518.40" width="50.20" height="27.60" fill="none" stroke="#c0c0c0" stroke-width="0.7" />
<text x="380.30" y="545.00" font-size="2.2" font-weight="bold" text-anchor="end" fill="#fff" >200 µm</text>
<rect x="278.50" y="549.60" width="52.15" height="28.00" fill="#04042a"  />
<rect x="278.5" y="549.6" width="52.2" height="28.0" fill="#000" fill-opacity="0" filter="url(#hBlue2)" opacity="0.8"/>
<path d="M281.0,577.1 C288.9,563.6 294.1,552.6 299.4,552.6 C307.2,555.6 312.4,558.6 322.8,560.6" fill="none" stroke="#40c8f0" stroke-width="4" stroke-linecap="round"/>
<path d="M281.0,577.1 C294.1,565.6 307.2,565.6 315.0,568.6" fill="none" stroke="#40c8f0" stroke-width="3.2" stroke-linecap="round"/>
<path d="M296.8,562.6 C307.2,562.6 320.2,567.6 330.6,573.6" fill="none" stroke="#d8f0f0" stroke-width="2" opacity="0.55"/>
<text x="328.65" y="576.10" font-size="2.2" font-weight="bold" text-anchor="end" fill="#fff" >200 µm</text>
<rect x="332.15" y="549.60" width="52.15" height="28.00" fill="#04042a"  />
<rect x="332.1" y="549.6" width="52.2" height="28.0" fill="#000" fill-opacity="0" filter="url(#hBlue2)" opacity="0.8"/>
<path d="M334.6,577.1 C342.6,563.6 347.8,552.6 353.0,552.6 C360.8,555.6 366.0,558.6 376.5,560.6" fill="none" stroke="#9060f0" stroke-width="4" stroke-linecap="round"/>
<path d="M334.6,577.1 C347.8,565.6 360.8,565.6 368.7,568.6" fill="none" stroke="#9060f0" stroke-width="3.2" stroke-linecap="round"/>
<path d="M350.4,562.6 C360.8,562.6 373.9,567.6 384.3,573.6" fill="none" stroke="#9060d0" stroke-width="2" opacity="0.55"/>
<text x="382.30" y="576.10" font-size="2.2" font-weight="bold" text-anchor="end" fill="#fff" >200 µm</text>
<rect x="387.00" y="478.70" width="104.30" height="12.30" fill="#fff" stroke="#888" stroke-width="1" />
<text x="439.15" y="487.95" font-size="8.8" font-weight="bold" text-anchor="middle" fill="#111" >ips-iACS</text>
<rect x="386.50" y="492.00" width="105.30" height="55.50" fill="#04042e"  />
<rect x="386.5" y="492" width="105.3" height="55.5" fill="#000" fill-opacity="0" filter="url(#hBlue)"/>
<rect x="386.5" y="492" width="105.3" height="55.5" fill="#000" fill-opacity="0" filter="url(#hPurp)" opacity="0.7"/>
<path d="M470.7,492 C491.8,507 494.8,532 483.8,547.5" fill="none" stroke="#3838d0" stroke-width="6" opacity="0.35"/>
<path d="M387.6,520.6 C390.1,521.8 398.0,530.3 402.8,527.8 C407.6,525.3 410.9,510.9 416.2,505.4 C421.5,499.9 426.1,493.8 434.9,494.7 C443.7,495.6 461.6,504.8 468.9,510.8 C476.2,516.8 479.5,526.2 478.9,530.5 C478.3,534.8 472.1,537.3 465.4,536.7 C458.7,536.1 443.1,528.6 438.6,527.0 " fill="none" stroke="#40e0b0" stroke-width="3.5" opacity="0.35" filter="url(#hglow)"/>
<path d="M387.6,520.6 C390.1,521.8 398.0,530.3 402.8,527.8 C407.6,525.3 410.9,510.9 416.2,505.4 C421.5,499.9 426.1,493.8 434.9,494.7 C443.7,495.6 461.6,504.8 468.9,510.8 C476.2,516.8 479.5,526.2 478.9,530.5 C478.3,534.8 472.1,537.3 465.4,536.7 C458.7,536.1 443.1,528.6 438.6,527.0 " fill="none" stroke="#40e0b0" stroke-width="1.8" opacity="0.9"/>
<path d="M409.9,545.7 Q428.3,523.9 432.3,521.9 T452.9,522.4" fill="none" stroke="#40e8f0" stroke-width="3" stroke-linecap="round"/>
<path d="M409.9,545.7 Q429.6,529.8 449.3,535.8" fill="none" stroke="#40e8f0" stroke-width="2.6" stroke-linecap="round"/>
<path d="M434.8,530.9 Q442.6,525.9 455.9,531.8" fill="none" stroke="#40e0b0" stroke-width="1.6" opacity="0.6"/>
<rect x="410.30" y="515.80" width="50.60" height="28.60" fill="none" stroke="#c0c0c0" stroke-width="0.7" />
<text x="487.80" y="545.00" font-size="2.2" font-weight="bold" text-anchor="end" fill="#fff" >200 µm</text>
<rect x="386.50" y="549.60" width="51.90" height="28.00" fill="#04042a"  />
<rect x="386.5" y="549.6" width="51.9" height="28.0" fill="#000" fill-opacity="0" filter="url(#hBlue2)" opacity="0.8"/>
<path d="M389.0,577.1 C396.9,563.6 402.1,552.6 407.3,552.6 C415.0,555.6 420.2,558.6 430.6,560.6" fill="none" stroke="#30e0f0" stroke-width="4" stroke-linecap="round"/>
<path d="M389.0,577.1 C402.1,565.6 415.0,565.6 422.8,568.6" fill="none" stroke="#30e0f0" stroke-width="3.2" stroke-linecap="round"/>
<path d="M404.7,562.6 C415.0,562.6 428.0,567.6 438.4,573.6" fill="none" stroke="#40e0b0" stroke-width="2" opacity="0.55"/>
<text x="436.40" y="576.10" font-size="2.2" font-weight="bold" text-anchor="end" fill="#fff" >200 µm</text>
<rect x="439.90" y="549.60" width="51.90" height="28.00" fill="#04042a"  />
<rect x="439.9" y="549.6" width="51.9" height="28.0" fill="#000" fill-opacity="0" filter="url(#hBlue2)" opacity="0.8"/>
<path d="M442.4,577.1 C450.3,563.6 455.5,552.6 460.7,552.6 C468.4,555.6 473.6,558.6 484.0,560.6" fill="none" stroke="#5040f0" stroke-width="4" stroke-linecap="round"/>
<path d="M442.4,577.1 C455.5,565.6 468.4,565.6 476.2,568.6" fill="none" stroke="#5040f0" stroke-width="3.2" stroke-linecap="round"/>
<path d="M458.1,562.6 C468.4,562.6 481.4,567.6 491.8,573.6" fill="none" stroke="#9060d0" stroke-width="2" opacity="0.55"/>
<text x="489.80" y="576.10" font-size="2.2" font-weight="bold" text-anchor="end" fill="#fff" >200 µm</text>
<rect x="494.00" y="478.70" width="103.30" height="12.30" fill="#fff" stroke="#888" stroke-width="1" />
<text x="545.65" y="487.95" font-size="8.8" font-weight="bold" text-anchor="middle" fill="#111" >bi-iACS</text>
<rect x="493.50" y="492.00" width="104.30" height="55.50" fill="#04042e"  />
<rect x="493.5" y="492" width="104.3" height="55.5" fill="#000" fill-opacity="0" filter="url(#hBlue)"/>
<rect x="493.5" y="492" width="104.3" height="55.5" fill="#000" fill-opacity="0" filter="url(#hPurp)" opacity="0.7"/>
<path d="M576.9,492 C597.8,507 600.8,532 589.8,547.5" fill="none" stroke="#3838d0" stroke-width="6" opacity="0.35"/>
<path d="M494.6,520.6 C497.1,521.8 505.0,530.3 509.8,527.8 C514.6,525.3 517.9,510.9 523.2,505.4 C528.6,499.9 533.1,493.8 541.9,494.7 C550.7,495.6 568.6,504.8 575.9,510.8 C583.2,516.8 586.5,526.2 585.9,530.5 C585.3,534.8 579.1,537.3 572.4,536.7 C565.7,536.1 550.1,528.6 545.6,527.0 " fill="none" stroke="#40e0b0" stroke-width="3.5" opacity="0.35" filter="url(#hglow)"/>
<path d="M494.6,520.6 C497.1,521.8 505.0,530.3 509.8,527.8 C514.6,525.3 517.9,510.9 523.2,505.4 C528.6,499.9 533.1,493.8 541.9,494.7 C550.7,495.6 568.6,504.8 575.9,510.8 C583.2,516.8 586.5,526.2 585.9,530.5 C585.3,534.8 579.1,537.3 572.4,536.7 C565.7,536.1 550.1,528.6 545.6,527.0 " fill="none" stroke="#40e0b0" stroke-width="1.8" opacity="0.9"/>
<path d="M516.9,545.7 Q535.3,523.9 539.3,521.9 T559.9,522.4" fill="none" stroke="#40e8f0" stroke-width="3" stroke-linecap="round"/>
<path d="M516.9,545.7 Q536.6,529.8 556.3,535.8" fill="none" stroke="#40e8f0" stroke-width="2.6" stroke-linecap="round"/>
<path d="M541.8,530.9 Q549.6,525.9 562.9,531.8" fill="none" stroke="#40e0b0" stroke-width="1.6" opacity="0.6"/>
<rect x="517.30" y="515.80" width="50.60" height="28.60" fill="none" stroke="#c0c0c0" stroke-width="0.7" />
<text x="593.80" y="545.00" font-size="2.2" font-weight="bold" text-anchor="end" fill="#fff" >200 µm</text>
<rect x="493.50" y="549.60" width="51.40" height="28.00" fill="#04042a"  />
<rect x="493.5" y="549.6" width="51.4" height="28.0" fill="#000" fill-opacity="0" filter="url(#hBlue2)" opacity="0.8"/>
<path d="M496.0,577.1 C503.8,563.6 508.9,552.6 514.1,552.6 C521.8,555.6 526.9,558.6 537.2,560.6" fill="none" stroke="#30e0f0" stroke-width="4" stroke-linecap="round"/>
<path d="M496.0,577.1 C508.9,565.6 521.8,565.6 529.5,568.6" fill="none" stroke="#30e0f0" stroke-width="3.2" stroke-linecap="round"/>
<path d="M511.5,562.6 C521.8,562.6 534.6,567.6 544.9,573.6" fill="none" stroke="#40e0b0" stroke-width="2" opacity="0.55"/>
<text x="542.90" y="576.10" font-size="2.2" font-weight="bold" text-anchor="end" fill="#fff" >200 µm</text>
<rect x="546.40" y="549.60" width="51.40" height="28.00" fill="#04042a"  />
<rect x="546.4" y="549.6" width="51.4" height="28.0" fill="#000" fill-opacity="0" filter="url(#hBlue2)" opacity="0.8"/>
<path d="M548.9,577.1 C556.7,563.6 561.8,552.6 567.0,552.6 C574.7,555.6 579.8,558.6 590.1,560.6" fill="none" stroke="#4040f0" stroke-width="4" stroke-linecap="round"/>
<path d="M548.9,577.1 C561.8,565.6 574.7,565.6 582.4,568.6" fill="none" stroke="#4040f0" stroke-width="3.2" stroke-linecap="round"/>
<path d="M564.4,562.6 C574.7,562.6 587.5,567.6 597.8,573.6" fill="none" stroke="#9060d0" stroke-width="2" opacity="0.55"/>
<text x="595.80" y="576.10" font-size="2.2" font-weight="bold" text-anchor="end" fill="#fff" >200 µm</text>
<rect x="600.50" y="478.70" width="103.90" height="12.30" fill="#fff" stroke="#888" stroke-width="1" />
<text x="652.45" y="487.95" font-size="8.8" font-weight="bold" text-anchor="middle" fill="#111" >con-iACS</text>
<rect x="600.00" y="492.00" width="104.90" height="55.50" fill="#04042e"  />
<rect x="600.0" y="492" width="104.9" height="55.5" fill="#000" fill-opacity="0" filter="url(#hBlue)"/>
<rect x="600.0" y="492" width="104.9" height="55.5" fill="#000" fill-opacity="0" filter="url(#hPurp)" opacity="0.7"/>
<path d="M683.9,492 C704.9,507 707.9,532 696.9,547.5" fill="none" stroke="#3838d0" stroke-width="6" opacity="0.35"/>
<path d="M600.7,539.9 C603.2,539.3 610.6,541.7 615.5,536.2 C620.4,530.7 624.1,513.4 630.2,506.8 C636.3,500.2 641.9,494.7 652.3,496.5 C662.7,498.3 684.4,510.5 692.7,517.8 C701.0,525.0 701.6,535.6 702.0,540.0 C702.4,544.4 699.5,544.5 695.0,544.0 C690.5,543.5 678.3,538.2 675.0,537.0 " fill="none" stroke="#d0f0e8" stroke-width="3.5" opacity="0.35" filter="url(#hglow)"/>
<path d="M600.7,539.9 C603.2,539.3 610.6,541.7 615.5,536.2 C620.4,530.7 624.1,513.4 630.2,506.8 C636.3,500.2 641.9,494.7 652.3,496.5 C662.7,498.3 684.4,510.5 692.7,517.8 C701.0,525.0 701.6,535.6 702.0,540.0 C702.4,544.4 699.5,544.5 695.0,544.0 C690.5,543.5 678.3,538.2 675.0,537.0 " fill="none" stroke="#d0f0e8" stroke-width="1.8" opacity="0.9"/>
<path d="M633.9,539.9 Q648.3,521.7 652.3,519.7 T674.3,525.2" fill="none" stroke="#50d8f0" stroke-width="3" stroke-linecap="round"/>
<path d="M633.9,539.9 Q652.3,530.2 670.7,536.2" fill="none" stroke="#50d8f0" stroke-width="2.6" stroke-linecap="round"/>
<path d="M655.5,530.0 Q663.3,525.0 677.3,532.2" fill="none" stroke="#d0f0e8" stroke-width="1.6" opacity="0.6"/>
<rect x="628.30" y="516.00" width="53.40" height="27.60" fill="none" stroke="#c0c0c0" stroke-width="0.7" />
<text x="700.90" y="545.00" font-size="2.2" font-weight="bold" text-anchor="end" fill="#fff" >200 µm</text>
<rect x="600.00" y="549.60" width="51.70" height="28.00" fill="#04042a"  />
<rect x="600.0" y="549.6" width="51.7" height="28.0" fill="#000" fill-opacity="0" filter="url(#hBlue2)" opacity="0.8"/>
<path d="M602.5,577.1 C610.3,563.6 615.5,552.6 620.7,552.6 C628.4,555.6 633.6,558.6 643.9,560.6" fill="none" stroke="#40c8f0" stroke-width="4" stroke-linecap="round"/>
<path d="M602.5,577.1 C615.5,565.6 628.4,565.6 636.2,568.6" fill="none" stroke="#40c8f0" stroke-width="3.2" stroke-linecap="round"/>
<path d="M618.1,562.6 C628.4,562.6 641.4,567.6 651.7,573.6" fill="none" stroke="#d0f0e8" stroke-width="2" opacity="0.55"/>
<text x="649.70" y="576.10" font-size="2.2" font-weight="bold" text-anchor="end" fill="#fff" >200 µm</text>
<rect x="653.20" y="549.60" width="51.70" height="28.00" fill="#04042a"  />
<rect x="653.2" y="549.6" width="51.7" height="28.0" fill="#000" fill-opacity="0" filter="url(#hBlue2)" opacity="0.8"/>
<path d="M655.7,577.1 C663.5,563.6 668.7,552.6 673.9,552.6 C681.6,555.6 686.8,558.6 697.1,560.6" fill="none" stroke="#8050f0" stroke-width="4" stroke-linecap="round"/>
<path d="M655.7,577.1 C668.7,565.6 681.6,565.6 689.4,568.6" fill="none" stroke="#8050f0" stroke-width="3.2" stroke-linecap="round"/>
<path d="M671.3,562.6 C681.6,562.6 694.6,567.6 704.9,573.6" fill="none" stroke="#9060d0" stroke-width="2" opacity="0.55"/>
<text x="702.90" y="576.10" font-size="2.2" font-weight="bold" text-anchor="end" fill="#fff" >200 µm</text>
<text x="713.90" y="336.30" font-size="12.5" fill="#111">(B)</text>
<line x1="735.30" y1="351.00" x2="735.30" y2="415.70" stroke="#000" stroke-width="1.0" />
<line x1="734.80" y1="415.20" x2="792.50" y2="415.20" stroke="#000" stroke-width="1.0" />
<line x1="733.30" y1="415.20" x2="735.30" y2="415.20" stroke="#000" stroke-width="0.8" />
<text x="732.50" y="416.93" font-size="4.8" font-weight="bold" text-anchor="end" fill="#000" >0</text>
<line x1="733.30" y1="399.30" x2="735.30" y2="399.30" stroke="#000" stroke-width="0.8" />
<text x="732.50" y="401.03" font-size="4.8" font-weight="bold" text-anchor="end" fill="#000" >10</text>
<line x1="733.30" y1="383.40" x2="735.30" y2="383.40" stroke="#000" stroke-width="0.8" />
<text x="732.50" y="385.13" font-size="4.8" font-weight="bold" text-anchor="end" fill="#000" >20</text>
<line x1="733.30" y1="367.50" x2="735.30" y2="367.50" stroke="#000" stroke-width="0.8" />
<text x="732.50" y="369.23" font-size="4.8" font-weight="bold" text-anchor="end" fill="#000" >30</text>
<line x1="733.30" y1="351.60" x2="735.30" y2="351.60" stroke="#000" stroke-width="0.8" />
<text x="732.50" y="353.33" font-size="4.8" font-weight="bold" text-anchor="end" fill="#000" >40</text>
<rect x="739.50" y="359.55" width="9.40" height="55.65" fill="#c8def5" stroke="#000" stroke-width="1.0" />
<line x1="744.20" y1="415.20" x2="744.20" y2="417.70" stroke="#000" stroke-width="0.9" />
<line x1="744.20" y1="354.55" x2="744.20" y2="362.55" stroke="#000" stroke-width="0.9" />
<line x1="742.20" y1="354.55" x2="746.20" y2="354.55" stroke="#000" stroke-width="0.9" />
<circle cx="742.7" cy="362.0" r="1.3" fill="none" stroke="#000" stroke-width="0.6"/>
<path d="M745.2,363.5 l1.5,-2.6 l1.5,2.6 z" fill="#000"/>
<rect x="752.80" y="400.89" width="9.40" height="14.31" fill="#f04040" stroke="#000" stroke-width="1.0" />
<line x1="757.50" y1="415.20" x2="757.50" y2="417.70" stroke="#000" stroke-width="0.9" />
<line x1="757.50" y1="398.89" x2="757.50" y2="402.09" stroke="#000" stroke-width="0.9" />
<line x1="755.50" y1="398.89" x2="759.50" y2="398.89" stroke="#000" stroke-width="0.9" />
<circle cx="756.0" cy="403.4" r="1.3" fill="none" stroke="#000" stroke-width="0.6"/>
<path d="M758.5,404.9 l1.5,-2.6 l1.5,2.6 z" fill="#000"/>
<rect x="769.20" y="395.32" width="9.30" height="19.88" fill="#ffff00" stroke="#000" stroke-width="1.0" />
<line x1="773.85" y1="415.20" x2="773.85" y2="417.70" stroke="#000" stroke-width="0.9" />
<line x1="773.85" y1="392.32" x2="773.85" y2="397.12" stroke="#000" stroke-width="0.9" />
<line x1="771.85" y1="392.32" x2="775.85" y2="392.32" stroke="#000" stroke-width="0.9" />
<circle cx="772.4" cy="397.8" r="1.3" fill="none" stroke="#000" stroke-width="0.6"/>
<path d="M774.9,399.3 l1.5,-2.6 l1.5,2.6 z" fill="#000"/>
<rect x="783.20" y="383.40" width="8.60" height="31.80" fill="#3b3bf0" stroke="#000" stroke-width="1.0" />
<line x1="787.50" y1="415.20" x2="787.50" y2="417.70" stroke="#000" stroke-width="0.9" />
<line x1="787.50" y1="375.40" x2="787.50" y2="388.20" stroke="#000" stroke-width="0.9" />
<line x1="785.50" y1="375.40" x2="789.50" y2="375.40" stroke="#000" stroke-width="0.9" />
<circle cx="786.0" cy="385.9" r="1.3" fill="none" stroke="#000" stroke-width="0.6"/>
<path d="M788.5,387.4 l1.5,-2.6 l1.5,2.6 z" fill="#000"/>
<text x="736.50" y="350.30" font-size="8" font-weight="bold" text-anchor="start" fill="#111" >Cortex</text>
<line x1="744.20" y1="352.20" x2="787.50" y2="352.20" stroke="#000" stroke-width="1" />
<line x1="757.50" y1="352.20" x2="757.50" y2="385.00" stroke="#000" stroke-width="1" />
<line x1="773.80" y1="352.20" x2="773.80" y2="378.00" stroke="#000" stroke-width="1" />
<line x1="787.50" y1="352.20" x2="787.50" y2="362.00" stroke="#000" stroke-width="1" />
<text x="757.50" y="379.00" font-size="10" font-weight="bold" text-anchor="middle" fill="#000" >***</text>
<text x="773.80" y="378.00" font-size="10" font-weight="bold" text-anchor="middle" fill="#000" >***</text>
<text x="787.50" y="364.00" font-size="10" font-weight="bold" text-anchor="middle" fill="#000" >**</text>
<text transform="translate(723.20,383.90) rotate(-90)" font-size="7.3" font-weight="bold" text-anchor="middle" fill="#000"><tspan fill="#f01880">RGS9+</tspan><tspan fill="#2040ff">/DAPI+</tspan><tspan fill="#111">%</tspan></text>
<text transform="translate(746.70,424.70) rotate(-45)" font-size="8.0" font-weight="bold" text-anchor="end" fill="#000">Sham</text>
<text transform="translate(760.00,424.70) rotate(-45)" font-size="8.0" font-weight="bold" text-anchor="end" fill="#000">ips-iACS</text>
<text transform="translate(776.30,424.70) rotate(-45)" font-size="8.0" font-weight="bold" text-anchor="end" fill="#000">bi-iACS</text>
<text transform="translate(790.00,424.70) rotate(-45)" font-size="8.0" font-weight="bold" text-anchor="end" fill="#000">con-iACS</text>
<text x="800.70" y="336.30" font-size="12.5" fill="#111">(C)</text>
<line x1="828.70" y1="351.00" x2="828.70" y2="415.70" stroke="#000" stroke-width="1.0" />
<line x1="828.20" y1="415.20" x2="889.30" y2="415.20" stroke="#000" stroke-width="1.0" />
<line x1="826.70" y1="415.20" x2="828.70" y2="415.20" stroke="#000" stroke-width="0.8" />
<text x="825.90" y="416.78" font-size="4.4" font-weight="bold" text-anchor="end" fill="#000" >0</text>
<line x1="826.70" y1="404.58" x2="828.70" y2="404.58" stroke="#000" stroke-width="0.8" />
<text x="825.90" y="406.16" font-size="4.4" font-weight="bold" text-anchor="end" fill="#000" >20</text>
<line x1="826.70" y1="393.96" x2="828.70" y2="393.96" stroke="#000" stroke-width="0.8" />
<text x="825.90" y="395.54" font-size="4.4" font-weight="bold" text-anchor="end" fill="#000" >40</text>
<line x1="826.70" y1="383.34" x2="828.70" y2="383.34" stroke="#000" stroke-width="0.8" />
<text x="825.90" y="384.92" font-size="4.4" font-weight="bold" text-anchor="end" fill="#000" >60</text>
<line x1="826.70" y1="372.72" x2="828.70" y2="372.72" stroke="#000" stroke-width="0.8" />
<text x="825.90" y="374.30" font-size="4.4" font-weight="bold" text-anchor="end" fill="#000" >80</text>
<line x1="826.70" y1="362.10" x2="828.70" y2="362.10" stroke="#000" stroke-width="0.8" />
<text x="825.90" y="363.68" font-size="4.4" font-weight="bold" text-anchor="end" fill="#000" >100</text>
<line x1="826.70" y1="351.48" x2="828.70" y2="351.48" stroke="#000" stroke-width="0.8" />
<text x="825.90" y="353.06" font-size="4.4" font-weight="bold" text-anchor="end" fill="#000" >120</text>
<rect x="836.80" y="362.10" width="8.20" height="53.10" fill="#c8def5" stroke="#000" stroke-width="1.0" />
<line x1="840.90" y1="415.20" x2="840.90" y2="417.70" stroke="#000" stroke-width="0.9" />
<line x1="840.90" y1="361.10" x2="840.90" y2="362.70" stroke="#000" stroke-width="0.9" />
<line x1="838.90" y1="361.10" x2="842.90" y2="361.10" stroke="#000" stroke-width="0.9" />
<circle cx="839.4" cy="364.6" r="1.3" fill="none" stroke="#000" stroke-width="0.6"/>
<path d="M841.9,366.1 l1.5,-2.6 l1.5,2.6 z" fill="#000"/>
<rect x="850.10" y="409.89" width="9.40" height="5.31" fill="#f04040" stroke="#000" stroke-width="1.0" />
<line x1="854.80" y1="415.20" x2="854.80" y2="417.70" stroke="#000" stroke-width="0.9" />
<line x1="854.80" y1="406.89" x2="854.80" y2="411.69" stroke="#000" stroke-width="0.9" />
<line x1="852.80" y1="406.89" x2="856.80" y2="406.89" stroke="#000" stroke-width="0.9" />
<circle cx="853.3" cy="412.4" r="1.3" fill="none" stroke="#000" stroke-width="0.6"/>
<path d="M855.8,413.9 l1.5,-2.6 l1.5,2.6 z" fill="#000"/>
<rect x="866.00" y="402.46" width="8.90" height="12.74" fill="#ffff00" stroke="#000" stroke-width="1.0" />
<line x1="870.45" y1="415.20" x2="870.45" y2="417.70" stroke="#000" stroke-width="0.9" />
<line x1="870.45" y1="400.46" x2="870.45" y2="403.66" stroke="#000" stroke-width="0.9" />
<line x1="868.45" y1="400.46" x2="872.45" y2="400.46" stroke="#000" stroke-width="0.9" />
<circle cx="869.0" cy="405.0" r="1.3" fill="none" stroke="#000" stroke-width="0.6"/>
<path d="M871.5,406.5 l1.5,-2.6 l1.5,2.6 z" fill="#000"/>
<rect x="879.50" y="387.06" width="8.70" height="28.14" fill="#3b3bf0" stroke="#000" stroke-width="1.0" />
<line x1="883.85" y1="415.20" x2="883.85" y2="417.70" stroke="#000" stroke-width="0.9" />
<line x1="883.85" y1="383.06" x2="883.85" y2="389.46" stroke="#000" stroke-width="0.9" />
<line x1="881.85" y1="383.06" x2="885.85" y2="383.06" stroke="#000" stroke-width="0.9" />
<circle cx="882.4" cy="389.6" r="1.3" fill="none" stroke="#000" stroke-width="0.6"/>
<path d="M884.9,391.1 l1.5,-2.6 l1.5,2.6 z" fill="#000"/>
<text x="832.20" y="350.30" font-size="8" font-weight="bold" text-anchor="start" fill="#111" >Cortex</text>
<line x1="840.90" y1="354.00" x2="883.80" y2="354.00" stroke="#000" stroke-width="1" />
<line x1="854.80" y1="354.00" x2="854.80" y2="400.00" stroke="#000" stroke-width="1" />
<line x1="870.40" y1="354.00" x2="870.40" y2="392.00" stroke="#000" stroke-width="1" />
<line x1="883.80" y1="354.00" x2="883.80" y2="375.00" stroke="#000" stroke-width="1" />
<text x="854.80" y="380.00" font-size="10" font-weight="bold" text-anchor="middle" fill="#000" >***</text>
<text x="870.40" y="380.00" font-size="10" font-weight="bold" text-anchor="middle" fill="#000" >***</text>
<text x="883.80" y="366.00" font-size="10" font-weight="bold" text-anchor="middle" fill="#000" >***</text>
<text transform="translate(807.60,383.00) rotate(-90)" font-size="8.1" font-weight="bold" text-anchor="middle" fill="#000"><tspan fill="#f01880">RGS9-NeuN+</tspan><tspan fill="#111">/</tspan><tspan fill="#20b040">NeuN+</tspan></text>
<text transform="translate(815.50,383.00) rotate(-90)" font-size="7.6" font-weight="bold" text-anchor="middle" fill="#111">(% of sham)</text>
<text transform="translate(843.40,424.70) rotate(-45)" font-size="8.0" font-weight="bold" text-anchor="end" fill="#000">Sham</text>
<text transform="translate(857.30,424.70) rotate(-45)" font-size="8.0" font-weight="bold" text-anchor="end" fill="#000">ips-iACS</text>
<text transform="translate(872.90,424.70) rotate(-45)" font-size="8.0" font-weight="bold" text-anchor="end" fill="#000">bi-iACS</text>
<text transform="translate(886.30,424.70) rotate(-45)" font-size="8.0" font-weight="bold" text-anchor="end" fill="#000">con-iACS</text>
<text x="709.20" y="473.30" font-size="12.5" fill="#111">(E)</text>
<line x1="734.90" y1="482.90" x2="734.90" y2="548.00" stroke="#000" stroke-width="1.0" />
<line x1="734.40" y1="547.50" x2="792.50" y2="547.50" stroke="#000" stroke-width="1.0" />
<line x1="732.90" y1="547.50" x2="734.90" y2="547.50" stroke="#000" stroke-width="0.8" />
<text x="732.10" y="549.23" font-size="4.8" font-weight="bold" text-anchor="end" fill="#000" >0</text>
<line x1="732.90" y1="531.50" x2="734.90" y2="531.50" stroke="#000" stroke-width="0.8" />
<text x="732.10" y="533.23" font-size="4.8" font-weight="bold" text-anchor="end" fill="#000" >10</text>
<line x1="732.90" y1="515.50" x2="734.90" y2="515.50" stroke="#000" stroke-width="0.8" />
<text x="732.10" y="517.23" font-size="4.8" font-weight="bold" text-anchor="end" fill="#000" >20</text>
<line x1="732.90" y1="499.50" x2="734.90" y2="499.50" stroke="#000" stroke-width="0.8" />
<text x="732.10" y="501.23" font-size="4.8" font-weight="bold" text-anchor="end" fill="#000" >30</text>
<line x1="732.90" y1="483.50" x2="734.90" y2="483.50" stroke="#000" stroke-width="0.8" />
<text x="732.10" y="485.23" font-size="4.8" font-weight="bold" text-anchor="end" fill="#000" >40</text>
<rect x="740.00" y="503.50" width="8.90" height="44.00" fill="#c8def5" stroke="#000" stroke-width="1.0" />
<line x1="744.45" y1="547.50" x2="744.45" y2="550.00" stroke="#000" stroke-width="0.9" />
<line x1="744.45" y1="500.50" x2="744.45" y2="505.30" stroke="#000" stroke-width="0.9" />
<line x1="742.45" y1="500.50" x2="746.45" y2="500.50" stroke="#000" stroke-width="0.9" />
<circle cx="743.0" cy="506.0" r="1.3" fill="none" stroke="#000" stroke-width="0.6"/>
<path d="M745.5,507.5 l1.5,-2.6 l1.5,2.6 z" fill="#000"/>
<rect x="754.00" y="520.30" width="8.90" height="27.20" fill="#f04040" stroke="#000" stroke-width="1.0" />
<line x1="758.45" y1="547.50" x2="758.45" y2="550.00" stroke="#000" stroke-width="0.9" />
<line x1="758.45" y1="517.30" x2="758.45" y2="522.10" stroke="#000" stroke-width="0.9" />
<line x1="756.45" y1="517.30" x2="760.45" y2="517.30" stroke="#000" stroke-width="0.9" />
<circle cx="757.0" cy="522.8" r="1.3" fill="none" stroke="#000" stroke-width="0.6"/>
<path d="M759.5,524.3 l1.5,-2.6 l1.5,2.6 z" fill="#000"/>
<rect x="768.50" y="523.50" width="8.80" height="24.00" fill="#ffff00" stroke="#000" stroke-width="1.0" />
<line x1="772.90" y1="547.50" x2="772.90" y2="550.00" stroke="#000" stroke-width="0.9" />
<line x1="772.90" y1="520.50" x2="772.90" y2="525.30" stroke="#000" stroke-width="0.9" />
<line x1="770.90" y1="520.50" x2="774.90" y2="520.50" stroke="#000" stroke-width="0.9" />
<circle cx="771.4" cy="526.0" r="1.3" fill="none" stroke="#000" stroke-width="0.6"/>
<path d="M773.9,527.5 l1.5,-2.6 l1.5,2.6 z" fill="#000"/>
<rect x="783.20" y="513.10" width="8.60" height="34.40" fill="#3b3bf0" stroke="#000" stroke-width="1.0" />
<line x1="787.50" y1="547.50" x2="787.50" y2="550.00" stroke="#000" stroke-width="0.9" />
<line x1="787.50" y1="510.10" x2="787.50" y2="514.90" stroke="#000" stroke-width="0.9" />
<line x1="785.50" y1="510.10" x2="789.50" y2="510.10" stroke="#000" stroke-width="0.9" />
<circle cx="786.0" cy="515.6" r="1.3" fill="none" stroke="#000" stroke-width="0.6"/>
<path d="M788.5,517.1 l1.5,-2.6 l1.5,2.6 z" fill="#000"/>
<text x="735.80" y="481.00" font-size="8" font-weight="bold" text-anchor="start" fill="#111" >Hippocampus</text>
<line x1="744.50" y1="485.50" x2="787.50" y2="485.50" stroke="#000" stroke-width="1" />
<line x1="758.50" y1="485.50" x2="758.50" y2="515.00" stroke="#000" stroke-width="1" />
<line x1="772.90" y1="485.50" x2="772.90" y2="518.00" stroke="#000" stroke-width="1" />
<line x1="787.50" y1="485.50" x2="787.50" y2="506.00" stroke="#000" stroke-width="1" />
<text x="758.50" y="501.00" font-size="10" font-weight="bold" text-anchor="middle" fill="#000" >***</text>
<text x="772.90" y="502.00" font-size="10" font-weight="bold" text-anchor="middle" fill="#000" >***</text>
<text x="787.50" y="493.00" font-size="10" font-weight="bold" text-anchor="middle" fill="#000" >*</text>
<text transform="translate(722.70,514.90) rotate(-90)" font-size="7.3" font-weight="bold" text-anchor="middle" fill="#000"><tspan fill="#f01880">RGS9+</tspan><tspan fill="#2040ff">/DAPI+</tspan><tspan fill="#111">%</tspan></text>
<text transform="translate(747.00,557.00) rotate(-45)" font-size="8.0" font-weight="bold" text-anchor="end" fill="#000">Sham</text>
<text transform="translate(761.00,557.00) rotate(-45)" font-size="8.0" font-weight="bold" text-anchor="end" fill="#000">ips-iACS</text>
<text transform="translate(775.40,557.00) rotate(-45)" font-size="8.0" font-weight="bold" text-anchor="end" fill="#000">bi-iACS</text>
<text transform="translate(790.00,557.00) rotate(-45)" font-size="8.0" font-weight="bold" text-anchor="end" fill="#000">con-iACS</text>
<text x="793.70" y="473.30" font-size="12.5" fill="#111">(F)</text>
<line x1="828.20" y1="482.90" x2="828.20" y2="549.00" stroke="#000" stroke-width="1.0" />
<line x1="827.70" y1="548.50" x2="889.30" y2="548.50" stroke="#000" stroke-width="1.0" />
<line x1="826.20" y1="548.50" x2="828.20" y2="548.50" stroke="#000" stroke-width="0.8" />
<text x="825.40" y="550.08" font-size="4.4" font-weight="bold" text-anchor="end" fill="#000" >0</text>
<line x1="826.20" y1="537.65" x2="828.20" y2="537.65" stroke="#000" stroke-width="0.8" />
<text x="825.40" y="539.23" font-size="4.4" font-weight="bold" text-anchor="end" fill="#000" >20</text>
<line x1="826.20" y1="526.80" x2="828.20" y2="526.80" stroke="#000" stroke-width="0.8" />
<text x="825.40" y="528.38" font-size="4.4" font-weight="bold" text-anchor="end" fill="#000" >40</text>
<line x1="826.20" y1="515.95" x2="828.20" y2="515.95" stroke="#000" stroke-width="0.8" />
<text x="825.40" y="517.53" font-size="4.4" font-weight="bold" text-anchor="end" fill="#000" >60</text>
<line x1="826.20" y1="505.10" x2="828.20" y2="505.10" stroke="#000" stroke-width="0.8" />
<text x="825.40" y="506.68" font-size="4.4" font-weight="bold" text-anchor="end" fill="#000" >80</text>
<line x1="826.20" y1="494.25" x2="828.20" y2="494.25" stroke="#000" stroke-width="0.8" />
<text x="825.40" y="495.83" font-size="4.4" font-weight="bold" text-anchor="end" fill="#000" >100</text>
<line x1="826.20" y1="483.40" x2="828.20" y2="483.40" stroke="#000" stroke-width="0.8" />
<text x="825.40" y="484.98" font-size="4.4" font-weight="bold" text-anchor="end" fill="#000" >120</text>
<rect x="836.80" y="494.25" width="8.20" height="54.25" fill="#c8def5" stroke="#000" stroke-width="1.0" />
<line x1="840.90" y1="548.50" x2="840.90" y2="551.00" stroke="#000" stroke-width="0.9" />
<line x1="840.90" y1="493.25" x2="840.90" y2="494.85" stroke="#000" stroke-width="0.9" />
<line x1="838.90" y1="493.25" x2="842.90" y2="493.25" stroke="#000" stroke-width="0.9" />
<circle cx="839.4" cy="496.8" r="1.3" fill="none" stroke="#000" stroke-width="0.6"/>
<path d="M841.9,498.2 l1.5,-2.6 l1.5,2.6 z" fill="#000"/>
<rect x="849.70" y="523.00" width="8.60" height="25.50" fill="#f04040" stroke="#000" stroke-width="1.0" />
<line x1="854.00" y1="548.50" x2="854.00" y2="551.00" stroke="#000" stroke-width="0.9" />
<line x1="854.00" y1="520.00" x2="854.00" y2="524.80" stroke="#000" stroke-width="0.9" />
<line x1="852.00" y1="520.00" x2="856.00" y2="520.00" stroke="#000" stroke-width="0.9" />
<circle cx="852.5" cy="525.5" r="1.3" fill="none" stroke="#000" stroke-width="0.6"/>
<path d="M855.0,527.0 l1.5,-2.6 l1.5,2.6 z" fill="#000"/>
<rect x="863.70" y="525.72" width="8.10" height="22.78" fill="#ffff00" stroke="#000" stroke-width="1.0" />
<line x1="867.75" y1="548.50" x2="867.75" y2="551.00" stroke="#000" stroke-width="0.9" />
<line x1="867.75" y1="521.72" x2="867.75" y2="528.12" stroke="#000" stroke-width="0.9" />
<line x1="865.75" y1="521.72" x2="869.75" y2="521.72" stroke="#000" stroke-width="0.9" />
<circle cx="866.2" cy="528.2" r="1.3" fill="none" stroke="#000" stroke-width="0.6"/>
<path d="M868.8,529.7 l1.5,-2.6 l1.5,2.6 z" fill="#000"/>
<rect x="877.20" y="509.44" width="8.60" height="39.06" fill="#3b3bf0" stroke="#000" stroke-width="1.0" />
<line x1="881.50" y1="548.50" x2="881.50" y2="551.00" stroke="#000" stroke-width="0.9" />
<line x1="881.50" y1="506.44" x2="881.50" y2="511.24" stroke="#000" stroke-width="0.9" />
<line x1="879.50" y1="506.44" x2="883.50" y2="506.44" stroke="#000" stroke-width="0.9" />
<circle cx="880.0" cy="511.9" r="1.3" fill="none" stroke="#000" stroke-width="0.6"/>
<path d="M882.5,513.4 l1.5,-2.6 l1.5,2.6 z" fill="#000"/>
<text x="831.00" y="479.00" font-size="8" font-weight="bold" text-anchor="start" fill="#111" >Hippocampus</text>
<line x1="840.90" y1="485.50" x2="881.50" y2="485.50" stroke="#000" stroke-width="1" />
<line x1="854.00" y1="485.50" x2="854.00" y2="518.00" stroke="#000" stroke-width="1" />
<line x1="867.80" y1="485.50" x2="867.80" y2="520.00" stroke="#000" stroke-width="1" />
<line x1="881.50" y1="485.50" x2="881.50" y2="505.00" stroke="#000" stroke-width="1" />
<text x="854.00" y="501.50" font-size="10" font-weight="bold" text-anchor="middle" fill="#000" >***</text>
<text x="867.80" y="502.50" font-size="10" font-weight="bold" text-anchor="middle" fill="#000" >***</text>
<text x="881.50" y="493.00" font-size="10" font-weight="bold" text-anchor="middle" fill="#000" >***</text>
<text transform="translate(806.70,513.00) rotate(-90)" font-size="8.1" font-weight="bold" text-anchor="middle" fill="#000"><tspan fill="#f01880">RGS9-NeuN+</tspan><tspan fill="#111">/</tspan><tspan fill="#20b040">NeuN+</tspan></text>
<text transform="translate(815.50,515.30) rotate(-90)" font-size="7.6" font-weight="bold" text-anchor="middle" fill="#111">(% of sham)</text>
<text transform="translate(843.40,558.00) rotate(-45)" font-size="8.0" font-weight="bold" text-anchor="end" fill="#000">Sham</text>
<text transform="translate(856.50,558.00) rotate(-45)" font-size="8.0" font-weight="bold" text-anchor="end" fill="#000">ips-iACS</text>
<text transform="translate(870.30,558.00) rotate(-45)" font-size="8.0" font-weight="bold" text-anchor="end" fill="#000">bi-iACS</text>
<text transform="translate(884.00,558.00) rotate(-45)" font-size="8.0" font-weight="bold" text-anchor="end" fill="#000">con-iACS</text>
</svg></body></html>
